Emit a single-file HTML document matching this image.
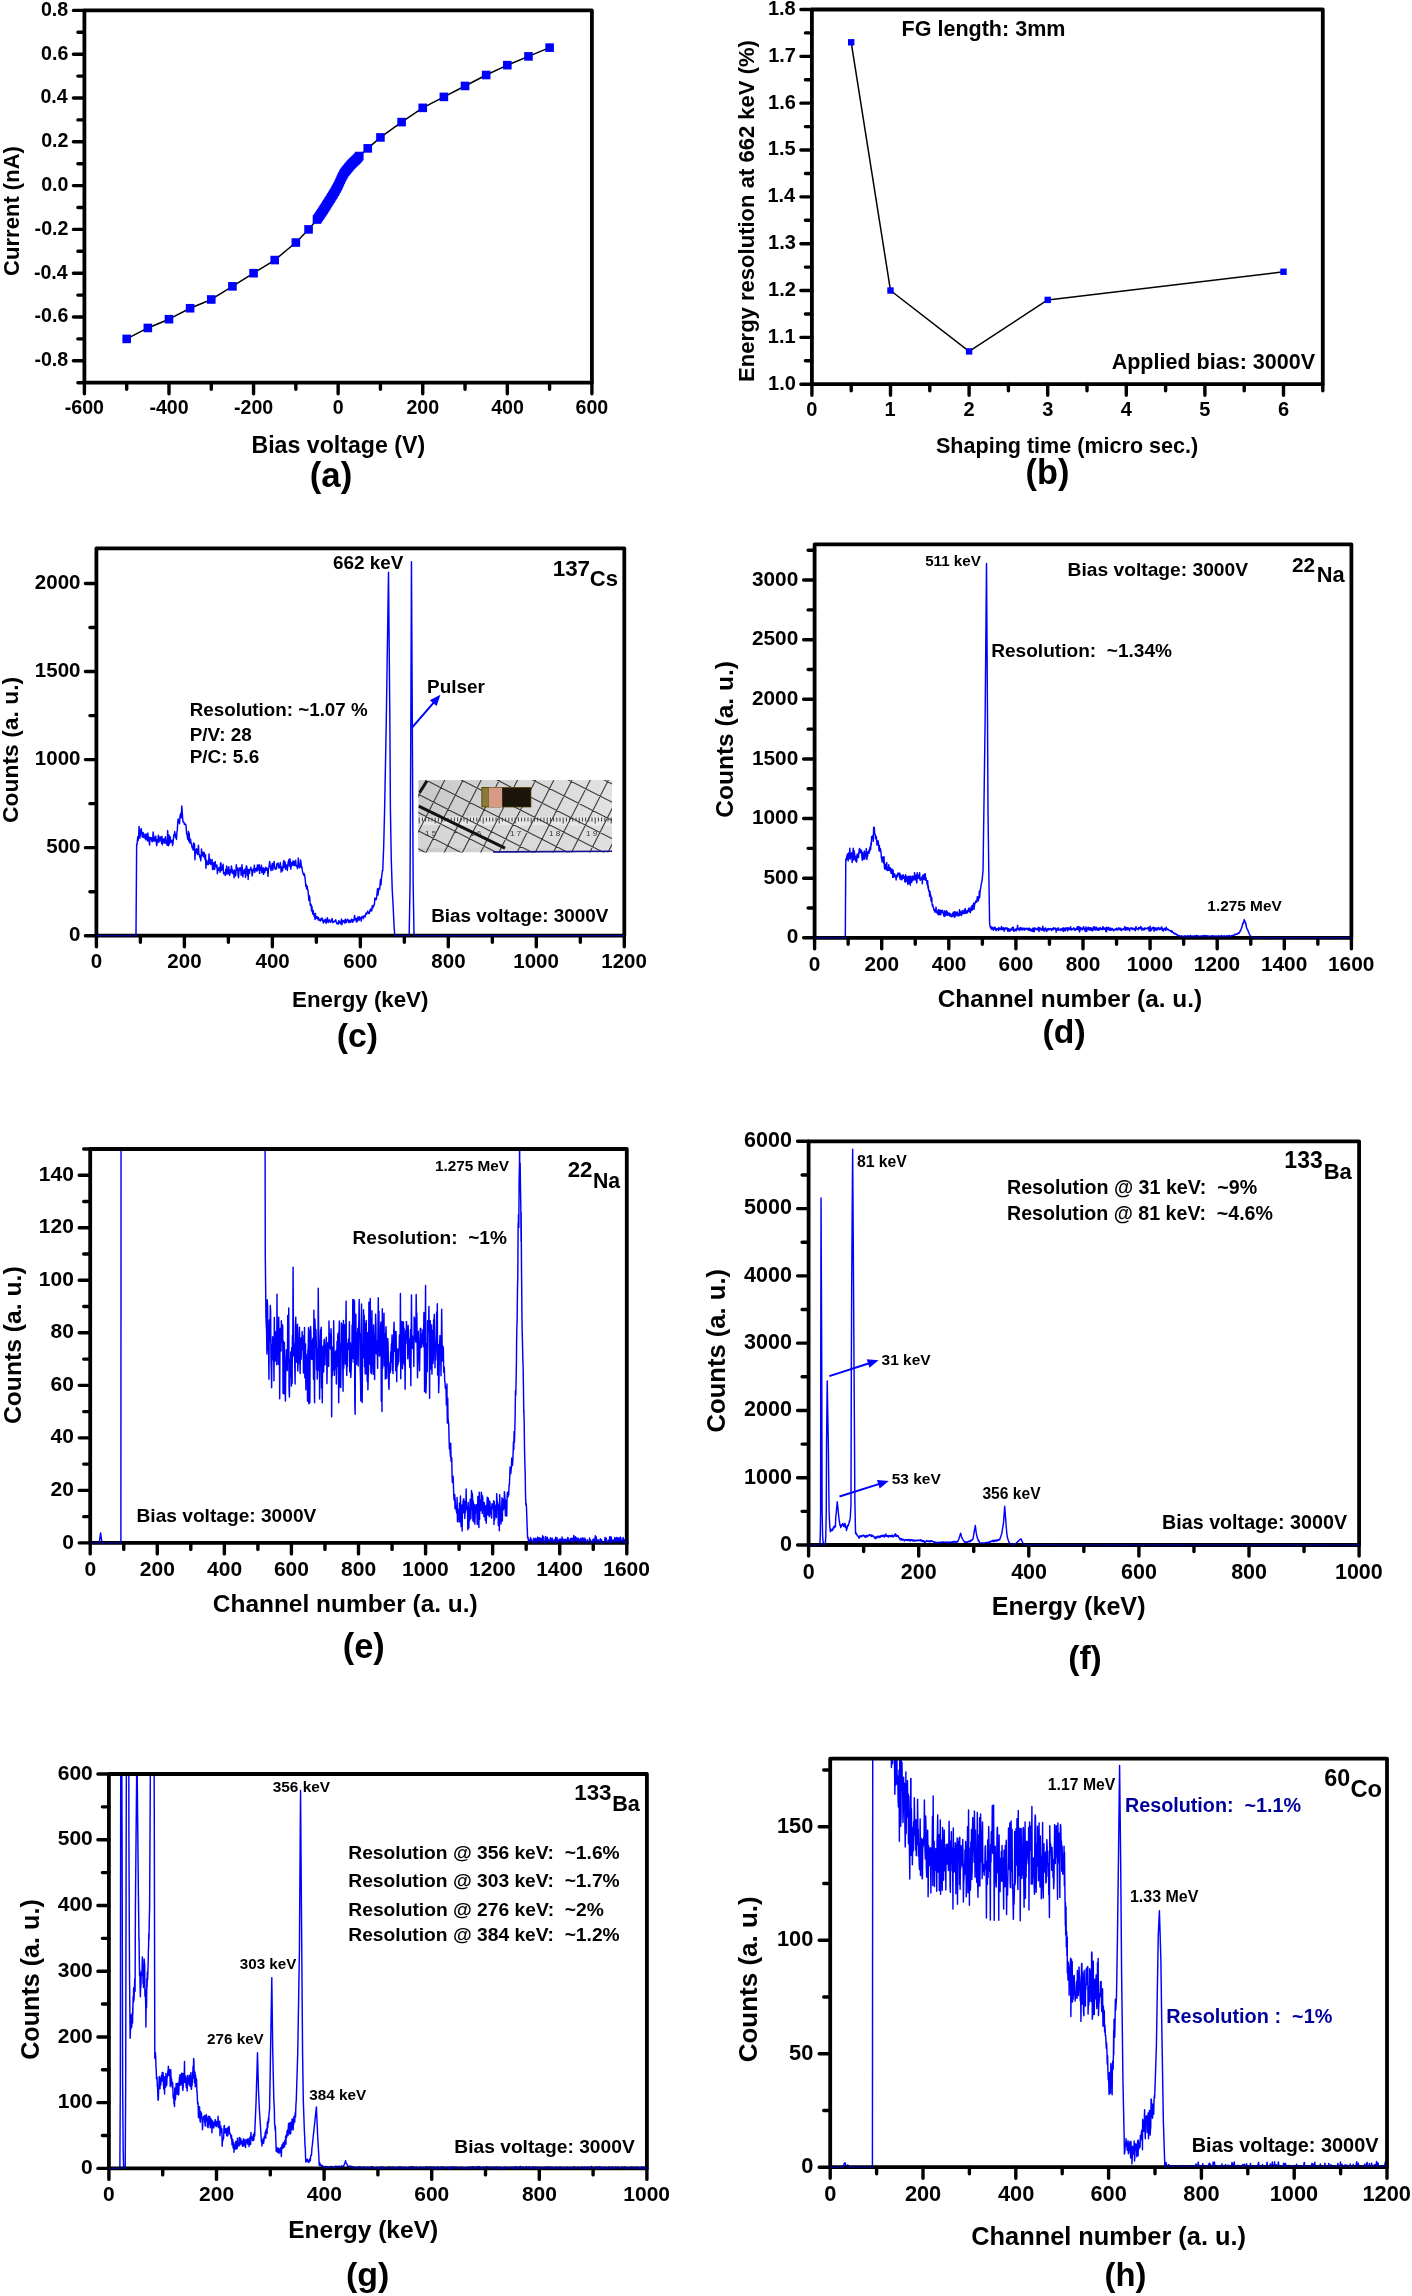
<!DOCTYPE html>
<html><head><meta charset="utf-8"><style>
html,body{margin:0;padding:0;background:#fff;}
body{width:1412px;height:2296px;overflow:hidden;}
svg{display:block;will-change:transform;}
</style></head><body>
<svg width="1412" height="2296" viewBox="0 0 1412 2296" font-family="'Liberation Sans', sans-serif" font-weight="bold">
<rect width="1412" height="2296" fill="#fff"/>
<path d="M84.40,382.70V393.70 M168.98,382.70V393.70 M253.57,382.70V393.70 M338.15,382.70V393.70 M422.73,382.70V393.70 M507.32,382.70V393.70 M591.90,382.70V393.70 M126.69,382.70V389.20 M211.28,382.70V389.20 M295.86,382.70V389.20 M380.44,382.70V389.20 M465.02,382.70V389.20 M549.61,382.70V389.20 M84.40,360.80H73.40 M84.40,317.00H73.40 M84.40,273.20H73.40 M84.40,229.40H73.40 M84.40,185.60H73.40 M84.40,141.80H73.40 M84.40,98.00H73.40 M84.40,54.20H73.40 M84.40,10.40H73.40 M84.40,382.70H77.90 M84.40,338.90H77.90 M84.40,295.10H77.90 M84.40,251.30H77.90 M84.40,207.50H77.90 M84.40,163.70H77.90 M84.40,119.90H77.90 M84.40,76.10H77.90 M84.40,32.30H77.90" stroke="#000" stroke-width="3.4" stroke-linecap="round" fill="none"/>
<rect x="84.40" y="10.40" width="507.50" height="372.30" stroke="#000" stroke-width="3.8" stroke-linejoin="round" fill="none"/>
<text x="64.80" y="414.40" font-size="19.60" fill="#000" xml:space="preserve">-600</text>
<text x="149.39" y="414.40" font-size="19.60" fill="#000" xml:space="preserve">-400</text>
<text x="233.97" y="414.40" font-size="19.60" fill="#000" xml:space="preserve">-200</text>
<text x="332.71" y="414.40" font-size="19.60" fill="#000" xml:space="preserve">0</text>
<text x="406.44" y="414.40" font-size="19.60" fill="#000" xml:space="preserve">200</text>
<text x="491.22" y="414.40" font-size="19.60" fill="#000" xml:space="preserve">400</text>
<text x="575.59" y="414.40" font-size="19.60" fill="#000" xml:space="preserve">600</text>
<text x="34.43" y="366.20" font-size="19.60" fill="#000" xml:space="preserve">-0.8</text>
<text x="34.53" y="322.40" font-size="19.60" fill="#000" xml:space="preserve">-0.6</text>
<text x="33.93" y="278.60" font-size="19.60" fill="#000" xml:space="preserve">-0.4</text>
<text x="34.61" y="234.80" font-size="19.60" fill="#000" xml:space="preserve">-0.2</text>
<text x="41.16" y="191.00" font-size="19.60" fill="#000" xml:space="preserve">0.0</text>
<text x="41.14" y="147.20" font-size="19.60" fill="#000" xml:space="preserve">0.2</text>
<text x="40.46" y="103.40" font-size="19.60" fill="#000" xml:space="preserve">0.4</text>
<text x="41.06" y="59.60" font-size="19.60" fill="#000" xml:space="preserve">0.6</text>
<text x="40.96" y="15.80" font-size="19.60" fill="#000" xml:space="preserve">0.8</text>
<text x="251.45" y="453.30" font-size="23.17" fill="#000" xml:space="preserve">Bias voltage (V)</text>
<text transform="translate(19.20,275.90) rotate(-90)" x="0" y="0" font-size="22.06" fill="#000" xml:space="preserve">Current (nA)</text>
<text x="309.77" y="487.00" font-size="34.74" fill="#000" xml:space="preserve">(a)</text>
<path d="M126.69,338.90 L147.84,327.95 L168.98,319.19 L190.13,308.24 L211.28,299.48 L232.42,286.34 L253.57,273.20 L274.71,260.06 L295.86,242.54 L308.55,229.40 L317.00,219.55 L317.85,218.29 L318.70,217.03 L319.54,215.78 L320.39,214.52 L321.23,213.27 L322.08,212.01 L322.93,210.76 L323.77,209.46 L324.62,208.11 L325.46,206.76 L326.31,205.42 L327.15,204.07 L328.00,202.73 L328.85,201.38 L329.69,200.03 L330.54,198.68 L331.38,197.33 L332.23,195.97 L333.08,194.62 L333.92,193.26 L334.77,191.73 L335.61,190.20 L336.46,188.67 L337.30,187.13 L338.15,185.60 L339.00,183.68 L339.84,181.77 L340.69,179.85 L341.53,177.94 L342.38,176.37 L343.23,174.81 L344.07,173.24 L344.92,171.95 L345.76,170.93 L346.61,169.91 L347.45,168.88 L348.30,167.86 L349.15,166.84 L349.99,165.82 L350.84,164.79 L351.68,163.97 L352.53,163.15 L353.38,162.33 L354.22,161.51 L355.07,160.69 L355.91,159.87 L356.76,159.05 L357.60,158.23 L358.45,157.13 L359.30,156.03 L367.75,148.37 L380.44,137.42 L401.59,122.09 L422.73,107.86 L443.88,96.90 L465.02,85.96 L486.17,75.00 L507.32,65.15 L528.46,56.39 L549.61,47.63" stroke="#000" stroke-width="1.5" fill="none" stroke-linejoin="round" />
<g fill="#0000ff"><rect x="122.39" y="334.60" width="8.6" height="8.6"/><rect x="143.54" y="323.65" width="8.6" height="8.6"/><rect x="164.68" y="314.89" width="8.6" height="8.6"/><rect x="185.83" y="303.94" width="8.6" height="8.6"/><rect x="206.97" y="295.18" width="8.6" height="8.6"/><rect x="228.12" y="282.04" width="8.6" height="8.6"/><rect x="249.27" y="268.90" width="8.6" height="8.6"/><rect x="270.41" y="255.76" width="8.6" height="8.6"/><rect x="291.56" y="238.24" width="8.6" height="8.6"/><rect x="304.25" y="225.10" width="8.6" height="8.6"/><rect x="312.70" y="215.25" width="8.6" height="8.6"/><rect x="313.55" y="213.99" width="8.6" height="8.6"/><rect x="314.40" y="212.73" width="8.6" height="8.6"/><rect x="315.24" y="211.48" width="8.6" height="8.6"/><rect x="316.09" y="210.22" width="8.6" height="8.6"/><rect x="316.93" y="208.97" width="8.6" height="8.6"/><rect x="317.78" y="207.71" width="8.6" height="8.6"/><rect x="318.62" y="206.46" width="8.6" height="8.6"/><rect x="319.47" y="205.16" width="8.6" height="8.6"/><rect x="320.32" y="203.81" width="8.6" height="8.6"/><rect x="321.16" y="202.46" width="8.6" height="8.6"/><rect x="322.01" y="201.12" width="8.6" height="8.6"/><rect x="322.85" y="199.77" width="8.6" height="8.6"/><rect x="323.70" y="198.43" width="8.6" height="8.6"/><rect x="324.55" y="197.08" width="8.6" height="8.6"/><rect x="325.39" y="195.73" width="8.6" height="8.6"/><rect x="326.24" y="194.38" width="8.6" height="8.6"/><rect x="327.08" y="193.03" width="8.6" height="8.6"/><rect x="327.93" y="191.67" width="8.6" height="8.6"/><rect x="328.78" y="190.32" width="8.6" height="8.6"/><rect x="329.62" y="188.96" width="8.6" height="8.6"/><rect x="330.47" y="187.43" width="8.6" height="8.6"/><rect x="331.31" y="185.90" width="8.6" height="8.6"/><rect x="332.16" y="184.37" width="8.6" height="8.6"/><rect x="333.00" y="182.83" width="8.6" height="8.6"/><rect x="333.85" y="181.30" width="8.6" height="8.6"/><rect x="334.70" y="179.38" width="8.6" height="8.6"/><rect x="335.54" y="177.47" width="8.6" height="8.6"/><rect x="336.39" y="175.55" width="8.6" height="8.6"/><rect x="337.23" y="173.63" width="8.6" height="8.6"/><rect x="338.08" y="172.07" width="8.6" height="8.6"/><rect x="338.93" y="170.51" width="8.6" height="8.6"/><rect x="339.77" y="168.94" width="8.6" height="8.6"/><rect x="340.62" y="167.65" width="8.6" height="8.6"/><rect x="341.46" y="166.63" width="8.6" height="8.6"/><rect x="342.31" y="165.60" width="8.6" height="8.6"/><rect x="343.15" y="164.58" width="8.6" height="8.6"/><rect x="344.00" y="163.56" width="8.6" height="8.6"/><rect x="344.85" y="162.54" width="8.6" height="8.6"/><rect x="345.69" y="161.52" width="8.6" height="8.6"/><rect x="346.54" y="160.49" width="8.6" height="8.6"/><rect x="347.38" y="159.67" width="8.6" height="8.6"/><rect x="348.23" y="158.85" width="8.6" height="8.6"/><rect x="349.07" y="158.03" width="8.6" height="8.6"/><rect x="349.92" y="157.21" width="8.6" height="8.6"/><rect x="350.77" y="156.39" width="8.6" height="8.6"/><rect x="351.61" y="155.57" width="8.6" height="8.6"/><rect x="352.46" y="154.75" width="8.6" height="8.6"/><rect x="353.30" y="153.93" width="8.6" height="8.6"/><rect x="354.15" y="152.83" width="8.6" height="8.6"/><rect x="355.00" y="151.73" width="8.6" height="8.6"/><rect x="363.45" y="144.07" width="8.6" height="8.6"/><rect x="376.14" y="133.12" width="8.6" height="8.6"/><rect x="397.29" y="117.79" width="8.6" height="8.6"/><rect x="418.43" y="103.56" width="8.6" height="8.6"/><rect x="439.58" y="92.60" width="8.6" height="8.6"/><rect x="460.72" y="81.66" width="8.6" height="8.6"/><rect x="481.87" y="70.70" width="8.6" height="8.6"/><rect x="503.02" y="60.85" width="8.6" height="8.6"/><rect x="524.16" y="52.09" width="8.6" height="8.6"/><rect x="545.31" y="43.33" width="8.6" height="8.6"/></g>
<path d="M811.90,384.20V395.20 M890.50,384.20V395.20 M969.10,384.20V395.20 M1047.70,384.20V395.20 M1126.30,384.20V395.20 M1204.90,384.20V395.20 M1283.50,384.20V395.20 M851.20,384.20V390.70 M929.80,384.20V390.70 M1008.40,384.20V390.70 M1087.00,384.20V390.70 M1165.60,384.20V390.70 M1244.20,384.20V390.70 M1322.80,384.20V390.70 M811.90,384.20H800.90 M811.90,337.36H800.90 M811.90,290.53H800.90 M811.90,243.69H800.90 M811.90,196.85H800.90 M811.90,150.01H800.90 M811.90,103.17H800.90 M811.90,56.34H800.90 M811.90,9.50H800.90 M811.90,360.78H805.40 M811.90,313.94H805.40 M811.90,267.11H805.40 M811.90,220.27H805.40 M811.90,173.43H805.40 M811.90,126.59H805.40 M811.90,79.76H805.40 M811.90,32.92H805.40" stroke="#000" stroke-width="3.4" stroke-linecap="round" fill="none"/>
<rect x="811.90" y="9.50" width="510.90" height="374.70" stroke="#000" stroke-width="3.8" stroke-linejoin="round" fill="none"/>
<text x="806.35" y="415.80" font-size="20.00" fill="#000" xml:space="preserve">0</text>
<text x="884.59" y="415.80" font-size="20.00" fill="#000" xml:space="preserve">1</text>
<text x="963.59" y="415.80" font-size="20.00" fill="#000" xml:space="preserve">2</text>
<text x="1042.27" y="415.80" font-size="20.00" fill="#000" xml:space="preserve">3</text>
<text x="1120.64" y="415.80" font-size="20.00" fill="#000" xml:space="preserve">4</text>
<text x="1199.31" y="415.80" font-size="20.00" fill="#000" xml:space="preserve">5</text>
<text x="1277.93" y="415.80" font-size="20.00" fill="#000" xml:space="preserve">6</text>
<text x="768.12" y="389.60" font-size="20.00" fill="#000" xml:space="preserve">1.0</text>
<text x="767.85" y="342.76" font-size="20.00" fill="#000" xml:space="preserve">1.1</text>
<text x="768.10" y="295.93" font-size="20.00" fill="#000" xml:space="preserve">1.2</text>
<text x="768.02" y="249.09" font-size="20.00" fill="#000" xml:space="preserve">1.3</text>
<text x="767.40" y="202.25" font-size="20.00" fill="#000" xml:space="preserve">1.4</text>
<text x="767.85" y="155.41" font-size="20.00" fill="#000" xml:space="preserve">1.5</text>
<text x="768.02" y="108.57" font-size="20.00" fill="#000" xml:space="preserve">1.6</text>
<text x="768.18" y="61.74" font-size="20.00" fill="#000" xml:space="preserve">1.7</text>
<text x="767.91" y="14.90" font-size="20.00" fill="#000" xml:space="preserve">1.8</text>
<text x="935.98" y="452.90" font-size="21.55" fill="#000" xml:space="preserve">Shaping time (micro sec.)</text>
<text transform="translate(753.50,381.88) rotate(-90)" x="0" y="0" font-size="22.06" fill="#000" xml:space="preserve">Energy resolution at 662 keV (%)</text>
<text x="1025.59" y="484.10" font-size="34.32" fill="#000" xml:space="preserve">(b)</text>
<text x="901.56" y="35.90" font-size="21.54" fill="#000" xml:space="preserve">FG length: 3mm</text>
<text x="1111.66" y="368.80" font-size="21.54" fill="#000" xml:space="preserve">Applied bias: 3000V</text>
<path d="M851.20,42.29 L890.50,290.53 L969.10,351.41 L1047.70,299.89 L1283.50,271.79" stroke="#000" stroke-width="1.5" fill="none" stroke-linejoin="round" />
<g fill="#0000ff"><rect x="848.00" y="39.09" width="6.4" height="6.4"/><rect x="887.30" y="287.33" width="6.4" height="6.4"/><rect x="965.90" y="348.21" width="6.4" height="6.4"/><rect x="1044.50" y="296.69" width="6.4" height="6.4"/><rect x="1280.30" y="268.59" width="6.4" height="6.4"/></g>
<path d="M96.40,935.70 L96.84,935.70 L97.28,935.70 L97.72,935.70 L98.16,935.70 L98.60,935.70 L99.04,935.70 L99.48,935.70 L99.92,935.70 L100.36,935.70 L100.80,935.70 L101.24,935.70 L101.68,935.70 L102.12,935.70 L102.56,935.70 L103.00,935.70 L103.44,935.70 L103.88,935.70 L104.32,935.70 L104.76,935.70 L105.20,935.70 L105.64,935.70 L106.08,935.70 L106.52,935.70 L106.96,935.70 L107.40,935.70 L107.84,935.70 L108.28,935.70 L108.72,935.70 L109.16,935.70 L109.60,935.70 L110.04,935.70 L110.48,935.70 L110.92,935.70 L111.36,935.70 L111.80,935.70 L112.24,935.70 L112.68,935.70 L113.12,935.70 L113.56,935.70 L114.00,935.70 L114.44,935.70 L114.88,935.70 L115.32,935.70 L115.76,935.70 L116.20,935.70 L116.64,935.70 L117.08,935.70 L117.52,935.70 L117.96,935.70 L118.40,935.70 L118.84,935.70 L119.28,935.70 L119.72,935.70 L120.16,935.70 L120.60,935.70 L121.04,935.70 L121.48,935.70 L121.92,935.70 L122.36,935.70 L122.80,935.70 L123.23,935.70 L123.67,935.70 L124.11,935.70 L124.55,935.70 L124.99,935.70 L125.43,935.70 L125.87,935.70 L126.31,935.70 L126.75,935.70 L127.19,935.70 L127.63,935.70 L128.07,935.70 L128.51,935.70 L128.95,935.70 L129.39,935.70 L129.83,935.70 L130.27,935.70 L130.71,935.70 L131.15,935.70 L131.59,935.70 L132.03,935.70 L132.47,935.70 L132.91,935.70 L133.35,935.70 L133.79,935.70 L134.23,935.70 L134.67,935.70 L135.11,935.70 L135.33,935.70 L135.55,935.70 L135.99,935.70 L136.43,874.66 L136.65,844.13 L136.87,845.24 L137.31,841.60 L137.75,836.72 L138.19,840.49 L138.63,836.46 L139.07,826.48 L139.51,830.68 L139.95,838.29 L140.39,832.99 L140.83,830.88 L141.27,828.68 L141.71,833.18 L142.15,836.12 L142.59,837.22 L143.03,832.38 L143.47,834.02 L143.91,837.53 L144.35,836.67 L144.79,837.90 L145.23,833.99 L145.67,839.68 L146.11,835.44 L146.55,834.25 L146.99,835.80 L147.43,840.91 L147.87,832.95 L148.31,840.68 L148.75,836.73 L149.19,841.30 L149.63,845.05 L150.07,837.78 L150.51,837.61 L150.95,839.03 L151.39,837.78 L151.83,841.28 L152.27,841.67 L152.71,839.62 L153.15,831.96 L153.59,836.09 L154.03,841.11 L154.47,837.16 L154.91,841.07 L155.35,841.06 L155.79,836.24 L156.23,841.43 L156.67,845.75 L157.11,842.96 L157.55,839.34 L157.99,839.26 L158.43,835.18 L158.87,842.47 L159.31,837.16 L159.75,838.33 L160.19,840.50 L160.63,836.91 L161.07,838.22 L161.51,843.27 L161.95,836.17 L162.39,844.68 L162.83,839.99 L163.27,840.25 L163.71,838.74 L164.15,843.02 L164.59,840.52 L165.03,840.95 L165.47,836.80 L165.91,843.46 L166.35,840.30 L166.79,841.57 L167.23,845.32 L167.67,830.60 L168.11,840.65 L168.55,845.80 L168.99,835.05 L169.43,844.12 L169.87,838.73 L170.31,836.84 L170.75,842.35 L171.19,841.47 L171.63,841.80 L172.07,840.21 L172.51,845.45 L172.95,843.73 L173.39,839.37 L173.83,834.69 L174.27,835.91 L174.71,831.51 L175.15,834.19 L175.59,837.55 L176.02,834.91 L176.46,839.41 L176.90,832.48 L177.34,829.90 L177.78,821.92 L178.22,818.98 L178.66,822.46 L179.10,821.18 L179.54,823.72 L179.98,816.49 L180.42,814.49 L180.86,813.23 L181.30,817.89 L181.74,805.92 L182.18,811.02 L182.62,818.11 L183.06,821.63 L183.50,822.54 L183.94,822.18 L184.38,824.40 L184.82,823.95 L185.26,824.38 L185.70,824.06 L186.14,826.94 L186.58,833.77 L187.02,833.86 L187.46,837.81 L187.90,839.58 L188.34,831.29 L188.78,841.14 L189.22,833.13 L189.66,842.77 L190.10,841.36 L190.54,839.12 L190.98,843.78 L191.42,843.24 L191.86,846.32 L192.30,847.94 L192.74,847.63 L193.18,850.13 L193.62,842.87 L194.06,850.00 L194.50,843.92 L194.94,859.83 L195.38,850.94 L195.82,849.58 L196.26,853.07 L196.70,848.82 L197.14,850.92 L197.58,854.58 L198.02,852.69 L198.46,845.14 L198.90,854.20 L199.34,854.39 L199.78,857.24 L200.22,855.66 L200.66,860.79 L201.10,857.48 L201.54,848.94 L201.98,853.95 L202.42,855.73 L202.86,854.55 L203.30,852.33 L203.74,856.96 L204.18,852.44 L204.62,856.10 L205.06,859.43 L205.50,854.63 L205.94,868.29 L206.38,862.73 L206.82,860.29 L207.26,864.42 L207.70,862.25 L208.14,864.11 L208.58,864.45 L209.02,853.87 L209.46,860.89 L209.90,863.38 L210.34,859.28 L210.78,864.56 L211.22,861.26 L211.66,863.26 L212.10,859.50 L212.54,869.48 L212.98,862.84 L213.42,865.15 L213.86,869.47 L214.30,862.73 L214.74,869.11 L215.18,861.56 L215.62,865.31 L216.06,865.02 L216.50,867.21 L216.94,864.92 L217.38,873.81 L217.82,868.06 L218.26,870.51 L218.70,867.97 L219.14,869.26 L219.58,867.49 L220.02,872.24 L220.46,864.09 L220.90,862.70 L221.34,870.50 L221.78,869.97 L222.22,869.11 L222.66,866.19 L223.10,864.32 L223.54,873.87 L223.98,872.13 L224.42,873.56 L224.86,873.78 L225.30,875.45 L225.74,869.40 L226.18,874.11 L226.62,866.06 L227.06,867.94 L227.50,873.90 L227.94,873.97 L228.38,872.76 L228.81,866.63 L229.25,873.47 L229.69,875.42 L230.13,871.02 L230.57,869.72 L231.01,872.85 L231.45,865.92 L231.89,870.10 L232.33,869.45 L232.77,873.42 L233.21,870.93 L233.65,871.28 L234.09,877.71 L234.53,869.91 L234.97,876.24 L235.41,870.86 L235.85,875.25 L236.29,864.61 L236.73,869.75 L237.17,868.12 L237.61,867.93 L238.05,874.75 L238.49,877.66 L238.93,871.71 L239.37,867.97 L239.81,870.41 L240.25,868.29 L240.69,867.82 L241.13,875.21 L241.57,869.78 L242.01,864.66 L242.45,872.38 L242.89,876.82 L243.33,871.33 L243.77,872.03 L244.21,869.34 L244.65,873.32 L245.09,870.32 L245.53,877.34 L245.97,867.98 L246.41,865.73 L246.85,866.61 L247.29,875.17 L247.73,869.57 L248.17,879.59 L248.61,869.57 L249.05,870.58 L249.49,873.37 L249.93,869.22 L250.37,869.79 L250.81,867.29 L251.25,869.72 L251.69,869.33 L252.13,875.95 L252.57,873.49 L253.01,871.34 L253.45,868.92 L253.89,869.80 L254.33,865.12 L254.77,872.34 L255.21,870.35 L255.65,868.77 L256.09,870.21 L256.53,867.92 L256.97,871.15 L257.41,864.97 L257.85,870.26 L258.29,865.79 L258.73,869.26 L259.17,864.52 L259.61,873.37 L260.05,867.41 L260.49,870.29 L260.93,868.18 L261.37,865.16 L261.81,872.30 L262.25,872.82 L262.69,871.76 L263.13,867.83 L263.57,874.40 L264.01,868.21 L264.45,872.44 L264.89,871.94 L265.33,869.49 L265.77,867.11 L266.21,870.18 L266.65,869.71 L267.09,868.26 L267.53,868.92 L267.97,876.33 L268.41,869.30 L268.85,867.64 L269.29,864.43 L269.73,861.42 L270.17,865.65 L270.61,867.42 L271.05,870.61 L271.49,867.27 L271.93,865.05 L272.37,863.48 L272.81,870.11 L273.25,866.56 L273.69,864.69 L274.13,861.36 L274.57,866.32 L275.01,868.76 L275.45,869.16 L275.89,868.06 L276.33,868.92 L276.77,864.23 L277.21,863.41 L277.65,864.43 L278.09,862.90 L278.53,868.00 L278.97,865.32 L279.41,867.67 L279.85,866.26 L280.29,862.49 L280.73,866.37 L281.16,872.09 L281.60,866.95 L282.04,868.34 L282.48,870.79 L282.92,868.47 L283.36,862.89 L283.80,860.55 L284.24,867.34 L284.68,862.57 L285.12,861.95 L285.56,869.28 L286.00,865.68 L286.44,865.64 L286.88,864.89 L287.32,870.43 L287.76,866.43 L288.20,861.91 L288.64,861.20 L289.08,859.34 L289.52,866.16 L289.96,859.09 L290.40,862.86 L290.84,869.23 L291.28,862.43 L291.72,865.91 L292.16,863.08 L292.60,865.00 L293.04,860.77 L293.48,863.74 L293.92,865.40 L294.36,861.37 L294.80,863.57 L295.24,865.64 L295.68,860.19 L296.12,865.51 L296.56,866.18 L297.00,865.81 L297.44,868.72 L297.88,865.74 L298.32,857.96 L298.76,866.76 L299.20,864.06 L299.64,867.86 L300.08,866.51 L300.52,859.96 L300.96,862.18 L301.40,867.20 L301.84,866.65 L302.28,870.65 L302.72,871.90 L303.16,873.68 L303.60,875.00 L304.04,873.40 L304.48,874.68 L304.92,877.08 L305.36,881.00 L305.80,886.32 L306.24,884.81 L306.68,888.99 L307.12,886.17 L307.56,888.95 L308.00,890.42 L308.44,895.04 L308.88,900.41 L309.32,895.80 L309.76,897.40 L310.20,905.55 L310.64,904.17 L311.08,904.18 L311.52,910.87 L311.96,906.48 L312.40,911.64 L312.84,914.08 L313.28,910.76 L313.72,913.82 L314.16,916.56 L314.60,914.32 L315.04,919.42 L315.48,913.50 L315.92,918.20 L316.36,916.75 L316.80,918.20 L317.24,917.22 L317.68,916.87 L318.12,919.91 L318.56,917.76 L319.00,919.53 L319.44,920.24 L319.88,919.63 L320.32,920.93 L320.76,920.71 L321.20,918.17 L321.64,919.94 L322.08,918.10 L322.52,919.27 L322.96,921.56 L323.40,922.96 L323.84,921.26 L324.28,919.95 L324.72,920.44 L325.16,921.78 L325.60,919.13 L326.04,923.24 L326.48,922.58 L326.92,920.62 L327.36,917.68 L327.80,920.33 L328.24,922.45 L328.68,920.20 L329.12,920.13 L329.56,919.83 L330.00,921.83 L330.44,922.45 L330.88,921.20 L331.32,920.83 L331.76,919.21 L332.20,918.58 L332.64,922.65 L333.08,922.35 L333.52,921.70 L333.96,921.97 L334.39,920.92 L334.83,920.92 L335.27,921.25 L335.71,919.71 L336.15,921.84 L336.59,923.10 L337.03,923.82 L337.47,923.07 L337.91,923.09 L338.35,924.28 L338.79,920.67 L339.23,921.35 L339.67,922.21 L340.11,922.87 L340.55,923.85 L340.99,922.92 L341.43,918.99 L341.87,924.75 L342.31,921.41 L342.75,920.56 L343.19,921.37 L343.63,921.97 L344.07,920.38 L344.51,923.00 L344.95,920.58 L345.39,919.28 L345.83,922.77 L346.27,922.41 L346.71,920.99 L347.15,919.71 L347.59,919.16 L348.03,920.06 L348.47,921.97 L348.91,922.57 L349.35,920.55 L349.79,920.27 L350.23,922.41 L350.67,920.67 L351.11,920.23 L351.55,919.13 L351.99,922.07 L352.43,919.75 L352.87,922.24 L353.31,921.10 L353.75,920.54 L354.19,918.14 L354.63,915.36 L355.07,919.80 L355.51,919.34 L355.95,918.47 L356.39,921.92 L356.83,918.62 L357.27,921.55 L357.71,917.10 L358.15,917.28 L358.59,918.61 L359.03,920.51 L359.47,916.61 L359.91,918.67 L360.35,918.80 L360.79,917.80 L361.23,921.13 L361.67,917.50 L362.11,916.33 L362.55,917.11 L362.99,917.15 L363.43,918.67 L363.87,915.80 L364.31,916.26 L364.75,916.31 L365.19,916.92 L365.63,914.18 L366.07,913.14 L366.51,914.25 L366.95,913.01 L367.39,911.90 L367.83,911.06 L368.27,913.11 L368.71,913.54 L369.15,913.56 L369.59,912.12 L370.03,910.46 L370.47,909.06 L370.91,910.98 L371.35,909.22 L371.79,910.80 L372.23,905.68 L372.67,908.31 L373.11,905.62 L373.55,906.68 L373.99,904.64 L374.43,904.32 L374.87,897.90 L375.31,899.68 L375.75,899.35 L376.19,899.68 L376.63,897.41 L377.07,893.06 L377.51,888.82 L377.95,895.02 L378.39,892.26 L378.83,888.61 L379.27,888.06 L379.71,889.11 L380.15,882.82 L380.59,879.46 L381.03,884.67 L381.47,878.31 L381.91,874.81 L382.35,870.56 L382.79,870.66 L383.23,857.96 L383.67,847.43 L384.11,829.61 L384.55,811.78 L384.63,808.21 L384.99,789.82 L385.43,766.83 L385.87,743.84 L386.22,725.45 L386.31,719.56 L386.75,690.09 L387.18,660.63 L387.62,631.17 L388.06,601.71 L388.50,572.25 L388.94,620.12 L389.38,668.00 L389.82,715.87 L389.91,725.45 L390.26,785.64 L390.40,808.21 L390.70,826.57 L391.14,852.80 L391.23,858.04 L391.58,869.13 L392.02,882.99 L392.24,889.92 L392.46,893.96 L392.90,902.04 L393.21,907.70 L393.34,910.61 L393.78,920.29 L394.00,925.13 L394.22,928.07 L394.66,933.94 L394.80,935.70 L395.10,935.70 L395.54,935.70 L395.98,935.70 L396.42,935.70 L396.86,935.70 L397.30,935.70 L397.74,935.70 L398.18,935.70 L398.62,935.70 L399.06,935.70 L399.50,935.70 L399.94,935.70 L400.38,935.70 L400.82,935.70 L401.26,935.70 L401.70,935.70 L402.14,935.70 L402.58,935.70 L403.02,935.70 L403.46,935.70 L403.90,935.70 L404.34,935.70 L404.78,935.70 L405.22,935.70 L405.66,935.70 L406.10,935.70 L406.54,935.70 L406.98,935.70 L407.42,935.70 L407.86,935.70 L408.30,935.70 L408.74,935.70 L409.18,935.70 L409.62,909.29 L410.06,882.87 L410.50,793.65 L410.72,749.04 L410.94,693.94 L411.38,583.73 L411.47,561.68 L411.82,629.81 L412.26,714.98 L412.44,749.04 L412.70,799.23 L413.14,882.87 L413.58,909.29 L414.02,935.70 L414.46,935.70 L414.90,935.70 L415.34,935.70 L415.78,935.70 L416.22,935.70 L416.66,935.70 L417.10,935.70 L417.54,935.70 L417.98,935.70 L418.42,935.70 L418.86,935.70 L419.30,935.70 L419.74,935.70 L420.18,935.70 L420.62,935.70 L421.06,935.70 L421.50,935.70 L421.94,935.70 L422.38,935.70 L422.82,935.70 L423.26,935.70 L423.70,935.70 L424.14,935.70 L424.58,935.70 L425.02,935.70 L425.46,935.70 L425.90,935.70 L426.34,935.70 L426.78,935.70 L427.22,935.70 L427.66,935.70 L428.10,935.70 L428.54,935.70 L428.98,935.70 L429.42,935.70 L429.86,935.70 L430.30,935.70 L430.74,935.70 L431.18,935.70 L431.62,935.70 L432.06,935.70 L432.50,935.70 L432.94,935.70 L433.38,935.70 L433.82,935.70 L434.26,935.70 L434.70,935.70 L435.14,935.70 L435.58,935.70 L436.02,935.70 L436.46,935.70 L436.90,935.70 L437.34,935.70 L437.78,935.70 L438.22,935.70 L438.66,935.70 L439.10,935.70 L439.53,935.70 L439.97,935.70 L440.41,935.70 L440.85,935.70 L441.29,935.70 L441.73,935.70 L442.17,935.70 L442.61,935.70 L443.05,935.70 L443.49,935.70 L443.93,935.70 L444.37,935.70 L444.81,935.70 L445.25,935.70 L445.69,935.70 L446.13,935.70 L446.57,935.70 L447.01,935.70 L447.45,935.70 L447.89,935.70 L448.33,935.70 L448.77,935.70 L449.21,935.70 L449.65,935.70 L450.09,935.70 L450.53,935.70 L450.97,935.70 L451.41,935.70 L451.85,935.70 L452.29,935.70 L452.73,935.70 L453.17,935.70 L453.61,935.70 L454.05,935.70 L454.49,935.70 L454.93,935.70 L455.37,935.70 L455.81,935.70 L456.25,935.70 L456.69,935.70 L457.13,935.70 L457.57,935.70 L458.01,935.70 L458.45,935.70 L458.89,935.70 L459.33,935.70 L459.77,935.70 L460.21,935.70 L460.65,935.70 L461.09,935.70 L461.53,935.70 L461.97,935.70 L462.41,935.70 L462.85,935.70 L463.29,935.70 L463.73,935.70 L464.17,935.70 L464.61,935.70 L465.05,935.70 L465.49,935.70 L465.93,935.70 L466.37,935.70 L466.81,935.70 L467.25,935.70 L467.69,935.70 L468.13,935.70 L468.57,935.70 L469.01,935.70 L469.45,935.70 L469.89,935.70 L470.33,935.70 L470.77,935.70 L471.21,935.70 L471.65,935.70 L472.09,935.70 L472.53,935.70 L472.97,935.70 L473.41,935.70 L473.85,935.70 L474.29,935.70 L474.73,935.70 L475.17,935.70 L475.61,935.70 L476.05,935.70 L476.49,935.70 L476.93,935.70 L477.37,935.70 L477.81,935.70 L478.25,935.70 L478.69,935.70 L479.13,935.70 L479.57,935.70 L480.01,935.70 L480.45,935.70 L480.89,935.70 L481.33,935.70 L481.77,935.70 L482.21,935.70 L482.65,935.70 L483.09,935.70 L483.53,935.70 L483.97,935.70 L484.41,935.70 L484.85,935.70 L485.29,935.70 L485.73,935.70 L486.17,935.70 L486.61,935.70 L487.05,935.70 L487.49,935.70 L487.93,935.70 L488.37,935.70 L488.81,935.70 L489.25,935.70 L489.69,935.70 L490.13,935.70 L490.57,935.70 L491.01,935.70 L491.45,935.70 L491.89,935.70 L492.33,935.70 L492.76,935.70 L493.20,935.70 L493.64,935.70 L494.08,935.70 L494.52,935.70 L494.96,935.70 L495.40,935.70 L495.84,935.70 L496.28,935.70 L496.72,935.70 L497.16,935.70 L497.60,935.70 L498.04,935.70 L498.48,935.70 L498.92,935.70 L499.36,935.70 L499.80,935.70 L500.24,935.70 L500.68,935.70 L501.12,935.70 L501.56,935.70 L502.00,935.70 L502.44,935.70 L502.88,935.70 L503.32,935.70 L503.76,935.70 L504.20,935.70 L504.64,935.70 L505.08,935.70 L505.52,935.70 L505.96,935.70 L506.40,935.70 L506.84,935.70 L507.28,935.70 L507.72,935.70 L508.16,935.70 L508.60,935.70 L509.04,935.70 L509.48,935.70 L509.92,935.70 L510.36,935.70 L510.80,935.70 L511.24,935.70 L511.68,935.70 L512.12,935.70 L512.56,935.70 L513.00,935.70 L513.44,935.70 L513.88,935.70 L514.32,935.70 L514.76,935.70 L515.20,935.70 L515.64,935.70 L516.08,935.70 L516.52,935.70 L516.96,935.70 L517.40,935.70 L517.84,935.70 L518.28,935.70 L518.72,935.70 L519.16,935.70 L519.60,935.70 L520.04,935.70 L520.48,935.70 L520.92,935.70 L521.36,935.70 L521.80,935.70 L522.24,935.70 L522.68,935.70 L523.12,935.70 L523.56,935.70 L524.00,935.70 L524.44,935.70 L524.88,935.70 L525.32,935.70 L525.76,935.70 L526.20,935.70 L526.64,935.70 L527.08,935.70 L527.52,935.70 L527.96,935.70 L528.40,935.70 L528.84,935.70 L529.28,935.70 L529.72,935.70 L530.16,935.70 L530.60,935.70 L531.04,935.70 L531.48,935.70 L531.92,935.70 L532.36,935.70 L532.80,935.70 L533.24,935.70 L533.68,935.70 L534.12,935.70 L534.56,935.70 L535.00,935.70 L535.44,935.70 L535.88,935.70 L536.32,935.70 L536.76,935.70 L537.20,935.70 L537.64,935.70 L538.08,935.70 L538.52,935.70 L538.96,935.70 L539.40,935.70 L539.84,935.70 L540.28,935.70 L540.72,935.70 L541.16,935.70 L541.60,935.70 L542.04,935.70 L542.48,935.70 L542.92,935.70 L543.36,935.70 L543.80,935.70 L544.24,935.70 L544.68,935.70 L545.12,935.70 L545.55,935.70 L545.99,935.70 L546.43,935.70 L546.87,935.70 L547.31,935.70 L547.75,935.70 L548.19,935.70 L548.63,935.70 L549.07,935.70 L549.51,935.70 L549.95,935.70 L550.39,935.70 L550.83,935.70 L551.27,935.70 L551.71,935.70 L552.15,935.70 L552.59,935.70 L553.03,935.70 L553.47,935.70 L553.91,935.70 L554.35,935.70 L554.79,935.70 L555.23,935.70 L555.67,935.70 L556.11,935.70 L556.55,935.70 L556.99,935.70 L557.43,935.70 L557.87,935.70 L558.31,935.70 L558.75,935.70 L559.19,935.70 L559.63,935.70 L560.07,935.70 L560.51,935.70 L560.95,935.70 L561.39,935.70 L561.83,935.70 L562.27,935.70 L562.71,935.70 L563.15,935.70 L563.59,935.70 L564.03,935.70 L564.47,935.70 L564.91,935.70 L565.35,935.70 L565.79,935.70 L566.23,935.70 L566.67,935.70 L567.11,935.70 L567.55,935.70 L567.99,935.70 L568.43,935.70 L568.87,935.70 L569.31,935.70 L569.75,935.70 L570.19,935.70 L570.63,935.70 L571.07,935.70 L571.51,935.70 L571.95,935.70 L572.39,935.70 L572.83,935.70 L573.27,935.70 L573.71,935.70 L574.15,935.70 L574.59,935.70 L575.03,935.70 L575.47,935.70 L575.91,935.70 L576.35,935.70 L576.79,935.70 L577.23,935.70 L577.67,935.70 L578.11,935.70 L578.55,935.70 L578.99,935.70 L579.43,935.70 L579.87,935.70 L580.31,935.70 L580.75,935.70 L581.19,935.70 L581.63,935.70 L582.07,935.70 L582.51,935.70 L582.95,935.70 L583.39,935.70 L583.83,935.70 L584.27,935.70 L584.71,935.70 L585.15,935.70 L585.59,935.70 L586.03,935.70 L586.47,935.70 L586.91,935.70 L587.35,935.70 L587.79,935.70 L588.23,935.70 L588.67,935.70 L589.11,935.70 L589.55,935.70 L589.99,935.70 L590.43,935.70 L590.87,935.70 L591.31,935.70 L591.75,935.70 L592.19,935.70 L592.63,935.70 L593.07,935.70 L593.51,935.70 L593.95,935.70 L594.39,935.70 L594.83,935.70 L595.27,935.70 L595.71,935.70 L596.15,935.70 L596.59,935.70 L597.03,935.70 L597.47,935.70 L597.90,935.70 L598.34,935.70 L598.78,935.70 L599.22,935.70 L599.66,935.70 L600.10,935.70 L600.54,935.70 L600.98,935.70 L601.42,935.70 L601.86,935.70 L602.30,935.70 L602.74,935.70 L603.18,935.70 L603.62,935.70 L604.06,935.70 L604.50,935.70 L604.94,935.70 L605.38,935.70 L605.82,935.70 L606.26,935.70 L606.70,935.70 L607.14,935.70 L607.58,935.70 L608.02,935.70 L608.46,935.70 L608.90,935.70 L609.34,935.70 L609.78,935.70 L610.22,935.70 L610.66,935.70 L611.10,935.70 L611.54,935.70 L611.98,935.70 L612.42,935.70 L612.86,935.70 L613.30,935.70 L613.74,935.70 L614.18,935.70 L614.62,935.70 L615.06,935.70 L615.50,935.70 L615.94,935.70 L616.38,935.70 L616.82,935.70 L617.26,935.70 L617.70,935.70 L618.14,935.70 L618.58,935.70 L619.02,935.70 L619.46,935.70 L619.90,935.70 L620.34,935.70 L620.78,935.70 L621.22,935.70 L621.66,935.70 L622.10,935.70 L622.54,935.70 L622.98,935.70 L623.42,935.70 L623.86,935.70 L624.30,935.70" stroke="#0000ff" stroke-width="1.45" fill="none" stroke-linejoin="round" />
<text x="333.11" y="568.70" font-size="18.87" fill="#000" xml:space="preserve">662 keV</text>
<text x="552.69" y="575.50" font-size="22.41" fill="#000" xml:space="preserve">137</text>
<text x="589.79" y="586.00" font-size="22.07" fill="#000" xml:space="preserve">Cs</text>
<text x="427.03" y="692.50" font-size="18.92" fill="#000" xml:space="preserve">Pulser</text>
<path d="M412.00,727.70L434.52,701.61" stroke="#0000ff" stroke-width="2.0" fill="none"/>
<path d="M440.40,694.80L436.62,706.07L429.81,700.19Z" fill="#0000ff"/>
<text x="189.74" y="715.50" font-size="18.79" fill="#000" xml:space="preserve">Resolution: ~1.07 %</text>
<text x="189.74" y="740.70" font-size="18.90" fill="#000" xml:space="preserve">P/V: 28</text>
<text x="189.73" y="763.20" font-size="18.96" fill="#000" xml:space="preserve">P/C: 5.6</text>
<text x="431.24" y="921.60" font-size="18.87" fill="#000" xml:space="preserve">Bias voltage: 3000V</text>
<defs><clipPath id="clipIn"><rect x="418.2" y="780.1" width="193.8" height="72.4"/></clipPath><linearGradient id="gIn" x1="0" y1="0" x2="1" y2="0"><stop offset="0" stop-color="#c9c9c9"/><stop offset="0.5" stop-color="#d6d6d6"/><stop offset="1" stop-color="#e2e2e2"/></linearGradient></defs>
<g clip-path="url(#clipIn)">
<rect x="418.2" y="780.1" width="193.8" height="72.4" fill="url(#gIn)"/>
<rect x="418.2" y="816.5" width="193.8" height="9" fill="#e9e9e9" opacity="0.9"/>
<rect x="418.2" y="826" width="193.8" height="22" fill="#dcdcdc" opacity="0.6"/>
<path d="M286.0,490.6L820.6,763.0M161.6,979.0L434.0,444.4M278.6,505.0L813.2,777.4M176.0,986.4L448.4,451.8M271.2,519.5L805.8,791.9M190.5,993.8L462.9,459.2M263.9,533.9L798.5,806.3M204.9,1001.1L477.3,466.5M256.5,548.3L791.1,820.7M219.3,1008.5L491.7,473.9M249.2,562.8L783.8,835.2M233.8,1015.8L506.2,481.2M241.8,577.2L776.4,849.6M248.2,1023.2L520.6,488.6M234.5,591.6L769.1,864.0M262.6,1030.5L535.0,495.9M227.1,606.1L761.7,878.5M277.1,1037.9L549.5,503.3M219.8,620.5L754.4,892.9M291.5,1045.2L563.9,510.6M212.4,634.9L747.0,907.3M305.9,1052.6L578.3,518.0M205.1,649.4L739.7,921.8M320.4,1059.9L592.8,525.3M197.7,663.8L732.3,936.2M334.8,1067.3L607.2,532.7M190.3,678.2L724.9,950.6M349.2,1074.7L621.6,540.1M183.0,692.7L717.6,965.1M363.7,1082.0L636.1,547.4M175.6,707.1L710.2,979.5M378.1,1089.4L650.5,554.8M168.3,721.5L702.9,993.9M392.5,1096.7L664.9,562.1M160.9,736.0L695.5,1008.4M407.0,1104.1L679.4,569.5M153.6,750.4L688.2,1022.8M421.4,1111.4L693.8,576.8M146.2,764.8L680.8,1037.2M435.8,1118.8L708.2,584.2M138.9,779.3L673.5,1051.7M450.3,1126.1L722.7,591.5M131.5,793.7L666.1,1066.1M464.7,1133.5L737.1,598.9M124.2,808.1L658.8,1080.5M479.1,1140.8L751.5,606.2M116.8,822.6L651.4,1095.0M493.6,1148.2L766.0,613.6M109.4,837.0L644.0,1109.4M508.0,1155.6L780.4,621.0M102.1,851.4L636.7,1123.8M522.4,1162.9L794.8,628.3" stroke="#1e1e1e" stroke-width="1.1" fill="none" opacity="0.85"/>
<path d="M419.2,817.5V823.5M422.4,817.5V821.5M425.6,817.5V821.5M428.8,817.5V821.5M432.0,817.5V821.5M435.2,817.5V823.5M438.4,817.5V821.5M441.6,817.5V821.5M444.8,817.5V821.5M448.0,817.5V821.5M451.2,817.5V823.5M454.4,817.5V821.5M457.6,817.5V821.5M460.8,817.5V821.5M464.0,817.5V821.5M467.2,817.5V823.5M470.4,817.5V821.5M473.6,817.5V821.5M476.8,817.5V821.5M480.0,817.5V821.5M483.2,817.5V823.5M486.4,817.5V821.5M489.6,817.5V821.5M492.8,817.5V821.5M496.0,817.5V821.5M499.2,817.5V823.5M502.4,817.5V821.5M505.6,817.5V821.5M508.8,817.5V821.5M512.0,817.5V821.5M515.2,817.5V823.5M518.4,817.5V821.5M521.6,817.5V821.5M524.8,817.5V821.5M528.0,817.5V821.5M531.2,817.5V823.5M534.4,817.5V821.5M537.6,817.5V821.5M540.8,817.5V821.5M544.0,817.5V821.5M547.2,817.5V823.5M550.4,817.5V821.5M553.6,817.5V821.5M556.8,817.5V821.5M560.0,817.5V821.5M563.2,817.5V823.5M566.4,817.5V821.5M569.6,817.5V821.5M572.8,817.5V821.5M576.0,817.5V821.5M579.2,817.5V823.5M582.4,817.5V821.5M585.6,817.5V821.5M588.8,817.5V821.5M592.0,817.5V821.5M595.2,817.5V823.5M598.4,817.5V821.5M601.6,817.5V821.5M604.8,817.5V821.5M608.0,817.5V821.5M611.2,817.5V823.5" stroke="#3a3a3a" stroke-width="1.0" fill="none"/>
<text x="425" y="836" font-size="8" font-weight="normal" fill="#333">1 5</text>
<text x="470" y="836" font-size="8" font-weight="normal" fill="#333">1 6</text>
<text x="510" y="836" font-size="8" font-weight="normal" fill="#333">1 7</text>
<text x="549" y="836" font-size="8" font-weight="normal" fill="#333">1 8</text>
<text x="586" y="836" font-size="8" font-weight="normal" fill="#333">1 9</text>
<path d="M418.7,806.2L505,848.2" stroke="#111" stroke-width="3.0" fill="none"/>
<path d="M419.5,792.8L426.9,781" stroke="#111" stroke-width="3.0" fill="none"/>
<rect x="481.3" y="787.0" width="50" height="20.4" fill="#5a4a10"/>
<rect x="482.3" y="788.0" width="6.5" height="18.4" fill="#8a7a3a"/>
<rect x="489" y="787.6" width="13.2" height="19.6" fill="#d79a86"/>
<rect x="502.4" y="788.0" width="28.2" height="18.8" fill="#1a140a"/>
</g>
<path d="M493,852.0L612,851.3" stroke="#101090" stroke-width="1.6" fill="none"/>
<path d="M96.40,935.70V946.70 M184.38,935.70V946.70 M272.37,935.70V946.70 M360.35,935.70V946.70 M448.33,935.70V946.70 M536.32,935.70V946.70 M624.30,935.70V946.70 M140.39,935.70V942.20 M228.38,935.70V942.20 M316.36,935.70V942.20 M404.34,935.70V942.20 M492.33,935.70V942.20 M580.31,935.70V942.20 M96.40,935.70H85.40 M96.40,847.65H85.40 M96.40,759.61H85.40 M96.40,671.56H85.40 M96.40,583.52H85.40 M96.40,891.68H89.90 M96.40,803.63H89.90 M96.40,715.59H89.90 M96.40,627.54H89.90" stroke="#000" stroke-width="3.4" stroke-linecap="round" fill="none"/>
<rect x="96.40" y="548.30" width="527.90" height="387.40" stroke="#000" stroke-width="3.8" stroke-linejoin="round" fill="none"/>
<text x="90.71" y="968.00" font-size="20.50" fill="#000" xml:space="preserve">0</text>
<text x="167.35" y="968.00" font-size="20.50" fill="#000" xml:space="preserve">200</text>
<text x="255.53" y="968.00" font-size="20.50" fill="#000" xml:space="preserve">400</text>
<text x="343.29" y="968.00" font-size="20.50" fill="#000" xml:space="preserve">600</text>
<text x="431.33" y="968.00" font-size="20.50" fill="#000" xml:space="preserve">800</text>
<text x="513.29" y="968.00" font-size="20.50" fill="#000" xml:space="preserve">1000</text>
<text x="601.27" y="968.00" font-size="20.50" fill="#000" xml:space="preserve">1200</text>
<text x="69.04" y="941.10" font-size="20.50" fill="#000" xml:space="preserve">0</text>
<text x="46.24" y="853.05" font-size="20.50" fill="#000" xml:space="preserve">500</text>
<text x="34.84" y="765.01" font-size="20.50" fill="#000" xml:space="preserve">1000</text>
<text x="34.84" y="676.96" font-size="20.50" fill="#000" xml:space="preserve">1500</text>
<text x="34.84" y="588.92" font-size="20.50" fill="#000" xml:space="preserve">2000</text>
<defs><clipPath id="ov1"><rect x="96.40" y="933.80" width="527.90" height="3.8"/></clipPath></defs>
<path clip-path="url(#ov1)" d="M96.4,935.7 L96.8,935.7 L97.3,935.7 L97.7,935.7 L98.2,935.7 L98.6,935.7 L99.0,935.7 L99.5,935.7 L99.9,935.7 L100.4,935.7 L100.8,935.7 L101.2,935.7 L101.7,935.7 L102.1,935.7 L102.6,935.7 L103.0,935.7 L103.4,935.7 L103.9,935.7 L104.3,935.7 L104.8,935.7 L105.2,935.7 L105.6,935.7 L106.1,935.7 L106.5,935.7 L107.0,935.7 L107.4,935.7 L107.8,935.7 L108.3,935.7 L108.7,935.7 L109.2,935.7 L109.6,935.7 L110.0,935.7 L110.5,935.7 L110.9,935.7 L111.4,935.7 L111.8,935.7 L112.2,935.7 L112.7,935.7 L113.1,935.7 L113.6,935.7 L114.0,935.7 L114.4,935.7 L114.9,935.7 L115.3,935.7 L115.8,935.7 L116.2,935.7 L116.6,935.7 L117.1,935.7 L117.5,935.7 L118.0,935.7 L118.4,935.7 L118.8,935.7 L119.3,935.7 L119.7,935.7 L120.2,935.7 L120.6,935.7 L121.0,935.7 L121.5,935.7 L121.9,935.7 L122.4,935.7 L122.8,935.7 L123.2,935.7 L123.7,935.7 L124.1,935.7 L124.6,935.7 L125.0,935.7 L125.4,935.7 L125.9,935.7 L126.3,935.7 L126.8,935.7 L127.2,935.7 L127.6,935.7 L128.1,935.7 L128.5,935.7 L129.0,935.7 L129.4,935.7 L129.8,935.7 L130.3,935.7 L130.7,935.7 L131.2,935.7 L131.6,935.7 L132.0,935.7 L132.5,935.7 L132.9,935.7 L133.4,935.7 L133.8,935.7 L134.2,935.7 L134.7,935.7 L135.1,935.7 L135.3,935.7 L135.6,935.7 L136.0,935.7 L136.4,874.7M394.2,928.1 L394.7,933.9 L394.8,935.7 L395.1,935.7 L395.5,935.7 L396.0,935.7 L396.4,935.7 L396.9,935.7 L397.3,935.7 L397.7,935.7 L398.2,935.7 L398.6,935.7 L399.1,935.7 L399.5,935.7 L399.9,935.7 L400.4,935.7 L400.8,935.7 L401.3,935.7 L401.7,935.7 L402.1,935.7 L402.6,935.7 L403.0,935.7 L403.5,935.7 L403.9,935.7 L404.3,935.7 L404.8,935.7 L405.2,935.7 L405.7,935.7 L406.1,935.7 L406.5,935.7 L407.0,935.7 L407.4,935.7 L407.9,935.7 L408.3,935.7 L408.7,935.7 L409.2,935.7 L409.6,909.3M413.6,909.3 L414.0,935.7 L414.5,935.7 L414.9,935.7 L415.3,935.7 L415.8,935.7 L416.2,935.7 L416.7,935.7 L417.1,935.7 L417.5,935.7 L418.0,935.7 L418.4,935.7 L418.9,935.7 L419.3,935.7 L419.7,935.7 L420.2,935.7 L420.6,935.7 L421.1,935.7 L421.5,935.7 L421.9,935.7 L422.4,935.7 L422.8,935.7 L423.3,935.7 L423.7,935.7 L424.1,935.7 L424.6,935.7 L425.0,935.7 L425.5,935.7 L425.9,935.7 L426.3,935.7 L426.8,935.7 L427.2,935.7 L427.7,935.7 L428.1,935.7 L428.5,935.7 L429.0,935.7 L429.4,935.7 L429.9,935.7 L430.3,935.7 L430.7,935.7 L431.2,935.7 L431.6,935.7 L432.1,935.7 L432.5,935.7 L432.9,935.7 L433.4,935.7 L433.8,935.7 L434.3,935.7 L434.7,935.7 L435.1,935.7 L435.6,935.7 L436.0,935.7 L436.5,935.7 L436.9,935.7 L437.3,935.7 L437.8,935.7 L438.2,935.7 L438.7,935.7 L439.1,935.7 L439.5,935.7 L440.0,935.7 L440.4,935.7 L440.9,935.7 L441.3,935.7 L441.7,935.7 L442.2,935.7 L442.6,935.7 L443.1,935.7 L443.5,935.7 L443.9,935.7 L444.4,935.7 L444.8,935.7 L445.3,935.7 L445.7,935.7 L446.1,935.7 L446.6,935.7 L447.0,935.7 L447.5,935.7 L447.9,935.7 L448.3,935.7 L448.8,935.7 L449.2,935.7 L449.7,935.7 L450.1,935.7 L450.5,935.7 L451.0,935.7 L451.4,935.7 L451.9,935.7 L452.3,935.7 L452.7,935.7 L453.2,935.7 L453.6,935.7 L454.1,935.7 L454.5,935.7 L454.9,935.7 L455.4,935.7 L455.8,935.7 L456.3,935.7 L456.7,935.7 L457.1,935.7 L457.6,935.7 L458.0,935.7 L458.5,935.7 L458.9,935.7 L459.3,935.7 L459.8,935.7 L460.2,935.7 L460.7,935.7 L461.1,935.7 L461.5,935.7 L462.0,935.7 L462.4,935.7 L462.9,935.7 L463.3,935.7 L463.7,935.7 L464.2,935.7 L464.6,935.7 L465.1,935.7 L465.5,935.7 L465.9,935.7 L466.4,935.7 L466.8,935.7 L467.2,935.7 L467.7,935.7 L468.1,935.7 L468.6,935.7 L469.0,935.7 L469.4,935.7 L469.9,935.7 L470.3,935.7 L470.8,935.7 L471.2,935.7 L471.6,935.7 L472.1,935.7 L472.5,935.7 L473.0,935.7 L473.4,935.7 L473.8,935.7 L474.3,935.7 L474.7,935.7 L475.2,935.7 L475.6,935.7 L476.0,935.7 L476.5,935.7 L476.9,935.7 L477.4,935.7 L477.8,935.7 L478.2,935.7 L478.7,935.7 L479.1,935.7 L479.6,935.7 L480.0,935.7 L480.4,935.7 L480.9,935.7 L481.3,935.7 L481.8,935.7 L482.2,935.7 L482.6,935.7 L483.1,935.7 L483.5,935.7 L484.0,935.7 L484.4,935.7 L484.8,935.7 L485.3,935.7 L485.7,935.7 L486.2,935.7 L486.6,935.7 L487.0,935.7 L487.5,935.7 L487.9,935.7 L488.4,935.7 L488.8,935.7 L489.2,935.7 L489.7,935.7 L490.1,935.7 L490.6,935.7 L491.0,935.7 L491.4,935.7 L491.9,935.7 L492.3,935.7 L492.8,935.7 L493.2,935.7 L493.6,935.7 L494.1,935.7 L494.5,935.7 L495.0,935.7 L495.4,935.7 L495.8,935.7 L496.3,935.7 L496.7,935.7 L497.2,935.7 L497.6,935.7 L498.0,935.7 L498.5,935.7 L498.9,935.7 L499.4,935.7 L499.8,935.7 L500.2,935.7 L500.7,935.7 L501.1,935.7 L501.6,935.7 L502.0,935.7 L502.4,935.7 L502.9,935.7 L503.3,935.7 L503.8,935.7 L504.2,935.7 L504.6,935.7 L505.1,935.7 L505.5,935.7 L506.0,935.7 L506.4,935.7 L506.8,935.7 L507.3,935.7 L507.7,935.7 L508.2,935.7 L508.6,935.7 L509.0,935.7 L509.5,935.7 L509.9,935.7 L510.4,935.7 L510.8,935.7 L511.2,935.7 L511.7,935.7 L512.1,935.7 L512.6,935.7 L513.0,935.7 L513.4,935.7 L513.9,935.7 L514.3,935.7 L514.8,935.7 L515.2,935.7 L515.6,935.7 L516.1,935.7 L516.5,935.7 L517.0,935.7 L517.4,935.7 L517.8,935.7 L518.3,935.7 L518.7,935.7 L519.2,935.7 L519.6,935.7 L520.0,935.7 L520.5,935.7 L520.9,935.7 L521.4,935.7 L521.8,935.7 L522.2,935.7 L522.7,935.7 L523.1,935.7 L523.6,935.7 L524.0,935.7 L524.4,935.7 L524.9,935.7 L525.3,935.7 L525.8,935.7 L526.2,935.7 L526.6,935.7 L527.1,935.7 L527.5,935.7 L528.0,935.7 L528.4,935.7 L528.8,935.7 L529.3,935.7 L529.7,935.7 L530.2,935.7 L530.6,935.7 L531.0,935.7 L531.5,935.7 L531.9,935.7 L532.4,935.7 L532.8,935.7 L533.2,935.7 L533.7,935.7 L534.1,935.7 L534.6,935.7 L535.0,935.7 L535.4,935.7 L535.9,935.7 L536.3,935.7 L536.8,935.7 L537.2,935.7 L537.6,935.7 L538.1,935.7 L538.5,935.7 L539.0,935.7 L539.4,935.7 L539.8,935.7 L540.3,935.7 L540.7,935.7 L541.2,935.7 L541.6,935.7 L542.0,935.7 L542.5,935.7 L542.9,935.7 L543.4,935.7 L543.8,935.7 L544.2,935.7 L544.7,935.7 L545.1,935.7 L545.6,935.7 L546.0,935.7 L546.4,935.7 L546.9,935.7 L547.3,935.7 L547.8,935.7 L548.2,935.7 L548.6,935.7 L549.1,935.7 L549.5,935.7 L550.0,935.7 L550.4,935.7 L550.8,935.7 L551.3,935.7 L551.7,935.7 L552.2,935.7 L552.6,935.7 L553.0,935.7 L553.5,935.7 L553.9,935.7 L554.4,935.7 L554.8,935.7 L555.2,935.7 L555.7,935.7 L556.1,935.7 L556.6,935.7 L557.0,935.7 L557.4,935.7 L557.9,935.7 L558.3,935.7 L558.8,935.7 L559.2,935.7 L559.6,935.7 L560.1,935.7 L560.5,935.7 L561.0,935.7 L561.4,935.7 L561.8,935.7 L562.3,935.7 L562.7,935.7 L563.2,935.7 L563.6,935.7 L564.0,935.7 L564.5,935.7 L564.9,935.7 L565.4,935.7 L565.8,935.7 L566.2,935.7 L566.7,935.7 L567.1,935.7 L567.6,935.7 L568.0,935.7 L568.4,935.7 L568.9,935.7 L569.3,935.7 L569.8,935.7 L570.2,935.7 L570.6,935.7 L571.1,935.7 L571.5,935.7 L571.9,935.7 L572.4,935.7 L572.8,935.7 L573.3,935.7 L573.7,935.7 L574.1,935.7 L574.6,935.7 L575.0,935.7 L575.5,935.7 L575.9,935.7 L576.3,935.7 L576.8,935.7 L577.2,935.7 L577.7,935.7 L578.1,935.7 L578.5,935.7 L579.0,935.7 L579.4,935.7 L579.9,935.7 L580.3,935.7 L580.7,935.7 L581.2,935.7 L581.6,935.7 L582.1,935.7 L582.5,935.7 L582.9,935.7 L583.4,935.7 L583.8,935.7 L584.3,935.7 L584.7,935.7 L585.1,935.7 L585.6,935.7 L586.0,935.7 L586.5,935.7 L586.9,935.7 L587.3,935.7 L587.8,935.7 L588.2,935.7 L588.7,935.7 L589.1,935.7 L589.5,935.7 L590.0,935.7 L590.4,935.7 L590.9,935.7 L591.3,935.7 L591.7,935.7 L592.2,935.7 L592.6,935.7 L593.1,935.7 L593.5,935.7 L593.9,935.7 L594.4,935.7 L594.8,935.7 L595.3,935.7 L595.7,935.7 L596.1,935.7 L596.6,935.7 L597.0,935.7 L597.5,935.7 L597.9,935.7 L598.3,935.7 L598.8,935.7 L599.2,935.7 L599.7,935.7 L600.1,935.7 L600.5,935.7 L601.0,935.7 L601.4,935.7 L601.9,935.7 L602.3,935.7 L602.7,935.7 L603.2,935.7 L603.6,935.7 L604.1,935.7 L604.5,935.7 L604.9,935.7 L605.4,935.7 L605.8,935.7 L606.3,935.7 L606.7,935.7 L607.1,935.7 L607.6,935.7 L608.0,935.7 L608.5,935.7 L608.9,935.7 L609.3,935.7 L609.8,935.7 L610.2,935.7 L610.7,935.7 L611.1,935.7 L611.5,935.7 L612.0,935.7 L612.4,935.7 L612.9,935.7 L613.3,935.7 L613.7,935.7 L614.2,935.7 L614.6,935.7 L615.1,935.7 L615.5,935.7 L615.9,935.7 L616.4,935.7 L616.8,935.7 L617.3,935.7 L617.7,935.7 L618.1,935.7 L618.6,935.7 L619.0,935.7 L619.5,935.7 L619.9,935.7 L620.3,935.7 L620.8,935.7 L621.2,935.7 L621.7,935.7 L622.1,935.7 L622.5,935.7 L623.0,935.7 L623.4,935.7 L623.9,935.7 L624.3,935.7" stroke="#000096" stroke-width="1.2" fill="none"/>
<text x="292.11" y="1007.20" font-size="22.30" fill="#000" xml:space="preserve">Energy (keV)</text>
<text transform="translate(18.40,822.94) rotate(-90)" x="0" y="0" font-size="22.87" fill="#000" xml:space="preserve">Counts (a. u.)</text>
<text x="336.72" y="1047.00" font-size="33.76" fill="#000" xml:space="preserve">(c)</text>
<path d="M814.60,937.80 L814.94,937.80 L815.27,937.80 L815.61,937.80 L815.94,937.80 L816.28,937.80 L816.61,937.80 L816.95,937.80 L817.28,937.80 L817.62,937.80 L817.96,937.80 L818.29,937.80 L818.63,937.80 L818.96,937.80 L819.30,937.80 L819.63,937.80 L819.97,937.80 L820.30,937.80 L820.64,937.80 L820.97,937.80 L821.31,937.80 L821.65,937.80 L821.98,937.80 L822.32,937.80 L822.65,937.80 L822.99,937.80 L823.32,937.80 L823.66,937.80 L823.99,937.68 L824.33,937.56 L824.67,937.45 L825.00,937.35 L825.34,937.45 L825.67,937.56 L826.01,937.68 L826.34,937.80 L826.68,937.80 L827.01,937.80 L827.35,937.80 L827.68,937.80 L828.02,937.80 L828.36,937.80 L828.69,937.80 L829.03,937.80 L829.36,937.80 L829.70,937.80 L830.03,937.80 L830.37,937.80 L830.70,937.80 L831.04,937.80 L831.38,937.80 L831.71,937.80 L832.05,937.80 L832.38,937.80 L832.72,937.80 L833.05,937.80 L833.39,937.80 L833.72,937.80 L834.06,937.80 L834.39,937.80 L834.73,937.80 L835.07,937.80 L835.40,937.80 L835.74,937.80 L836.07,937.80 L836.41,937.80 L836.74,937.80 L837.08,937.80 L837.41,937.80 L837.75,937.80 L838.09,937.80 L838.42,937.80 L838.76,937.80 L839.09,937.80 L839.43,937.80 L839.76,937.80 L840.10,937.80 L840.43,937.80 L840.77,937.80 L841.10,937.80 L841.44,937.80 L841.78,937.80 L842.11,937.80 L842.45,937.80 L842.78,937.80 L843.12,937.80 L843.45,937.80 L843.79,937.80 L844.12,937.80 L844.46,937.80 L844.80,937.80 L844.96,937.80 L845.13,937.80 L845.30,937.80 L845.47,911.57 L845.80,859.10 L846.14,859.96 L846.47,859.56 L846.81,856.04 L847.14,855.50 L847.48,854.08 L847.81,855.50 L848.15,861.02 L848.49,853.53 L848.82,853.92 L849.16,852.27 L849.49,858.10 L849.83,848.21 L850.16,859.27 L850.50,853.10 L850.83,855.22 L851.17,856.87 L851.50,852.76 L851.84,856.19 L852.18,862.50 L852.51,858.93 L852.85,853.81 L853.18,848.20 L853.52,859.85 L853.85,855.24 L854.19,850.61 L854.52,853.24 L854.86,856.30 L855.20,859.57 L855.53,860.68 L855.87,857.41 L856.20,856.20 L856.54,862.09 L856.87,860.33 L857.21,854.03 L857.54,856.25 L857.88,857.32 L858.22,856.21 L858.55,857.50 L858.89,852.06 L859.22,849.84 L859.56,848.50 L859.89,852.81 L860.23,852.72 L860.56,850.49 L860.90,849.65 L861.23,850.53 L861.57,851.35 L861.91,857.17 L862.24,860.22 L862.58,852.47 L862.91,855.54 L863.25,855.45 L863.58,858.08 L863.92,859.40 L864.25,850.94 L864.59,853.90 L864.93,858.72 L865.26,854.18 L865.60,854.47 L865.93,853.82 L866.27,848.48 L866.60,855.61 L866.94,859.53 L867.27,854.74 L867.61,856.22 L867.94,851.77 L868.28,852.17 L868.62,851.06 L868.95,853.32 L869.29,849.50 L869.62,851.81 L869.96,847.02 L870.29,848.25 L870.63,849.52 L870.96,842.70 L871.30,845.29 L871.63,836.58 L871.97,838.51 L872.31,836.72 L872.64,836.29 L872.98,835.16 L873.31,841.38 L873.65,827.23 L873.98,832.81 L874.32,827.55 L874.65,834.30 L874.99,833.61 L875.33,834.97 L875.66,838.88 L876.00,837.28 L876.33,836.47 L876.67,840.96 L877.00,845.27 L877.34,844.34 L877.67,842.59 L878.01,840.62 L878.35,842.69 L878.68,845.53 L879.02,850.77 L879.35,845.56 L879.69,849.46 L880.02,851.33 L880.36,848.66 L880.69,850.63 L881.03,852.03 L881.36,858.28 L881.70,857.61 L882.04,862.03 L882.37,857.18 L882.71,858.73 L883.04,857.02 L883.38,860.26 L883.71,863.05 L884.05,856.67 L884.38,867.08 L884.72,869.00 L885.06,867.15 L885.39,864.11 L885.73,866.96 L886.06,867.52 L886.40,869.79 L886.73,862.53 L887.07,868.92 L887.40,870.53 L887.74,868.05 L888.07,870.32 L888.41,868.95 L888.75,864.73 L889.08,870.14 L889.42,869.30 L889.75,870.50 L889.92,870.14 L890.09,867.42 L890.42,868.57 L890.76,871.37 L891.09,873.36 L891.43,871.43 L891.76,869.03 L892.10,871.74 L892.44,872.37 L892.77,877.39 L893.11,869.89 L893.44,877.13 L893.78,876.86 L894.11,874.67 L894.45,873.86 L894.78,874.15 L895.12,876.70 L895.46,875.62 L895.79,876.58 L896.13,880.02 L896.46,875.93 L896.80,877.28 L897.13,874.40 L897.47,876.09 L897.80,873.24 L898.14,874.12 L898.48,873.73 L898.81,873.06 L899.15,874.61 L899.48,877.09 L899.82,873.15 L900.15,879.46 L900.49,877.21 L900.82,874.96 L901.16,878.20 L901.49,875.67 L901.83,879.82 L902.17,879.19 L902.50,876.37 L902.84,876.01 L903.17,874.79 L903.51,878.26 L903.84,877.36 L904.18,876.56 L904.51,877.07 L904.85,881.86 L905.19,879.99 L905.52,874.72 L905.86,881.94 L906.19,877.05 L906.53,879.93 L906.86,876.22 L907.20,881.03 L907.53,878.92 L907.87,884.49 L908.20,879.32 L908.54,876.45 L908.88,883.33 L909.21,876.20 L909.55,881.18 L909.88,879.39 L910.22,885.30 L910.55,876.33 L910.89,881.46 L911.22,880.53 L911.56,882.45 L911.89,881.65 L912.23,875.96 L912.57,880.30 L912.90,876.54 L913.24,879.34 L913.57,877.91 L913.91,880.14 L914.24,877.62 L914.58,872.61 L914.91,876.95 L915.25,877.30 L915.59,879.87 L915.92,875.88 L916.26,874.91 L916.59,883.01 L916.93,882.12 L917.26,872.82 L917.60,877.24 L917.93,877.99 L918.27,876.79 L918.61,875.33 L918.94,876.08 L919.28,878.77 L919.61,872.61 L919.95,878.02 L920.28,880.32 L920.62,879.41 L920.95,878.21 L921.29,878.81 L921.62,878.24 L921.96,876.83 L922.30,883.77 L922.63,879.63 L922.97,874.93 L923.30,875.90 L923.64,879.18 L923.97,878.97 L924.31,874.16 L924.64,878.38 L924.98,879.62 L925.32,873.77 L925.65,880.17 L925.99,877.88 L926.32,880.30 L926.66,880.54 L926.99,883.62 L927.33,884.68 L927.66,880.77 L928.00,888.20 L928.33,886.06 L928.67,891.05 L929.01,890.12 L929.34,891.03 L929.68,896.33 L930.01,891.57 L930.35,896.18 L930.68,894.71 L931.02,901.00 L931.35,898.68 L931.69,897.47 L932.03,903.38 L932.36,906.02 L932.70,904.72 L933.03,906.30 L933.37,907.89 L933.70,908.64 L934.04,910.40 L934.37,909.49 L934.71,911.14 L935.04,912.17 L935.38,909.36 L935.72,911.31 L936.05,907.10 L936.39,911.83 L936.72,912.85 L937.06,912.73 L937.39,911.30 L937.73,913.36 L938.06,914.53 L938.40,909.67 L938.74,914.73 L939.07,910.01 L939.41,912.45 L939.74,914.58 L940.08,909.93 L940.41,913.21 L940.75,914.65 L941.08,912.86 L941.42,910.82 L941.75,911.91 L942.09,911.73 L942.43,910.19 L942.76,912.89 L943.10,912.67 L943.43,913.75 L943.77,915.90 L944.10,913.73 L944.44,910.79 L944.77,916.53 L945.11,911.36 L945.45,913.24 L945.78,915.27 L946.12,913.66 L946.45,910.81 L946.79,914.82 L947.12,912.57 L947.46,912.04 L947.79,915.50 L948.13,912.97 L948.46,913.17 L948.80,914.92 L949.14,913.01 L949.47,914.81 L949.81,915.22 L950.14,916.36 L950.48,913.69 L950.81,915.10 L951.15,915.36 L951.48,916.38 L951.82,916.79 L952.15,915.87 L952.49,913.39 L952.83,916.00 L953.16,912.29 L953.50,914.05 L953.83,914.51 L954.17,916.81 L954.50,911.63 L954.84,917.29 L955.17,913.92 L955.51,911.89 L955.85,914.93 L956.18,915.64 L956.52,914.43 L956.85,912.76 L957.19,911.91 L957.52,913.08 L957.86,915.79 L958.19,915.03 L958.53,913.44 L958.87,915.85 L959.20,913.99 L959.54,909.67 L959.87,915.19 L960.21,911.30 L960.54,914.78 L960.88,913.66 L961.21,913.10 L961.55,915.47 L961.88,912.95 L962.22,910.43 L962.56,911.33 L962.89,911.25 L963.23,913.77 L963.56,912.52 L963.90,911.81 L964.23,910.82 L964.57,909.49 L964.90,913.46 L965.24,908.53 L965.58,911.89 L965.91,911.67 L966.25,913.22 L966.58,911.03 L966.92,911.16 L967.25,912.82 L967.59,910.96 L967.92,910.06 L968.26,910.87 L968.59,908.55 L968.93,911.68 L969.27,908.02 L969.60,909.84 L969.94,908.65 L970.27,912.59 L970.61,908.75 L970.94,908.91 L971.28,906.85 L971.61,910.61 L971.95,905.64 L972.29,910.05 L972.62,905.33 L972.96,906.52 L973.29,908.86 L973.63,903.09 L973.96,909.33 L974.30,906.52 L974.63,904.93 L974.97,903.45 L975.30,903.18 L975.64,901.15 L975.98,900.99 L976.31,901.02 L976.65,902.21 L976.98,900.21 L977.32,896.76 L977.65,900.48 L977.99,896.93 L978.32,900.96 L978.66,897.20 L979.00,898.55 L979.33,891.13 L979.67,897.29 L980.00,892.75 L980.34,889.58 L980.67,888.05 L981.01,885.83 L981.34,883.29 L981.68,882.94 L982.01,880.86 L982.35,877.58 L982.69,874.30 L983.02,871.02 L983.36,847.50 L983.69,823.97 L983.89,809.85 L984.03,800.15 L984.36,775.89 L984.70,751.64 L985.03,727.38 L985.07,724.95 L985.37,691.13 L985.71,653.56 L986.04,615.98 L986.38,578.41 L986.51,563.38 L986.71,594.65 L987.05,646.77 L987.38,698.89 L987.55,724.95 L987.72,757.61 L987.99,809.85 L988.05,814.98 L988.39,840.62 L988.72,866.25 L989.06,888.22 L989.36,907.99 L989.40,909.98 L989.56,919.91 L989.73,924.68 L990.07,926.00 L990.40,927.55 L990.74,927.90 L991.07,928.21 L991.41,929.23 L991.74,926.76 L992.08,927.16 L992.42,929.05 L992.75,928.01 L993.09,929.14 L993.42,930.37 L993.76,927.68 L994.09,928.40 L994.43,928.64 L994.76,927.02 L995.10,927.29 L995.43,929.45 L995.77,929.94 L996.11,930.76 L996.44,928.79 L996.78,929.20 L997.11,928.43 L997.45,928.80 L997.78,929.50 L998.12,929.24 L998.45,930.44 L998.79,927.56 L999.12,929.39 L999.46,928.21 L999.80,929.53 L1000.13,928.78 L1000.47,928.21 L1000.80,929.15 L1001.14,929.71 L1001.47,926.50 L1001.81,929.09 L1002.14,928.30 L1002.48,928.97 L1002.82,929.69 L1003.15,927.55 L1003.49,928.50 L1003.82,928.56 L1004.16,931.26 L1004.49,928.63 L1004.83,928.06 L1005.16,928.64 L1005.50,929.09 L1005.84,927.72 L1006.17,928.69 L1006.51,928.36 L1006.84,927.89 L1007.18,927.93 L1007.51,931.00 L1007.85,928.63 L1008.18,929.76 L1008.52,931.04 L1008.85,928.70 L1009.19,930.77 L1009.53,929.48 L1009.86,931.36 L1010.20,930.05 L1010.53,929.49 L1010.87,929.03 L1011.20,929.58 L1011.54,929.97 L1011.87,929.96 L1012.21,927.47 L1012.55,929.53 L1012.88,929.15 L1013.22,927.13 L1013.55,930.84 L1013.89,931.18 L1014.22,930.11 L1014.56,929.48 L1014.89,930.25 L1015.23,929.13 L1015.56,929.18 L1015.90,930.68 L1016.24,928.93 L1016.57,930.56 L1016.91,928.38 L1017.24,928.87 L1017.58,925.28 L1017.91,928.26 L1018.25,929.31 L1018.58,928.75 L1018.92,928.95 L1019.26,929.86 L1019.59,930.58 L1019.93,927.98 L1020.26,927.55 L1020.60,929.57 L1020.93,929.37 L1021.27,929.60 L1021.60,928.07 L1021.94,927.87 L1022.27,929.99 L1022.61,929.45 L1022.95,929.65 L1023.28,928.88 L1023.62,928.32 L1023.95,928.01 L1024.29,929.38 L1024.62,930.10 L1024.96,928.55 L1025.29,928.49 L1025.63,929.46 L1025.97,928.93 L1026.30,928.73 L1026.64,928.20 L1026.97,929.03 L1027.31,928.60 L1027.64,928.92 L1027.98,930.08 L1028.31,928.38 L1028.65,929.00 L1028.98,928.02 L1029.32,930.30 L1029.66,929.81 L1029.99,928.76 L1030.33,930.84 L1030.66,929.23 L1031.00,929.55 L1031.33,929.52 L1031.67,929.35 L1032.00,931.37 L1032.34,929.05 L1032.68,929.02 L1033.01,928.03 L1033.35,931.48 L1033.68,928.73 L1034.02,928.15 L1034.35,931.44 L1034.69,928.54 L1035.02,927.97 L1035.36,928.21 L1035.69,928.85 L1036.03,929.46 L1036.37,929.47 L1036.70,929.07 L1037.04,928.66 L1037.37,928.51 L1037.71,929.19 L1038.04,930.38 L1038.38,927.24 L1038.71,929.98 L1039.05,931.44 L1039.38,927.64 L1039.72,928.06 L1040.06,928.90 L1040.39,928.10 L1040.73,928.64 L1041.06,929.94 L1041.40,928.98 L1041.73,930.35 L1042.07,929.76 L1042.40,929.98 L1042.74,926.23 L1043.08,928.01 L1043.41,929.75 L1043.75,928.63 L1044.08,931.27 L1044.42,930.19 L1044.75,928.55 L1045.09,928.12 L1045.42,928.13 L1045.76,928.01 L1046.10,930.76 L1046.43,929.63 L1046.77,931.44 L1047.10,929.25 L1047.44,928.86 L1047.77,929.44 L1048.11,930.04 L1048.44,928.66 L1048.78,928.55 L1049.11,928.96 L1049.45,929.71 L1049.79,929.05 L1050.12,929.01 L1050.46,928.82 L1050.79,928.46 L1051.13,929.12 L1051.46,930.57 L1051.80,929.37 L1052.13,928.72 L1052.47,929.54 L1052.81,928.87 L1053.14,929.79 L1053.48,927.73 L1053.81,928.68 L1054.15,928.95 L1054.48,928.32 L1054.82,928.32 L1055.15,929.00 L1055.49,928.08 L1055.82,928.43 L1056.16,932.08 L1056.50,929.09 L1056.83,930.22 L1057.17,928.90 L1057.50,928.91 L1057.84,929.94 L1058.17,927.71 L1058.51,929.10 L1058.84,930.19 L1059.18,929.52 L1059.52,929.14 L1059.85,929.13 L1060.19,929.89 L1060.52,929.06 L1060.86,930.58 L1061.19,929.53 L1061.53,928.65 L1061.86,929.78 L1062.20,928.44 L1062.53,928.28 L1062.87,929.70 L1063.21,931.44 L1063.54,928.20 L1063.88,927.72 L1064.21,930.72 L1064.55,928.88 L1064.88,928.76 L1065.22,930.74 L1065.55,929.64 L1065.89,927.81 L1066.23,928.86 L1066.56,929.07 L1066.90,927.90 L1067.23,929.68 L1067.57,930.91 L1067.90,927.70 L1068.24,929.87 L1068.57,929.08 L1068.91,927.89 L1069.24,928.78 L1069.58,928.90 L1069.92,929.68 L1070.25,928.47 L1070.59,926.82 L1070.92,929.65 L1071.26,930.19 L1071.59,928.75 L1071.93,929.80 L1072.26,928.93 L1072.60,929.03 L1072.93,928.55 L1073.27,928.85 L1073.61,928.73 L1073.94,927.75 L1074.28,930.04 L1074.61,929.00 L1074.95,928.72 L1075.28,930.29 L1075.62,930.01 L1075.95,929.38 L1076.29,929.59 L1076.63,927.91 L1076.96,928.91 L1077.30,926.75 L1077.63,929.43 L1077.97,929.36 L1078.30,926.75 L1078.64,929.61 L1078.97,926.81 L1079.31,931.44 L1079.64,931.96 L1079.98,927.61 L1080.32,927.42 L1080.65,928.57 L1080.99,929.70 L1081.32,929.18 L1081.66,928.24 L1081.99,928.71 L1082.33,928.06 L1082.66,929.77 L1083.00,928.18 L1083.34,927.72 L1083.67,926.75 L1084.01,928.29 L1084.34,928.30 L1084.68,929.88 L1085.01,930.39 L1085.35,931.35 L1085.68,928.54 L1086.02,926.95 L1086.36,929.11 L1086.69,931.43 L1087.03,928.81 L1087.36,929.22 L1087.70,929.39 L1088.03,927.21 L1088.37,927.74 L1088.70,927.47 L1089.04,929.81 L1089.37,928.63 L1089.71,930.12 L1090.05,927.82 L1090.38,930.13 L1090.72,927.70 L1091.05,928.73 L1091.39,928.75 L1091.72,930.45 L1092.06,928.26 L1092.39,930.85 L1092.73,930.26 L1093.07,929.94 L1093.40,926.87 L1093.74,928.87 L1094.07,929.68 L1094.41,928.44 L1094.74,926.70 L1095.08,929.14 L1095.41,930.06 L1095.75,930.12 L1096.08,929.03 L1096.42,927.26 L1096.76,929.12 L1097.09,929.22 L1097.43,929.99 L1097.76,930.14 L1098.10,927.91 L1098.43,928.62 L1098.77,928.55 L1099.10,930.38 L1099.44,928.40 L1099.78,928.64 L1100.11,927.42 L1100.45,927.88 L1100.78,929.21 L1101.12,928.63 L1101.45,928.64 L1101.79,929.07 L1102.12,929.87 L1102.46,928.05 L1102.79,926.67 L1103.13,929.07 L1103.47,927.28 L1103.80,929.30 L1104.14,929.32 L1104.47,928.99 L1104.81,929.27 L1105.14,927.97 L1105.48,927.77 L1105.81,931.37 L1106.15,928.12 L1106.49,931.84 L1106.82,927.16 L1107.16,929.87 L1107.49,928.82 L1107.83,927.70 L1108.16,928.03 L1108.50,927.38 L1108.83,929.75 L1109.17,929.64 L1109.50,928.34 L1109.84,930.35 L1110.18,928.49 L1110.51,927.98 L1110.85,928.59 L1111.18,930.33 L1111.52,929.53 L1111.85,929.27 L1112.19,928.51 L1112.52,928.69 L1112.86,929.39 L1113.20,930.68 L1113.53,930.83 L1113.87,929.99 L1114.20,930.02 L1114.54,929.61 L1114.87,930.07 L1115.21,929.12 L1115.54,929.59 L1115.88,928.77 L1116.21,928.97 L1116.55,928.36 L1116.89,929.96 L1117.22,929.88 L1117.56,930.11 L1117.89,928.87 L1118.23,928.22 L1118.56,927.78 L1118.90,928.79 L1119.23,929.11 L1119.57,928.20 L1119.91,929.01 L1120.24,929.99 L1120.58,928.19 L1120.91,929.39 L1121.25,930.48 L1121.58,929.15 L1121.92,929.81 L1122.25,929.00 L1122.59,929.69 L1122.92,929.29 L1123.26,929.58 L1123.60,929.08 L1123.93,928.36 L1124.27,928.70 L1124.60,928.95 L1124.94,926.47 L1125.27,930.34 L1125.61,928.77 L1125.94,927.74 L1126.28,928.37 L1126.62,927.78 L1126.95,929.89 L1127.29,927.76 L1127.62,929.66 L1127.96,927.77 L1128.29,928.67 L1128.63,928.05 L1128.96,929.73 L1129.30,929.15 L1129.63,930.82 L1129.97,928.55 L1130.31,928.16 L1130.64,928.53 L1130.98,927.74 L1131.31,928.27 L1131.65,928.75 L1131.98,928.31 L1132.32,929.44 L1132.65,927.92 L1132.99,928.59 L1133.33,928.52 L1133.66,929.00 L1134.00,929.46 L1134.33,929.83 L1134.67,929.14 L1135.00,928.12 L1135.34,930.67 L1135.67,928.72 L1136.01,926.54 L1136.34,928.60 L1136.68,928.97 L1137.02,928.41 L1137.35,928.94 L1137.69,928.68 L1138.02,928.62 L1138.36,929.79 L1138.69,927.54 L1139.03,928.55 L1139.36,927.62 L1139.70,928.59 L1140.04,927.66 L1140.37,928.69 L1140.71,926.52 L1141.04,927.56 L1141.38,927.37 L1141.71,928.79 L1142.05,930.30 L1142.38,929.05 L1142.72,928.19 L1143.05,928.58 L1143.39,929.30 L1143.73,929.48 L1144.06,929.98 L1144.40,929.19 L1144.73,928.08 L1145.07,928.05 L1145.40,928.08 L1145.74,928.93 L1146.07,928.54 L1146.41,928.75 L1146.75,928.31 L1147.08,928.45 L1147.42,928.12 L1147.75,928.89 L1148.09,928.84 L1148.42,927.34 L1148.76,927.45 L1149.09,930.93 L1149.43,928.43 L1149.76,928.43 L1150.10,926.11 L1150.44,930.99 L1150.77,930.55 L1151.11,929.28 L1151.44,928.74 L1151.78,930.02 L1152.11,927.72 L1152.45,927.82 L1152.78,928.21 L1153.12,928.02 L1153.46,927.07 L1153.79,929.03 L1154.13,931.23 L1154.46,927.89 L1154.80,927.71 L1155.13,928.48 L1155.47,929.90 L1155.80,928.85 L1156.14,927.90 L1156.47,930.14 L1156.81,928.65 L1157.15,928.15 L1157.48,929.66 L1157.82,929.45 L1158.15,927.66 L1158.49,928.10 L1158.82,927.42 L1159.16,928.59 L1159.49,929.85 L1159.83,928.91 L1160.16,929.49 L1160.50,929.12 L1160.84,928.36 L1161.17,927.32 L1161.51,928.68 L1161.84,926.94 L1162.18,930.17 L1162.51,929.03 L1162.85,928.80 L1163.18,930.98 L1163.52,930.48 L1163.86,929.17 L1164.19,928.71 L1164.53,928.39 L1164.86,928.74 L1165.20,929.13 L1165.53,930.21 L1165.87,928.78 L1166.20,927.19 L1166.54,928.37 L1166.88,929.53 L1167.21,928.92 L1167.55,928.87 L1167.88,928.94 L1168.22,930.06 L1168.55,929.79 L1168.89,929.91 L1169.22,930.45 L1169.56,930.49 L1169.89,930.78 L1170.23,930.69 L1170.57,930.74 L1170.90,931.54 L1171.24,931.20 L1171.50,930.59 L1171.57,931.30 L1171.91,932.35 L1172.24,931.22 L1172.58,932.18 L1172.91,932.29 L1173.25,932.41 L1173.59,933.03 L1173.92,933.52 L1174.09,933.54 L1174.26,933.28 L1174.59,933.58 L1174.93,933.87 L1175.26,933.27 L1175.60,934.10 L1175.93,934.08 L1176.27,933.93 L1176.60,934.74 L1176.81,935.01 L1176.94,935.03 L1177.28,935.07 L1177.61,934.77 L1177.95,935.13 L1178.28,935.61 L1178.62,935.85 L1178.95,935.68 L1179.29,935.60 L1179.52,936.24 L1179.62,935.77 L1179.96,936.08 L1180.30,936.18 L1180.63,936.26 L1180.97,936.38 L1181.30,936.45 L1181.64,935.73 L1181.97,936.84 L1182.31,936.43 L1182.64,936.27 L1182.98,936.73 L1183.31,936.46 L1183.65,936.85 L1183.99,935.99 L1184.32,935.99 L1184.66,936.84 L1184.99,935.67 L1185.33,936.68 L1185.66,937.06 L1186.00,937.01 L1186.33,936.08 L1186.67,937.26 L1187.01,936.31 L1187.34,936.17 L1187.68,935.86 L1188.01,936.42 L1188.35,935.79 L1188.68,936.45 L1189.02,935.89 L1189.35,936.69 L1189.69,936.15 L1190.02,936.41 L1190.36,936.20 L1190.70,935.35 L1191.03,936.28 L1191.37,936.26 L1191.70,936.22 L1192.04,936.14 L1192.37,937.20 L1192.71,935.97 L1193.04,936.85 L1193.38,937.12 L1193.72,936.23 L1194.05,936.80 L1194.39,936.18 L1194.72,935.81 L1195.06,936.27 L1195.39,936.70 L1195.73,936.24 L1196.06,935.42 L1196.40,936.25 L1196.73,935.53 L1197.07,935.66 L1197.41,936.78 L1197.74,935.90 L1198.08,936.84 L1198.41,936.04 L1198.75,936.04 L1199.08,936.36 L1199.42,936.95 L1199.75,936.44 L1200.09,936.42 L1200.43,936.08 L1200.76,936.31 L1201.10,936.07 L1201.43,936.42 L1201.77,936.97 L1202.10,936.30 L1202.44,935.69 L1202.77,936.65 L1203.11,936.72 L1203.44,937.10 L1203.78,935.50 L1204.12,936.73 L1204.45,935.84 L1204.79,936.22 L1205.12,936.34 L1205.46,936.25 L1205.79,935.50 L1206.13,935.56 L1206.46,936.07 L1206.80,936.47 L1207.14,935.66 L1207.47,935.99 L1207.81,936.23 L1208.14,936.06 L1208.48,936.60 L1208.81,935.97 L1209.15,936.40 L1209.48,936.38 L1209.82,936.77 L1210.15,936.24 L1210.49,936.10 L1210.83,936.91 L1211.16,936.15 L1211.50,936.09 L1211.83,935.73 L1212.17,935.80 L1212.50,936.53 L1212.84,935.76 L1213.17,936.06 L1213.51,936.37 L1213.85,936.61 L1214.18,935.90 L1214.52,935.93 L1214.85,936.48 L1215.19,936.14 L1215.52,936.45 L1215.86,936.61 L1216.19,936.67 L1216.53,936.02 L1216.86,936.15 L1217.20,936.12 L1217.54,936.18 L1217.87,936.25 L1218.21,935.89 L1218.54,936.97 L1218.88,935.93 L1219.21,936.76 L1219.55,936.36 L1219.88,936.23 L1220.22,936.27 L1220.56,936.08 L1220.89,936.65 L1221.23,935.56 L1221.56,935.81 L1221.90,936.05 L1222.23,935.97 L1222.57,936.44 L1222.90,937.01 L1223.24,936.92 L1223.57,936.07 L1223.91,937.25 L1224.25,935.61 L1224.58,936.08 L1224.92,936.66 L1225.25,936.50 L1225.59,936.94 L1225.92,936.31 L1226.26,936.10 L1226.59,935.75 L1226.93,936.80 L1227.27,935.81 L1227.60,936.17 L1227.94,936.30 L1228.27,936.24 L1228.61,936.10 L1228.94,935.47 L1229.28,935.62 L1229.61,935.90 L1229.95,936.57 L1230.28,936.35 L1230.62,935.87 L1230.96,936.09 L1231.29,936.59 L1231.63,935.77 L1231.96,935.51 L1232.30,935.68 L1232.63,935.70 L1232.97,935.47 L1233.10,935.63 L1233.30,935.60 L1233.64,935.16 L1233.98,935.17 L1234.31,934.79 L1234.65,934.35 L1234.98,934.66 L1235.32,934.66 L1235.65,934.50 L1235.99,934.32 L1236.32,933.94 L1236.63,934.16 L1236.66,933.97 L1236.99,934.29 L1237.33,934.09 L1237.67,933.71 L1238.00,933.22 L1238.34,933.57 L1238.67,932.75 L1239.01,933.23 L1239.34,932.71 L1239.68,932.11 L1240.01,930.88 L1240.35,931.10 L1240.69,930.41 L1241.02,929.52 L1241.12,928.91 L1241.36,928.08 L1241.69,927.71 L1242.03,926.33 L1242.36,925.67 L1242.70,923.28 L1242.93,923.29 L1243.03,922.90 L1243.37,923.47 L1243.70,921.27 L1244.04,920.61 L1244.17,919.55 L1244.38,921.49 L1244.71,920.55 L1245.05,921.74 L1245.38,922.55 L1245.65,924.11 L1245.72,922.79 L1246.05,925.25 L1246.39,926.82 L1246.52,927.58 L1246.72,928.17 L1247.06,928.73 L1247.39,929.48 L1247.73,929.89 L1248.07,930.86 L1248.33,931.90 L1248.40,931.75 L1248.74,932.28 L1249.07,933.54 L1249.41,934.16 L1249.74,934.64 L1250.08,935.59 L1250.41,936.08 L1250.75,936.01 L1251.09,936.22 L1251.42,936.67 L1251.76,937.16 L1251.86,937.13 L1252.09,937.57 L1252.43,937.52 L1252.76,937.62 L1253.10,937.78 L1253.43,937.77 L1253.77,937.76 L1254.11,937.67 L1254.44,937.70 L1254.78,937.63 L1255.11,937.56 L1255.45,937.76 L1255.78,937.68 L1256.12,937.65 L1256.45,937.80 L1256.79,937.72 L1257.12,937.80 L1257.46,937.78 L1257.80,937.80 L1258.13,937.59 L1258.47,937.77 L1258.80,937.77 L1259.14,937.62 L1259.47,937.72 L1259.81,937.80 L1260.14,937.59 L1260.48,937.60 L1260.82,937.74 L1261.15,937.80 L1261.49,937.78 L1261.82,937.80 L1262.16,937.54 L1262.49,937.78 L1262.83,937.62 L1263.16,937.57 L1263.50,937.67 L1263.83,937.67 L1264.17,937.57 L1264.51,937.62 L1264.84,937.80 L1265.18,937.60 L1265.51,937.80 L1265.85,937.78 L1266.18,937.62 L1266.52,937.80 L1266.85,937.60 L1267.19,937.48 L1267.53,937.73 L1267.86,937.80 L1268.20,937.53 L1268.53,937.80 L1268.87,937.80 L1269.20,937.80 L1269.54,937.77 L1269.87,937.79 L1270.21,937.51 L1270.54,937.80 L1270.88,937.80 L1271.22,937.80 L1271.55,937.77 L1271.89,937.54 L1272.22,937.80 L1272.56,937.74 L1272.89,937.64 L1273.23,937.75 L1273.56,937.75 L1273.90,937.76 L1274.24,937.68 L1274.57,937.80 L1274.91,937.56 L1275.24,937.80 L1275.58,937.62 L1275.91,937.60 L1276.25,937.71 L1276.58,937.75 L1276.92,937.58 L1277.25,937.80 L1277.59,937.74 L1277.93,937.80 L1278.26,937.69 L1278.60,937.80 L1278.93,937.78 L1279.27,937.64 L1279.60,937.72 L1279.94,937.69 L1280.27,937.54 L1280.61,937.80 L1280.95,937.77 L1281.28,937.71 L1281.62,937.56 L1281.95,937.80 L1282.29,937.73 L1282.62,937.65 L1282.96,937.80 L1283.29,937.76 L1283.63,937.71 L1283.96,937.77 L1284.30,937.65 L1284.64,937.62 L1284.97,937.75 L1285.31,937.64 L1285.64,937.66 L1285.98,937.71 L1286.31,937.79 L1286.65,937.54 L1286.98,937.80 L1287.32,937.68 L1287.66,937.62 L1287.99,937.80 L1288.33,937.78 L1288.66,937.80 L1289.00,937.73 L1289.33,937.64 L1289.67,937.78 L1290.00,937.70 L1290.34,937.63 L1290.67,937.79 L1291.01,937.74 L1291.35,937.80 L1291.68,937.65 L1292.02,937.74 L1292.35,937.55 L1292.69,937.58 L1293.02,937.80 L1293.36,937.69 L1293.69,937.68 L1294.03,937.69 L1294.37,937.67 L1294.70,937.73 L1295.04,937.60 L1295.37,937.64 L1295.71,937.66 L1296.04,937.77 L1296.38,937.58 L1296.71,937.80 L1297.05,937.60 L1297.38,937.64 L1297.72,937.80 L1298.06,937.66 L1298.39,937.46 L1298.73,937.70 L1299.06,937.77 L1299.40,937.68 L1299.73,937.64 L1300.07,937.52 L1300.40,937.72 L1300.74,937.60 L1301.08,937.68 L1301.41,937.57 L1301.75,937.66 L1302.08,937.80 L1302.42,937.63 L1302.75,937.58 L1303.09,937.72 L1303.42,937.80 L1303.76,937.80 L1304.09,937.70 L1304.43,937.63 L1304.77,937.76 L1305.10,937.60 L1305.44,937.76 L1305.77,937.80 L1306.11,937.66 L1306.44,937.78 L1306.78,937.56 L1307.11,937.59 L1307.45,937.75 L1307.79,937.77 L1308.12,937.68 L1308.46,937.58 L1308.79,937.69 L1309.13,937.72 L1309.46,937.59 L1309.80,937.63 L1310.13,937.78 L1310.47,937.77 L1310.80,937.80 L1311.14,937.73 L1311.48,937.75 L1311.81,937.65 L1312.15,937.78 L1312.48,937.75 L1312.82,937.75 L1313.15,937.76 L1313.49,937.74 L1313.82,937.77 L1314.16,937.58 L1314.50,937.72 L1314.83,937.67 L1315.17,937.67 L1315.50,937.80 L1315.84,937.80 L1316.17,937.80 L1316.51,937.75 L1316.84,937.71 L1317.18,937.80 L1317.51,937.64 L1317.85,937.75 L1318.19,937.62 L1318.52,937.80 L1318.86,937.80 L1319.19,937.65 L1319.53,937.66 L1319.86,937.47 L1320.20,937.70 L1320.53,937.68 L1320.87,937.53 L1321.21,937.80 L1321.54,937.80 L1321.88,937.80 L1322.21,937.68 L1322.55,937.74 L1322.88,937.66 L1323.22,937.80 L1323.55,937.79 L1323.89,937.72 L1324.22,937.74 L1324.56,937.75 L1324.90,937.61 L1325.23,937.80 L1325.57,937.77 L1325.90,937.77 L1326.24,937.65 L1326.57,937.80 L1326.91,937.80 L1327.24,937.80 L1327.58,937.80 L1327.91,937.75 L1328.25,937.79 L1328.59,937.80 L1328.92,937.79 L1329.26,937.72 L1329.59,937.56 L1329.93,937.74 L1330.26,937.58 L1330.60,937.71 L1330.93,937.58 L1331.27,937.80 L1331.61,937.80 L1331.94,937.75 L1332.28,937.76 L1332.61,937.72 L1332.95,937.68 L1333.28,937.80 L1333.62,937.70 L1333.95,937.79 L1334.29,937.51 L1334.62,937.74 L1334.96,937.77 L1335.30,937.53 L1335.63,937.80 L1335.97,937.54 L1336.30,937.68 L1336.64,937.77 L1336.97,937.76 L1337.31,937.72 L1337.64,937.69 L1337.98,937.80 L1338.32,937.68 L1338.65,937.64 L1338.99,937.72 L1339.32,937.55 L1339.66,937.80 L1339.99,937.71 L1340.33,937.61 L1340.66,937.67 L1341.00,937.56 L1341.34,937.61 L1341.67,937.80 L1342.01,937.56 L1342.34,937.78 L1342.68,937.59 L1343.01,937.71 L1343.35,937.59 L1343.68,937.80 L1344.02,937.63 L1344.35,937.73 L1344.69,937.55 L1345.03,937.54 L1345.36,937.56 L1345.70,937.72 L1346.03,937.70 L1346.37,937.80 L1346.70,937.71 L1347.04,937.69 L1347.37,937.65 L1347.71,937.56 L1348.05,937.80 L1348.38,937.69 L1348.72,937.64 L1349.05,937.72 L1349.39,937.80 L1349.72,937.76 L1350.06,937.77 L1350.39,937.80 L1350.73,937.69 L1351.06,937.75 L1351.40,937.74" stroke="#0000ff" stroke-width="1.45" fill="none" stroke-linejoin="round" />
<text x="925.13" y="566.00" font-size="15.16" fill="#000" xml:space="preserve">511 keV</text>
<text x="1067.61" y="575.50" font-size="19.22" fill="#000" xml:space="preserve">Bias voltage: 3000V</text>
<text x="1291.88" y="571.90" font-size="20.80" fill="#000" xml:space="preserve">22</text>
<text x="1316.64" y="582.30" font-size="21.84" fill="#000" xml:space="preserve">Na</text>
<text x="991.22" y="656.60" font-size="19.08" fill="#000" xml:space="preserve">Resolution:  ~1.34%</text>
<text x="1207.33" y="910.80" font-size="15.38" fill="#000" xml:space="preserve">1.275 MeV</text>
<path d="M814.60,937.80V948.80 M881.70,937.80V948.80 M948.80,937.80V948.80 M1015.90,937.80V948.80 M1083.00,937.80V948.80 M1150.10,937.80V948.80 M1217.20,937.80V948.80 M1284.30,937.80V948.80 M1351.40,937.80V948.80 M848.15,937.80V944.30 M915.25,937.80V944.30 M982.35,937.80V944.30 M1049.45,937.80V944.30 M1116.55,937.80V944.30 M1183.65,937.80V944.30 M1250.75,937.80V944.30 M1317.85,937.80V944.30 M814.60,937.80H803.60 M814.60,878.18H803.60 M814.60,818.56H803.60 M814.60,758.94H803.60 M814.60,699.32H803.60 M814.60,639.69H803.60 M814.60,580.07H803.60 M814.60,907.99H808.10 M814.60,848.37H808.10 M814.60,788.75H808.10 M814.60,729.13H808.10 M814.60,669.50H808.10 M814.60,609.88H808.10 M814.60,550.26H808.10" stroke="#000" stroke-width="3.4" stroke-linecap="round" fill="none"/>
<rect x="814.60" y="544.30" width="536.80" height="393.50" stroke="#000" stroke-width="3.8" stroke-linejoin="round" fill="none"/>
<text x="808.83" y="971.00" font-size="20.80" fill="#000" xml:space="preserve">0</text>
<text x="864.41" y="971.00" font-size="20.80" fill="#000" xml:space="preserve">200</text>
<text x="931.72" y="971.00" font-size="20.80" fill="#000" xml:space="preserve">400</text>
<text x="998.59" y="971.00" font-size="20.80" fill="#000" xml:space="preserve">600</text>
<text x="1065.74" y="971.00" font-size="20.80" fill="#000" xml:space="preserve">800</text>
<text x="1126.74" y="971.00" font-size="20.80" fill="#000" xml:space="preserve">1000</text>
<text x="1193.84" y="971.00" font-size="20.80" fill="#000" xml:space="preserve">1200</text>
<text x="1260.94" y="971.00" font-size="20.80" fill="#000" xml:space="preserve">1400</text>
<text x="1328.04" y="971.00" font-size="20.80" fill="#000" xml:space="preserve">1600</text>
<text x="786.69" y="943.40" font-size="20.80" fill="#000" xml:space="preserve">0</text>
<text x="763.55" y="883.78" font-size="20.80" fill="#000" xml:space="preserve">500</text>
<text x="751.98" y="824.16" font-size="20.80" fill="#000" xml:space="preserve">1000</text>
<text x="751.98" y="764.54" font-size="20.80" fill="#000" xml:space="preserve">1500</text>
<text x="751.98" y="704.92" font-size="20.80" fill="#000" xml:space="preserve">2000</text>
<text x="751.98" y="645.29" font-size="20.80" fill="#000" xml:space="preserve">2500</text>
<text x="751.98" y="585.67" font-size="20.80" fill="#000" xml:space="preserve">3000</text>
<defs><clipPath id="ov2"><rect x="814.60" y="935.90" width="536.80" height="3.8"/></clipPath></defs>
<path clip-path="url(#ov2)" d="M814.6,937.8 L814.9,937.8 L815.3,937.8 L815.6,937.8 L815.9,937.8 L816.3,937.8 L816.6,937.8 L816.9,937.8 L817.3,937.8 L817.6,937.8 L818.0,937.8 L818.3,937.8 L818.6,937.8 L819.0,937.8 L819.3,937.8 L819.6,937.8 L820.0,937.8 L820.3,937.8 L820.6,937.8 L821.0,937.8 L821.3,937.8 L821.6,937.8 L822.0,937.8 L822.3,937.8 L822.7,937.8 L823.0,937.8 L823.3,937.8 L823.7,937.8 L824.0,937.7 L824.3,937.6 L824.7,937.5 L825.0,937.3 L825.3,937.5 L825.7,937.6 L826.0,937.7 L826.3,937.8 L826.7,937.8 L827.0,937.8 L827.3,937.8 L827.7,937.8 L828.0,937.8 L828.4,937.8 L828.7,937.8 L829.0,937.8 L829.4,937.8 L829.7,937.8 L830.0,937.8 L830.4,937.8 L830.7,937.8 L831.0,937.8 L831.4,937.8 L831.7,937.8 L832.0,937.8 L832.4,937.8 L832.7,937.8 L833.1,937.8 L833.4,937.8 L833.7,937.8 L834.1,937.8 L834.4,937.8 L834.7,937.8 L835.1,937.8 L835.4,937.8 L835.7,937.8 L836.1,937.8 L836.4,937.8 L836.7,937.8 L837.1,937.8 L837.4,937.8 L837.7,937.8 L838.1,937.8 L838.4,937.8 L838.8,937.8 L839.1,937.8 L839.4,937.8 L839.8,937.8 L840.1,937.8 L840.4,937.8 L840.8,937.8 L841.1,937.8 L841.4,937.8 L841.8,937.8 L842.1,937.8 L842.4,937.8 L842.8,937.8 L843.1,937.8 L843.5,937.8 L843.8,937.8 L844.1,937.8 L844.5,937.8 L844.8,937.8 L845.0,937.8 L845.1,937.8 L845.3,937.8 L845.5,911.6M1177.9,935.1 L1178.3,935.6 L1178.6,935.8 L1179.0,935.7 L1179.3,935.6 L1179.5,936.2 L1179.6,935.8 L1180.0,936.1 L1180.3,936.2 L1180.6,936.3 L1181.0,936.4 L1181.3,936.4 L1181.6,935.7 L1182.0,936.8 L1182.3,936.4 L1182.6,936.3 L1183.0,936.7 L1183.3,936.5 L1183.7,936.8 L1184.0,936.0 L1184.3,936.0 L1184.7,936.8 L1185.0,935.7 L1185.3,936.7 L1185.7,937.1 L1186.0,937.0 L1186.3,936.1 L1186.7,937.3 L1187.0,936.3 L1187.3,936.2 L1187.7,935.9 L1188.0,936.4 L1188.3,935.8 L1188.7,936.4 L1189.0,935.9 L1189.4,936.7 L1189.7,936.2 L1190.0,936.4 L1190.4,936.2 L1190.7,935.4 L1191.0,936.3 L1191.4,936.3 L1191.7,936.2 L1192.0,936.1 L1192.4,937.2 L1192.7,936.0 L1193.0,936.8 L1193.4,937.1 L1193.7,936.2 L1194.1,936.8 L1194.4,936.2 L1194.7,935.8 L1195.1,936.3 L1195.4,936.7 L1195.7,936.2 L1196.1,935.4 L1196.4,936.3 L1196.7,935.5 L1197.1,935.7 L1197.4,936.8 L1197.7,935.9 L1198.1,936.8 L1198.4,936.0 L1198.7,936.0 L1199.1,936.4 L1199.4,936.9 L1199.8,936.4 L1200.1,936.4 L1200.4,936.1 L1200.8,936.3 L1201.1,936.1 L1201.4,936.4 L1201.8,937.0 L1202.1,936.3 L1202.4,935.7 L1202.8,936.6 L1203.1,936.7 L1203.4,937.1 L1203.8,935.5 L1204.1,936.7 L1204.5,935.8 L1204.8,936.2 L1205.1,936.3 L1205.5,936.3 L1205.8,935.5 L1206.1,935.6 L1206.5,936.1 L1206.8,936.5 L1207.1,935.7 L1207.5,936.0 L1207.8,936.2 L1208.1,936.1 L1208.5,936.6 L1208.8,936.0 L1209.1,936.4 L1209.5,936.4 L1209.8,936.8 L1210.2,936.2 L1210.5,936.1 L1210.8,936.9 L1211.2,936.1 L1211.5,936.1 L1211.8,935.7 L1212.2,935.8 L1212.5,936.5 L1212.8,935.8 L1213.2,936.1 L1213.5,936.4 L1213.8,936.6 L1214.2,935.9 L1214.5,935.9 L1214.9,936.5 L1215.2,936.1 L1215.5,936.5 L1215.9,936.6 L1216.2,936.7 L1216.5,936.0 L1216.9,936.1 L1217.2,936.1 L1217.5,936.2 L1217.9,936.3 L1218.2,935.9 L1218.5,937.0 L1218.9,935.9 L1219.2,936.8 L1219.5,936.4 L1219.9,936.2 L1220.2,936.3 L1220.6,936.1 L1220.9,936.6 L1221.2,935.6 L1221.6,935.8 L1221.9,936.1 L1222.2,936.0 L1222.6,936.4 L1222.9,937.0 L1223.2,936.9 L1223.6,936.1 L1223.9,937.3 L1224.2,935.6 L1224.6,936.1 L1224.9,936.7 L1225.3,936.5 L1225.6,936.9 L1225.9,936.3 L1226.3,936.1 L1226.6,935.8 L1226.9,936.8 L1227.3,935.8 L1227.6,936.2 L1227.9,936.3 L1228.3,936.2 L1228.6,936.1 L1228.9,935.5 L1229.3,935.6 L1229.6,935.9 L1229.9,936.6 L1230.3,936.3 L1230.6,935.9 L1231.0,936.1 L1231.3,936.6 L1231.6,935.8 L1232.0,935.5 L1232.3,935.7 L1232.6,935.7 L1233.0,935.5 L1233.1,935.6 L1233.3,935.6 L1233.6,935.2M1249.7,934.6 L1250.1,935.6 L1250.4,936.1 L1250.8,936.0 L1251.1,936.2 L1251.4,936.7 L1251.8,937.2 L1251.9,937.1 L1252.1,937.6 L1252.4,937.5 L1252.8,937.6 L1253.1,937.8 L1253.4,937.8 L1253.8,937.8 L1254.1,937.7 L1254.4,937.7 L1254.8,937.6 L1255.1,937.6 L1255.4,937.8 L1255.8,937.7 L1256.1,937.6 L1256.5,937.8 L1256.8,937.7 L1257.1,937.8 L1257.5,937.8 L1257.8,937.8 L1258.1,937.6 L1258.5,937.8 L1258.8,937.8 L1259.1,937.6 L1259.5,937.7 L1259.8,937.8 L1260.1,937.6 L1260.5,937.6 L1260.8,937.7 L1261.2,937.8 L1261.5,937.8 L1261.8,937.8 L1262.2,937.5 L1262.5,937.8 L1262.8,937.6 L1263.2,937.6 L1263.5,937.7 L1263.8,937.7 L1264.2,937.6 L1264.5,937.6 L1264.8,937.8 L1265.2,937.6 L1265.5,937.8 L1265.8,937.8 L1266.2,937.6 L1266.5,937.8 L1266.9,937.6 L1267.2,937.5 L1267.5,937.7 L1267.9,937.8 L1268.2,937.5 L1268.5,937.8 L1268.9,937.8 L1269.2,937.8 L1269.5,937.8 L1269.9,937.8 L1270.2,937.5 L1270.5,937.8 L1270.9,937.8 L1271.2,937.8 L1271.6,937.8 L1271.9,937.5 L1272.2,937.8 L1272.6,937.7 L1272.9,937.6 L1273.2,937.8 L1273.6,937.7 L1273.9,937.8 L1274.2,937.7 L1274.6,937.8 L1274.9,937.6 L1275.2,937.8 L1275.6,937.6 L1275.9,937.6 L1276.2,937.7 L1276.6,937.7 L1276.9,937.6 L1277.3,937.8 L1277.6,937.7 L1277.9,937.8 L1278.3,937.7 L1278.6,937.8 L1278.9,937.8 L1279.3,937.6 L1279.6,937.7 L1279.9,937.7 L1280.3,937.5 L1280.6,937.8 L1280.9,937.8 L1281.3,937.7 L1281.6,937.6 L1282.0,937.8 L1282.3,937.7 L1282.6,937.7 L1283.0,937.8 L1283.3,937.8 L1283.6,937.7 L1284.0,937.8 L1284.3,937.6 L1284.6,937.6 L1285.0,937.8 L1285.3,937.6 L1285.6,937.7 L1286.0,937.7 L1286.3,937.8 L1286.6,937.5 L1287.0,937.8 L1287.3,937.7 L1287.7,937.6 L1288.0,937.8 L1288.3,937.8 L1288.7,937.8 L1289.0,937.7 L1289.3,937.6 L1289.7,937.8 L1290.0,937.7 L1290.3,937.6 L1290.7,937.8 L1291.0,937.7 L1291.3,937.8 L1291.7,937.7 L1292.0,937.7 L1292.4,937.6 L1292.7,937.6 L1293.0,937.8 L1293.4,937.7 L1293.7,937.7 L1294.0,937.7 L1294.4,937.7 L1294.7,937.7 L1295.0,937.6 L1295.4,937.6 L1295.7,937.7 L1296.0,937.8 L1296.4,937.6 L1296.7,937.8 L1297.0,937.6 L1297.4,937.6 L1297.7,937.8 L1298.1,937.7 L1298.4,937.5 L1298.7,937.7 L1299.1,937.8 L1299.4,937.7 L1299.7,937.6 L1300.1,937.5 L1300.4,937.7 L1300.7,937.6 L1301.1,937.7 L1301.4,937.6 L1301.7,937.7 L1302.1,937.8 L1302.4,937.6 L1302.8,937.6 L1303.1,937.7 L1303.4,937.8 L1303.8,937.8 L1304.1,937.7 L1304.4,937.6 L1304.8,937.8 L1305.1,937.6 L1305.4,937.8 L1305.8,937.8 L1306.1,937.7 L1306.4,937.8 L1306.8,937.6 L1307.1,937.6 L1307.4,937.7 L1307.8,937.8 L1308.1,937.7 L1308.5,937.6 L1308.8,937.7 L1309.1,937.7 L1309.5,937.6 L1309.8,937.6 L1310.1,937.8 L1310.5,937.8 L1310.8,937.8 L1311.1,937.7 L1311.5,937.7 L1311.8,937.7 L1312.1,937.8 L1312.5,937.8 L1312.8,937.7 L1313.2,937.8 L1313.5,937.7 L1313.8,937.8 L1314.2,937.6 L1314.5,937.7 L1314.8,937.7 L1315.2,937.7 L1315.5,937.8 L1315.8,937.8 L1316.2,937.8 L1316.5,937.7 L1316.8,937.7 L1317.2,937.8 L1317.5,937.6 L1317.9,937.7 L1318.2,937.6 L1318.5,937.8 L1318.9,937.8 L1319.2,937.7 L1319.5,937.7 L1319.9,937.5 L1320.2,937.7 L1320.5,937.7 L1320.9,937.5 L1321.2,937.8 L1321.5,937.8 L1321.9,937.8 L1322.2,937.7 L1322.5,937.7 L1322.9,937.7 L1323.2,937.8 L1323.6,937.8 L1323.9,937.7 L1324.2,937.7 L1324.6,937.8 L1324.9,937.6 L1325.2,937.8 L1325.6,937.8 L1325.9,937.8 L1326.2,937.7 L1326.6,937.8 L1326.9,937.8 L1327.2,937.8 L1327.6,937.8 L1327.9,937.7 L1328.3,937.8 L1328.6,937.8 L1328.9,937.8 L1329.3,937.7 L1329.6,937.6 L1329.9,937.7 L1330.3,937.6 L1330.6,937.7 L1330.9,937.6 L1331.3,937.8 L1331.6,937.8 L1331.9,937.8 L1332.3,937.8 L1332.6,937.7 L1332.9,937.7 L1333.3,937.8 L1333.6,937.7 L1334.0,937.8 L1334.3,937.5 L1334.6,937.7 L1335.0,937.8 L1335.3,937.5 L1335.6,937.8 L1336.0,937.5 L1336.3,937.7 L1336.6,937.8 L1337.0,937.8 L1337.3,937.7 L1337.6,937.7 L1338.0,937.8 L1338.3,937.7 L1338.7,937.6 L1339.0,937.7 L1339.3,937.6 L1339.7,937.8 L1340.0,937.7 L1340.3,937.6 L1340.7,937.7 L1341.0,937.6 L1341.3,937.6 L1341.7,937.8 L1342.0,937.6 L1342.3,937.8 L1342.7,937.6 L1343.0,937.7 L1343.3,937.6 L1343.7,937.8 L1344.0,937.6 L1344.4,937.7 L1344.7,937.5 L1345.0,937.5 L1345.4,937.6 L1345.7,937.7 L1346.0,937.7 L1346.4,937.8 L1346.7,937.7 L1347.0,937.7 L1347.4,937.6 L1347.7,937.6 L1348.0,937.8 L1348.4,937.7 L1348.7,937.6 L1349.1,937.7 L1349.4,937.8 L1349.7,937.8 L1350.1,937.8 L1350.4,937.8 L1350.7,937.7 L1351.1,937.8 L1351.4,937.7" stroke="#000096" stroke-width="1.2" fill="none"/>
<text x="937.70" y="1006.60" font-size="24.41" fill="#000" xml:space="preserve">Channel number (a. u.)</text>
<text transform="translate(733.10,817.71) rotate(-90)" x="0" y="0" font-size="24.53" fill="#000" xml:space="preserve">Counts (a. u.)</text>
<text x="1042.62" y="1043.10" font-size="33.72" fill="#000" xml:space="preserve">(d)</text>
<defs><clipPath id="clipE"><rect x="90.2" y="1149" width="536.6" height="393.9"/></clipPath></defs>
<g clip-path="url(#clipE)">
<path d="M90.20,1542.90 L90.54,1542.90 L90.87,1542.90 L91.21,1542.90 L91.54,1542.90 L91.88,1542.90 L92.21,1542.90 L92.55,1542.90 L92.88,1542.90 L93.22,1542.90 L93.55,1542.90 L93.89,1542.90 L94.22,1542.90 L94.56,1542.90 L94.90,1542.90 L95.23,1542.90 L95.57,1542.90 L95.90,1542.90 L96.24,1542.90 L96.57,1542.90 L96.91,1542.90 L97.24,1542.90 L97.58,1542.90 L97.91,1542.90 L98.25,1542.90 L98.58,1542.90 L98.92,1542.90 L99.26,1542.90 L99.59,1540.27 L99.93,1537.65 L100.26,1535.28 L100.60,1532.92 L100.93,1535.28 L101.27,1537.65 L101.60,1540.27 L101.94,1542.90 L102.27,1542.90 L102.61,1542.90 L102.94,1542.90 L103.28,1542.90 L103.61,1542.90 L103.95,1542.90 L104.29,1542.90 L104.62,1542.90 L104.96,1542.90 L105.29,1542.90 L105.63,1542.90 L105.96,1542.90 L106.30,1542.90 L106.63,1542.90 L106.97,1542.90 L107.30,1542.90 L107.64,1542.90 L107.97,1542.90 L108.31,1542.90 L108.65,1542.90 L108.98,1542.90 L109.32,1542.90 L109.65,1542.90 L109.99,1542.90 L110.32,1542.90 L110.66,1542.90 L110.99,1542.90 L111.33,1542.90 L111.66,1542.90 L112.00,1542.90 L112.33,1542.90 L112.67,1542.90 L113.01,1542.90 L113.34,1542.90 L113.68,1542.90 L114.01,1542.90 L114.35,1542.90 L114.68,1542.90 L115.02,1542.90 L115.35,1542.90 L115.69,1542.90 L116.02,1542.90 L116.36,1542.90 L116.69,1542.90 L117.03,1542.90 L117.37,1542.90 L117.70,1542.90 L118.04,1542.90 L118.37,1542.90 L118.71,1542.90 L119.04,1542.90 L119.38,1542.90 L119.71,1542.90 L120.05,1542.90 L120.38,1542.90 L120.55,1542.90 L120.72,1542.90 L120.89,1542.90 L121.05,1140.00 L121.39,1140.00 L121.73,1140.00 L122.06,1140.00 L122.40,1140.00 L122.73,1140.00 L123.07,1140.00 L123.40,1140.00 L123.74,1140.00 L124.07,1140.00 L124.41,1140.00 L124.74,1140.00 L125.08,1140.00 L125.41,1140.00 L125.75,1140.00 L126.09,1140.00 L126.42,1140.00 L126.76,1140.00 L127.09,1140.00 L127.43,1140.00 L127.76,1140.00 L128.10,1140.00 L128.43,1140.00 L128.77,1140.00 L129.10,1140.00 L129.44,1140.00 L129.77,1140.00 L130.11,1140.00 L130.44,1140.00 L130.78,1140.00 L131.12,1140.00 L131.45,1140.00 L131.79,1140.00 L132.12,1140.00 L132.46,1140.00 L132.79,1140.00 L133.13,1140.00 L133.46,1140.00 L133.80,1140.00 L134.13,1140.00 L134.47,1140.00 L134.80,1140.00 L135.14,1140.00 L135.48,1140.00 L135.81,1140.00 L136.15,1140.00 L136.48,1140.00 L136.82,1140.00 L137.15,1140.00 L137.49,1140.00 L137.82,1140.00 L138.16,1140.00 L138.49,1140.00 L138.83,1140.00 L139.16,1140.00 L139.50,1140.00 L139.84,1140.00 L140.17,1140.00 L140.51,1140.00 L140.84,1140.00 L141.18,1140.00 L141.51,1140.00 L141.85,1140.00 L142.18,1140.00 L142.52,1140.00 L142.85,1140.00 L143.19,1140.00 L143.52,1140.00 L143.86,1140.00 L144.20,1140.00 L144.53,1140.00 L144.87,1140.00 L145.20,1140.00 L145.54,1140.00 L145.87,1140.00 L146.21,1140.00 L146.54,1140.00 L146.88,1140.00 L147.21,1140.00 L147.55,1140.00 L147.88,1140.00 L148.22,1140.00 L148.56,1140.00 L148.89,1140.00 L149.23,1140.00 L149.56,1140.00 L149.90,1140.00 L150.23,1140.00 L150.57,1140.00 L150.90,1140.00 L151.24,1140.00 L151.57,1140.00 L151.91,1140.00 L152.24,1140.00 L152.58,1140.00 L152.92,1140.00 L153.25,1140.00 L153.59,1140.00 L153.92,1140.00 L154.26,1140.00 L154.59,1140.00 L154.93,1140.00 L155.26,1140.00 L155.60,1140.00 L155.93,1140.00 L156.27,1140.00 L156.60,1140.00 L156.94,1140.00 L157.27,1140.00 L157.61,1140.00 L157.95,1140.00 L158.28,1140.00 L158.62,1140.00 L158.95,1140.00 L159.29,1140.00 L159.62,1140.00 L159.96,1140.00 L160.29,1140.00 L160.63,1140.00 L160.96,1140.00 L161.30,1140.00 L161.63,1140.00 L161.97,1140.00 L162.31,1140.00 L162.64,1140.00 L162.98,1140.00 L163.31,1140.00 L163.65,1140.00 L163.98,1140.00 L164.32,1140.00 L164.65,1140.00 L164.99,1140.00 L165.32,1140.00 L165.49,1140.00 L165.66,1140.00 L165.99,1140.00 L166.33,1140.00 L166.67,1140.00 L167.00,1140.00 L167.34,1140.00 L167.67,1140.00 L168.01,1140.00 L168.34,1140.00 L168.68,1140.00 L169.01,1140.00 L169.35,1140.00 L169.68,1140.00 L170.02,1140.00 L170.35,1140.00 L170.69,1140.00 L171.03,1140.00 L171.36,1140.00 L171.70,1140.00 L172.03,1140.00 L172.37,1140.00 L172.70,1140.00 L173.04,1140.00 L173.37,1140.00 L173.71,1140.00 L174.04,1140.00 L174.38,1140.00 L174.71,1140.00 L175.05,1140.00 L175.39,1140.00 L175.72,1140.00 L176.06,1140.00 L176.39,1140.00 L176.73,1140.00 L177.06,1140.00 L177.40,1140.00 L177.73,1140.00 L178.07,1140.00 L178.40,1140.00 L178.74,1140.00 L179.07,1140.00 L179.41,1140.00 L179.75,1140.00 L180.08,1140.00 L180.42,1140.00 L180.75,1140.00 L181.09,1140.00 L181.42,1140.00 L181.76,1140.00 L182.09,1140.00 L182.43,1140.00 L182.76,1140.00 L183.10,1140.00 L183.43,1140.00 L183.77,1140.00 L184.10,1140.00 L184.44,1140.00 L184.78,1140.00 L185.11,1140.00 L185.45,1140.00 L185.78,1140.00 L186.12,1140.00 L186.45,1140.00 L186.79,1140.00 L187.12,1140.00 L187.46,1140.00 L187.79,1140.00 L188.13,1140.00 L188.46,1140.00 L188.80,1140.00 L189.14,1140.00 L189.47,1140.00 L189.81,1140.00 L190.14,1140.00 L190.48,1140.00 L190.81,1140.00 L191.15,1140.00 L191.48,1140.00 L191.82,1140.00 L192.15,1140.00 L192.49,1140.00 L192.82,1140.00 L193.16,1140.00 L193.50,1140.00 L193.83,1140.00 L194.17,1140.00 L194.50,1140.00 L194.84,1140.00 L195.17,1140.00 L195.51,1140.00 L195.84,1140.00 L196.18,1140.00 L196.51,1140.00 L196.85,1140.00 L197.18,1140.00 L197.52,1140.00 L197.86,1140.00 L198.19,1140.00 L198.53,1140.00 L198.86,1140.00 L199.20,1140.00 L199.53,1140.00 L199.87,1140.00 L200.20,1140.00 L200.54,1140.00 L200.87,1140.00 L201.21,1140.00 L201.54,1140.00 L201.88,1140.00 L202.22,1140.00 L202.55,1140.00 L202.89,1140.00 L203.22,1140.00 L203.56,1140.00 L203.89,1140.00 L204.23,1140.00 L204.56,1140.00 L204.90,1140.00 L205.23,1140.00 L205.57,1140.00 L205.90,1140.00 L206.24,1140.00 L206.58,1140.00 L206.91,1140.00 L207.25,1140.00 L207.58,1140.00 L207.92,1140.00 L208.25,1140.00 L208.59,1140.00 L208.92,1140.00 L209.26,1140.00 L209.59,1140.00 L209.93,1140.00 L210.26,1140.00 L210.60,1140.00 L210.94,1140.00 L211.27,1140.00 L211.61,1140.00 L211.94,1140.00 L212.28,1140.00 L212.61,1140.00 L212.95,1140.00 L213.28,1140.00 L213.62,1140.00 L213.95,1140.00 L214.29,1140.00 L214.62,1140.00 L214.96,1140.00 L215.29,1140.00 L215.63,1140.00 L215.97,1140.00 L216.30,1140.00 L216.64,1140.00 L216.97,1140.00 L217.31,1140.00 L217.64,1140.00 L217.98,1140.00 L218.31,1140.00 L218.65,1140.00 L218.98,1140.00 L219.32,1140.00 L219.65,1140.00 L219.99,1140.00 L220.33,1140.00 L220.66,1140.00 L221.00,1140.00 L221.33,1140.00 L221.67,1140.00 L222.00,1140.00 L222.34,1140.00 L222.67,1140.00 L223.01,1140.00 L223.34,1140.00 L223.68,1140.00 L224.01,1140.00 L224.35,1140.00 L224.69,1140.00 L225.02,1140.00 L225.36,1140.00 L225.69,1140.00 L226.03,1140.00 L226.36,1140.00 L226.70,1140.00 L227.03,1140.00 L227.37,1140.00 L227.70,1140.00 L228.04,1140.00 L228.37,1140.00 L228.71,1140.00 L229.05,1140.00 L229.38,1140.00 L229.72,1140.00 L230.05,1140.00 L230.39,1140.00 L230.72,1140.00 L231.06,1140.00 L231.39,1140.00 L231.73,1140.00 L232.06,1140.00 L232.40,1140.00 L232.73,1140.00 L233.07,1140.00 L233.41,1140.00 L233.74,1140.00 L234.08,1140.00 L234.41,1140.00 L234.75,1140.00 L235.08,1140.00 L235.42,1140.00 L235.75,1140.00 L236.09,1140.00 L236.42,1140.00 L236.76,1140.00 L237.09,1140.00 L237.43,1140.00 L237.76,1140.00 L238.10,1140.00 L238.44,1140.00 L238.77,1140.00 L239.11,1140.00 L239.44,1140.00 L239.78,1140.00 L240.11,1140.00 L240.45,1140.00 L240.78,1140.00 L241.12,1140.00 L241.45,1140.00 L241.79,1140.00 L242.12,1140.00 L242.46,1140.00 L242.80,1140.00 L243.13,1140.00 L243.47,1140.00 L243.80,1140.00 L244.14,1140.00 L244.47,1140.00 L244.81,1140.00 L245.14,1140.00 L245.48,1140.00 L245.81,1140.00 L246.15,1140.00 L246.48,1140.00 L246.82,1140.00 L247.16,1140.00 L247.49,1140.00 L247.83,1140.00 L248.16,1140.00 L248.50,1140.00 L248.83,1140.00 L249.17,1140.00 L249.50,1140.00 L249.84,1140.00 L250.17,1140.00 L250.51,1140.00 L250.84,1140.00 L251.18,1140.00 L251.52,1140.00 L251.85,1140.00 L252.19,1140.00 L252.52,1140.00 L252.86,1140.00 L253.19,1140.00 L253.53,1140.00 L253.86,1140.00 L254.20,1140.00 L254.53,1140.00 L254.87,1140.00 L255.20,1140.00 L255.54,1140.00 L255.88,1140.00 L256.21,1140.00 L256.55,1140.00 L256.88,1140.00 L257.22,1140.00 L257.55,1140.00 L257.89,1140.00 L258.22,1140.00 L258.56,1140.00 L258.89,1140.00 L259.23,1140.00 L259.43,1140.00 L259.56,1140.00 L259.90,1140.00 L260.24,1140.00 L260.57,1140.00 L260.60,1140.00 L260.91,1140.00 L261.24,1140.00 L261.58,1140.00 L261.91,1140.00 L262.05,1140.00 L262.25,1140.00 L262.58,1140.00 L262.92,1140.00 L263.09,1140.00 L263.25,1140.00 L263.52,1140.00 L263.59,1140.00 L263.92,1140.00 L264.26,1140.00 L264.59,1140.00 L264.90,1140.00 L264.93,1140.00 L265.10,1149.00 L265.27,1254.04 L265.60,1282.93 L265.94,1317.06 L266.27,1324.94 L266.61,1331.76 L266.94,1354.08 L267.28,1299.85 L267.61,1308.63 L267.95,1350.18 L268.28,1327.39 L268.62,1352.19 L268.95,1379.28 L269.29,1320.03 L269.63,1335.98 L269.96,1341.20 L270.30,1305.50 L270.63,1311.50 L270.97,1358.99 L271.30,1369.76 L271.64,1387.80 L271.97,1344.53 L272.31,1353.59 L272.64,1336.62 L272.98,1344.72 L273.31,1360.08 L273.65,1354.45 L273.99,1380.84 L274.32,1317.49 L274.66,1357.70 L274.99,1331.75 L275.33,1360.76 L275.66,1344.30 L276.00,1331.70 L276.33,1352.36 L276.67,1364.78 L277.00,1294.11 L277.34,1350.98 L277.67,1333.69 L278.01,1348.54 L278.35,1364.36 L278.68,1317.11 L279.02,1338.17 L279.35,1339.42 L279.69,1398.84 L280.02,1340.87 L280.36,1328.47 L280.69,1341.19 L281.03,1351.07 L281.36,1320.83 L281.70,1342.37 L282.03,1334.92 L282.37,1324.72 L282.71,1325.65 L283.04,1393.22 L283.38,1340.90 L283.71,1365.82 L284.05,1394.06 L284.38,1342.40 L284.72,1388.17 L285.05,1359.59 L285.39,1401.05 L285.72,1372.31 L286.06,1359.99 L286.39,1349.69 L286.73,1361.79 L287.07,1370.56 L287.40,1370.14 L287.74,1315.48 L288.07,1360.67 L288.41,1352.39 L288.74,1307.93 L289.08,1389.59 L289.41,1397.03 L289.75,1373.61 L290.08,1359.64 L290.42,1376.63 L290.75,1351.94 L291.09,1353.09 L291.42,1386.01 L291.76,1347.59 L292.10,1383.44 L292.43,1335.54 L292.77,1346.28 L293.10,1267.17 L293.44,1332.78 L293.77,1355.93 L294.11,1343.63 L294.44,1348.07 L294.78,1367.97 L295.11,1383.97 L295.45,1326.71 L295.78,1317.28 L296.12,1361.76 L296.46,1357.15 L296.79,1362.23 L297.13,1328.67 L297.46,1324.19 L297.80,1370.91 L298.13,1358.98 L298.47,1363.37 L298.80,1346.54 L299.14,1334.09 L299.47,1327.32 L299.81,1357.53 L300.14,1373.41 L300.48,1339.22 L300.82,1337.98 L301.15,1359.17 L301.49,1347.51 L301.82,1343.24 L302.16,1331.52 L302.49,1349.67 L302.83,1340.34 L303.16,1347.24 L303.50,1372.93 L303.83,1335.44 L304.17,1349.00 L304.50,1327.57 L304.84,1377.84 L305.18,1366.97 L305.51,1343.89 L305.85,1389.72 L306.18,1354.21 L306.52,1361.26 L306.85,1360.52 L307.19,1356.87 L307.52,1401.22 L307.86,1350.27 L308.19,1349.54 L308.53,1327.65 L308.86,1403.72 L309.20,1343.24 L309.54,1330.44 L309.87,1402.81 L310.21,1338.93 L310.54,1326.41 L310.88,1331.68 L311.21,1345.88 L311.55,1359.19 L311.88,1359.38 L312.22,1350.68 L312.55,1341.58 L312.89,1338.38 L313.22,1353.32 L313.56,1379.39 L313.90,1310.30 L314.23,1370.62 L314.57,1402.81 L314.90,1319.21 L315.24,1328.47 L315.57,1346.97 L315.91,1329.37 L316.24,1341.22 L316.58,1369.88 L316.91,1348.59 L317.25,1378.93 L317.58,1365.78 L317.92,1370.65 L318.25,1288.18 L318.59,1327.34 L318.93,1365.68 L319.26,1340.87 L319.60,1399.04 L319.93,1375.26 L320.27,1339.19 L320.60,1329.71 L320.94,1330.04 L321.27,1327.21 L321.61,1387.97 L321.94,1362.88 L322.28,1402.81 L322.61,1354.70 L322.95,1345.93 L323.29,1358.82 L323.62,1372.00 L323.96,1341.57 L324.29,1339.27 L324.63,1348.20 L324.96,1364.74 L325.30,1350.24 L325.63,1349.29 L325.97,1345.20 L326.30,1337.24 L326.64,1351.81 L326.97,1383.63 L327.31,1357.35 L327.65,1342.87 L327.98,1361.07 L328.32,1346.31 L328.65,1366.57 L328.99,1321.07 L329.32,1342.14 L329.66,1348.06 L329.99,1334.22 L330.33,1334.07 L330.66,1349.18 L331.00,1328.74 L331.33,1336.50 L331.67,1416.85 L332.01,1351.14 L332.34,1376.07 L332.68,1346.87 L333.01,1347.22 L333.35,1369.90 L333.68,1320.66 L334.02,1351.30 L334.35,1375.26 L334.69,1360.58 L335.02,1352.15 L335.36,1352.00 L335.69,1368.71 L336.03,1350.41 L336.37,1383.90 L336.70,1360.84 L337.04,1341.45 L337.37,1366.31 L337.71,1336.70 L338.04,1333.23 L338.38,1364.55 L338.71,1402.81 L339.05,1331.45 L339.38,1320.97 L339.72,1386.90 L340.05,1346.49 L340.39,1343.88 L340.73,1387.44 L341.06,1363.21 L341.40,1323.00 L341.73,1346.02 L342.07,1350.54 L342.40,1324.92 L342.74,1364.08 L343.07,1391.24 L343.41,1320.48 L343.74,1368.29 L344.08,1350.80 L344.41,1324.58 L344.75,1344.32 L345.08,1346.80 L345.42,1364.13 L345.76,1337.45 L346.09,1301.12 L346.43,1363.34 L346.76,1375.40 L347.10,1343.53 L347.43,1366.71 L347.77,1347.47 L348.10,1349.75 L348.44,1339.13 L348.77,1345.76 L349.11,1343.16 L349.44,1321.64 L349.78,1371.90 L350.12,1349.06 L350.45,1342.91 L350.79,1377.42 L351.12,1371.33 L351.46,1357.57 L351.79,1362.12 L352.13,1324.99 L352.46,1347.12 L352.80,1299.60 L353.13,1358.49 L353.47,1357.06 L353.80,1299.60 L354.14,1362.61 L354.48,1300.77 L354.81,1402.81 L355.15,1414.23 L355.48,1318.56 L355.82,1314.22 L356.15,1339.68 L356.49,1364.51 L356.82,1353.04 L357.16,1332.41 L357.49,1342.78 L357.83,1328.49 L358.16,1366.02 L358.50,1331.09 L358.84,1320.93 L359.17,1299.54 L359.51,1333.37 L359.84,1333.75 L360.18,1368.48 L360.51,1379.61 L360.85,1400.89 L361.18,1339.05 L361.52,1303.92 L361.85,1351.60 L362.19,1402.56 L362.52,1345.00 L362.86,1353.95 L363.20,1357.67 L363.53,1309.68 L363.87,1321.32 L364.20,1315.50 L364.54,1366.85 L364.87,1340.85 L365.21,1373.67 L365.54,1323.18 L365.88,1374.05 L366.21,1320.49 L366.55,1343.16 L366.88,1343.59 L367.22,1381.15 L367.56,1332.79 L367.89,1389.75 L368.23,1376.76 L368.56,1369.79 L368.90,1302.11 L369.23,1346.25 L369.57,1364.03 L369.90,1336.84 L370.24,1298.56 L370.57,1352.16 L370.91,1372.43 L371.24,1373.69 L371.58,1349.84 L371.91,1310.77 L372.25,1351.75 L372.59,1353.96 L372.92,1370.91 L373.26,1374.28 L373.59,1325.00 L373.93,1340.71 L374.26,1339.16 L374.60,1379.54 L374.93,1335.85 L375.27,1341.18 L375.60,1314.22 L375.94,1324.50 L376.27,1353.81 L376.61,1340.97 L376.95,1341.23 L377.28,1350.66 L377.62,1368.17 L377.95,1328.12 L378.29,1297.84 L378.62,1350.55 L378.96,1311.27 L379.29,1355.69 L379.63,1356.09 L379.96,1348.95 L380.30,1355.05 L380.63,1326.31 L380.97,1322.01 L381.31,1401.26 L381.64,1329.78 L381.98,1411.60 L382.31,1308.65 L382.65,1368.36 L382.98,1345.14 L383.32,1320.51 L383.65,1327.77 L383.99,1313.32 L384.32,1365.65 L384.66,1363.17 L384.99,1334.55 L385.33,1378.94 L385.67,1337.76 L386.00,1326.68 L386.34,1340.03 L386.67,1378.36 L387.01,1360.87 L387.34,1355.00 L387.68,1338.36 L388.01,1342.26 L388.35,1357.68 L388.68,1386.00 L389.02,1389.31 L389.35,1370.90 L389.69,1371.58 L390.03,1362.53 L390.36,1372.64 L390.70,1351.76 L391.03,1362.15 L391.37,1343.96 L391.70,1348.53 L392.04,1335.02 L392.37,1370.25 L392.71,1368.55 L393.04,1373.61 L393.38,1346.35 L393.71,1331.86 L394.05,1322.22 L394.39,1344.53 L394.72,1351.43 L395.06,1331.51 L395.39,1349.36 L395.73,1370.86 L396.06,1331.37 L396.40,1357.69 L396.73,1381.64 L397.07,1352.35 L397.40,1366.86 L397.74,1349.00 L398.07,1364.38 L398.41,1355.42 L398.74,1361.80 L399.08,1350.79 L399.42,1334.99 L399.75,1342.46 L400.09,1347.97 L400.42,1293.43 L400.76,1378.71 L401.09,1344.10 L401.43,1321.37 L401.76,1335.15 L402.10,1322.33 L402.43,1368.73 L402.77,1321.79 L403.10,1363.58 L403.44,1322.09 L403.78,1341.90 L404.11,1328.16 L404.45,1365.29 L404.78,1352.45 L405.12,1389.20 L405.45,1339.26 L405.79,1330.52 L406.12,1338.75 L406.46,1321.39 L406.79,1333.01 L407.13,1343.65 L407.46,1333.93 L407.80,1358.74 L408.14,1325.36 L408.47,1340.00 L408.81,1338.59 L409.14,1349.20 L409.48,1359.15 L409.81,1367.49 L410.15,1352.20 L410.48,1329.66 L410.82,1385.82 L411.15,1343.00 L411.49,1294.89 L411.82,1340.33 L412.16,1348.48 L412.50,1336.00 L412.83,1347.73 L413.17,1342.08 L413.50,1340.71 L413.84,1366.52 L414.17,1316.90 L414.51,1339.09 L414.84,1318.64 L415.18,1339.99 L415.51,1319.62 L415.85,1342.36 L416.18,1294.48 L416.52,1317.39 L416.86,1313.29 L417.19,1344.51 L417.53,1377.83 L417.86,1350.13 L418.20,1331.30 L418.53,1339.78 L418.87,1355.69 L419.20,1359.76 L419.54,1370.69 L419.87,1353.28 L420.21,1328.92 L420.54,1328.18 L420.88,1328.75 L421.22,1347.54 L421.55,1339.06 L421.89,1343.70 L422.22,1333.88 L422.56,1337.07 L422.89,1329.80 L423.23,1346.62 L423.56,1345.56 L423.90,1312.54 L424.23,1315.06 L424.57,1391.64 L424.90,1336.48 L425.24,1336.62 L425.57,1285.55 L425.91,1392.96 L426.25,1383.18 L426.58,1355.20 L426.92,1343.46 L427.25,1371.58 L427.59,1320.84 L427.92,1323.21 L428.26,1331.65 L428.59,1327.57 L428.93,1306.56 L429.26,1349.74 L429.60,1398.26 L429.93,1324.59 L430.27,1320.80 L430.61,1337.61 L430.94,1369.02 L431.28,1345.75 L431.61,1324.98 L431.95,1374.13 L432.28,1341.44 L432.62,1330.41 L432.95,1363.57 L433.29,1358.96 L433.62,1319.68 L433.96,1329.24 L434.29,1314.35 L434.63,1340.11 L434.97,1367.76 L435.30,1347.14 L435.64,1359.94 L435.97,1351.66 L436.31,1335.04 L436.64,1312.04 L436.98,1342.14 L437.31,1303.74 L437.65,1374.92 L437.98,1349.70 L438.32,1344.73 L438.65,1392.80 L438.99,1381.65 L439.33,1352.80 L439.66,1342.78 L440.00,1335.58 L440.33,1343.47 L440.67,1352.02 L441.00,1375.85 L441.34,1344.21 L441.67,1309.25 L442.01,1335.24 L442.34,1360.68 L442.68,1347.39 L443.01,1346.35 L443.35,1347.83 L443.69,1372.34 L444.02,1366.58 L444.36,1369.06 L444.69,1380.98 L445.03,1381.92 L445.36,1388.19 L445.70,1386.38 L446.03,1387.46 L446.37,1404.94 L446.70,1397.55 L446.97,1384.01 L447.04,1399.84 L447.37,1422.98 L447.71,1398.08 L448.05,1419.22 L448.38,1421.48 L448.72,1424.24 L449.05,1437.87 L449.39,1448.59 L449.55,1449.08 L449.72,1443.38 L450.06,1449.99 L450.39,1456.46 L450.73,1443.11 L451.06,1461.36 L451.40,1460.89 L451.73,1457.74 L452.07,1475.47 L452.27,1481.55 L452.40,1481.93 L452.74,1482.87 L453.08,1476.24 L453.41,1484.08 L453.75,1494.70 L454.08,1499.93 L454.42,1496.26 L454.75,1494.43 L454.99,1508.64 L455.09,1498.27 L455.42,1505.08 L455.76,1507.18 L456.09,1509.06 L456.43,1511.67 L456.76,1513.09 L457.10,1497.36 L457.44,1521.76 L457.77,1512.81 L458.11,1509.22 L458.44,1519.38 L458.78,1513.32 L459.11,1521.92 L459.45,1503.13 L459.78,1502.98 L460.12,1521.65 L460.45,1495.98 L460.79,1518.30 L461.12,1526.64 L461.46,1525.46 L461.80,1504.95 L462.13,1530.91 L462.47,1510.19 L462.80,1507.11 L463.14,1500.23 L463.47,1512.43 L463.81,1498.61 L464.14,1513.14 L464.48,1500.91 L464.81,1518.41 L465.15,1506.60 L465.48,1512.30 L465.82,1507.73 L466.16,1488.95 L466.49,1509.38 L466.83,1508.92 L467.16,1508.14 L467.50,1506.28 L467.83,1529.74 L468.17,1502.50 L468.50,1521.91 L468.84,1528.01 L469.17,1508.41 L469.51,1520.85 L469.84,1507.24 L470.18,1499.18 L470.52,1509.23 L470.85,1518.75 L471.19,1508.48 L471.52,1490.49 L471.86,1508.82 L472.19,1493.00 L472.53,1495.83 L472.86,1520.47 L473.20,1501.08 L473.53,1521.72 L473.87,1504.20 L474.20,1504.19 L474.54,1511.13 L474.88,1524.11 L475.21,1512.84 L475.55,1512.53 L475.88,1505.04 L476.22,1510.10 L476.55,1504.71 L476.89,1512.43 L477.22,1524.51 L477.56,1509.84 L477.89,1496.48 L478.23,1517.53 L478.56,1519.11 L478.90,1527.54 L479.23,1492.24 L479.57,1519.44 L479.91,1499.64 L480.24,1508.05 L480.58,1510.74 L480.91,1508.84 L481.25,1492.16 L481.58,1493.61 L481.92,1504.73 L482.25,1513.50 L482.59,1495.86 L482.92,1503.03 L483.26,1508.42 L483.59,1504.67 L483.93,1516.55 L484.27,1502.58 L484.60,1511.98 L484.94,1511.62 L485.27,1520.25 L485.61,1508.51 L485.94,1505.51 L486.28,1523.20 L486.61,1506.51 L486.95,1505.33 L487.28,1497.29 L487.62,1498.86 L487.95,1514.94 L488.29,1498.02 L488.63,1504.66 L488.96,1511.42 L489.30,1516.61 L489.63,1501.07 L489.97,1501.73 L490.30,1513.73 L490.64,1506.42 L490.97,1513.24 L491.31,1516.63 L491.64,1517.98 L491.98,1503.62 L492.31,1506.53 L492.65,1505.95 L492.99,1507.25 L493.32,1508.83 L493.66,1500.78 L493.99,1524.58 L494.33,1501.83 L494.66,1519.95 L495.00,1511.21 L495.33,1508.24 L495.67,1509.10 L496.00,1505.10 L496.34,1517.52 L496.67,1493.67 L497.01,1499.12 L497.35,1504.37 L497.68,1502.53 L498.02,1512.86 L498.35,1525.47 L498.69,1523.50 L499.02,1504.73 L499.36,1530.82 L499.69,1494.64 L500.03,1505.12 L500.36,1517.90 L500.70,1514.20 L501.03,1523.99 L501.37,1510.17 L501.71,1505.50 L502.04,1497.77 L502.38,1520.98 L502.71,1499.02 L503.05,1506.90 L503.38,1509.77 L503.72,1508.65 L504.05,1505.49 L504.39,1491.69 L504.72,1494.97 L505.06,1501.14 L505.39,1515.78 L505.73,1510.94 L506.06,1500.40 L506.40,1505.28 L506.74,1516.14 L507.07,1498.13 L507.41,1492.41 L507.74,1496.25 L508.08,1496.69 L508.41,1491.68 L508.55,1495.07 L508.75,1494.42 L509.08,1484.71 L509.42,1484.99 L509.75,1476.67 L510.09,1466.95 L510.42,1473.80 L510.76,1473.74 L511.10,1470.32 L511.43,1466.26 L511.77,1457.92 L512.07,1462.84 L512.10,1458.57 L512.44,1465.61 L512.77,1461.29 L513.11,1452.90 L513.44,1442.04 L513.78,1449.75 L514.11,1431.58 L514.45,1442.19 L514.78,1430.91 L515.12,1417.62 L515.46,1390.52 L515.79,1395.31 L516.13,1380.17 L516.46,1360.51 L516.56,1347.22 L516.80,1328.74 L517.13,1320.67 L517.47,1290.36 L517.80,1275.85 L518.14,1223.13 L518.37,1223.36 L518.47,1214.71 L518.81,1227.40 L519.14,1178.86 L519.48,1164.34 L519.61,1141.00 L519.82,1183.66 L520.15,1163.10 L520.49,1189.13 L520.82,1206.99 L521.09,1241.42 L521.16,1212.38 L521.49,1266.55 L521.83,1301.10 L521.96,1317.84 L522.16,1330.79 L522.50,1343.15 L522.83,1359.76 L523.17,1368.79 L523.50,1390.14 L523.77,1413.05 L523.84,1409.65 L524.18,1421.41 L524.51,1449.15 L524.85,1462.63 L525.18,1473.40 L525.52,1494.27 L525.85,1505.08 L526.19,1503.49 L526.52,1508.09 L526.86,1518.04 L527.19,1528.90 L527.29,1528.10 L527.53,1537.81 L527.86,1536.70 L528.20,1538.91 L528.54,1542.56 L528.87,1542.23 L529.21,1542.12 L529.54,1540.14 L529.88,1540.72 L530.21,1539.24 L530.55,1537.58 L530.88,1541.93 L531.22,1540.27 L531.55,1539.56 L531.89,1542.90 L532.22,1541.10 L532.56,1542.90 L532.89,1542.54 L533.23,1542.90 L533.57,1538.17 L533.90,1542.18 L534.24,1542.29 L534.57,1539.03 L534.91,1541.12 L535.24,1542.90 L535.58,1538.21 L535.91,1538.49 L536.25,1541.57 L536.58,1542.90 L536.92,1542.46 L537.25,1542.90 L537.59,1537.10 L537.93,1542.54 L538.26,1539.05 L538.60,1537.93 L538.93,1540.13 L539.27,1540.09 L539.60,1537.84 L539.94,1538.97 L540.27,1542.90 L540.61,1538.42 L540.94,1542.90 L541.28,1542.46 L541.61,1538.99 L541.95,1542.90 L542.29,1538.44 L542.62,1535.74 L542.96,1541.40 L543.29,1542.90 L543.63,1537.05 L543.96,1542.90 L544.30,1542.90 L544.63,1542.90 L544.97,1542.28 L545.30,1542.61 L545.64,1536.51 L545.97,1542.90 L546.31,1542.90 L546.65,1542.90 L546.98,1542.14 L547.32,1537.14 L547.65,1542.90 L547.99,1541.57 L548.32,1539.37 L548.66,1541.81 L548.99,1541.71 L549.33,1542.01 L549.66,1540.26 L550.00,1542.84 L550.33,1537.67 L550.67,1542.90 L551.01,1538.84 L551.34,1538.54 L551.68,1540.96 L552.01,1541.78 L552.35,1538.13 L552.68,1542.90 L553.02,1541.58 L553.35,1542.90 L553.69,1540.39 L554.02,1542.90 L554.36,1542.55 L554.69,1539.43 L555.03,1541.07 L555.37,1540.43 L555.70,1537.21 L556.04,1542.90 L556.37,1542.34 L556.71,1540.93 L557.04,1537.65 L557.38,1542.90 L557.71,1541.26 L558.05,1539.70 L558.38,1542.90 L558.72,1542.02 L559.05,1540.96 L559.39,1542.21 L559.72,1539.59 L560.06,1538.85 L560.40,1541.90 L560.73,1539.36 L561.07,1539.85 L561.40,1540.92 L561.74,1542.65 L562.07,1537.08 L562.41,1542.90 L562.74,1540.31 L563.08,1538.91 L563.41,1542.90 L563.75,1542.47 L564.08,1542.90 L564.42,1541.38 L564.76,1539.42 L565.09,1542.55 L565.43,1540.75 L565.76,1539.21 L566.10,1542.62 L566.43,1541.57 L566.77,1542.90 L567.10,1539.69 L567.44,1541.53 L567.77,1537.44 L568.11,1537.97 L568.44,1542.90 L568.78,1540.42 L569.12,1540.35 L569.45,1540.48 L569.79,1539.98 L570.12,1541.37 L570.46,1538.58 L570.79,1539.29 L571.13,1539.87 L571.46,1542.15 L571.80,1538.13 L572.13,1542.90 L572.47,1538.44 L572.80,1539.39 L573.14,1542.81 L573.48,1539.77 L573.81,1535.36 L574.15,1540.72 L574.48,1542.23 L574.82,1540.36 L575.15,1539.41 L575.49,1536.64 L575.82,1541.24 L576.16,1538.50 L576.49,1540.31 L576.83,1537.89 L577.16,1539.80 L577.50,1542.90 L577.84,1539.05 L578.17,1538.13 L578.51,1541.25 L578.84,1542.90 L579.18,1542.90 L579.51,1540.71 L579.85,1539.15 L580.18,1542.00 L580.52,1538.42 L580.85,1542.01 L581.19,1542.90 L581.52,1539.76 L581.86,1542.40 L582.20,1537.70 L582.53,1538.22 L582.87,1541.75 L583.20,1542.27 L583.54,1540.28 L583.87,1538.12 L584.21,1540.49 L584.54,1541.10 L584.88,1538.26 L585.21,1539.23 L585.55,1542.37 L585.88,1542.34 L586.22,1542.90 L586.55,1541.38 L586.89,1541.71 L587.23,1539.70 L587.56,1542.43 L587.90,1541.83 L588.23,1541.75 L588.57,1542.07 L588.90,1541.55 L589.24,1542.23 L589.57,1538.08 L589.91,1541.22 L590.24,1539.94 L590.58,1540.02 L590.91,1542.90 L591.25,1542.90 L591.59,1542.90 L591.92,1541.74 L592.26,1540.91 L592.59,1542.90 L592.93,1539.43 L593.26,1541.73 L593.60,1539.03 L593.93,1542.90 L594.27,1542.90 L594.60,1539.68 L594.94,1539.88 L595.27,1535.65 L595.61,1540.75 L595.95,1540.23 L596.28,1536.87 L596.62,1542.90 L596.95,1542.90 L597.29,1542.90 L597.62,1540.19 L597.96,1541.60 L598.29,1539.77 L598.63,1542.90 L598.96,1542.78 L599.30,1541.17 L599.63,1541.54 L599.97,1541.82 L600.31,1538.65 L600.64,1542.85 L600.98,1542.28 L601.31,1542.34 L601.65,1539.68 L601.98,1542.90 L602.32,1542.90 L602.65,1542.90 L602.99,1542.90 L603.32,1541.73 L603.66,1542.78 L603.99,1542.90 L604.33,1542.58 L604.67,1541.18 L605.00,1537.57 L605.34,1541.53 L605.67,1538.09 L606.01,1540.82 L606.34,1538.15 L606.68,1542.90 L607.01,1542.90 L607.35,1541.81 L607.68,1542.02 L608.02,1541.20 L608.35,1540.21 L608.69,1542.90 L609.03,1540.76 L609.36,1542.57 L609.70,1536.61 L610.03,1541.68 L610.37,1542.30 L610.70,1537.05 L611.04,1542.90 L611.37,1537.27 L611.71,1540.30 L612.04,1542.15 L612.38,1542.11 L612.71,1541.06 L613.05,1540.38 L613.38,1542.85 L613.72,1540.24 L614.06,1539.41 L614.39,1541.07 L614.73,1537.49 L615.06,1542.90 L615.40,1540.81 L615.73,1538.78 L616.07,1539.99 L616.40,1537.55 L616.74,1538.79 L617.07,1542.90 L617.41,1537.67 L617.74,1542.36 L618.08,1538.34 L618.42,1540.86 L618.75,1538.31 L619.09,1542.90 L619.42,1539.23 L619.76,1541.30 L620.09,1537.31 L620.43,1537.20 L620.76,1537.65 L621.10,1541.22 L621.43,1540.74 L621.77,1542.85 L622.10,1541.01 L622.44,1540.59 L622.78,1539.58 L623.11,1537.58 L623.45,1542.88 L623.78,1540.38 L624.12,1539.33 L624.45,1541.18 L624.79,1542.90 L625.12,1541.91 L625.46,1542.27 L625.79,1542.90 L626.13,1540.40 L626.46,1541.81 L626.80,1541.50" stroke="#0000ff" stroke-width="1.45" fill="none" stroke-linejoin="round" />
</g>
<text x="434.93" y="1171.30" font-size="15.34" fill="#000" xml:space="preserve">1.275 MeV</text>
<text x="567.73" y="1176.70" font-size="22.20" fill="#000" xml:space="preserve">22</text>
<text x="592.88" y="1187.70" font-size="21.27" fill="#000" xml:space="preserve">Na</text>
<text x="352.52" y="1244.20" font-size="19.10" fill="#000" xml:space="preserve">Resolution:  ~1%</text>
<text x="136.52" y="1522.00" font-size="19.15" fill="#000" xml:space="preserve">Bias voltage: 3000V</text>
<path d="M90.20,1542.90V1553.90 M157.27,1542.90V1553.90 M224.35,1542.90V1553.90 M291.42,1542.90V1553.90 M358.50,1542.90V1553.90 M425.57,1542.90V1553.90 M492.65,1542.90V1553.90 M559.72,1542.90V1553.90 M626.80,1542.90V1553.90 M123.74,1542.90V1549.40 M190.81,1542.90V1549.40 M257.89,1542.90V1549.40 M324.96,1542.90V1549.40 M392.04,1542.90V1549.40 M459.11,1542.90V1549.40 M526.19,1542.90V1549.40 M593.26,1542.90V1549.40 M90.20,1542.90H79.20 M90.20,1490.38H79.20 M90.20,1437.86H79.20 M90.20,1385.34H79.20 M90.20,1332.82H79.20 M90.20,1280.30H79.20 M90.20,1227.78H79.20 M90.20,1175.26H79.20 M90.20,1516.64H83.70 M90.20,1464.12H83.70 M90.20,1411.60H83.70 M90.20,1359.08H83.70 M90.20,1306.56H83.70 M90.20,1254.04H83.70 M90.20,1201.52H83.70 M90.20,1149.00H83.70" stroke="#000" stroke-width="3.4" stroke-linecap="round" fill="none"/>
<rect x="90.20" y="1149.00" width="536.60" height="393.90" stroke="#000" stroke-width="3.8" stroke-linejoin="round" fill="none"/>
<text x="84.38" y="1575.90" font-size="21.00" fill="#000" xml:space="preserve">0</text>
<text x="139.82" y="1575.90" font-size="21.00" fill="#000" xml:space="preserve">200</text>
<text x="207.10" y="1575.90" font-size="21.00" fill="#000" xml:space="preserve">400</text>
<text x="273.95" y="1575.90" font-size="21.00" fill="#000" xml:space="preserve">600</text>
<text x="341.08" y="1575.90" font-size="21.00" fill="#000" xml:space="preserve">800</text>
<text x="401.99" y="1575.90" font-size="21.00" fill="#000" xml:space="preserve">1000</text>
<text x="469.06" y="1575.90" font-size="21.00" fill="#000" xml:space="preserve">1200</text>
<text x="536.14" y="1575.90" font-size="21.00" fill="#000" xml:space="preserve">1400</text>
<text x="603.21" y="1575.90" font-size="21.00" fill="#000" xml:space="preserve">1600</text>
<text x="62.18" y="1548.50" font-size="21.00" fill="#000" xml:space="preserve">0</text>
<text x="50.50" y="1495.98" font-size="21.00" fill="#000" xml:space="preserve">20</text>
<text x="50.50" y="1443.46" font-size="21.00" fill="#000" xml:space="preserve">40</text>
<text x="50.50" y="1390.94" font-size="21.00" fill="#000" xml:space="preserve">60</text>
<text x="50.50" y="1338.42" font-size="21.00" fill="#000" xml:space="preserve">80</text>
<text x="38.82" y="1285.90" font-size="21.00" fill="#000" xml:space="preserve">100</text>
<text x="38.82" y="1233.38" font-size="21.00" fill="#000" xml:space="preserve">120</text>
<text x="38.82" y="1180.86" font-size="21.00" fill="#000" xml:space="preserve">140</text>
<defs><clipPath id="ov3"><rect x="90.20" y="1541.00" width="536.60" height="3.8"/></clipPath></defs>
<path clip-path="url(#ov3)" d="M90.2,1542.9 L90.5,1542.9 L90.9,1542.9 L91.2,1542.9 L91.5,1542.9 L91.9,1542.9 L92.2,1542.9 L92.5,1542.9 L92.9,1542.9 L93.2,1542.9 L93.6,1542.9 L93.9,1542.9 L94.2,1542.9 L94.6,1542.9 L94.9,1542.9 L95.2,1542.9 L95.6,1542.9 L95.9,1542.9 L96.2,1542.9 L96.6,1542.9 L96.9,1542.9 L97.2,1542.9 L97.6,1542.9 L97.9,1542.9 L98.2,1542.9 L98.6,1542.9 L98.9,1542.9 L99.3,1542.9 L99.6,1540.3M101.6,1540.3 L101.9,1542.9 L102.3,1542.9 L102.6,1542.9 L102.9,1542.9 L103.3,1542.9 L103.6,1542.9 L104.0,1542.9 L104.3,1542.9 L104.6,1542.9 L105.0,1542.9 L105.3,1542.9 L105.6,1542.9 L106.0,1542.9 L106.3,1542.9 L106.6,1542.9 L107.0,1542.9 L107.3,1542.9 L107.6,1542.9 L108.0,1542.9 L108.3,1542.9 L108.6,1542.9 L109.0,1542.9 L109.3,1542.9 L109.7,1542.9 L110.0,1542.9 L110.3,1542.9 L110.7,1542.9 L111.0,1542.9 L111.3,1542.9 L111.7,1542.9 L112.0,1542.9 L112.3,1542.9 L112.7,1542.9 L113.0,1542.9 L113.3,1542.9 L113.7,1542.9 L114.0,1542.9 L114.3,1542.9 L114.7,1542.9 L115.0,1542.9 L115.4,1542.9 L115.7,1542.9 L116.0,1542.9 L116.4,1542.9 L116.7,1542.9 L117.0,1542.9 L117.4,1542.9 L117.7,1542.9 L118.0,1542.9 L118.4,1542.9 L118.7,1542.9 L119.0,1542.9 L119.4,1542.9 L119.7,1542.9 L120.0,1542.9 L120.4,1542.9 L120.6,1542.9 L120.7,1542.9 L120.9,1542.9 L121.1,1140.0M528.2,1538.9 L528.5,1542.6 L528.9,1542.2 L529.2,1542.1 L529.5,1540.1 L529.9,1540.7 L530.2,1539.2M530.5,1537.6 L530.9,1541.9 L531.2,1540.3M531.6,1539.6 L531.9,1542.9 L532.2,1541.1 L532.6,1542.9 L532.9,1542.5 L533.2,1542.9 L533.6,1538.2 L533.9,1542.2 L534.2,1542.3 L534.6,1539.0 L534.9,1541.1 L535.2,1542.9 L535.6,1538.2M535.9,1538.5 L536.2,1541.6 L536.6,1542.9 L536.9,1542.5 L537.3,1542.9 L537.6,1537.1 L537.9,1542.5 L538.3,1539.0M539.9,1539.0 L540.3,1542.9 L540.6,1538.4 L540.9,1542.9 L541.3,1542.5 L541.6,1539.0 L542.0,1542.9 L542.3,1538.4M542.6,1535.7 L543.0,1541.4 L543.3,1542.9 L543.6,1537.1 L544.0,1542.9 L544.3,1542.9 L544.6,1542.9 L545.0,1542.3 L545.3,1542.6 L545.6,1536.5 L546.0,1542.9 L546.3,1542.9 L546.6,1542.9 L547.0,1542.1 L547.3,1537.1 L547.7,1542.9 L548.0,1541.6 L548.3,1539.4 L548.7,1541.8 L549.0,1541.7 L549.3,1542.0 L549.7,1540.3 L550.0,1542.8 L550.3,1537.7 L550.7,1542.9 L551.0,1538.8M551.3,1538.5 L551.7,1541.0 L552.0,1541.8 L552.3,1538.1 L552.7,1542.9 L553.0,1541.6 L553.4,1542.9 L553.7,1540.4 L554.0,1542.9 L554.4,1542.5 L554.7,1539.4 L555.0,1541.1 L555.4,1540.4 L555.7,1537.2 L556.0,1542.9 L556.4,1542.3 L556.7,1540.9 L557.0,1537.7 L557.4,1542.9 L557.7,1541.3 L558.0,1539.7 L558.4,1542.9 L558.7,1542.0 L559.1,1541.0 L559.4,1542.2 L559.7,1539.6M560.1,1538.8 L560.4,1541.9 L560.7,1539.4M561.1,1539.9 L561.4,1540.9 L561.7,1542.6 L562.1,1537.1 L562.4,1542.9 L562.7,1540.3M563.1,1538.9 L563.4,1542.9 L563.7,1542.5 L564.1,1542.9 L564.4,1541.4 L564.8,1539.4 L565.1,1542.5 L565.4,1540.8 L565.8,1539.2 L566.1,1542.6 L566.4,1541.6 L566.8,1542.9 L567.1,1539.7 L567.4,1541.5 L567.8,1537.4M568.1,1538.0 L568.4,1542.9 L568.8,1540.4 L569.1,1540.4 L569.5,1540.5 L569.8,1540.0 L570.1,1541.4 L570.5,1538.6M571.1,1539.9 L571.5,1542.2 L571.8,1538.1 L572.1,1542.9 L572.5,1538.4M572.8,1539.4 L573.1,1542.8 L573.5,1539.8M573.8,1535.4 L574.1,1540.7 L574.5,1542.2 L574.8,1540.4M575.5,1536.6 L575.8,1541.2 L576.2,1538.5M577.2,1539.8 L577.5,1542.9 L577.8,1539.0M578.2,1538.1 L578.5,1541.2 L578.8,1542.9 L579.2,1542.9 L579.5,1540.7 L579.8,1539.2 L580.2,1542.0 L580.5,1538.4 L580.9,1542.0 L581.2,1542.9 L581.5,1539.8 L581.9,1542.4 L582.2,1537.7M582.5,1538.2 L582.9,1541.7 L583.2,1542.3 L583.5,1540.3M583.9,1538.1 L584.2,1540.5 L584.5,1541.1 L584.9,1538.3M585.2,1539.2 L585.5,1542.4 L585.9,1542.3 L586.2,1542.9 L586.6,1541.4 L586.9,1541.7 L587.2,1539.7 L587.6,1542.4 L587.9,1541.8 L588.2,1541.8 L588.6,1542.1 L588.9,1541.5 L589.2,1542.2 L589.6,1538.1 L589.9,1541.2 L590.2,1539.9M590.6,1540.0 L590.9,1542.9 L591.3,1542.9 L591.6,1542.9 L591.9,1541.7 L592.3,1540.9 L592.6,1542.9 L592.9,1539.4 L593.3,1541.7 L593.6,1539.0 L593.9,1542.9 L594.3,1542.9 L594.6,1539.7M595.3,1535.7 L595.6,1540.8 L595.9,1540.2M596.3,1536.9 L596.6,1542.9 L597.0,1542.9 L597.3,1542.9 L597.6,1540.2 L598.0,1541.6 L598.3,1539.8 L598.6,1542.9 L599.0,1542.8 L599.3,1541.2 L599.6,1541.5 L600.0,1541.8 L600.3,1538.7 L600.6,1542.8 L601.0,1542.3 L601.3,1542.3 L601.6,1539.7 L602.0,1542.9 L602.3,1542.9 L602.7,1542.9 L603.0,1542.9 L603.3,1541.7 L603.7,1542.8 L604.0,1542.9 L604.3,1542.6 L604.7,1541.2 L605.0,1537.6 L605.3,1541.5 L605.7,1538.1 L606.0,1540.8 L606.3,1538.1 L606.7,1542.9 L607.0,1542.9 L607.3,1541.8 L607.7,1542.0 L608.0,1541.2 L608.4,1540.2 L608.7,1542.9 L609.0,1540.8 L609.4,1542.6 L609.7,1536.6 L610.0,1541.7 L610.4,1542.3 L610.7,1537.1 L611.0,1542.9 L611.4,1537.3M611.7,1540.3 L612.0,1542.2 L612.4,1542.1 L612.7,1541.1 L613.0,1540.4 L613.4,1542.8 L613.7,1540.2M614.1,1539.4 L614.4,1541.1 L614.7,1537.5 L615.1,1542.9 L615.4,1540.8 L615.7,1538.8M616.7,1538.8 L617.1,1542.9 L617.4,1537.7 L617.7,1542.4 L618.1,1538.3 L618.4,1540.9 L618.8,1538.3 L619.1,1542.9 L619.4,1539.2 L619.8,1541.3 L620.1,1537.3M620.8,1537.7 L621.1,1541.2 L621.4,1540.7 L621.8,1542.9 L622.1,1541.0 L622.4,1540.6 L622.8,1539.6M623.1,1537.6 L623.4,1542.9 L623.8,1540.4M624.1,1539.3 L624.5,1541.2 L624.8,1542.9 L625.1,1541.9 L625.5,1542.3 L625.8,1542.9 L626.1,1540.4 L626.5,1541.8 L626.8,1541.5" stroke="#000096" stroke-width="1.2" fill="none"/>
<text x="212.80" y="1611.90" font-size="24.46" fill="#000" xml:space="preserve">Channel number (a. u.)</text>
<text transform="translate(20.50,1424.11) rotate(-90)" x="0" y="0" font-size="24.71" fill="#000" xml:space="preserve">Counts (a. u.)</text>
<text x="342.79" y="1658.30" font-size="34.39" fill="#000" xml:space="preserve">(e)</text>
<path d="M808.60,1545.00 L808.88,1545.00 L809.15,1545.00 L809.43,1545.00 L809.70,1545.00 L809.98,1545.00 L810.25,1545.00 L810.53,1545.00 L810.80,1545.00 L811.08,1545.00 L811.35,1545.00 L811.63,1545.00 L811.90,1545.00 L812.18,1545.00 L812.45,1545.00 L812.73,1545.00 L813.00,1545.00 L813.28,1545.00 L813.55,1545.00 L813.83,1545.00 L814.11,1545.00 L814.38,1545.00 L814.66,1545.00 L814.93,1545.00 L815.21,1545.00 L815.48,1545.00 L815.76,1545.00 L816.03,1545.00 L816.31,1545.00 L816.58,1545.00 L816.86,1545.00 L817.13,1545.00 L817.41,1545.00 L817.68,1545.00 L817.96,1545.00 L818.23,1545.00 L818.51,1545.00 L818.78,1545.00 L819.06,1545.00 L819.33,1545.00 L819.61,1545.00 L819.83,1545.00 L819.89,1543.91 L820.16,1538.44 L820.27,1536.25 L820.44,1523.81 L820.60,1511.36 L820.71,1372.01 L820.99,1227.02 L821.04,1198.02 L821.26,1251.56 L821.54,1318.48 L821.76,1372.01 L821.81,1395.24 L822.09,1511.36 L822.36,1523.81 L822.64,1536.25 L822.91,1539.62 L823.19,1542.98 L823.46,1544.24 L823.63,1545.00 L823.74,1545.00 L824.01,1545.00 L824.29,1545.00 L824.56,1545.00 L824.84,1545.00 L825.12,1545.00 L825.28,1545.00 L825.39,1543.06 L825.67,1538.20 L825.78,1536.25 L825.94,1527.95 L826.22,1514.12 L826.27,1511.36 L826.49,1457.15 L826.55,1443.60 L826.77,1422.72 L827.04,1396.62 L827.21,1380.96 L827.32,1387.23 L827.59,1402.89 L827.87,1418.55 L828.14,1434.21 L828.31,1443.60 L828.42,1453.28 L828.69,1477.48 L828.97,1501.68 L829.08,1511.36 L829.24,1515.03 L829.52,1521.14 L829.68,1524.82 L829.79,1525.99 L830.07,1528.93 L830.29,1531.33 L830.34,1531.69 L830.62,1531.06 L830.90,1529.27 L831.17,1530.01 L831.45,1530.64 L831.72,1530.53 L832.00,1530.53 L832.27,1529.38 L832.55,1529.08 L832.82,1530.13 L832.99,1528.57 L833.10,1529.21 L833.37,1527.42 L833.65,1528.03 L833.92,1526.53 L834.20,1527.85 L834.47,1527.36 L834.75,1526.54 L835.02,1525.58 L835.30,1525.59 L835.41,1526.87 L835.57,1521.83 L835.74,1518.09 L835.85,1516.92 L836.12,1514.00 L836.40,1511.08 L836.68,1508.16 L836.95,1505.24 L837.23,1502.32 L837.28,1501.74 L837.50,1503.96 L837.78,1506.74 L838.05,1509.52 L838.33,1512.30 L838.60,1515.07 L838.77,1516.74 L838.88,1517.63 L839.15,1519.85 L839.32,1521.64 L839.43,1521.42 L839.70,1523.60 L839.98,1525.28 L840.25,1524.74 L840.53,1526.43 L840.80,1527.44 L841.08,1526.14 L841.35,1526.46 L841.63,1524.95 L841.91,1525.25 L842.18,1525.25 L842.46,1524.86 L842.73,1523.77 L842.84,1523.37 L843.01,1524.22 L843.28,1524.41 L843.56,1526.09 L843.83,1525.48 L844.11,1526.49 L844.38,1524.75 L844.66,1523.56 L844.93,1523.92 L845.21,1524.11 L845.48,1527.39 L845.76,1526.61 L846.03,1527.32 L846.31,1528.54 L846.47,1530.52 L846.58,1529.15 L846.86,1527.04 L847.13,1528.53 L847.36,1526.19 L847.41,1525.59 L847.69,1526.46 L847.96,1524.89 L848.24,1525.69 L848.51,1524.78 L848.79,1524.08 L849.06,1522.52 L849.23,1522.34 L849.34,1521.00 L849.61,1521.61 L849.89,1519.83 L850.16,1518.65 L850.27,1518.22 L850.44,1515.08 L850.71,1509.86 L850.99,1504.63 L851.26,1394.12 L851.32,1372.01 L851.54,1321.07 L851.70,1282.86 L851.81,1267.15 L852.09,1227.87 L852.36,1188.59 L852.64,1149.31 L852.92,1191.04 L853.19,1232.78 L853.47,1274.52 L853.52,1282.86 L853.74,1318.52 L854.02,1363.10 L854.07,1372.01 L854.29,1407.73 L854.57,1452.38 L854.84,1497.03 L855.01,1507.99 L855.12,1512.95 L855.39,1525.33 L855.56,1533.67 L855.67,1533.75 L855.94,1533.48 L856.22,1533.13 L856.38,1533.65 L856.49,1533.50 L856.77,1534.65 L857.04,1534.89 L857.32,1535.83 L857.59,1535.76 L857.87,1535.69 L858.14,1536.60 L858.42,1536.63 L858.70,1537.60 L858.97,1538.03 L859.14,1537.98 L859.25,1537.86 L859.52,1536.88 L859.80,1536.50 L860.07,1535.59 L860.35,1536.55 L860.62,1536.48 L860.90,1536.83 L861.17,1536.18 L861.45,1535.75 L861.72,1536.45 L862.00,1536.01 L862.27,1535.52 L862.55,1535.92 L862.82,1536.07 L863.10,1535.18 L863.37,1535.59 L863.65,1535.36 L863.93,1535.19 L864.20,1535.46 L864.48,1536.52 L864.75,1536.87 L865.03,1536.36 L865.30,1536.51 L865.58,1537.38 L865.85,1535.61 L866.13,1536.21 L866.40,1535.74 L866.68,1536.70 L866.95,1535.29 L867.23,1536.24 L867.50,1535.88 L867.78,1536.49 L868.05,1535.71 L868.33,1535.64 L868.60,1535.52 L868.88,1535.06 L869.15,1535.18 L869.43,1534.55 L869.71,1535.28 L869.98,1535.48 L870.26,1535.14 L870.53,1535.00 L870.81,1534.89 L871.08,1535.16 L871.36,1536.63 L871.63,1535.47 L871.91,1534.91 L872.18,1535.71 L872.46,1536.07 L872.73,1535.85 L873.01,1536.52 L873.28,1536.15 L873.56,1536.73 L873.83,1536.24 L874.11,1536.94 L874.38,1537.79 L874.66,1537.37 L874.94,1537.45 L875.21,1538.41 L875.49,1538.04 L875.76,1538.68 L876.04,1536.77 L876.31,1537.23 L876.59,1537.97 L876.86,1537.73 L877.14,1536.87 L877.41,1536.30 L877.69,1536.69 L877.96,1536.34 L878.24,1537.23 L878.51,1537.41 L878.79,1536.30 L879.06,1536.57 L879.34,1536.90 L879.61,1536.28 L879.89,1537.49 L880.16,1537.28 L880.44,1536.34 L880.72,1535.73 L880.99,1536.50 L881.27,1535.42 L881.54,1536.46 L881.82,1535.77 L882.09,1535.86 L882.37,1536.47 L882.64,1535.53 L882.92,1535.25 L883.19,1535.93 L883.47,1535.98 L883.74,1535.28 L884.02,1536.80 L884.29,1537.02 L884.40,1536.60 L884.57,1536.81 L884.84,1535.29 L885.12,1535.70 L885.39,1536.20 L885.67,1535.92 L885.95,1534.06 L886.22,1536.05 L886.50,1536.20 L886.77,1535.68 L887.05,1535.57 L887.32,1535.86 L887.60,1536.54 L887.87,1536.75 L888.15,1535.86 L888.42,1536.28 L888.70,1537.07 L888.97,1535.48 L889.25,1535.63 L889.52,1536.12 L889.80,1536.06 L890.07,1535.72 L890.35,1536.16 L890.62,1536.46 L890.90,1535.47 L891.17,1536.38 L891.45,1535.48 L891.73,1536.60 L892.00,1535.97 L892.28,1536.10 L892.55,1535.18 L892.83,1536.82 L893.10,1536.91 L893.38,1536.38 L893.65,1536.53 L893.93,1536.13 L894.20,1535.46 L894.48,1535.15 L894.75,1534.54 L895.03,1535.77 L895.30,1533.75 L895.58,1534.00 L895.85,1535.14 L896.13,1536.23 L896.40,1535.10 L896.68,1535.16 L896.96,1536.64 L897.23,1535.45 L897.51,1535.75 L897.78,1536.22 L898.06,1535.82 L898.33,1536.00 L898.61,1537.15 L898.88,1537.16 L899.16,1537.97 L899.43,1538.40 L899.71,1538.36 L899.76,1538.23 L899.98,1538.87 L900.26,1539.78 L900.53,1538.68 L900.81,1539.82 L901.08,1539.23 L901.36,1538.69 L901.63,1539.62 L901.91,1540.13 L902.18,1540.26 L902.46,1539.17 L902.74,1539.69 L903.01,1539.47 L903.29,1539.32 L903.56,1539.75 L903.84,1539.87 L904.11,1540.15 L904.39,1541.05 L904.66,1540.42 L904.94,1539.83 L905.21,1539.89 L905.49,1539.68 L905.76,1539.92 L906.04,1539.83 L906.31,1539.60 L906.59,1540.31 L906.86,1540.09 L907.14,1540.65 L907.41,1539.63 L907.69,1540.04 L907.97,1539.88 L908.24,1539.48 L908.52,1539.70 L908.79,1540.18 L909.07,1539.85 L909.34,1540.74 L909.62,1540.00 L909.89,1540.12 L910.17,1540.83 L910.44,1539.65 L910.72,1540.47 L910.99,1539.93 L911.27,1540.37 L911.54,1539.81 L911.82,1539.69 L912.09,1540.55 L912.37,1540.83 L912.64,1540.28 L912.92,1539.90 L913.20,1540.39 L913.47,1540.49 L913.75,1540.06 L914.02,1541.35 L914.30,1540.52 L914.57,1540.81 L914.85,1540.15 L915.12,1540.57 L915.40,1540.72 L915.67,1540.42 L915.95,1540.87 L916.22,1540.31 L916.50,1540.58 L916.77,1540.48 L917.05,1540.62 L917.32,1540.00 L917.60,1540.41 L917.87,1540.18 L918.15,1540.21 L918.42,1540.72 L918.70,1540.20 L918.98,1540.30 L919.25,1540.32 L919.53,1540.61 L919.80,1540.64 L920.08,1540.18 L920.35,1539.66 L920.63,1540.83 L920.90,1540.32 L921.18,1540.68 L921.45,1540.25 L921.73,1540.39 L922.00,1540.17 L922.28,1541.65 L922.55,1540.83 L922.83,1540.99 L923.10,1540.67 L923.38,1541.13 L923.65,1541.34 L923.93,1541.11 L924.21,1540.95 L924.48,1542.74 L924.76,1542.16 L925.03,1542.22 L925.31,1542.04 L925.58,1541.88 L925.86,1541.96 L926.13,1541.56 L926.41,1540.70 L926.68,1540.60 L926.96,1540.98 L927.23,1541.35 L927.51,1541.04 L927.78,1541.19 L928.06,1540.94 L928.33,1541.12 L928.61,1541.41 L928.88,1541.15 L929.16,1541.66 L929.43,1540.98 L929.71,1540.89 L929.99,1541.68 L930.26,1541.08 L930.54,1541.55 L930.81,1540.78 L931.09,1540.81 L931.36,1541.18 L931.64,1540.71 L931.91,1541.19 L932.19,1541.38 L932.46,1541.47 L932.74,1541.43 L933.01,1541.61 L933.29,1541.57 L933.56,1541.94 L933.84,1541.61 L934.11,1541.65 L934.39,1542.22 L934.66,1542.60 L934.94,1542.05 L935.22,1542.03 L935.49,1542.51 L935.77,1542.92 L936.04,1542.58 L936.32,1542.33 L936.59,1543.35 L936.87,1542.68 L937.14,1542.86 L937.42,1542.97 L937.69,1542.57 L937.97,1543.03 L938.24,1542.55 L938.52,1542.23 L938.79,1542.51 L939.07,1542.77 L939.34,1543.00 L939.62,1542.82 L939.89,1542.95 L940.17,1541.91 L940.44,1542.42 L940.72,1542.62 L941.00,1542.70 L941.27,1542.63 L941.55,1542.42 L941.82,1542.70 L942.10,1541.83 L942.37,1542.55 L942.65,1542.56 L942.92,1542.24 L943.20,1541.91 L943.47,1541.95 L943.75,1542.49 L944.02,1542.27 L944.30,1542.31 L944.57,1542.20 L944.85,1542.28 L945.12,1542.64 L945.40,1542.74 L945.67,1542.32 L945.95,1542.72 L946.23,1541.97 L946.50,1542.35 L946.78,1542.66 L947.05,1542.44 L947.33,1542.49 L947.60,1542.36 L947.88,1542.03 L948.15,1542.74 L948.43,1542.85 L948.70,1542.18 L948.98,1542.33 L949.25,1542.22 L949.53,1542.12 L949.80,1542.30 L950.08,1541.99 L950.35,1542.49 L950.63,1542.19 L950.90,1542.46 L951.18,1542.54 L951.45,1542.00 L951.73,1542.00 L952.01,1542.76 L952.28,1542.50 L952.56,1542.06 L952.83,1541.81 L953.11,1542.33 L953.38,1542.18 L953.66,1542.55 L953.93,1541.33 L954.21,1541.95 L954.48,1541.81 L954.76,1541.87 L955.03,1541.78 L955.31,1541.87 L955.58,1542.15 L955.86,1541.81 L956.13,1541.96 L956.41,1541.53 L956.68,1542.12 L956.96,1542.01 L957.24,1541.57 L957.51,1541.31 L957.68,1541.66 L957.79,1541.69 L958.06,1540.81 L958.34,1540.18 L958.61,1539.54 L958.89,1538.91 L959.16,1538.27 L959.44,1537.32 L959.71,1536.38 L959.99,1535.43 L960.26,1534.48 L960.54,1533.54 L960.65,1533.16 L960.81,1533.79 L961.09,1534.83 L961.36,1535.88 L961.64,1536.93 L961.91,1537.54 L962.19,1538.15 L962.46,1538.76 L962.52,1538.88 L962.74,1539.23 L963.02,1539.66 L963.29,1540.10 L963.57,1540.53 L963.84,1540.97 L964.12,1541.40 L964.39,1541.84 L964.67,1542.28 L964.94,1542.32 L965.22,1542.71 L965.49,1542.09 L965.77,1542.41 L966.04,1542.07 L966.32,1542.39 L966.59,1541.95 L966.87,1542.45 L967.14,1541.89 L967.31,1542.18 L967.42,1542.04 L967.69,1541.71 L967.97,1541.76 L968.25,1541.74 L968.52,1541.38 L968.80,1541.26 L969.07,1541.91 L969.35,1541.14 L969.62,1541.01 L969.90,1541.42 L970.17,1540.91 L970.45,1541.44 L970.72,1540.33 L971.00,1540.86 L971.22,1540.72 L971.27,1540.18 L971.55,1540.42 L971.82,1539.85 L972.10,1540.25 L972.37,1539.54 L972.65,1539.26 L972.92,1538.99 L973.03,1538.88 L973.20,1537.88 L973.47,1536.22 L973.75,1534.55 L974.03,1532.89 L974.30,1531.28 L974.58,1529.67 L974.85,1528.06 L975.13,1526.45 L975.29,1525.49 L975.40,1526.36 L975.68,1528.54 L975.95,1530.71 L976.23,1532.89 L976.50,1534.13 L976.78,1535.38 L977.05,1536.62 L977.33,1537.87 L977.60,1538.43 L977.88,1538.99 L978.15,1540.50 L978.43,1540.57 L978.70,1541.07 L978.98,1540.66 L979.25,1541.68 L979.53,1542.43 L979.81,1543.25 L980.08,1542.83 L980.36,1542.91 L980.63,1543.13 L980.91,1543.35 L981.18,1543.26 L981.46,1542.93 L981.73,1542.92 L982.01,1542.99 L982.28,1543.06 L982.56,1543.48 L982.83,1543.03 L983.11,1543.31 L983.38,1543.05 L983.66,1542.96 L983.93,1543.26 L984.21,1543.36 L984.48,1542.86 L984.59,1543.03 L984.76,1543.24 L985.04,1543.79 L985.31,1542.98 L985.59,1542.74 L985.86,1542.55 L986.14,1542.97 L986.41,1542.90 L986.69,1542.79 L986.96,1542.38 L987.24,1542.89 L987.51,1542.53 L987.79,1542.70 L988.06,1542.30 L988.34,1542.78 L988.61,1542.15 L988.89,1542.35 L989.16,1542.21 L989.33,1541.94 L989.44,1541.72 L989.71,1542.53 L989.99,1541.59 L990.26,1541.65 L990.54,1541.84 L990.82,1541.20 L991.09,1541.52 L991.37,1541.06 L991.64,1541.62 L991.92,1541.64 L992.19,1540.83 L992.47,1540.41 L992.74,1540.87 L993.02,1540.69 L993.18,1541.14 L993.29,1541.43 L993.57,1540.98 L993.84,1540.29 L994.12,1541.49 L994.39,1540.93 L994.67,1541.42 L994.94,1540.61 L995.22,1540.27 L995.49,1541.03 L995.77,1540.66 L996.05,1539.95 L996.32,1540.44 L996.60,1540.85 L996.87,1540.83 L997.15,1541.06 L997.42,1539.91 L997.70,1540.47 L997.97,1539.70 L998.25,1539.72 L998.52,1540.29 L998.80,1540.19 L998.91,1539.64 L999.07,1539.67 L999.35,1539.24 L999.62,1539.71 L999.90,1538.60 L1000.17,1538.23 L1000.34,1538.00 L1000.45,1537.65 L1000.72,1536.76 L1001.00,1535.88 L1001.27,1534.99 L1001.55,1534.11 L1001.83,1533.23 L1002.10,1531.54 L1002.38,1529.86 L1002.65,1528.18 L1002.93,1526.50 L1003.20,1524.82 L1003.48,1523.13 L1003.53,1522.80 L1003.75,1519.66 L1004.03,1515.73 L1004.30,1511.81 L1004.58,1507.88 L1004.69,1506.31 L1004.85,1508.46 L1005.13,1512.05 L1005.40,1515.63 L1005.68,1519.21 L1005.95,1522.80 L1006.23,1526.27 L1006.50,1529.75 L1006.78,1533.23 L1007.06,1535.06 L1007.33,1536.90 L1007.50,1538.00 L1007.61,1538.31 L1007.88,1539.09 L1008.16,1539.87 L1008.43,1540.65 L1008.54,1540.96 L1008.71,1541.32 L1008.98,1541.90 L1009.26,1542.75 L1009.53,1542.81 L1009.81,1543.79 L1009.97,1544.19 L1010.08,1544.34 L1010.36,1544.09 L1010.63,1544.30 L1010.91,1544.23 L1011.18,1544.09 L1011.46,1544.18 L1011.73,1544.05 L1012.01,1544.19 L1012.28,1544.33 L1012.56,1544.34 L1012.84,1544.39 L1013.11,1544.24 L1013.39,1544.36 L1013.66,1544.33 L1013.94,1544.04 L1014.21,1544.07 L1014.49,1544.08 L1014.76,1544.19 L1015.04,1543.72 L1015.31,1543.67 L1015.59,1543.61 L1015.70,1543.68 L1015.86,1543.62 L1016.14,1543.23 L1016.41,1542.86 L1016.69,1542.70 L1016.96,1542.41 L1017.24,1542.15 L1017.51,1541.89 L1017.79,1541.64 L1018.07,1541.38 L1018.34,1541.12 L1018.62,1540.86 L1018.89,1540.61 L1019.17,1540.35 L1019.44,1540.09 L1019.72,1539.83 L1019.99,1539.58 L1020.27,1539.32 L1020.54,1539.06 L1020.82,1538.81 L1020.93,1538.70 L1021.09,1539.08 L1021.37,1539.72 L1021.64,1540.36 L1021.92,1541.00 L1022.19,1541.64 L1022.47,1542.12 L1022.74,1542.61 L1023.02,1543.09 L1023.29,1543.58 L1023.57,1544.06 L1023.85,1544.68 L1024.12,1544.57 L1024.40,1544.41 L1024.67,1544.59 L1024.95,1544.66 L1025.22,1544.64 L1025.50,1544.72 L1025.77,1544.71 L1026.05,1544.67 L1026.32,1544.68 L1026.60,1544.84 L1026.87,1544.77 L1027.15,1544.74 L1027.42,1544.86 L1027.70,1544.85 L1027.97,1544.80 L1028.25,1544.89 L1028.52,1544.85 L1028.80,1544.87 L1029.08,1544.94 L1029.35,1544.85 L1029.63,1544.87 L1029.90,1544.83 L1030.18,1544.78 L1030.45,1544.84 L1030.73,1544.88 L1031.00,1544.85 L1031.28,1544.86 L1031.55,1544.82 L1031.83,1544.92 L1032.10,1544.91 L1032.38,1544.95 L1032.65,1544.84 L1032.93,1544.87 L1033.20,1544.89 L1033.48,1544.89 L1033.75,1544.89 L1034.03,1544.90 L1034.31,1544.88 L1034.58,1544.89 L1034.86,1544.81 L1035.13,1544.85 L1035.41,1544.90 L1035.68,1544.89 L1035.96,1544.82 L1036.23,1544.85 L1036.51,1544.85 L1036.78,1544.84 L1037.06,1544.80 L1037.33,1544.91 L1037.61,1544.90 L1037.88,1544.94 L1038.16,1544.85 L1038.43,1544.88 L1038.71,1544.89 L1038.98,1544.90 L1039.26,1544.84 L1039.53,1544.87 L1039.81,1544.89 L1040.09,1544.81 L1040.36,1544.90 L1040.64,1544.91 L1040.91,1544.75 L1041.19,1544.87 L1041.46,1544.87 L1041.74,1544.88 L1042.01,1544.85 L1042.29,1544.81 L1042.56,1544.81 L1042.84,1544.82 L1043.11,1544.85 L1043.39,1544.90 L1043.66,1544.82 L1043.94,1544.77 L1044.21,1544.79 L1044.49,1544.84 L1044.76,1544.80 L1045.04,1544.84 L1045.32,1544.83 L1045.59,1544.87 L1045.87,1544.83 L1046.14,1544.81 L1046.42,1544.82 L1046.69,1544.78 L1046.97,1544.73 L1047.24,1544.76 L1047.52,1544.82 L1047.79,1544.83 L1048.07,1544.83 L1048.34,1544.84 L1048.62,1544.80 L1048.89,1544.71 L1049.17,1544.66 L1049.44,1544.59 L1049.72,1544.52 L1049.99,1544.47 L1050.27,1544.42 L1050.54,1544.26 L1050.82,1544.22 L1051.10,1544.36 L1051.37,1544.43 L1051.65,1544.49 L1051.92,1544.53 L1052.20,1544.55 L1052.47,1544.62 L1052.75,1544.69 L1053.02,1544.75 L1053.30,1544.76 L1053.57,1544.78 L1053.85,1544.79 L1054.12,1544.82 L1054.40,1544.89 L1054.67,1544.83 L1054.95,1544.75 L1055.22,1544.85 L1055.50,1544.86 L1055.77,1544.80 L1056.05,1544.84 L1056.33,1544.87 L1056.60,1544.79 L1056.88,1544.83 L1057.15,1544.83 L1057.43,1544.89 L1057.70,1544.85 L1057.98,1544.86 L1058.25,1544.85 L1058.53,1544.84 L1058.80,1544.84 L1059.08,1544.88 L1059.35,1544.87 L1059.63,1544.95 L1059.90,1544.88 L1060.18,1544.88 L1060.45,1544.93 L1060.73,1544.95 L1061.00,1544.92 L1061.28,1544.97 L1061.55,1544.91 L1061.83,1544.92 L1062.11,1544.97 L1062.38,1544.93 L1062.66,1544.89 L1062.93,1544.89 L1063.21,1544.89 L1063.48,1544.94 L1063.76,1544.95 L1064.03,1544.95 L1064.31,1544.91 L1064.58,1544.84 L1064.86,1544.88 L1065.13,1544.87 L1065.41,1544.88 L1065.68,1545.00 L1065.96,1544.94 L1066.23,1544.95 L1066.51,1544.88 L1066.78,1544.86 L1067.06,1544.96 L1067.34,1544.93 L1067.61,1544.91 L1067.89,1544.95 L1068.16,1544.96 L1068.44,1544.96 L1068.71,1544.90 L1068.99,1544.97 L1069.26,1544.89 L1069.54,1544.93 L1069.81,1544.90 L1070.09,1544.87 L1070.36,1544.96 L1070.64,1544.97 L1070.91,1544.92 L1071.19,1544.97 L1071.46,1544.96 L1071.74,1544.94 L1072.01,1544.93 L1072.29,1544.98 L1072.56,1544.95 L1072.84,1544.91 L1073.12,1544.88 L1073.39,1545.00 L1073.67,1544.88 L1073.94,1544.90 L1074.22,1544.98 L1074.49,1544.99 L1074.77,1544.92 L1075.04,1544.95 L1075.32,1544.93 L1075.59,1544.90 L1075.87,1544.95 L1076.14,1544.93 L1076.42,1544.91 L1076.69,1544.90 L1076.97,1544.86 L1077.24,1544.86 L1077.52,1544.92 L1077.79,1544.94 L1078.07,1544.84 L1078.35,1544.91 L1078.62,1544.92 L1078.90,1544.98 L1079.17,1544.90 L1079.45,1544.96 L1079.72,1544.95 L1080.00,1544.99 L1080.27,1544.95 L1080.55,1544.93 L1080.82,1544.99 L1081.10,1544.97 L1081.37,1544.94 L1081.65,1544.98 L1081.92,1544.98 L1082.20,1544.97 L1082.47,1544.99 L1082.75,1544.91 L1083.02,1544.97 L1083.30,1544.90 L1083.57,1544.90 L1083.85,1544.98 L1084.13,1544.93 L1084.40,1544.95 L1084.68,1544.98 L1084.95,1544.95 L1085.23,1544.94 L1085.50,1544.90 L1085.78,1544.89 L1086.05,1544.98 L1086.33,1544.95 L1086.60,1544.91 L1086.88,1544.89 L1087.15,1545.00 L1087.43,1544.88 L1087.70,1544.94 L1087.98,1544.87 L1088.25,1544.95 L1088.53,1544.97 L1088.80,1544.93 L1089.08,1544.89 L1089.36,1544.93 L1089.63,1545.00 L1089.91,1544.91 L1090.18,1545.00 L1090.46,1544.97 L1090.73,1544.98 L1091.01,1545.00 L1091.28,1544.98 L1091.56,1544.97 L1091.83,1544.96 L1092.11,1544.93 L1092.38,1544.95 L1092.66,1544.99 L1092.93,1544.94 L1093.21,1544.89 L1093.48,1544.89 L1093.76,1544.93 L1094.03,1544.91 L1094.31,1544.90 L1094.58,1544.88 L1094.86,1544.86 L1095.14,1544.95 L1095.41,1544.94 L1095.69,1544.87 L1095.96,1544.87 L1096.24,1544.87 L1096.51,1545.00 L1096.79,1544.94 L1097.06,1545.00 L1097.34,1544.90 L1097.61,1544.93 L1097.89,1544.93 L1098.16,1544.94 L1098.44,1544.88 L1098.71,1544.94 L1098.99,1544.89 L1099.26,1544.91 L1099.54,1544.92 L1099.81,1544.91 L1100.09,1544.93 L1100.37,1544.98 L1100.64,1544.90 L1100.92,1544.90 L1101.19,1544.94 L1101.47,1544.90 L1101.74,1544.90 L1102.02,1544.98 L1102.29,1544.94 L1102.57,1544.95 L1102.84,1544.97 L1103.12,1544.92 L1103.39,1544.97 L1103.67,1544.95 L1103.94,1544.92 L1104.22,1544.92 L1104.49,1544.92 L1104.77,1544.84 L1105.04,1544.95 L1105.32,1544.92 L1105.59,1544.98 L1105.87,1544.91 L1106.15,1544.89 L1106.42,1544.88 L1106.70,1544.96 L1106.97,1544.94 L1107.25,1544.88 L1107.52,1544.94 L1107.80,1544.89 L1108.07,1544.97 L1108.35,1544.88 L1108.62,1544.89 L1108.90,1544.91 L1109.17,1544.96 L1109.45,1544.94 L1109.72,1544.93 L1110.00,1544.92 L1110.27,1544.94 L1110.55,1544.94 L1110.82,1544.92 L1111.10,1544.88 L1111.38,1545.00 L1111.65,1544.99 L1111.93,1545.00 L1112.20,1544.96 L1112.48,1545.00 L1112.75,1544.91 L1113.03,1544.93 L1113.30,1544.94 L1113.58,1544.96 L1113.85,1544.93 L1114.13,1544.93 L1114.40,1544.92 L1114.68,1544.96 L1114.95,1544.91 L1115.23,1544.99 L1115.50,1544.88 L1115.78,1545.00 L1116.05,1544.96 L1116.33,1544.98 L1116.60,1544.90 L1116.88,1544.99 L1117.16,1544.86 L1117.43,1545.00 L1117.71,1544.85 L1117.98,1544.91 L1118.26,1544.93 L1118.53,1544.92 L1118.81,1544.84 L1119.08,1544.90 L1119.36,1545.00 L1119.63,1544.88 L1119.91,1544.92 L1120.18,1545.00 L1120.46,1544.90 L1120.73,1544.98 L1121.01,1544.93 L1121.28,1544.92 L1121.56,1544.96 L1121.83,1544.91 L1122.11,1544.97 L1122.38,1544.92 L1122.66,1544.95 L1122.94,1544.94 L1123.21,1544.86 L1123.49,1544.93 L1123.76,1544.98 L1124.04,1544.94 L1124.31,1544.96 L1124.59,1544.93 L1124.86,1544.93 L1125.14,1544.93 L1125.41,1544.93 L1125.69,1544.95 L1125.96,1544.91 L1126.24,1544.89 L1126.51,1544.96 L1126.79,1544.94 L1127.06,1544.93 L1127.34,1544.88 L1127.61,1544.89 L1127.89,1544.96 L1128.17,1544.93 L1128.44,1544.99 L1128.72,1544.97 L1128.99,1544.93 L1129.27,1544.91 L1129.54,1544.89 L1129.82,1544.95 L1130.09,1544.99 L1130.37,1544.92 L1130.64,1544.94 L1130.92,1544.92 L1131.19,1544.93 L1131.47,1544.90 L1131.74,1544.91 L1132.02,1544.90 L1132.29,1544.95 L1132.57,1544.89 L1132.84,1544.95 L1133.12,1544.93 L1133.39,1544.86 L1133.67,1544.92 L1133.95,1544.98 L1134.22,1544.87 L1134.50,1544.89 L1134.77,1544.89 L1135.05,1544.92 L1135.32,1544.92 L1135.60,1544.94 L1135.87,1544.96 L1136.15,1544.87 L1136.42,1544.95 L1136.70,1544.95 L1136.97,1544.95 L1137.25,1544.86 L1137.52,1544.90 L1137.80,1544.95 L1138.07,1544.93 L1138.35,1544.91 L1138.62,1544.90 L1138.90,1545.00 L1139.18,1544.90 L1139.45,1544.94 L1139.73,1544.96 L1140.00,1544.95 L1140.28,1544.90 L1140.55,1544.86 L1140.83,1544.93 L1141.10,1544.91 L1141.38,1544.97 L1141.65,1544.91 L1141.93,1544.90 L1142.20,1544.99 L1142.48,1544.95 L1142.75,1544.90 L1143.03,1545.00 L1143.30,1544.95 L1143.58,1544.91 L1143.85,1545.00 L1144.13,1544.95 L1144.40,1544.93 L1144.68,1544.90 L1144.96,1544.98 L1145.23,1544.89 L1145.51,1544.92 L1145.78,1544.88 L1146.06,1544.89 L1146.33,1544.92 L1146.61,1544.91 L1146.88,1545.00 L1147.16,1544.99 L1147.43,1544.97 L1147.71,1544.95 L1147.98,1544.90 L1148.26,1545.00 L1148.53,1544.95 L1148.81,1544.99 L1149.08,1545.00 L1149.36,1544.87 L1149.63,1544.93 L1149.91,1544.87 L1150.19,1544.88 L1150.46,1544.97 L1150.74,1545.00 L1151.01,1544.85 L1151.29,1544.95 L1151.56,1544.98 L1151.84,1544.90 L1152.11,1544.93 L1152.39,1544.96 L1152.66,1544.95 L1152.94,1544.93 L1153.21,1544.93 L1153.49,1544.90 L1153.76,1544.95 L1154.04,1544.95 L1154.31,1544.91 L1154.59,1544.92 L1154.86,1544.89 L1155.14,1544.94 L1155.41,1544.94 L1155.69,1544.98 L1155.97,1544.87 L1156.24,1544.99 L1156.52,1544.92 L1156.79,1544.97 L1157.07,1544.92 L1157.34,1544.90 L1157.62,1545.00 L1157.89,1544.94 L1158.17,1545.00 L1158.44,1544.88 L1158.72,1544.95 L1158.99,1545.00 L1159.27,1544.96 L1159.54,1544.88 L1159.82,1544.87 L1160.09,1544.88 L1160.37,1544.96 L1160.64,1544.94 L1160.92,1544.87 L1161.20,1544.96 L1161.47,1544.95 L1161.75,1544.97 L1162.02,1544.98 L1162.30,1544.88 L1162.57,1544.91 L1162.85,1544.91 L1163.12,1544.91 L1163.40,1544.89 L1163.67,1544.87 L1163.95,1544.93 L1164.22,1544.95 L1164.50,1544.97 L1164.77,1544.89 L1165.05,1544.95 L1165.32,1544.99 L1165.60,1544.94 L1165.87,1544.93 L1166.15,1544.90 L1166.42,1544.89 L1166.70,1544.96 L1166.98,1544.97 L1167.25,1544.95 L1167.53,1544.98 L1167.80,1544.94 L1168.08,1544.91 L1168.35,1544.93 L1168.63,1545.00 L1168.90,1544.98 L1169.18,1544.88 L1169.45,1544.97 L1169.73,1544.90 L1170.00,1544.91 L1170.28,1544.95 L1170.55,1544.97 L1170.83,1544.92 L1171.10,1544.97 L1171.38,1544.94 L1171.65,1544.93 L1171.93,1544.96 L1172.21,1544.94 L1172.48,1544.95 L1172.76,1544.98 L1173.03,1544.94 L1173.31,1544.96 L1173.58,1545.00 L1173.86,1544.95 L1174.13,1544.94 L1174.41,1544.96 L1174.68,1545.00 L1174.96,1544.90 L1175.23,1544.91 L1175.51,1544.91 L1175.78,1544.92 L1176.06,1544.98 L1176.33,1544.93 L1176.61,1544.97 L1176.88,1544.84 L1177.16,1544.95 L1177.43,1544.91 L1177.71,1545.00 L1177.99,1544.98 L1178.26,1544.95 L1178.54,1544.90 L1178.81,1544.91 L1179.09,1544.92 L1179.36,1545.00 L1179.64,1544.89 L1179.91,1544.97 L1180.19,1544.87 L1180.46,1544.86 L1180.74,1544.90 L1181.01,1544.89 L1181.29,1544.98 L1181.56,1544.83 L1181.84,1544.92 L1182.11,1544.89 L1182.39,1544.97 L1182.66,1544.94 L1182.94,1544.98 L1183.22,1544.94 L1183.49,1544.93 L1183.77,1544.92 L1184.04,1544.88 L1184.32,1544.91 L1184.59,1544.92 L1184.87,1544.93 L1185.14,1544.85 L1185.42,1544.96 L1185.69,1544.88 L1185.97,1545.00 L1186.24,1544.97 L1186.52,1544.92 L1186.79,1544.94 L1187.07,1544.81 L1187.34,1544.83 L1187.62,1544.99 L1187.89,1544.98 L1188.17,1544.94 L1188.44,1544.86 L1188.72,1544.89 L1189.00,1544.92 L1189.27,1544.99 L1189.55,1544.97 L1189.82,1545.00 L1190.10,1544.99 L1190.37,1544.92 L1190.65,1544.90 L1190.92,1544.99 L1191.20,1544.93 L1191.47,1544.87 L1191.75,1544.93 L1192.02,1544.94 L1192.30,1544.91 L1192.57,1544.91 L1192.85,1544.93 L1193.12,1544.95 L1193.40,1544.95 L1193.67,1544.93 L1193.95,1544.95 L1194.23,1544.88 L1194.50,1544.90 L1194.78,1544.89 L1195.05,1544.85 L1195.33,1544.87 L1195.60,1544.88 L1195.88,1544.92 L1196.15,1544.94 L1196.43,1544.84 L1196.70,1544.96 L1196.98,1544.96 L1197.25,1544.97 L1197.53,1544.92 L1197.80,1544.92 L1198.08,1544.89 L1198.35,1544.94 L1198.63,1545.00 L1198.90,1544.92 L1199.18,1544.89 L1199.45,1544.93 L1199.73,1544.94 L1200.01,1544.91 L1200.28,1544.87 L1200.56,1544.94 L1200.83,1544.99 L1201.11,1544.96 L1201.38,1544.94 L1201.66,1545.00 L1201.93,1544.90 L1202.21,1544.96 L1202.48,1544.91 L1202.76,1544.92 L1203.03,1544.95 L1203.31,1544.87 L1203.58,1544.96 L1203.86,1544.96 L1204.13,1544.92 L1204.41,1544.90 L1204.68,1544.93 L1204.96,1544.97 L1205.24,1544.90 L1205.51,1544.91 L1205.79,1544.85 L1206.06,1544.94 L1206.34,1544.92 L1206.61,1544.96 L1206.89,1544.99 L1207.16,1544.93 L1207.44,1544.90 L1207.71,1544.97 L1207.99,1544.96 L1208.26,1544.98 L1208.54,1544.88 L1208.81,1544.96 L1209.09,1544.91 L1209.36,1544.97 L1209.64,1544.93 L1209.91,1544.96 L1210.19,1545.00 L1210.46,1544.93 L1210.74,1544.91 L1211.02,1545.00 L1211.29,1544.94 L1211.57,1544.95 L1211.84,1544.98 L1212.12,1544.94 L1212.39,1545.00 L1212.67,1544.92 L1212.94,1544.88 L1213.22,1544.98 L1213.49,1544.94 L1213.77,1544.88 L1214.04,1544.93 L1214.32,1544.95 L1214.59,1544.97 L1214.87,1544.93 L1215.14,1544.94 L1215.42,1544.91 L1215.69,1544.99 L1215.97,1544.89 L1216.25,1544.95 L1216.52,1544.91 L1216.80,1544.96 L1217.07,1544.99 L1217.35,1544.96 L1217.62,1544.97 L1217.90,1544.95 L1218.17,1544.91 L1218.45,1544.89 L1218.72,1544.92 L1219.00,1544.95 L1219.27,1544.95 L1219.55,1544.91 L1219.82,1544.89 L1220.10,1544.95 L1220.37,1544.94 L1220.65,1544.96 L1220.92,1544.92 L1221.20,1544.89 L1221.47,1545.00 L1221.75,1544.92 L1222.03,1544.95 L1222.30,1545.00 L1222.58,1544.92 L1222.85,1544.94 L1223.13,1544.92 L1223.40,1544.99 L1223.68,1544.85 L1223.95,1544.93 L1224.23,1544.95 L1224.50,1544.87 L1224.78,1544.91 L1225.05,1544.90 L1225.33,1544.89 L1225.60,1545.00 L1225.88,1544.87 L1226.15,1544.95 L1226.43,1544.92 L1226.70,1544.90 L1226.98,1544.96 L1227.26,1544.92 L1227.53,1544.90 L1227.81,1544.93 L1228.08,1544.91 L1228.36,1545.00 L1228.63,1544.98 L1228.91,1544.98 L1229.18,1544.92 L1229.46,1544.79 L1229.73,1544.92 L1230.01,1544.94 L1230.28,1544.94 L1230.56,1544.89 L1230.83,1544.90 L1231.11,1544.98 L1231.38,1544.89 L1231.66,1544.93 L1231.93,1544.90 L1232.21,1545.00 L1232.48,1545.00 L1232.76,1544.91 L1233.04,1545.00 L1233.31,1544.92 L1233.59,1544.92 L1233.86,1544.93 L1234.14,1544.92 L1234.41,1544.92 L1234.69,1544.91 L1234.96,1544.95 L1235.24,1544.93 L1235.51,1544.81 L1235.79,1544.89 L1236.06,1544.91 L1236.34,1544.92 L1236.61,1544.96 L1236.89,1544.92 L1237.16,1544.94 L1237.44,1544.89 L1237.71,1544.97 L1237.99,1545.00 L1238.27,1544.96 L1238.54,1544.90 L1238.82,1544.83 L1239.09,1544.89 L1239.37,1544.97 L1239.64,1544.94 L1239.92,1544.97 L1240.19,1544.94 L1240.47,1544.97 L1240.74,1545.00 L1241.02,1544.91 L1241.29,1544.92 L1241.57,1544.94 L1241.84,1544.92 L1242.12,1544.85 L1242.39,1544.93 L1242.67,1544.95 L1242.94,1544.90 L1243.22,1545.00 L1243.49,1544.90 L1243.77,1544.96 L1244.05,1544.97 L1244.32,1544.93 L1244.60,1544.87 L1244.87,1544.96 L1245.15,1544.89 L1245.42,1544.92 L1245.70,1544.99 L1245.97,1544.90 L1246.25,1544.97 L1246.52,1544.99 L1246.80,1544.96 L1247.07,1544.96 L1247.35,1544.91 L1247.62,1544.96 L1247.90,1544.87 L1248.17,1544.92 L1248.45,1544.96 L1248.72,1544.97 L1249.00,1544.92 L1249.28,1545.00 L1249.55,1545.00 L1249.83,1544.97 L1250.10,1544.91 L1250.38,1544.93 L1250.65,1544.93 L1250.93,1544.94 L1251.20,1545.00 L1251.48,1544.95 L1251.75,1545.00 L1252.03,1544.90 L1252.30,1544.93 L1252.58,1544.94 L1252.85,1544.92 L1253.13,1544.92 L1253.40,1544.92 L1253.68,1544.92 L1253.95,1544.96 L1254.23,1544.99 L1254.50,1544.92 L1254.78,1544.87 L1255.06,1544.89 L1255.33,1544.94 L1255.61,1544.91 L1255.88,1544.95 L1256.16,1544.92 L1256.43,1544.96 L1256.71,1544.93 L1256.98,1544.85 L1257.26,1544.90 L1257.53,1544.87 L1257.81,1544.96 L1258.08,1544.96 L1258.36,1544.93 L1258.63,1544.91 L1258.91,1544.94 L1259.18,1544.89 L1259.46,1544.95 L1259.73,1544.88 L1260.01,1544.89 L1260.29,1544.98 L1260.56,1544.91 L1260.84,1544.94 L1261.11,1544.89 L1261.39,1544.95 L1261.66,1544.92 L1261.94,1544.91 L1262.21,1545.00 L1262.49,1545.00 L1262.76,1544.93 L1263.04,1544.94 L1263.31,1544.89 L1263.59,1544.92 L1263.86,1544.98 L1264.14,1544.92 L1264.41,1544.96 L1264.69,1544.94 L1264.96,1544.95 L1265.24,1544.92 L1265.51,1544.99 L1265.79,1544.98 L1266.07,1545.00 L1266.34,1544.85 L1266.62,1544.97 L1266.89,1544.97 L1267.17,1544.98 L1267.44,1544.96 L1267.72,1544.95 L1267.99,1544.91 L1268.27,1544.93 L1268.54,1544.92 L1268.82,1544.96 L1269.09,1544.94 L1269.37,1544.88 L1269.64,1544.93 L1269.92,1544.92 L1270.19,1545.00 L1270.47,1544.91 L1270.74,1544.92 L1271.02,1544.88 L1271.30,1545.00 L1271.57,1544.93 L1271.85,1544.94 L1272.12,1544.93 L1272.40,1544.96 L1272.67,1544.92 L1272.95,1544.90 L1273.22,1544.93 L1273.50,1544.95 L1273.77,1544.94 L1274.05,1544.95 L1274.32,1544.93 L1274.60,1544.96 L1274.87,1545.00 L1275.15,1544.88 L1275.42,1545.00 L1275.70,1544.94 L1275.97,1544.99 L1276.25,1544.95 L1276.52,1544.97 L1276.80,1544.94 L1277.08,1544.97 L1277.35,1544.99 L1277.63,1544.92 L1277.90,1544.88 L1278.18,1544.92 L1278.45,1544.93 L1278.73,1544.98 L1279.00,1544.94 L1279.28,1544.92 L1279.55,1544.96 L1279.83,1544.90 L1280.10,1544.94 L1280.38,1544.92 L1280.65,1544.95 L1280.93,1544.95 L1281.20,1544.93 L1281.48,1544.92 L1281.75,1544.92 L1282.03,1544.98 L1282.31,1544.96 L1282.58,1544.94 L1282.86,1545.00 L1283.13,1544.89 L1283.41,1544.92 L1283.68,1544.93 L1283.96,1544.96 L1284.23,1544.90 L1284.51,1544.95 L1284.78,1544.86 L1285.06,1544.92 L1285.33,1544.99 L1285.61,1544.91 L1285.88,1544.96 L1286.16,1544.96 L1286.43,1544.94 L1286.71,1544.94 L1286.98,1544.92 L1287.26,1544.90 L1287.53,1544.92 L1287.81,1544.96 L1288.09,1544.99 L1288.36,1544.97 L1288.64,1544.92 L1288.91,1544.90 L1289.19,1544.86 L1289.46,1544.99 L1289.74,1544.93 L1290.01,1544.94 L1290.29,1544.95 L1290.56,1544.93 L1290.84,1544.95 L1291.11,1544.95 L1291.39,1544.96 L1291.66,1544.92 L1291.94,1544.89 L1292.21,1544.87 L1292.49,1544.96 L1292.76,1544.98 L1293.04,1544.95 L1293.32,1544.97 L1293.59,1544.89 L1293.87,1544.97 L1294.14,1544.93 L1294.42,1544.99 L1294.69,1544.95 L1294.97,1544.93 L1295.24,1544.87 L1295.52,1544.96 L1295.79,1544.92 L1296.07,1545.00 L1296.34,1544.98 L1296.62,1544.97 L1296.89,1544.96 L1297.17,1544.92 L1297.44,1544.91 L1297.72,1545.00 L1297.99,1544.91 L1298.27,1544.98 L1298.54,1544.86 L1298.82,1544.92 L1299.10,1544.93 L1299.37,1544.94 L1299.65,1544.94 L1299.92,1544.94 L1300.20,1544.96 L1300.47,1544.91 L1300.75,1544.92 L1301.02,1544.91 L1301.30,1544.94 L1301.57,1544.91 L1301.85,1544.97 L1302.12,1544.79 L1302.40,1544.96 L1302.67,1544.95 L1302.95,1544.90 L1303.22,1544.89 L1303.50,1544.97 L1303.77,1545.00 L1304.05,1544.99 L1304.33,1544.98 L1304.60,1544.97 L1304.88,1544.94 L1305.15,1544.89 L1305.43,1544.89 L1305.70,1544.96 L1305.98,1544.91 L1306.25,1544.90 L1306.53,1544.88 L1306.80,1544.94 L1307.08,1544.97 L1307.35,1544.91 L1307.63,1544.87 L1307.90,1544.96 L1308.18,1544.86 L1308.45,1544.87 L1308.73,1544.95 L1309.00,1545.00 L1309.28,1544.96 L1309.55,1544.95 L1309.83,1544.91 L1310.11,1545.00 L1310.38,1544.84 L1310.66,1544.84 L1310.93,1544.96 L1311.21,1545.00 L1311.48,1544.94 L1311.76,1544.92 L1312.03,1544.88 L1312.31,1544.91 L1312.58,1544.94 L1312.86,1545.00 L1313.13,1544.91 L1313.41,1544.90 L1313.68,1544.95 L1313.96,1544.92 L1314.23,1544.93 L1314.51,1544.95 L1314.78,1544.98 L1315.06,1544.92 L1315.34,1544.99 L1315.61,1544.88 L1315.89,1544.97 L1316.16,1544.92 L1316.44,1544.97 L1316.71,1544.92 L1316.99,1544.94 L1317.26,1544.91 L1317.54,1544.97 L1317.81,1545.00 L1318.09,1544.95 L1318.36,1544.95 L1318.64,1545.00 L1318.91,1544.96 L1319.19,1545.00 L1319.46,1544.93 L1319.74,1544.95 L1320.01,1544.94 L1320.29,1544.83 L1320.56,1544.93 L1320.84,1544.92 L1321.12,1544.91 L1321.39,1544.94 L1321.67,1544.96 L1321.94,1544.90 L1322.22,1544.89 L1322.49,1545.00 L1322.77,1544.94 L1323.04,1544.95 L1323.32,1544.96 L1323.59,1544.89 L1323.87,1544.96 L1324.14,1544.90 L1324.42,1544.96 L1324.69,1544.95 L1324.97,1544.91 L1325.24,1544.97 L1325.52,1544.94 L1325.79,1544.98 L1326.07,1544.97 L1326.35,1544.91 L1326.62,1544.91 L1326.90,1544.98 L1327.17,1544.98 L1327.45,1544.83 L1327.72,1544.96 L1328.00,1544.97 L1328.27,1544.92 L1328.55,1544.97 L1328.82,1544.95 L1329.10,1544.90 L1329.37,1544.90 L1329.65,1544.94 L1329.92,1544.88 L1330.20,1544.94 L1330.47,1544.95 L1330.75,1544.94 L1331.02,1544.95 L1331.30,1544.91 L1331.57,1544.92 L1331.85,1544.97 L1332.13,1544.93 L1332.40,1544.96 L1332.68,1544.96 L1332.95,1544.94 L1333.23,1544.89 L1333.50,1544.92 L1333.78,1544.88 L1334.05,1544.87 L1334.33,1544.94 L1334.60,1544.96 L1334.88,1544.97 L1335.15,1544.92 L1335.43,1544.90 L1335.70,1544.87 L1335.98,1544.99 L1336.25,1544.90 L1336.53,1544.89 L1336.80,1544.84 L1337.08,1544.93 L1337.36,1544.94 L1337.63,1545.00 L1337.91,1544.97 L1338.18,1544.98 L1338.46,1544.98 L1338.73,1544.97 L1339.01,1545.00 L1339.28,1544.94 L1339.56,1544.92 L1339.83,1544.90 L1340.11,1544.94 L1340.38,1544.89 L1340.66,1544.89 L1340.93,1545.00 L1341.21,1544.95 L1341.48,1544.99 L1341.76,1544.97 L1342.03,1544.93 L1342.31,1544.94 L1342.59,1544.88 L1342.86,1544.85 L1343.14,1544.92 L1343.41,1544.94 L1343.69,1544.94 L1343.96,1544.94 L1344.24,1544.91 L1344.51,1544.96 L1344.79,1544.91 L1345.06,1544.95 L1345.34,1544.89 L1345.61,1544.88 L1345.89,1544.87 L1346.16,1544.94 L1346.44,1544.99 L1346.71,1545.00 L1346.99,1544.95 L1347.26,1544.99 L1347.54,1545.00 L1347.81,1544.95 L1348.09,1544.97 L1348.37,1544.91 L1348.64,1544.86 L1348.92,1544.94 L1349.19,1544.92 L1349.47,1545.00 L1349.74,1544.93 L1350.02,1544.96 L1350.29,1544.98 L1350.57,1545.00 L1350.84,1544.87 L1351.12,1545.00 L1351.39,1544.98 L1351.67,1544.93 L1351.94,1544.92 L1352.22,1544.92 L1352.49,1544.93 L1352.77,1544.97 L1353.04,1544.90 L1353.32,1544.93 L1353.59,1544.99 L1353.87,1544.87 L1354.15,1544.95 L1354.42,1544.90 L1354.70,1544.99 L1354.97,1544.98 L1355.25,1544.96 L1355.52,1544.96 L1355.80,1544.89 L1356.07,1545.00 L1356.35,1544.93 L1356.62,1544.98 L1356.90,1544.91 L1357.17,1544.93 L1357.45,1544.96 L1357.72,1544.84 L1358.00,1544.94 L1358.27,1544.89 L1358.55,1544.99 L1358.82,1544.94 L1359.10,1544.93" stroke="#0000ff" stroke-width="1.45" fill="none" stroke-linejoin="round" />
<text x="856.90" y="1167.40" font-size="15.75" fill="#000" xml:space="preserve">81 keV</text>
<text x="1284.36" y="1167.90" font-size="23.00" fill="#000" xml:space="preserve">133</text>
<text x="1323.63" y="1178.80" font-size="22.01" fill="#000" xml:space="preserve">Ba</text>
<text x="1006.98" y="1193.80" font-size="19.66" fill="#000" xml:space="preserve">Resolution @ 31 keV:  ~9%</text>
<text x="1006.99" y="1219.60" font-size="19.61" fill="#000" xml:space="preserve">Resolution @ 81 keV:  ~4.6%</text>
<text x="881.54" y="1364.60" font-size="15.48" fill="#000" xml:space="preserve">31 keV</text>
<path d="M829.30,1376.10L870.03,1362.96" stroke="#0000ff" stroke-width="2.0" fill="none"/>
<path d="M878.60,1360.20L869.51,1367.86L866.75,1359.29Z" fill="#0000ff"/>
<text x="891.72" y="1483.50" font-size="15.49" fill="#000" xml:space="preserve">53 keV</text>
<path d="M839.50,1496.50L880.22,1483.62" stroke="#0000ff" stroke-width="2.0" fill="none"/>
<path d="M888.80,1480.90L879.67,1488.51L876.95,1479.93Z" fill="#0000ff"/>
<text x="982.44" y="1499.40" font-size="15.61" fill="#000" xml:space="preserve">356 keV</text>
<text x="1162.08" y="1528.80" font-size="19.71" fill="#000" xml:space="preserve">Bias voltage: 3000V</text>
<path d="M808.60,1545.00V1556.00 M918.70,1545.00V1556.00 M1028.80,1545.00V1556.00 M1138.90,1545.00V1556.00 M1249.00,1545.00V1556.00 M1359.10,1545.00V1556.00 M863.65,1545.00V1551.50 M973.75,1545.00V1551.50 M1083.85,1545.00V1551.50 M1193.95,1545.00V1551.50 M1304.05,1545.00V1551.50 M808.60,1545.00H797.60 M808.60,1477.72H797.60 M808.60,1410.43H797.60 M808.60,1343.15H797.60 M808.60,1275.87H797.60 M808.60,1208.58H797.60 M808.60,1141.30H797.60 M808.60,1511.36H802.10 M808.60,1444.08H802.10 M808.60,1376.79H802.10 M808.60,1309.51H802.10 M808.60,1242.22H802.10 M808.60,1174.94H802.10" stroke="#000" stroke-width="3.4" stroke-linecap="round" fill="none"/>
<rect x="808.60" y="1141.30" width="550.50" height="403.70" stroke="#000" stroke-width="3.8" stroke-linejoin="round" fill="none"/>
<text x="802.64" y="1578.50" font-size="21.50" fill="#000" xml:space="preserve">0</text>
<text x="900.83" y="1578.50" font-size="21.50" fill="#000" xml:space="preserve">200</text>
<text x="1011.14" y="1578.50" font-size="21.50" fill="#000" xml:space="preserve">400</text>
<text x="1121.01" y="1578.50" font-size="21.50" fill="#000" xml:space="preserve">600</text>
<text x="1231.16" y="1578.50" font-size="21.50" fill="#000" xml:space="preserve">800</text>
<text x="1334.95" y="1578.50" font-size="21.50" fill="#000" xml:space="preserve">1000</text>
<text x="779.92" y="1550.80" font-size="21.50" fill="#000" xml:space="preserve">0</text>
<text x="744.05" y="1483.52" font-size="21.50" fill="#000" xml:space="preserve">1000</text>
<text x="744.05" y="1416.23" font-size="21.50" fill="#000" xml:space="preserve">2000</text>
<text x="744.05" y="1348.95" font-size="21.50" fill="#000" xml:space="preserve">3000</text>
<text x="744.05" y="1281.67" font-size="21.50" fill="#000" xml:space="preserve">4000</text>
<text x="744.05" y="1214.38" font-size="21.50" fill="#000" xml:space="preserve">5000</text>
<text x="744.05" y="1147.10" font-size="21.50" fill="#000" xml:space="preserve">6000</text>
<defs><clipPath id="ov4"><rect x="808.60" y="1543.10" width="550.50" height="3.8"/></clipPath></defs>
<path clip-path="url(#ov4)" d="M808.6,1545.0 L808.9,1545.0 L809.2,1545.0 L809.4,1545.0 L809.7,1545.0 L810.0,1545.0 L810.3,1545.0 L810.5,1545.0 L810.8,1545.0 L811.1,1545.0 L811.4,1545.0 L811.6,1545.0 L811.9,1545.0 L812.2,1545.0 L812.5,1545.0 L812.7,1545.0 L813.0,1545.0 L813.3,1545.0 L813.6,1545.0 L813.8,1545.0 L814.1,1545.0 L814.4,1545.0 L814.7,1545.0 L814.9,1545.0 L815.2,1545.0 L815.5,1545.0 L815.8,1545.0 L816.0,1545.0 L816.3,1545.0 L816.6,1545.0 L816.9,1545.0 L817.1,1545.0 L817.4,1545.0 L817.7,1545.0 L818.0,1545.0 L818.2,1545.0 L818.5,1545.0 L818.8,1545.0 L819.1,1545.0 L819.3,1545.0 L819.6,1545.0 L819.8,1545.0 L819.9,1543.9 L820.2,1538.4M822.9,1539.6 L823.2,1543.0 L823.5,1544.2 L823.6,1545.0 L823.7,1545.0 L824.0,1545.0 L824.3,1545.0 L824.6,1545.0 L824.8,1545.0 L825.1,1545.0 L825.3,1545.0 L825.4,1543.1 L825.7,1538.2M924.2,1540.9 L924.5,1542.7 L924.8,1542.2M934.4,1542.2 L934.7,1542.6 L934.9,1542.0M935.2,1542.0 L935.5,1542.5 L935.8,1542.9 L936.0,1542.6 L936.3,1542.3 L936.6,1543.3 L936.9,1542.7 L937.1,1542.9 L937.4,1543.0 L937.7,1542.6 L938.0,1543.0 L938.2,1542.5 L938.5,1542.2 L938.8,1542.5 L939.1,1542.8 L939.3,1543.0 L939.6,1542.8 L939.9,1543.0 L940.2,1541.9M940.4,1542.4 L940.7,1542.6 L941.0,1542.7 L941.3,1542.6 L941.5,1542.4 L941.8,1542.7 L942.1,1541.8 L942.4,1542.6 L942.6,1542.6 L942.9,1542.2M944.8,1542.3 L945.1,1542.6 L945.4,1542.7 L945.7,1542.3 L945.9,1542.7 L946.2,1542.0M946.5,1542.4 L946.8,1542.7 L947.1,1542.4M947.9,1542.0 L948.2,1542.7 L948.4,1542.9 L948.7,1542.2M950.9,1542.5 L951.2,1542.5 L951.5,1542.0M951.7,1542.0 L952.0,1542.8 L952.3,1542.5M953.4,1542.2 L953.7,1542.5 L953.9,1541.3M964.9,1542.3 L965.2,1542.7 L965.5,1542.1M979.5,1542.4 L979.8,1543.3 L980.1,1542.8 L980.4,1542.9 L980.6,1543.1 L980.9,1543.3 L981.2,1543.3 L981.5,1542.9 L981.7,1542.9 L982.0,1543.0 L982.3,1543.1 L982.6,1543.5 L982.8,1543.0 L983.1,1543.3 L983.4,1543.1 L983.7,1543.0 L983.9,1543.3 L984.2,1543.4 L984.5,1542.9 L984.6,1543.0 L984.8,1543.2 L985.0,1543.8 L985.3,1543.0 L985.6,1542.7 L985.9,1542.5 L986.1,1543.0 L986.4,1542.9 L986.7,1542.8 L987.0,1542.4 L987.2,1542.9 L987.5,1542.5 L987.8,1542.7 L988.1,1542.3 L988.3,1542.8 L988.6,1542.1M989.4,1541.7 L989.7,1542.5 L990.0,1541.6M1009.0,1541.9 L1009.3,1542.8 L1009.5,1542.8 L1009.8,1543.8 L1010.0,1544.2 L1010.1,1544.3 L1010.4,1544.1 L1010.6,1544.3 L1010.9,1544.2 L1011.2,1544.1 L1011.5,1544.2 L1011.7,1544.1 L1012.0,1544.2 L1012.3,1544.3 L1012.6,1544.3 L1012.8,1544.4 L1013.1,1544.2 L1013.4,1544.4 L1013.7,1544.3 L1013.9,1544.0 L1014.2,1544.1 L1014.5,1544.1 L1014.8,1544.2 L1015.0,1543.7 L1015.3,1543.7 L1015.6,1543.6 L1015.7,1543.7 L1015.9,1543.6 L1016.1,1543.2 L1016.4,1542.9 L1016.7,1542.7 L1017.0,1542.4M1022.5,1542.1 L1022.7,1542.6 L1023.0,1543.1 L1023.3,1543.6 L1023.6,1544.1 L1023.8,1544.7 L1024.1,1544.6 L1024.4,1544.4 L1024.7,1544.6 L1024.9,1544.7 L1025.2,1544.6 L1025.5,1544.7 L1025.8,1544.7 L1026.0,1544.7 L1026.3,1544.7 L1026.6,1544.8 L1026.9,1544.8 L1027.1,1544.7 L1027.4,1544.9 L1027.7,1544.9 L1028.0,1544.8 L1028.2,1544.9 L1028.5,1544.8 L1028.8,1544.9 L1029.1,1544.9 L1029.4,1544.9 L1029.6,1544.9 L1029.9,1544.8 L1030.2,1544.8 L1030.5,1544.8 L1030.7,1544.9 L1031.0,1544.8 L1031.3,1544.9 L1031.6,1544.8 L1031.8,1544.9 L1032.1,1544.9 L1032.4,1544.9 L1032.7,1544.8 L1032.9,1544.9 L1033.2,1544.9 L1033.5,1544.9 L1033.8,1544.9 L1034.0,1544.9 L1034.3,1544.9 L1034.6,1544.9 L1034.9,1544.8 L1035.1,1544.9 L1035.4,1544.9 L1035.7,1544.9 L1036.0,1544.8 L1036.2,1544.8 L1036.5,1544.9 L1036.8,1544.8 L1037.1,1544.8 L1037.3,1544.9 L1037.6,1544.9 L1037.9,1544.9 L1038.2,1544.8 L1038.4,1544.9 L1038.7,1544.9 L1039.0,1544.9 L1039.3,1544.8 L1039.5,1544.9 L1039.8,1544.9 L1040.1,1544.8 L1040.4,1544.9 L1040.6,1544.9 L1040.9,1544.8 L1041.2,1544.9 L1041.5,1544.9 L1041.7,1544.9 L1042.0,1544.9 L1042.3,1544.8 L1042.6,1544.8 L1042.8,1544.8 L1043.1,1544.9 L1043.4,1544.9 L1043.7,1544.8 L1043.9,1544.8 L1044.2,1544.8 L1044.5,1544.8 L1044.8,1544.8 L1045.0,1544.8 L1045.3,1544.8 L1045.6,1544.9 L1045.9,1544.8 L1046.1,1544.8 L1046.4,1544.8 L1046.7,1544.8 L1047.0,1544.7 L1047.2,1544.8 L1047.5,1544.8 L1047.8,1544.8 L1048.1,1544.8 L1048.3,1544.8 L1048.6,1544.8 L1048.9,1544.7 L1049.2,1544.7 L1049.4,1544.6 L1049.7,1544.5 L1050.0,1544.5 L1050.3,1544.4 L1050.5,1544.3 L1050.8,1544.2 L1051.1,1544.4 L1051.4,1544.4 L1051.6,1544.5 L1051.9,1544.5 L1052.2,1544.5 L1052.5,1544.6 L1052.7,1544.7 L1053.0,1544.8 L1053.3,1544.8 L1053.6,1544.8 L1053.8,1544.8 L1054.1,1544.8 L1054.4,1544.9 L1054.7,1544.8 L1054.9,1544.8 L1055.2,1544.9 L1055.5,1544.9 L1055.8,1544.8 L1056.0,1544.8 L1056.3,1544.9 L1056.6,1544.8 L1056.9,1544.8 L1057.2,1544.8 L1057.4,1544.9 L1057.7,1544.8 L1058.0,1544.9 L1058.3,1544.8 L1058.5,1544.8 L1058.8,1544.8 L1059.1,1544.9 L1059.4,1544.9 L1059.6,1544.9 L1059.9,1544.9 L1060.2,1544.9 L1060.5,1544.9 L1060.7,1544.9 L1061.0,1544.9 L1061.3,1545.0 L1061.6,1544.9 L1061.8,1544.9 L1062.1,1545.0 L1062.4,1544.9 L1062.7,1544.9 L1062.9,1544.9 L1063.2,1544.9 L1063.5,1544.9 L1063.8,1544.9 L1064.0,1544.9 L1064.3,1544.9 L1064.6,1544.8 L1064.9,1544.9 L1065.1,1544.9 L1065.4,1544.9 L1065.7,1545.0 L1066.0,1544.9 L1066.2,1545.0 L1066.5,1544.9 L1066.8,1544.9 L1067.1,1545.0 L1067.3,1544.9 L1067.6,1544.9 L1067.9,1545.0 L1068.2,1545.0 L1068.4,1545.0 L1068.7,1544.9 L1069.0,1545.0 L1069.3,1544.9 L1069.5,1544.9 L1069.8,1544.9 L1070.1,1544.9 L1070.4,1545.0 L1070.6,1545.0 L1070.9,1544.9 L1071.2,1545.0 L1071.5,1545.0 L1071.7,1544.9 L1072.0,1544.9 L1072.3,1545.0 L1072.6,1544.9 L1072.8,1544.9 L1073.1,1544.9 L1073.4,1545.0 L1073.7,1544.9 L1073.9,1544.9 L1074.2,1545.0 L1074.5,1545.0 L1074.8,1544.9 L1075.0,1544.9 L1075.3,1544.9 L1075.6,1544.9 L1075.9,1544.9 L1076.1,1544.9 L1076.4,1544.9 L1076.7,1544.9 L1077.0,1544.9 L1077.2,1544.9 L1077.5,1544.9 L1077.8,1544.9 L1078.1,1544.8 L1078.3,1544.9 L1078.6,1544.9 L1078.9,1545.0 L1079.2,1544.9 L1079.4,1545.0 L1079.7,1545.0 L1080.0,1545.0 L1080.3,1545.0 L1080.5,1544.9 L1080.8,1545.0 L1081.1,1545.0 L1081.4,1544.9 L1081.6,1545.0 L1081.9,1545.0 L1082.2,1545.0 L1082.5,1545.0 L1082.7,1544.9 L1083.0,1545.0 L1083.3,1544.9 L1083.6,1544.9 L1083.8,1545.0 L1084.1,1544.9 L1084.4,1545.0 L1084.7,1545.0 L1085.0,1544.9 L1085.2,1544.9 L1085.5,1544.9 L1085.8,1544.9 L1086.1,1545.0 L1086.3,1544.9 L1086.6,1544.9 L1086.9,1544.9 L1087.2,1545.0 L1087.4,1544.9 L1087.7,1544.9 L1088.0,1544.9 L1088.3,1544.9 L1088.5,1545.0 L1088.8,1544.9 L1089.1,1544.9 L1089.4,1544.9 L1089.6,1545.0 L1089.9,1544.9 L1090.2,1545.0 L1090.5,1545.0 L1090.7,1545.0 L1091.0,1545.0 L1091.3,1545.0 L1091.6,1545.0 L1091.8,1545.0 L1092.1,1544.9 L1092.4,1544.9 L1092.7,1545.0 L1092.9,1544.9 L1093.2,1544.9 L1093.5,1544.9 L1093.8,1544.9 L1094.0,1544.9 L1094.3,1544.9 L1094.6,1544.9 L1094.9,1544.9 L1095.1,1544.9 L1095.4,1544.9 L1095.7,1544.9 L1096.0,1544.9 L1096.2,1544.9 L1096.5,1545.0 L1096.8,1544.9 L1097.1,1545.0 L1097.3,1544.9 L1097.6,1544.9 L1097.9,1544.9 L1098.2,1544.9 L1098.4,1544.9 L1098.7,1544.9 L1099.0,1544.9 L1099.3,1544.9 L1099.5,1544.9 L1099.8,1544.9 L1100.1,1544.9 L1100.4,1545.0 L1100.6,1544.9 L1100.9,1544.9 L1101.2,1544.9 L1101.5,1544.9 L1101.7,1544.9 L1102.0,1545.0 L1102.3,1544.9 L1102.6,1545.0 L1102.8,1545.0 L1103.1,1544.9 L1103.4,1545.0 L1103.7,1545.0 L1103.9,1544.9 L1104.2,1544.9 L1104.5,1544.9 L1104.8,1544.8 L1105.0,1545.0 L1105.3,1544.9 L1105.6,1545.0 L1105.9,1544.9 L1106.1,1544.9 L1106.4,1544.9 L1106.7,1545.0 L1107.0,1544.9 L1107.2,1544.9 L1107.5,1544.9 L1107.8,1544.9 L1108.1,1545.0 L1108.3,1544.9 L1108.6,1544.9 L1108.9,1544.9 L1109.2,1545.0 L1109.4,1544.9 L1109.7,1544.9 L1110.0,1544.9 L1110.3,1544.9 L1110.5,1544.9 L1110.8,1544.9 L1111.1,1544.9 L1111.4,1545.0 L1111.7,1545.0 L1111.9,1545.0 L1112.2,1545.0 L1112.5,1545.0 L1112.8,1544.9 L1113.0,1544.9 L1113.3,1544.9 L1113.6,1545.0 L1113.9,1544.9 L1114.1,1544.9 L1114.4,1544.9 L1114.7,1545.0 L1115.0,1544.9 L1115.2,1545.0 L1115.5,1544.9 L1115.8,1545.0 L1116.1,1545.0 L1116.3,1545.0 L1116.6,1544.9 L1116.9,1545.0 L1117.2,1544.9 L1117.4,1545.0 L1117.7,1544.9 L1118.0,1544.9 L1118.3,1544.9 L1118.5,1544.9 L1118.8,1544.8 L1119.1,1544.9 L1119.4,1545.0 L1119.6,1544.9 L1119.9,1544.9 L1120.2,1545.0 L1120.5,1544.9 L1120.7,1545.0 L1121.0,1544.9 L1121.3,1544.9 L1121.6,1545.0 L1121.8,1544.9 L1122.1,1545.0 L1122.4,1544.9 L1122.7,1545.0 L1122.9,1544.9 L1123.2,1544.9 L1123.5,1544.9 L1123.8,1545.0 L1124.0,1544.9 L1124.3,1545.0 L1124.6,1544.9 L1124.9,1544.9 L1125.1,1544.9 L1125.4,1544.9 L1125.7,1545.0 L1126.0,1544.9 L1126.2,1544.9 L1126.5,1545.0 L1126.8,1544.9 L1127.1,1544.9 L1127.3,1544.9 L1127.6,1544.9 L1127.9,1545.0 L1128.2,1544.9 L1128.4,1545.0 L1128.7,1545.0 L1129.0,1544.9 L1129.3,1544.9 L1129.5,1544.9 L1129.8,1544.9 L1130.1,1545.0 L1130.4,1544.9 L1130.6,1544.9 L1130.9,1544.9 L1131.2,1544.9 L1131.5,1544.9 L1131.7,1544.9 L1132.0,1544.9 L1132.3,1545.0 L1132.6,1544.9 L1132.8,1545.0 L1133.1,1544.9 L1133.4,1544.9 L1133.7,1544.9 L1133.9,1545.0 L1134.2,1544.9 L1134.5,1544.9 L1134.8,1544.9 L1135.0,1544.9 L1135.3,1544.9 L1135.6,1544.9 L1135.9,1545.0 L1136.1,1544.9 L1136.4,1544.9 L1136.7,1545.0 L1137.0,1545.0 L1137.2,1544.9 L1137.5,1544.9 L1137.8,1544.9 L1138.1,1544.9 L1138.3,1544.9 L1138.6,1544.9 L1138.9,1545.0 L1139.2,1544.9 L1139.5,1544.9 L1139.7,1545.0 L1140.0,1544.9 L1140.3,1544.9 L1140.6,1544.9 L1140.8,1544.9 L1141.1,1544.9 L1141.4,1545.0 L1141.7,1544.9 L1141.9,1544.9 L1142.2,1545.0 L1142.5,1545.0 L1142.8,1544.9 L1143.0,1545.0 L1143.3,1544.9 L1143.6,1544.9 L1143.9,1545.0 L1144.1,1544.9 L1144.4,1544.9 L1144.7,1544.9 L1145.0,1545.0 L1145.2,1544.9 L1145.5,1544.9 L1145.8,1544.9 L1146.1,1544.9 L1146.3,1544.9 L1146.6,1544.9 L1146.9,1545.0 L1147.2,1545.0 L1147.4,1545.0 L1147.7,1544.9 L1148.0,1544.9 L1148.3,1545.0 L1148.5,1544.9 L1148.8,1545.0 L1149.1,1545.0 L1149.4,1544.9 L1149.6,1544.9 L1149.9,1544.9 L1150.2,1544.9 L1150.5,1545.0 L1150.7,1545.0 L1151.0,1544.8 L1151.3,1544.9 L1151.6,1545.0 L1151.8,1544.9 L1152.1,1544.9 L1152.4,1545.0 L1152.7,1544.9 L1152.9,1544.9 L1153.2,1544.9 L1153.5,1544.9 L1153.8,1544.9 L1154.0,1544.9 L1154.3,1544.9 L1154.6,1544.9 L1154.9,1544.9 L1155.1,1544.9 L1155.4,1544.9 L1155.7,1545.0 L1156.0,1544.9 L1156.2,1545.0 L1156.5,1544.9 L1156.8,1545.0 L1157.1,1544.9 L1157.3,1544.9 L1157.6,1545.0 L1157.9,1544.9 L1158.2,1545.0 L1158.4,1544.9 L1158.7,1545.0 L1159.0,1545.0 L1159.3,1545.0 L1159.5,1544.9 L1159.8,1544.9 L1160.1,1544.9 L1160.4,1545.0 L1160.6,1544.9 L1160.9,1544.9 L1161.2,1545.0 L1161.5,1544.9 L1161.7,1545.0 L1162.0,1545.0 L1162.3,1544.9 L1162.6,1544.9 L1162.8,1544.9 L1163.1,1544.9 L1163.4,1544.9 L1163.7,1544.9 L1163.9,1544.9 L1164.2,1544.9 L1164.5,1545.0 L1164.8,1544.9 L1165.0,1545.0 L1165.3,1545.0 L1165.6,1544.9 L1165.9,1544.9 L1166.1,1544.9 L1166.4,1544.9 L1166.7,1545.0 L1167.0,1545.0 L1167.3,1544.9 L1167.5,1545.0 L1167.8,1544.9 L1168.1,1544.9 L1168.4,1544.9 L1168.6,1545.0 L1168.9,1545.0 L1169.2,1544.9 L1169.5,1545.0 L1169.7,1544.9 L1170.0,1544.9 L1170.3,1544.9 L1170.6,1545.0 L1170.8,1544.9 L1171.1,1545.0 L1171.4,1544.9 L1171.7,1544.9 L1171.9,1545.0 L1172.2,1544.9 L1172.5,1544.9 L1172.8,1545.0 L1173.0,1544.9 L1173.3,1545.0 L1173.6,1545.0 L1173.9,1544.9 L1174.1,1544.9 L1174.4,1545.0 L1174.7,1545.0 L1175.0,1544.9 L1175.2,1544.9 L1175.5,1544.9 L1175.8,1544.9 L1176.1,1545.0 L1176.3,1544.9 L1176.6,1545.0 L1176.9,1544.8 L1177.2,1545.0 L1177.4,1544.9 L1177.7,1545.0 L1178.0,1545.0 L1178.3,1545.0 L1178.5,1544.9 L1178.8,1544.9 L1179.1,1544.9 L1179.4,1545.0 L1179.6,1544.9 L1179.9,1545.0 L1180.2,1544.9 L1180.5,1544.9 L1180.7,1544.9 L1181.0,1544.9 L1181.3,1545.0 L1181.6,1544.8 L1181.8,1544.9 L1182.1,1544.9 L1182.4,1545.0 L1182.7,1544.9 L1182.9,1545.0 L1183.2,1544.9 L1183.5,1544.9 L1183.8,1544.9 L1184.0,1544.9 L1184.3,1544.9 L1184.6,1544.9 L1184.9,1544.9 L1185.1,1544.9 L1185.4,1545.0 L1185.7,1544.9 L1186.0,1545.0 L1186.2,1545.0 L1186.5,1544.9 L1186.8,1544.9 L1187.1,1544.8 L1187.3,1544.8 L1187.6,1545.0 L1187.9,1545.0 L1188.2,1544.9 L1188.4,1544.9 L1188.7,1544.9 L1189.0,1544.9 L1189.3,1545.0 L1189.5,1545.0 L1189.8,1545.0 L1190.1,1545.0 L1190.4,1544.9 L1190.6,1544.9 L1190.9,1545.0 L1191.2,1544.9 L1191.5,1544.9 L1191.7,1544.9 L1192.0,1544.9 L1192.3,1544.9 L1192.6,1544.9 L1192.8,1544.9 L1193.1,1545.0 L1193.4,1544.9 L1193.7,1544.9 L1194.0,1545.0 L1194.2,1544.9 L1194.5,1544.9 L1194.8,1544.9 L1195.1,1544.9 L1195.3,1544.9 L1195.6,1544.9 L1195.9,1544.9 L1196.2,1544.9 L1196.4,1544.8 L1196.7,1545.0 L1197.0,1545.0 L1197.3,1545.0 L1197.5,1544.9 L1197.8,1544.9 L1198.1,1544.9 L1198.4,1544.9 L1198.6,1545.0 L1198.9,1544.9 L1199.2,1544.9 L1199.5,1544.9 L1199.7,1544.9 L1200.0,1544.9 L1200.3,1544.9 L1200.6,1544.9 L1200.8,1545.0 L1201.1,1545.0 L1201.4,1544.9 L1201.7,1545.0 L1201.9,1544.9 L1202.2,1545.0 L1202.5,1544.9 L1202.8,1544.9 L1203.0,1544.9 L1203.3,1544.9 L1203.6,1545.0 L1203.9,1545.0 L1204.1,1544.9 L1204.4,1544.9 L1204.7,1544.9 L1205.0,1545.0 L1205.2,1544.9 L1205.5,1544.9 L1205.8,1544.8 L1206.1,1544.9 L1206.3,1544.9 L1206.6,1545.0 L1206.9,1545.0 L1207.2,1544.9 L1207.4,1544.9 L1207.7,1545.0 L1208.0,1545.0 L1208.3,1545.0 L1208.5,1544.9 L1208.8,1545.0 L1209.1,1544.9 L1209.4,1545.0 L1209.6,1544.9 L1209.9,1545.0 L1210.2,1545.0 L1210.5,1544.9 L1210.7,1544.9 L1211.0,1545.0 L1211.3,1544.9 L1211.6,1545.0 L1211.8,1545.0 L1212.1,1544.9 L1212.4,1545.0 L1212.7,1544.9 L1212.9,1544.9 L1213.2,1545.0 L1213.5,1544.9 L1213.8,1544.9 L1214.0,1544.9 L1214.3,1545.0 L1214.6,1545.0 L1214.9,1544.9 L1215.1,1544.9 L1215.4,1544.9 L1215.7,1545.0 L1216.0,1544.9 L1216.2,1544.9 L1216.5,1544.9 L1216.8,1545.0 L1217.1,1545.0 L1217.3,1545.0 L1217.6,1545.0 L1217.9,1544.9 L1218.2,1544.9 L1218.4,1544.9 L1218.7,1544.9 L1219.0,1545.0 L1219.3,1545.0 L1219.5,1544.9 L1219.8,1544.9 L1220.1,1544.9 L1220.4,1544.9 L1220.6,1545.0 L1220.9,1544.9 L1221.2,1544.9 L1221.5,1545.0 L1221.8,1544.9 L1222.0,1545.0 L1222.3,1545.0 L1222.6,1544.9 L1222.9,1544.9 L1223.1,1544.9 L1223.4,1545.0 L1223.7,1544.8 L1224.0,1544.9 L1224.2,1544.9 L1224.5,1544.9 L1224.8,1544.9 L1225.1,1544.9 L1225.3,1544.9 L1225.6,1545.0 L1225.9,1544.9 L1226.2,1544.9 L1226.4,1544.9 L1226.7,1544.9 L1227.0,1545.0 L1227.3,1544.9 L1227.5,1544.9 L1227.8,1544.9 L1228.1,1544.9 L1228.4,1545.0 L1228.6,1545.0 L1228.9,1545.0 L1229.2,1544.9 L1229.5,1544.8 L1229.7,1544.9 L1230.0,1544.9 L1230.3,1544.9 L1230.6,1544.9 L1230.8,1544.9 L1231.1,1545.0 L1231.4,1544.9 L1231.7,1544.9 L1231.9,1544.9 L1232.2,1545.0 L1232.5,1545.0 L1232.8,1544.9 L1233.0,1545.0 L1233.3,1544.9 L1233.6,1544.9 L1233.9,1544.9 L1234.1,1544.9 L1234.4,1544.9 L1234.7,1544.9 L1235.0,1544.9 L1235.2,1544.9 L1235.5,1544.8 L1235.8,1544.9 L1236.1,1544.9 L1236.3,1544.9 L1236.6,1545.0 L1236.9,1544.9 L1237.2,1544.9 L1237.4,1544.9 L1237.7,1545.0 L1238.0,1545.0 L1238.3,1545.0 L1238.5,1544.9 L1238.8,1544.8 L1239.1,1544.9 L1239.4,1545.0 L1239.6,1544.9 L1239.9,1545.0 L1240.2,1544.9 L1240.5,1545.0 L1240.7,1545.0 L1241.0,1544.9 L1241.3,1544.9 L1241.6,1544.9 L1241.8,1544.9 L1242.1,1544.9 L1242.4,1544.9 L1242.7,1544.9 L1242.9,1544.9 L1243.2,1545.0 L1243.5,1544.9 L1243.8,1545.0 L1244.0,1545.0 L1244.3,1544.9 L1244.6,1544.9 L1244.9,1545.0 L1245.1,1544.9 L1245.4,1544.9 L1245.7,1545.0 L1246.0,1544.9 L1246.2,1545.0 L1246.5,1545.0 L1246.8,1545.0 L1247.1,1545.0 L1247.3,1544.9 L1247.6,1545.0 L1247.9,1544.9 L1248.2,1544.9 L1248.4,1545.0 L1248.7,1545.0 L1249.0,1544.9 L1249.3,1545.0 L1249.6,1545.0 L1249.8,1545.0 L1250.1,1544.9 L1250.4,1544.9 L1250.7,1544.9 L1250.9,1544.9 L1251.2,1545.0 L1251.5,1544.9 L1251.8,1545.0 L1252.0,1544.9 L1252.3,1544.9 L1252.6,1544.9 L1252.9,1544.9 L1253.1,1544.9 L1253.4,1544.9 L1253.7,1544.9 L1254.0,1545.0 L1254.2,1545.0 L1254.5,1544.9 L1254.8,1544.9 L1255.1,1544.9 L1255.3,1544.9 L1255.6,1544.9 L1255.9,1545.0 L1256.2,1544.9 L1256.4,1545.0 L1256.7,1544.9 L1257.0,1544.9 L1257.3,1544.9 L1257.5,1544.9 L1257.8,1545.0 L1258.1,1545.0 L1258.4,1544.9 L1258.6,1544.9 L1258.9,1544.9 L1259.2,1544.9 L1259.5,1545.0 L1259.7,1544.9 L1260.0,1544.9 L1260.3,1545.0 L1260.6,1544.9 L1260.8,1544.9 L1261.1,1544.9 L1261.4,1545.0 L1261.7,1544.9 L1261.9,1544.9 L1262.2,1545.0 L1262.5,1545.0 L1262.8,1544.9 L1263.0,1544.9 L1263.3,1544.9 L1263.6,1544.9 L1263.9,1545.0 L1264.1,1544.9 L1264.4,1545.0 L1264.7,1544.9 L1265.0,1545.0 L1265.2,1544.9 L1265.5,1545.0 L1265.8,1545.0 L1266.1,1545.0 L1266.3,1544.8 L1266.6,1545.0 L1266.9,1545.0 L1267.2,1545.0 L1267.4,1545.0 L1267.7,1545.0 L1268.0,1544.9 L1268.3,1544.9 L1268.5,1544.9 L1268.8,1545.0 L1269.1,1544.9 L1269.4,1544.9 L1269.6,1544.9 L1269.9,1544.9 L1270.2,1545.0 L1270.5,1544.9 L1270.7,1544.9 L1271.0,1544.9 L1271.3,1545.0 L1271.6,1544.9 L1271.8,1544.9 L1272.1,1544.9 L1272.4,1545.0 L1272.7,1544.9 L1272.9,1544.9 L1273.2,1544.9 L1273.5,1544.9 L1273.8,1544.9 L1274.0,1544.9 L1274.3,1544.9 L1274.6,1545.0 L1274.9,1545.0 L1275.1,1544.9 L1275.4,1545.0 L1275.7,1544.9 L1276.0,1545.0 L1276.2,1544.9 L1276.5,1545.0 L1276.8,1544.9 L1277.1,1545.0 L1277.4,1545.0 L1277.6,1544.9 L1277.9,1544.9 L1278.2,1544.9 L1278.5,1544.9 L1278.7,1545.0 L1279.0,1544.9 L1279.3,1544.9 L1279.6,1545.0 L1279.8,1544.9 L1280.1,1544.9 L1280.4,1544.9 L1280.7,1545.0 L1280.9,1545.0 L1281.2,1544.9 L1281.5,1544.9 L1281.8,1544.9 L1282.0,1545.0 L1282.3,1545.0 L1282.6,1544.9 L1282.9,1545.0 L1283.1,1544.9 L1283.4,1544.9 L1283.7,1544.9 L1284.0,1545.0 L1284.2,1544.9 L1284.5,1544.9 L1284.8,1544.9 L1285.1,1544.9 L1285.3,1545.0 L1285.6,1544.9 L1285.9,1545.0 L1286.2,1545.0 L1286.4,1544.9 L1286.7,1544.9 L1287.0,1544.9 L1287.3,1544.9 L1287.5,1544.9 L1287.8,1545.0 L1288.1,1545.0 L1288.4,1545.0 L1288.6,1544.9 L1288.9,1544.9 L1289.2,1544.9 L1289.5,1545.0 L1289.7,1544.9 L1290.0,1544.9 L1290.3,1545.0 L1290.6,1544.9 L1290.8,1544.9 L1291.1,1544.9 L1291.4,1545.0 L1291.7,1544.9 L1291.9,1544.9 L1292.2,1544.9 L1292.5,1545.0 L1292.8,1545.0 L1293.0,1544.9 L1293.3,1545.0 L1293.6,1544.9 L1293.9,1545.0 L1294.1,1544.9 L1294.4,1545.0 L1294.7,1544.9 L1295.0,1544.9 L1295.2,1544.9 L1295.5,1545.0 L1295.8,1544.9 L1296.1,1545.0 L1296.3,1545.0 L1296.6,1545.0 L1296.9,1545.0 L1297.2,1544.9 L1297.4,1544.9 L1297.7,1545.0 L1298.0,1544.9 L1298.3,1545.0 L1298.5,1544.9 L1298.8,1544.9 L1299.1,1544.9 L1299.4,1544.9 L1299.6,1544.9 L1299.9,1544.9 L1300.2,1545.0 L1300.5,1544.9 L1300.7,1544.9 L1301.0,1544.9 L1301.3,1544.9 L1301.6,1544.9 L1301.8,1545.0 L1302.1,1544.8 L1302.4,1545.0 L1302.7,1545.0 L1302.9,1544.9 L1303.2,1544.9 L1303.5,1545.0 L1303.8,1545.0 L1304.0,1545.0 L1304.3,1545.0 L1304.6,1545.0 L1304.9,1544.9 L1305.2,1544.9 L1305.4,1544.9 L1305.7,1545.0 L1306.0,1544.9 L1306.3,1544.9 L1306.5,1544.9 L1306.8,1544.9 L1307.1,1545.0 L1307.4,1544.9 L1307.6,1544.9 L1307.9,1545.0 L1308.2,1544.9 L1308.5,1544.9 L1308.7,1544.9 L1309.0,1545.0 L1309.3,1545.0 L1309.6,1544.9 L1309.8,1544.9 L1310.1,1545.0 L1310.4,1544.8 L1310.7,1544.8 L1310.9,1545.0 L1311.2,1545.0 L1311.5,1544.9 L1311.8,1544.9 L1312.0,1544.9 L1312.3,1544.9 L1312.6,1544.9 L1312.9,1545.0 L1313.1,1544.9 L1313.4,1544.9 L1313.7,1544.9 L1314.0,1544.9 L1314.2,1544.9 L1314.5,1544.9 L1314.8,1545.0 L1315.1,1544.9 L1315.3,1545.0 L1315.6,1544.9 L1315.9,1545.0 L1316.2,1544.9 L1316.4,1545.0 L1316.7,1544.9 L1317.0,1544.9 L1317.3,1544.9 L1317.5,1545.0 L1317.8,1545.0 L1318.1,1544.9 L1318.4,1544.9 L1318.6,1545.0 L1318.9,1545.0 L1319.2,1545.0 L1319.5,1544.9 L1319.7,1545.0 L1320.0,1544.9 L1320.3,1544.8 L1320.6,1544.9 L1320.8,1544.9 L1321.1,1544.9 L1321.4,1544.9 L1321.7,1545.0 L1321.9,1544.9 L1322.2,1544.9 L1322.5,1545.0 L1322.8,1544.9 L1323.0,1544.9 L1323.3,1545.0 L1323.6,1544.9 L1323.9,1545.0 L1324.1,1544.9 L1324.4,1545.0 L1324.7,1545.0 L1325.0,1544.9 L1325.2,1545.0 L1325.5,1544.9 L1325.8,1545.0 L1326.1,1545.0 L1326.3,1544.9 L1326.6,1544.9 L1326.9,1545.0 L1327.2,1545.0 L1327.4,1544.8 L1327.7,1545.0 L1328.0,1545.0 L1328.3,1544.9 L1328.5,1545.0 L1328.8,1545.0 L1329.1,1544.9 L1329.4,1544.9 L1329.6,1544.9 L1329.9,1544.9 L1330.2,1544.9 L1330.5,1544.9 L1330.7,1544.9 L1331.0,1544.9 L1331.3,1544.9 L1331.6,1544.9 L1331.9,1545.0 L1332.1,1544.9 L1332.4,1545.0 L1332.7,1545.0 L1333.0,1544.9 L1333.2,1544.9 L1333.5,1544.9 L1333.8,1544.9 L1334.1,1544.9 L1334.3,1544.9 L1334.6,1545.0 L1334.9,1545.0 L1335.2,1544.9 L1335.4,1544.9 L1335.7,1544.9 L1336.0,1545.0 L1336.3,1544.9 L1336.5,1544.9 L1336.8,1544.8 L1337.1,1544.9 L1337.4,1544.9 L1337.6,1545.0 L1337.9,1545.0 L1338.2,1545.0 L1338.5,1545.0 L1338.7,1545.0 L1339.0,1545.0 L1339.3,1544.9 L1339.6,1544.9 L1339.8,1544.9 L1340.1,1544.9 L1340.4,1544.9 L1340.7,1544.9 L1340.9,1545.0 L1341.2,1544.9 L1341.5,1545.0 L1341.8,1545.0 L1342.0,1544.9 L1342.3,1544.9 L1342.6,1544.9 L1342.9,1544.9 L1343.1,1544.9 L1343.4,1544.9 L1343.7,1544.9 L1344.0,1544.9 L1344.2,1544.9 L1344.5,1545.0 L1344.8,1544.9 L1345.1,1544.9 L1345.3,1544.9 L1345.6,1544.9 L1345.9,1544.9 L1346.2,1544.9 L1346.4,1545.0 L1346.7,1545.0 L1347.0,1544.9 L1347.3,1545.0 L1347.5,1545.0 L1347.8,1544.9 L1348.1,1545.0 L1348.4,1544.9 L1348.6,1544.9 L1348.9,1544.9 L1349.2,1544.9 L1349.5,1545.0 L1349.7,1544.9 L1350.0,1545.0 L1350.3,1545.0 L1350.6,1545.0 L1350.8,1544.9 L1351.1,1545.0 L1351.4,1545.0 L1351.7,1544.9 L1351.9,1544.9 L1352.2,1544.9 L1352.5,1544.9 L1352.8,1545.0 L1353.0,1544.9 L1353.3,1544.9 L1353.6,1545.0 L1353.9,1544.9 L1354.1,1544.9 L1354.4,1544.9 L1354.7,1545.0 L1355.0,1545.0 L1355.2,1545.0 L1355.5,1545.0 L1355.8,1544.9 L1356.1,1545.0 L1356.3,1544.9 L1356.6,1545.0 L1356.9,1544.9 L1357.2,1544.9 L1357.4,1545.0 L1357.7,1544.8 L1358.0,1544.9 L1358.3,1544.9 L1358.5,1545.0 L1358.8,1544.9 L1359.1,1544.9" stroke="#000096" stroke-width="1.2" fill="none"/>
<text x="991.82" y="1615.40" font-size="25.15" fill="#000" xml:space="preserve">Energy (keV)</text>
<text transform="translate(725.10,1432.45) rotate(-90)" x="0" y="0" font-size="25.60" fill="#000" xml:space="preserve">Counts (a. u.)</text>
<text x="1068.23" y="1668.50" font-size="33.58" fill="#000" xml:space="preserve">(f)</text>
<defs><clipPath id="clipG"><rect x="108.9" y="1774" width="538" height="394.4"/></clipPath></defs>
<g clip-path="url(#clipG)">
<path d="M108.90,2168.40 L109.17,2168.40 L109.44,2168.40 L109.71,2168.40 L109.98,2168.40 L110.25,2168.40 L110.51,2168.40 L110.78,2168.40 L111.05,2168.40 L111.32,2168.40 L111.59,2168.40 L111.86,2168.40 L112.13,2168.40 L112.40,2168.40 L112.67,2168.40 L112.94,2168.40 L113.20,2168.40 L113.47,2168.40 L113.74,2168.40 L114.01,2168.40 L114.28,2168.40 L114.55,2168.40 L114.82,2168.40 L115.09,2168.40 L115.36,2168.40 L115.62,2168.40 L115.89,2168.40 L116.16,2168.40 L116.43,2168.40 L116.70,2168.40 L116.97,2168.40 L117.24,2168.40 L117.51,2168.40 L117.78,2168.40 L118.05,2168.40 L118.31,2168.40 L118.58,2168.40 L118.85,2168.40 L119.12,2168.40 L119.39,2168.40 L119.66,2168.40 L119.88,2168.40 L119.93,2157.72 L120.20,2104.31 L120.31,2082.95 L120.47,1961.34 L120.63,1839.73 L120.74,1760.00 L121.01,1760.00 L121.06,1760.00 L121.27,1760.00 L121.54,1760.00 L121.76,1760.00 L121.81,1760.00 L122.08,1839.73 L122.35,1961.34 L122.62,2082.95 L122.89,2115.81 L123.16,2148.68 L123.43,2161.01 L123.59,2168.40 L123.70,2168.40 L123.96,2168.40 L124.23,2168.40 L124.50,2168.40 L124.77,2168.40 L125.04,2168.40 L125.20,2168.40 L125.31,2149.41 L125.58,2101.94 L125.69,2082.95 L125.85,2001.88 L126.12,1866.76 L126.17,1839.73 L126.39,1760.00 L126.44,1760.00 L126.65,1760.00 L126.92,1760.00 L127.08,1760.00 L127.19,1760.00 L127.46,1760.00 L127.73,1760.00 L128.00,1760.00 L128.16,1760.00 L128.27,1760.00 L128.54,1760.00 L128.81,1760.00 L128.91,1839.73 L129.08,1875.59 L129.34,1935.35 L129.51,1971.20 L129.61,1982.67 L129.88,2011.36 L130.10,2034.80 L130.15,2038.33 L130.42,2032.25 L130.69,2014.76 L130.96,2021.98 L131.23,2028.13 L131.50,2027.01 L131.77,2027.03 L132.03,2015.75 L132.30,2012.89 L132.57,2023.14 L132.73,2007.84 L132.84,2014.11 L133.11,1996.62 L133.38,2002.63 L133.65,1988.00 L133.92,2000.89 L134.19,1996.07 L134.46,1988.05 L134.72,1978.66 L134.99,1978.78 L135.10,1991.28 L135.26,1942.04 L135.42,1905.47 L135.53,1894.06 L135.80,1865.53 L136.07,1837.01 L136.34,1808.49 L136.61,1779.96 L136.88,1760.00 L136.93,1760.00 L137.15,1767.45 L137.41,1794.60 L137.68,1821.74 L137.95,1848.89 L138.22,1876.03 L138.38,1892.32 L138.49,1901.00 L138.76,1922.69 L138.92,1940.21 L139.03,1938.08 L139.30,1959.35 L139.57,1975.75 L139.84,1970.50 L140.10,1986.97 L140.37,1996.85 L140.64,1984.12 L140.91,1987.23 L141.18,1972.56 L141.45,1975.43 L141.72,1975.42 L141.99,1971.68 L142.26,1960.95 L142.36,1957.03 L142.53,1965.37 L142.79,1967.27 L143.06,1983.62 L143.33,1977.66 L143.60,1987.61 L143.87,1970.56 L144.14,1958.98 L144.41,1962.50 L144.68,1964.34 L144.95,1996.33 L145.22,1988.71 L145.48,1995.67 L145.75,2007.57 L145.91,2026.91 L146.02,2013.59 L146.29,1992.97 L146.56,2007.49 L146.78,1984.66 L146.83,1978.73 L147.10,1987.28 L147.37,1971.96 L147.64,1979.73 L147.91,1970.85 L148.17,1964.06 L148.44,1948.77 L148.60,1946.99 L148.71,1933.92 L148.98,1939.90 L149.25,1922.48 L149.52,1910.93 L149.63,1906.78 L149.79,1876.14 L150.06,1825.07 L150.33,1774.00 L150.59,1760.00 L150.65,1760.00 L150.86,1760.00 L151.03,1760.00 L151.13,1760.00 L151.40,1760.00 L151.67,1760.00 L151.94,1760.00 L152.21,1760.00 L152.48,1760.00 L152.75,1760.00 L152.80,1760.00 L153.02,1760.00 L153.28,1760.00 L153.34,1760.00 L153.55,1760.00 L153.82,1760.00 L154.09,1760.00 L154.25,1806.87 L154.36,1855.25 L154.63,1976.20 L154.79,2057.71 L154.90,2058.46 L155.17,2055.87 L155.44,2052.46 L155.60,2057.50 L155.71,2056.06 L155.98,2067.28 L156.24,2069.58 L156.51,2078.81 L156.78,2078.10 L157.05,2077.44 L157.32,2086.38 L157.59,2086.65 L157.86,2096.10 L158.13,2100.33 L158.29,2099.85 L158.40,2098.67 L158.67,2089.05 L158.93,2085.32 L159.20,2076.47 L159.47,2085.84 L159.74,2085.12 L160.01,2088.62 L160.28,2082.28 L160.55,2078.02 L160.82,2084.90 L161.09,2080.58 L161.36,2075.82 L161.62,2079.68 L161.89,2081.14 L162.16,2072.43 L162.43,2076.50 L162.70,2074.21 L162.97,2072.55 L163.24,2075.24 L163.51,2085.58 L163.78,2088.94 L164.05,2084.03 L164.31,2085.46 L164.58,2093.95 L164.85,2076.64 L165.12,2082.48 L165.39,2077.96 L165.66,2087.34 L165.93,2073.53 L166.20,2082.81 L166.47,2079.25 L166.74,2085.26 L167.00,2077.61 L167.27,2076.97 L167.54,2075.75 L167.81,2071.32 L168.08,2072.42 L168.35,2066.33 L168.62,2073.41 L168.89,2075.41 L169.16,2072.10 L169.43,2070.72 L169.69,2069.60 L169.96,2072.28 L170.23,2086.61 L170.50,2075.32 L170.77,2069.79 L171.04,2077.68 L171.31,2081.12 L171.58,2079.00 L171.85,2085.59 L172.12,2081.94 L172.38,2087.61 L172.65,2082.84 L172.92,2089.67 L173.19,2097.98 L173.46,2093.85 L173.73,2094.63 L174.00,2103.99 L174.27,2100.42 L174.54,2106.61 L174.81,2088.01 L175.07,2092.48 L175.34,2099.71 L175.61,2097.40 L175.88,2089.01 L176.15,2083.44 L176.42,2087.24 L176.69,2083.81 L176.96,2092.46 L177.23,2094.24 L177.50,2083.45 L177.76,2086.04 L178.03,2089.26 L178.30,2083.23 L178.57,2095.03 L178.84,2092.94 L179.11,2083.84 L179.38,2077.82 L179.65,2085.37 L179.92,2074.83 L180.19,2084.98 L180.45,2078.23 L180.72,2079.12 L180.99,2085.02 L181.26,2075.86 L181.53,2073.12 L181.80,2079.83 L182.07,2080.30 L182.34,2073.42 L182.61,2088.31 L182.88,2090.46 L182.98,2086.38 L183.14,2088.40 L183.41,2073.50 L183.68,2077.57 L183.95,2082.47 L184.22,2079.72 L184.49,2061.51 L184.76,2080.99 L185.03,2082.45 L185.30,2077.37 L185.56,2076.25 L185.83,2079.14 L186.10,2085.80 L186.37,2087.76 L186.64,2079.15 L186.91,2083.23 L187.18,2090.93 L187.45,2075.44 L187.72,2076.86 L187.99,2081.60 L188.25,2081.05 L188.52,2077.76 L188.79,2082.05 L189.06,2084.98 L189.33,2075.28 L189.60,2084.21 L189.87,2075.35 L190.14,2086.32 L190.41,2080.19 L190.68,2081.48 L190.94,2072.44 L191.21,2088.53 L191.48,2089.32 L191.75,2084.19 L192.02,2085.67 L192.29,2081.74 L192.56,2075.19 L192.83,2072.17 L193.10,2066.19 L193.37,2078.24 L193.63,2058.47 L193.90,2060.95 L194.17,2072.04 L194.44,2082.71 L194.71,2071.69 L194.98,2072.25 L195.25,2086.75 L195.52,2075.09 L195.79,2078.01 L196.06,2082.58 L196.32,2078.69 L196.59,2080.46 L196.86,2091.75 L197.13,2091.82 L197.40,2099.75 L197.67,2103.94 L197.94,2103.55 L197.99,2102.27 L198.21,2108.48 L198.48,2117.39 L198.75,2106.68 L199.01,2117.76 L199.28,2112.01 L199.55,2106.73 L199.82,2115.88 L200.09,2120.85 L200.36,2122.11 L200.63,2111.47 L200.90,2116.49 L201.17,2114.37 L201.44,2112.94 L201.71,2117.07 L201.97,2118.28 L202.24,2121.03 L202.51,2129.83 L202.78,2123.63 L203.05,2117.92 L203.32,2118.49 L203.59,2116.41 L203.86,2118.80 L204.13,2117.91 L204.40,2115.65 L204.66,2122.58 L204.93,2120.44 L205.20,2125.93 L205.47,2115.96 L205.74,2119.91 L206.01,2118.39 L206.28,2114.51 L206.55,2116.59 L206.82,2121.31 L207.09,2118.05 L207.35,2126.76 L207.62,2119.53 L207.89,2120.73 L208.16,2127.63 L208.43,2116.17 L208.70,2124.16 L208.97,2118.82 L209.24,2123.16 L209.51,2117.72 L209.78,2116.53 L210.04,2124.90 L210.31,2127.66 L210.58,2122.29 L210.85,2118.54 L211.12,2123.32 L211.39,2124.31 L211.66,2120.09 L211.93,2132.70 L212.20,2124.65 L212.47,2127.48 L212.73,2121.05 L213.00,2125.07 L213.27,2126.58 L213.54,2123.70 L213.81,2128.04 L214.08,2122.56 L214.35,2125.26 L214.62,2124.21 L214.89,2125.64 L215.16,2119.53 L215.42,2123.56 L215.69,2121.27 L215.96,2121.57 L216.23,2126.59 L216.50,2121.49 L216.77,2122.45 L217.04,2122.72 L217.31,2125.54 L217.58,2125.77 L217.84,2121.32 L218.11,2116.20 L218.38,2127.66 L218.65,2122.66 L218.92,2126.16 L219.19,2121.98 L219.46,2123.40 L219.73,2121.21 L220.00,2135.71 L220.27,2127.66 L220.54,2129.22 L220.80,2126.07 L221.07,2130.63 L221.34,2132.61 L221.61,2130.40 L221.88,2128.83 L222.15,2146.33 L222.42,2140.70 L222.69,2141.20 L222.96,2139.46 L223.23,2137.95 L223.49,2138.71 L223.76,2134.84 L224.03,2126.38 L224.30,2125.41 L224.57,2129.17 L224.84,2132.73 L225.11,2129.72 L225.38,2131.17 L225.65,2128.70 L225.92,2130.47 L226.18,2133.30 L226.45,2130.77 L226.72,2135.75 L226.99,2129.16 L227.26,2128.21 L227.53,2135.96 L227.80,2130.14 L228.07,2134.69 L228.34,2127.21 L228.61,2127.45 L228.87,2131.08 L229.14,2126.44 L229.41,2131.14 L229.68,2133.01 L229.95,2133.87 L230.22,2133.54 L230.49,2135.29 L230.76,2134.87 L231.03,2138.49 L231.30,2135.26 L231.56,2135.67 L231.83,2141.28 L232.10,2144.98 L232.37,2139.54 L232.64,2139.34 L232.91,2144.03 L233.18,2148.09 L233.45,2144.74 L233.72,2142.36 L233.99,2152.25 L234.25,2145.76 L234.52,2147.49 L234.79,2148.60 L235.06,2144.62 L235.33,2149.13 L235.60,2144.45 L235.87,2141.30 L236.14,2144.07 L236.41,2146.66 L236.68,2148.86 L236.94,2147.14 L237.21,2148.41 L237.48,2138.22 L237.75,2143.18 L238.02,2145.15 L238.29,2145.92 L238.56,2145.27 L238.83,2143.18 L239.10,2145.96 L239.37,2137.41 L239.63,2144.47 L239.90,2144.60 L240.17,2141.48 L240.44,2138.20 L240.71,2138.61 L240.98,2143.88 L241.25,2141.76 L241.52,2142.10 L241.79,2141.04 L242.06,2141.86 L242.32,2145.35 L242.59,2146.29 L242.86,2142.19 L243.13,2146.13 L243.40,2138.85 L243.67,2142.55 L243.94,2145.53 L244.21,2143.40 L244.48,2143.84 L244.75,2142.65 L245.01,2139.42 L245.28,2146.28 L245.55,2147.42 L245.82,2140.89 L246.09,2142.30 L246.36,2141.20 L246.63,2140.27 L246.90,2142.02 L247.17,2139.02 L247.44,2143.92 L247.70,2141.00 L247.97,2143.55 L248.24,2144.35 L248.51,2139.06 L248.78,2139.10 L249.05,2146.50 L249.32,2143.97 L249.59,2139.65 L249.86,2137.23 L250.12,2142.36 L250.39,2140.82 L250.66,2144.44 L250.93,2132.51 L251.20,2138.57 L251.47,2137.21 L251.74,2137.83 L252.01,2136.90 L252.28,2137.80 L252.55,2140.59 L252.81,2137.21 L253.08,2138.74 L253.35,2134.46 L253.62,2140.29 L253.89,2139.19 L254.16,2134.88 L254.43,2132.39 L254.59,2135.72 L254.70,2136.09 L254.97,2127.50 L255.24,2121.29 L255.50,2115.08 L255.77,2108.87 L256.04,2102.67 L256.31,2093.42 L256.58,2084.16 L256.85,2074.91 L257.12,2065.66 L257.39,2056.41 L257.50,2052.71 L257.66,2058.84 L257.93,2069.07 L258.19,2079.29 L258.46,2089.52 L258.73,2095.48 L259.00,2101.43 L259.27,2107.39 L259.32,2108.58 L259.54,2111.99 L259.81,2116.25 L260.08,2120.50 L260.35,2124.76 L260.62,2129.02 L260.88,2133.28 L261.15,2137.54 L261.42,2141.79 L261.69,2142.23 L261.96,2146.07 L262.23,2139.92 L262.50,2143.12 L262.77,2139.78 L263.04,2142.88 L263.31,2138.64 L263.58,2143.52 L263.84,2138.05 L264.01,2140.88 L264.11,2139.51 L264.38,2136.21 L264.65,2136.71 L264.92,2136.57 L265.19,2133.03 L265.46,2131.82 L265.73,2138.19 L266.00,2130.73 L266.26,2129.39 L266.53,2133.39 L266.80,2128.49 L267.07,2133.64 L267.34,2122.80 L267.61,2127.94 L267.83,2126.62 L267.88,2121.36 L268.15,2123.65 L268.42,2118.06 L268.69,2121.96 L268.96,2115.04 L269.22,2112.35 L269.49,2109.66 L269.60,2108.58 L269.76,2098.83 L270.03,2082.58 L270.30,2066.33 L270.57,2050.08 L270.84,2034.36 L271.11,2018.64 L271.38,2002.92 L271.64,1987.20 L271.81,1977.77 L271.91,1986.28 L272.18,2007.55 L272.45,2028.81 L272.72,2050.08 L272.99,2062.24 L273.26,2074.40 L273.53,2086.56 L273.80,2098.72 L274.07,2104.20 L274.34,2109.68 L274.60,2124.47 L274.87,2125.08 L275.14,2130.00 L275.41,2126.01 L275.68,2135.95 L275.95,2143.30 L276.22,2151.31 L276.49,2147.21 L276.76,2147.96 L277.02,2150.12 L277.29,2152.25 L277.56,2151.37 L277.83,2148.17 L278.10,2148.03 L278.37,2148.75 L278.64,2149.42 L278.91,2153.56 L279.18,2149.15 L279.45,2151.94 L279.72,2149.39 L279.98,2148.47 L280.25,2151.38 L280.52,2152.34 L280.79,2147.53 L280.90,2149.14 L281.06,2151.22 L281.33,2156.56 L281.60,2148.63 L281.87,2146.32 L282.14,2144.44 L282.40,2148.57 L282.67,2147.93 L282.94,2146.84 L283.21,2142.77 L283.48,2147.75 L283.75,2144.24 L284.02,2145.97 L284.29,2142.00 L284.56,2146.71 L284.83,2140.52 L285.10,2142.53 L285.36,2141.15 L285.53,2138.55 L285.63,2136.34 L285.90,2144.24 L286.17,2135.09 L286.44,2135.66 L286.71,2137.57 L286.98,2131.28 L287.25,2134.41 L287.52,2129.94 L287.78,2135.42 L288.05,2135.57 L288.32,2127.63 L288.59,2123.53 L288.86,2128.02 L289.13,2126.28 L289.29,2130.65 L289.40,2133.50 L289.67,2129.11 L289.94,2122.40 L290.21,2134.11 L290.48,2128.69 L290.74,2133.44 L291.01,2125.53 L291.28,2122.20 L291.55,2129.63 L291.82,2126.04 L292.09,2119.02 L292.36,2123.89 L292.63,2127.82 L292.90,2127.66 L293.16,2129.91 L293.43,2118.66 L293.70,2124.10 L293.97,2116.59 L294.24,2116.82 L294.51,2122.38 L294.78,2121.39 L294.89,2116.00 L295.05,2116.29 L295.32,2112.11 L295.59,2116.74 L295.86,2105.90 L296.12,2102.24 L296.29,2100.04 L296.39,2096.58 L296.66,2087.94 L296.93,2079.29 L297.20,2070.65 L297.47,2062.01 L297.74,2053.37 L298.01,2036.93 L298.28,2020.50 L298.55,2004.07 L298.81,1987.63 L299.08,1971.20 L299.35,1954.77 L299.41,1951.48 L299.62,1920.80 L299.89,1882.46 L300.16,1844.12 L300.43,1805.77 L300.54,1790.43 L300.70,1811.44 L300.97,1846.45 L301.24,1881.46 L301.50,1916.47 L301.77,1951.48 L302.04,1985.44 L302.31,2019.40 L302.58,2053.37 L302.85,2071.32 L303.12,2089.27 L303.28,2100.04 L303.39,2103.08 L303.66,2110.69 L303.93,2118.30 L304.19,2125.92 L304.30,2128.96 L304.46,2132.45 L304.73,2138.10 L305.00,2146.46 L305.27,2147.05 L305.54,2156.58 L305.70,2160.45 L305.81,2161.97 L306.08,2159.52 L306.35,2161.52 L306.62,2160.86 L306.88,2159.52 L307.15,2160.43 L307.42,2159.13 L307.69,2160.49 L307.96,2161.82 L308.23,2161.93 L308.50,2162.42 L308.77,2160.98 L309.04,2162.12 L309.31,2161.88 L309.57,2159.00 L309.84,2159.29 L310.11,2159.38 L310.38,2160.47 L310.65,2155.91 L310.92,2155.38 L311.19,2154.85 L311.30,2155.51 L311.46,2154.94 L311.73,2151.13 L312.00,2147.48 L312.26,2145.91 L312.53,2143.06 L312.80,2140.55 L313.07,2138.04 L313.34,2135.53 L313.61,2133.02 L313.88,2130.51 L314.15,2127.99 L314.42,2125.48 L314.69,2122.96 L314.95,2120.45 L315.22,2117.94 L315.49,2115.42 L315.76,2112.91 L316.03,2110.39 L316.30,2107.88 L316.41,2106.87 L316.57,2110.61 L316.84,2116.84 L317.11,2123.07 L317.38,2129.30 L317.64,2135.53 L317.91,2140.28 L318.18,2145.02 L318.45,2149.76 L318.72,2154.51 L318.99,2159.25 L319.26,2165.31 L319.53,2164.18 L319.80,2162.61 L320.06,2164.44 L320.33,2165.06 L320.60,2164.84 L320.87,2165.62 L321.14,2165.54 L321.41,2165.15 L321.68,2165.23 L321.95,2166.88 L322.22,2166.15 L322.49,2165.88 L322.75,2167.08 L323.02,2166.98 L323.29,2166.49 L323.56,2167.28 L323.83,2166.91 L324.10,2167.11 L324.37,2167.84 L324.64,2166.95 L324.91,2167.16 L325.18,2166.72 L325.44,2166.26 L325.71,2166.82 L325.98,2167.23 L326.25,2166.91 L326.52,2167.01 L326.79,2166.68 L327.06,2167.65 L327.33,2167.55 L327.60,2167.89 L327.87,2166.85 L328.13,2167.09 L328.40,2167.34 L328.67,2167.37 L328.94,2167.31 L329.21,2167.45 L329.48,2167.21 L329.75,2167.28 L330.02,2166.54 L330.29,2166.96 L330.56,2167.41 L330.83,2167.32 L331.09,2166.61 L331.36,2166.91 L331.63,2166.97 L331.90,2166.80 L332.17,2166.46 L332.44,2167.57 L332.71,2167.38 L332.98,2167.77 L333.25,2166.89 L333.51,2167.23 L333.78,2167.35 L334.05,2167.39 L334.32,2166.81 L334.59,2167.14 L334.86,2167.29 L335.13,2166.57 L335.40,2167.46 L335.67,2167.52 L335.94,2165.98 L336.21,2167.13 L336.47,2167.18 L336.74,2167.23 L337.01,2166.97 L337.28,2166.59 L337.55,2166.58 L337.82,2166.64 L338.09,2166.95 L338.36,2167.41 L338.63,2166.69 L338.89,2166.18 L339.16,2166.33 L339.43,2166.80 L339.70,2166.40 L339.97,2166.85 L340.24,2166.70 L340.51,2167.14 L340.78,2166.76 L341.05,2166.56 L341.32,2166.66 L341.59,2166.27 L341.85,2165.81 L342.12,2166.01 L342.39,2166.63 L342.66,2166.78 L342.93,2166.73 L343.20,2166.83 L343.47,2166.41 L343.74,2165.60 L344.01,2165.04 L344.27,2164.38 L344.54,2163.74 L344.81,2163.19 L345.08,2162.78 L345.35,2161.15 L345.62,2160.76 L345.89,2162.18 L346.16,2162.84 L346.43,2163.37 L346.70,2163.79 L346.97,2163.96 L347.23,2164.71 L347.50,2165.35 L347.77,2166.00 L348.04,2166.03 L348.31,2166.22 L348.58,2166.37 L348.85,2166.64 L349.12,2167.32 L349.39,2166.73 L349.65,2166.00 L349.92,2166.97 L350.19,2167.04 L350.46,2166.44 L350.73,2166.85 L351.00,2167.11 L351.27,2166.35 L351.54,2166.76 L351.81,2166.75 L352.08,2167.31 L352.35,2166.93 L352.61,2167.02 L352.88,2166.90 L353.15,2166.80 L353.42,2166.85 L353.69,2167.26 L353.96,2167.10 L354.23,2167.87 L354.50,2167.20 L354.77,2167.23 L355.03,2167.69 L355.30,2167.88 L355.57,2167.64 L355.84,2168.14 L356.11,2167.57 L356.38,2167.63 L356.65,2168.12 L356.92,2167.72 L357.19,2167.32 L357.46,2167.32 L357.73,2167.34 L357.99,2167.80 L358.26,2167.88 L358.53,2167.90 L358.80,2167.51 L359.07,2166.82 L359.34,2167.19 L359.61,2167.12 L359.88,2167.21 L360.15,2168.38 L360.41,2167.82 L360.68,2167.91 L360.95,2167.25 L361.22,2167.08 L361.49,2168.00 L361.76,2167.73 L362.03,2167.52 L362.30,2167.94 L362.57,2167.99 L362.84,2168.01 L363.11,2167.39 L363.37,2168.10 L363.64,2167.29 L363.91,2167.71 L364.18,2167.45 L364.45,2167.13 L364.72,2168.01 L364.99,2168.06 L365.26,2167.57 L365.53,2168.15 L365.79,2168.03 L366.06,2167.79 L366.33,2167.68 L366.60,2168.23 L366.87,2167.89 L367.14,2167.51 L367.41,2167.21 L367.68,2168.40 L367.95,2167.23 L368.22,2167.40 L368.49,2168.17 L368.75,2168.32 L369.02,2167.58 L369.29,2167.91 L369.56,2167.69 L369.83,2167.40 L370.10,2167.89 L370.37,2167.68 L370.64,2167.56 L370.91,2167.39 L371.17,2167.05 L371.44,2167.07 L371.71,2167.65 L371.98,2167.84 L372.25,2166.81 L372.52,2167.49 L372.79,2167.57 L373.06,2168.17 L373.33,2167.44 L373.60,2168.05 L373.87,2167.92 L374.13,2168.27 L374.40,2167.95 L374.67,2167.72 L374.94,2168.33 L375.21,2168.09 L375.48,2167.77 L375.75,2168.24 L376.02,2168.23 L376.29,2168.07 L376.55,2168.29 L376.82,2167.50 L377.09,2168.13 L377.36,2167.44 L377.63,2167.38 L377.90,2168.21 L378.17,2167.73 L378.44,2167.93 L378.71,2168.19 L378.98,2167.87 L379.25,2167.84 L379.51,2167.46 L379.78,2167.34 L380.05,2168.17 L380.32,2167.90 L380.59,2167.53 L380.86,2167.28 L381.13,2168.40 L381.40,2167.24 L381.67,2167.81 L381.94,2167.14 L382.20,2167.91 L382.47,2168.07 L382.74,2167.72 L383.01,2167.28 L383.28,2167.73 L383.55,2168.40 L383.82,2167.47 L384.09,2168.38 L384.36,2168.13 L384.62,2168.20 L384.89,2168.40 L385.16,2168.24 L385.43,2168.13 L385.70,2167.98 L385.97,2167.76 L386.24,2167.87 L386.51,2168.33 L386.78,2167.81 L387.05,2167.36 L387.32,2167.37 L387.58,2167.69 L387.85,2167.50 L388.12,2167.39 L388.39,2167.21 L388.66,2167.07 L388.93,2167.87 L389.20,2167.85 L389.47,2167.16 L389.74,2167.13 L390.00,2167.14 L390.27,2168.40 L390.54,2167.83 L390.81,2168.40 L391.08,2167.45 L391.35,2167.72 L391.62,2167.72 L391.89,2167.80 L392.16,2167.23 L392.43,2167.86 L392.70,2167.34 L392.96,2167.52 L393.23,2167.60 L393.50,2167.56 L393.77,2167.70 L394.04,2168.17 L394.31,2167.46 L394.58,2167.46 L394.85,2167.80 L395.12,2167.45 L395.38,2167.39 L395.65,2168.25 L395.92,2167.80 L396.19,2167.92 L396.46,2168.10 L396.73,2167.62 L397.00,2168.08 L397.27,2167.91 L397.54,2167.65 L397.81,2167.60 L398.08,2167.62 L398.34,2166.86 L398.61,2167.94 L398.88,2167.64 L399.15,2168.22 L399.42,2167.55 L399.69,2167.29 L399.96,2167.26 L400.23,2167.99 L400.50,2167.85 L400.76,2167.24 L401.03,2167.78 L401.30,2167.36 L401.57,2168.13 L401.84,2167.20 L402.11,2167.34 L402.38,2167.56 L402.65,2168.06 L402.92,2167.81 L403.19,2167.68 L403.46,2167.64 L403.72,2167.78 L403.99,2167.83 L404.26,2167.67 L404.53,2167.19 L404.80,2168.40 L405.07,2168.28 L405.34,2168.35 L405.61,2168.01 L405.88,2168.40 L406.14,2167.52 L406.41,2167.70 L406.68,2167.84 L406.95,2168.01 L407.22,2167.68 L407.49,2167.67 L407.76,2167.61 L408.03,2168.03 L408.30,2167.49 L408.57,2168.32 L408.84,2167.25 L409.10,2168.40 L409.37,2167.98 L409.64,2168.22 L409.91,2167.43 L410.18,2168.33 L410.45,2167.02 L410.72,2168.35 L410.99,2166.94 L411.26,2167.57 L411.52,2167.73 L411.79,2167.57 L412.06,2166.88 L412.33,2167.39 L412.60,2168.40 L412.87,2167.27 L413.14,2167.65 L413.41,2168.38 L413.68,2167.44 L413.95,2168.22 L414.22,2167.67 L414.48,2167.65 L414.75,2168.00 L415.02,2167.49 L415.29,2168.15 L415.56,2167.67 L415.83,2167.96 L416.10,2167.81 L416.37,2166.98 L416.64,2167.70 L416.90,2168.17 L417.17,2167.79 L417.44,2168.05 L417.71,2167.73 L417.98,2167.68 L418.25,2167.71 L418.52,2167.71 L418.79,2167.96 L419.06,2167.57 L419.33,2167.33 L419.60,2167.99 L419.86,2167.77 L420.13,2167.72 L420.40,2167.25 L420.67,2167.32 L420.94,2168.03 L421.21,2167.71 L421.48,2168.33 L421.75,2168.12 L422.02,2167.74 L422.28,2167.49 L422.55,2167.37 L422.82,2167.87 L423.09,2168.28 L423.36,2167.59 L423.63,2167.81 L423.90,2167.58 L424.17,2167.68 L424.44,2167.46 L424.71,2167.48 L424.98,2167.41 L425.24,2167.92 L425.51,2167.35 L425.78,2167.94 L426.05,2167.71 L426.32,2167.01 L426.59,2167.60 L426.86,2168.20 L427.13,2167.15 L427.40,2167.35 L427.66,2167.29 L427.93,2167.66 L428.20,2167.61 L428.47,2167.83 L428.74,2168.02 L429.01,2167.14 L429.28,2167.89 L429.55,2167.93 L429.82,2167.92 L430.09,2167.01 L430.36,2167.40 L430.62,2167.89 L430.89,2167.76 L431.16,2167.54 L431.43,2167.40 L431.70,2168.38 L431.97,2167.39 L432.24,2167.83 L432.51,2168.01 L432.78,2167.90 L433.04,2167.43 L433.31,2167.05 L433.58,2167.68 L433.85,2167.52 L434.12,2168.06 L434.39,2167.55 L434.66,2167.42 L434.93,2168.33 L435.20,2167.94 L435.47,2167.43 L435.74,2168.40 L436.00,2167.89 L436.27,2167.51 L436.54,2168.40 L436.81,2167.90 L437.08,2167.72 L437.35,2167.39 L437.62,2168.25 L437.89,2167.31 L438.16,2167.62 L438.42,2167.27 L438.69,2167.28 L438.96,2167.61 L439.23,2167.55 L439.50,2168.40 L439.77,2168.28 L440.04,2168.14 L440.31,2167.88 L440.58,2167.37 L440.85,2168.40 L441.12,2167.87 L441.38,2168.26 L441.65,2168.36 L441.92,2167.16 L442.19,2167.70 L442.46,2167.10 L442.73,2167.28 L443.00,2168.11 L443.27,2168.40 L443.54,2166.93 L443.80,2167.90 L444.07,2168.19 L444.34,2167.47 L444.61,2167.69 L444.88,2168.01 L445.15,2167.88 L445.42,2167.68 L445.69,2167.71 L445.96,2167.44 L446.23,2167.88 L446.50,2167.88 L446.76,2167.51 L447.03,2167.62 L447.30,2167.31 L447.57,2167.84 L447.84,2167.78 L448.11,2168.20 L448.38,2167.15 L448.65,2168.29 L448.92,2167.66 L449.19,2168.09 L449.45,2167.61 L449.72,2167.45 L449.99,2168.39 L450.26,2167.83 L450.53,2168.40 L450.80,2167.19 L451.07,2167.92 L451.34,2168.36 L451.61,2168.02 L451.88,2167.23 L452.14,2167.16 L452.41,2167.24 L452.68,2168.05 L452.95,2167.80 L453.22,2167.10 L453.49,2168.03 L453.76,2167.87 L454.03,2168.12 L454.30,2168.20 L454.57,2167.27 L454.83,2167.49 L455.10,2167.57 L455.37,2167.51 L455.64,2167.34 L455.91,2167.15 L456.18,2167.75 L456.45,2167.88 L456.72,2168.15 L456.99,2167.32 L457.25,2167.95 L457.52,2168.33 L457.79,2167.85 L458.06,2167.73 L458.33,2167.41 L458.60,2167.35 L458.87,2168.03 L459.14,2168.06 L459.41,2167.87 L459.68,2168.22 L459.95,2167.79 L460.21,2167.56 L460.48,2167.73 L460.75,2168.38 L461.02,2168.21 L461.29,2167.24 L461.56,2168.14 L461.83,2167.45 L462.10,2167.49 L462.37,2167.87 L462.63,2168.14 L462.90,2167.66 L463.17,2168.09 L463.44,2167.81 L463.71,2167.70 L463.98,2168.03 L464.25,2167.83 L464.52,2167.86 L464.79,2168.23 L465.06,2167.82 L465.33,2167.99 L465.59,2168.40 L465.86,2167.88 L466.13,2167.85 L466.40,2167.98 L466.67,2168.40 L466.94,2167.44 L467.21,2167.47 L467.48,2167.49 L467.75,2167.61 L468.01,2168.24 L468.28,2167.69 L468.55,2168.11 L468.82,2166.88 L469.09,2167.95 L469.36,2167.48 L469.63,2168.35 L469.90,2168.21 L470.17,2167.95 L470.44,2167.47 L470.71,2167.53 L470.97,2167.63 L471.24,2168.40 L471.51,2167.30 L471.78,2168.11 L472.05,2167.11 L472.32,2167.01 L472.59,2167.42 L472.86,2167.35 L473.13,2168.24 L473.39,2166.72 L473.66,2167.66 L473.93,2167.35 L474.20,2168.08 L474.47,2167.77 L474.74,2168.21 L475.01,2167.84 L475.28,2167.74 L475.55,2167.64 L475.82,2167.19 L476.09,2167.55 L476.35,2167.65 L476.62,2167.73 L476.89,2166.95 L477.16,2167.97 L477.43,2167.27 L477.70,2168.40 L477.97,2168.09 L478.24,2167.58 L478.51,2167.81 L478.77,2166.56 L479.04,2166.73 L479.31,2168.34 L479.58,2168.17 L479.85,2167.80 L480.12,2167.06 L480.39,2167.29 L480.66,2167.61 L480.93,2168.30 L481.20,2168.08 L481.47,2168.40 L481.73,2168.35 L482.00,2167.57 L482.27,2167.43 L482.54,2168.26 L482.81,2167.70 L483.08,2167.10 L483.35,2167.68 L483.62,2167.86 L483.89,2167.50 L484.15,2167.53 L484.42,2167.71 L484.69,2167.95 L484.96,2167.91 L485.23,2167.71 L485.50,2167.96 L485.77,2167.21 L486.04,2167.39 L486.31,2167.31 L486.58,2166.94 L486.85,2167.12 L487.11,2167.18 L487.38,2167.59 L487.65,2167.82 L487.92,2166.83 L488.19,2168.01 L488.46,2167.99 L488.73,2168.08 L489.00,2167.66 L489.27,2167.58 L489.53,2167.33 L489.80,2167.83 L490.07,2168.40 L490.34,2167.62 L490.61,2167.36 L490.88,2167.73 L491.15,2167.79 L491.42,2167.52 L491.69,2167.18 L491.96,2167.77 L492.23,2168.30 L492.49,2167.96 L492.76,2167.81 L493.03,2168.40 L493.30,2167.44 L493.57,2168.04 L493.84,2167.54 L494.11,2167.66 L494.38,2167.86 L494.65,2167.10 L494.91,2167.96 L495.18,2168.01 L495.45,2167.63 L495.72,2167.41 L495.99,2167.74 L496.26,2168.13 L496.53,2167.47 L496.80,2167.50 L497.07,2166.92 L497.34,2167.83 L497.61,2167.66 L497.87,2167.97 L498.14,2168.33 L498.41,2167.71 L498.68,2167.41 L498.95,2168.14 L499.22,2168.01 L499.49,2168.21 L499.76,2167.21 L500.03,2167.99 L500.29,2167.51 L500.56,2168.08 L500.83,2167.71 L501.10,2167.99 L501.37,2168.40 L501.64,2167.71 L501.91,2167.53 L502.18,2168.40 L502.45,2167.81 L502.72,2167.91 L502.99,2168.17 L503.25,2167.84 L503.52,2168.40 L503.79,2167.64 L504.06,2167.27 L504.33,2168.24 L504.60,2167.77 L504.87,2167.18 L505.14,2167.69 L505.41,2167.95 L505.67,2168.10 L505.94,2167.67 L506.21,2167.79 L506.48,2167.49 L506.75,2168.34 L507.02,2167.32 L507.29,2167.90 L507.56,2167.49 L507.83,2168.03 L508.10,2168.25 L508.37,2167.97 L508.63,2168.12 L508.90,2167.89 L509.17,2167.49 L509.44,2167.32 L509.71,2167.66 L509.98,2167.96 L510.25,2167.92 L510.52,2167.51 L510.79,2167.29 L511.05,2167.87 L511.32,2167.79 L511.59,2168.04 L511.86,2167.66 L512.13,2167.37 L512.40,2168.40 L512.67,2167.64 L512.94,2167.96 L513.21,2168.40 L513.48,2167.62 L513.75,2167.78 L514.01,2167.60 L514.28,2168.28 L514.55,2166.90 L514.82,2167.70 L515.09,2167.88 L515.36,2167.14 L515.63,2167.49 L515.90,2167.41 L516.17,2167.28 L516.44,2168.40 L516.70,2167.08 L516.97,2167.88 L517.24,2167.63 L517.51,2167.38 L517.78,2168.02 L518.05,2167.62 L518.32,2167.44 L518.59,2167.76 L518.86,2167.55 L519.12,2168.38 L519.39,2168.21 L519.66,2168.20 L519.93,2167.60 L520.20,2166.36 L520.47,2167.64 L520.74,2167.80 L521.01,2167.77 L521.28,2167.35 L521.55,2167.46 L521.82,2168.19 L522.08,2167.34 L522.35,2167.75 L522.62,2167.42 L522.89,2168.40 L523.16,2168.36 L523.43,2167.51 L523.70,2168.40 L523.97,2167.59 L524.24,2167.61 L524.50,2167.69 L524.77,2167.60 L525.04,2167.64 L525.31,2167.57 L525.58,2167.90 L525.85,2167.75 L526.12,2166.59 L526.39,2167.29 L526.66,2167.50 L526.93,2167.59 L527.20,2168.03 L527.46,2167.65 L527.73,2167.84 L528.00,2167.37 L528.27,2168.10 L528.54,2168.40 L528.81,2167.96 L529.08,2167.47 L529.35,2166.77 L529.62,2167.34 L529.88,2168.13 L530.15,2167.83 L530.42,2168.12 L530.69,2167.82 L530.96,2168.10 L531.23,2168.39 L531.50,2167.57 L531.77,2167.67 L532.04,2167.81 L532.31,2167.61 L532.58,2166.94 L532.84,2167.70 L533.11,2167.89 L533.38,2167.40 L533.65,2168.39 L533.92,2167.45 L534.19,2168.05 L534.46,2168.06 L534.73,2167.70 L535.00,2167.08 L535.26,2168.04 L535.53,2167.37 L535.80,2167.59 L536.07,2168.29 L536.34,2167.38 L536.61,2168.07 L536.88,2168.32 L537.15,2168.05 L537.42,2168.03 L537.69,2167.51 L537.96,2168.03 L538.22,2167.15 L538.49,2167.66 L538.76,2168.03 L539.03,2168.07 L539.30,2167.65 L539.57,2168.40 L539.84,2168.40 L540.11,2168.09 L540.38,2167.49 L540.64,2167.67 L540.91,2167.73 L541.18,2167.83 L541.45,2168.40 L541.72,2167.87 L541.99,2168.40 L542.26,2167.41 L542.53,2167.75 L542.80,2167.78 L543.07,2167.59 L543.34,2167.62 L543.60,2167.65 L543.87,2167.61 L544.14,2167.98 L544.41,2168.27 L544.68,2167.61 L544.95,2167.17 L545.22,2167.34 L545.49,2167.83 L545.76,2167.50 L546.02,2167.92 L546.29,2167.59 L546.56,2167.98 L546.83,2167.69 L547.10,2166.95 L547.37,2167.44 L547.64,2167.15 L547.91,2168.05 L548.18,2168.01 L548.45,2167.76 L548.72,2167.52 L548.98,2167.82 L549.25,2167.34 L549.52,2167.96 L549.79,2167.21 L550.06,2167.36 L550.33,2168.18 L550.60,2167.51 L550.87,2167.83 L551.14,2167.34 L551.40,2167.95 L551.67,2167.62 L551.94,2167.53 L552.21,2168.40 L552.48,2168.40 L552.75,2167.69 L553.02,2167.79 L553.29,2167.34 L553.56,2167.65 L553.83,2168.24 L554.10,2167.61 L554.36,2168.04 L554.63,2167.83 L554.90,2167.94 L555.17,2167.61 L555.44,2168.30 L555.71,2168.18 L555.98,2168.40 L556.25,2166.90 L556.52,2168.14 L556.78,2168.08 L557.05,2168.20 L557.32,2168.00 L557.59,2167.92 L557.86,2167.50 L558.13,2167.67 L558.40,2167.61 L558.67,2167.98 L558.94,2167.77 L559.21,2167.26 L559.48,2167.75 L559.74,2167.62 L560.01,2168.40 L560.28,2167.54 L560.55,2167.64 L560.82,2167.23 L561.09,2168.40 L561.36,2167.73 L561.63,2167.79 L561.90,2167.71 L562.16,2167.99 L562.43,2167.66 L562.70,2167.47 L562.97,2167.73 L563.24,2167.86 L563.51,2167.83 L563.78,2167.90 L564.05,2167.73 L564.32,2168.03 L564.59,2168.40 L564.86,2167.22 L565.12,2168.40 L565.39,2167.80 L565.66,2168.27 L565.93,2167.87 L566.20,2168.13 L566.47,2167.77 L566.74,2168.09 L567.01,2168.27 L567.28,2167.63 L567.54,2167.23 L567.81,2167.62 L568.08,2167.71 L568.35,2168.17 L568.62,2167.79 L568.89,2167.58 L569.16,2168.01 L569.43,2167.40 L569.70,2167.77 L569.97,2167.62 L570.24,2167.95 L570.50,2167.95 L570.77,2167.67 L571.04,2167.61 L571.31,2167.62 L571.58,2168.16 L571.85,2168.05 L572.12,2167.77 L572.39,2168.40 L572.66,2167.35 L572.92,2167.64 L573.19,2167.75 L573.46,2168.04 L573.73,2167.44 L574.00,2167.87 L574.27,2167.01 L574.54,2167.61 L574.81,2168.35 L575.08,2167.48 L575.35,2167.97 L575.62,2167.97 L575.88,2167.86 L576.15,2167.81 L576.42,2167.66 L576.69,2167.46 L576.96,2167.58 L577.23,2168.05 L577.50,2168.30 L577.77,2168.08 L578.04,2167.62 L578.30,2167.42 L578.57,2167.05 L578.84,2168.30 L579.11,2167.73 L579.38,2167.86 L579.65,2167.92 L579.92,2167.71 L580.19,2167.86 L580.46,2167.87 L580.73,2168.02 L581.00,2167.61 L581.26,2167.35 L581.53,2167.12 L581.80,2167.97 L582.07,2168.18 L582.34,2167.87 L582.61,2168.10 L582.88,2167.36 L583.15,2168.09 L583.42,2167.74 L583.69,2168.30 L583.95,2167.90 L584.22,2167.69 L584.49,2167.16 L584.76,2168.04 L585.03,2167.62 L585.30,2168.40 L585.57,2168.24 L585.84,2168.09 L586.11,2167.96 L586.38,2167.60 L586.64,2167.52 L586.91,2168.40 L587.18,2167.56 L587.45,2168.21 L587.72,2167.04 L587.99,2167.64 L588.26,2167.71 L588.53,2167.84 L588.80,2167.78 L589.07,2167.77 L589.33,2168.04 L589.60,2167.47 L589.87,2167.66 L590.14,2167.47 L590.41,2167.79 L590.68,2167.50 L590.95,2168.07 L591.22,2166.36 L591.49,2168.05 L591.75,2167.94 L592.02,2167.39 L592.29,2167.28 L592.56,2168.08 L592.83,2168.40 L593.10,2168.32 L593.37,2168.16 L593.64,2168.08 L593.91,2167.83 L594.18,2167.36 L594.45,2167.34 L594.71,2168.01 L594.98,2167.56 L595.25,2167.42 L595.52,2167.21 L595.79,2167.83 L596.06,2168.06 L596.33,2167.47 L596.60,2167.17 L596.87,2167.98 L597.13,2167.00 L597.40,2167.09 L597.67,2167.87 L597.94,2168.39 L598.21,2168.00 L598.48,2167.91 L598.75,2167.56 L599.02,2168.40 L599.29,2166.81 L599.56,2166.85 L599.83,2168.05 L600.09,2168.40 L600.36,2167.84 L600.63,2167.60 L600.90,2167.24 L601.17,2167.49 L601.44,2167.85 L601.71,2168.40 L601.98,2167.57 L602.25,2167.44 L602.51,2167.89 L602.78,2167.66 L603.05,2167.69 L603.32,2167.87 L603.59,2168.23 L603.86,2167.64 L604.13,2168.33 L604.40,2167.22 L604.67,2168.13 L604.94,2167.58 L605.21,2168.06 L605.47,2167.62 L605.74,2167.85 L606.01,2167.56 L606.28,2168.08 L606.55,2168.40 L606.82,2167.88 L607.09,2167.91 L607.36,2168.36 L607.63,2168.04 L607.89,2168.40 L608.16,2167.73 L608.43,2167.92 L608.70,2167.77 L608.97,2166.75 L609.24,2167.71 L609.51,2167.62 L609.78,2167.52 L610.05,2167.83 L610.32,2168.01 L610.59,2167.43 L610.85,2167.37 L611.12,2168.40 L611.39,2167.84 L611.66,2167.91 L611.93,2168.00 L612.20,2167.28 L612.47,2167.98 L612.74,2167.43 L613.01,2167.99 L613.27,2167.93 L613.54,2167.49 L613.81,2168.06 L614.08,2167.84 L614.35,2168.21 L614.62,2168.12 L614.89,2167.49 L615.16,2167.54 L615.43,2168.22 L615.70,2168.24 L615.97,2166.77 L616.23,2168.03 L616.50,2168.12 L616.77,2167.57 L617.04,2168.08 L617.31,2167.92 L617.58,2167.42 L617.85,2167.38 L618.12,2167.85 L618.39,2167.25 L618.65,2167.83 L618.92,2167.87 L619.19,2167.78 L619.46,2167.90 L619.73,2167.57 L620.00,2167.66 L620.27,2168.08 L620.54,2167.70 L620.81,2167.99 L621.08,2168.00 L621.35,2167.83 L621.61,2167.37 L621.88,2167.67 L622.15,2167.27 L622.42,2167.16 L622.69,2167.79 L622.96,2168.01 L623.23,2168.08 L623.50,2167.66 L623.77,2167.43 L624.03,2167.15 L624.30,2168.29 L624.57,2167.41 L624.84,2167.35 L625.11,2166.81 L625.38,2167.70 L625.65,2167.79 L625.92,2168.37 L626.19,2168.08 L626.46,2168.21 L626.73,2168.17 L626.99,2168.13 L627.26,2168.38 L627.53,2167.81 L627.80,2167.62 L628.07,2167.47 L628.34,2167.81 L628.61,2167.35 L628.88,2167.35 L629.15,2168.37 L629.41,2167.88 L629.68,2168.26 L629.95,2168.16 L630.22,2167.70 L630.49,2167.82 L630.76,2167.19 L631.03,2166.96 L631.30,2167.60 L631.57,2167.84 L631.84,2167.83 L632.11,2167.77 L632.37,2167.54 L632.64,2168.06 L632.91,2167.54 L633.18,2167.86 L633.45,2167.35 L633.72,2167.23 L633.99,2167.08 L634.26,2167.83 L634.53,2168.30 L634.79,2168.40 L635.06,2167.88 L635.33,2168.32 L635.60,2168.40 L635.87,2167.90 L636.14,2168.15 L636.41,2167.49 L636.68,2167.00 L636.95,2167.85 L637.22,2167.64 L637.49,2168.39 L637.75,2167.69 L638.02,2168.04 L638.29,2168.20 L638.56,2168.40 L638.83,2167.13 L639.10,2168.40 L639.37,2168.24 L639.64,2167.76 L639.91,2167.65 L640.17,2167.65 L640.44,2167.72 L640.71,2168.11 L640.98,2167.46 L641.25,2167.68 L641.52,2168.33 L641.79,2167.13 L642.06,2167.89 L642.33,2167.39 L642.60,2168.33 L642.87,2168.23 L643.13,2167.98 L643.40,2168.03 L643.67,2167.36 L643.94,2168.40 L644.21,2167.69 L644.48,2168.16 L644.75,2167.55 L645.02,2167.68 L645.29,2167.97 L645.55,2166.88 L645.82,2167.77 L646.09,2167.32 L646.36,2168.28 L646.63,2167.81 L646.90,2167.72" stroke="#0000ff" stroke-width="1.45" fill="none" stroke-linejoin="round" />
</g>
<text x="272.75" y="1791.90" font-size="15.40" fill="#000" xml:space="preserve">356 keV</text>
<text x="574.19" y="1800.10" font-size="22.40" fill="#000" xml:space="preserve">133</text>
<text x="612.16" y="1811.00" font-size="21.60" fill="#000" xml:space="preserve">Ba</text>
<text x="348.31" y="1859.40" font-size="19.23" fill="#000" xml:space="preserve">Resolution @ 356 keV:  ~1.6%</text>
<text x="348.31" y="1887.00" font-size="19.23" fill="#000" xml:space="preserve">Resolution @ 303 keV:  ~1.7%</text>
<text x="348.31" y="1915.70" font-size="19.24" fill="#000" xml:space="preserve">Resolution @ 276 keV:  ~2%</text>
<text x="348.31" y="1941.20" font-size="19.23" fill="#000" xml:space="preserve">Resolution @ 384 keV:  ~1.2%</text>
<text x="239.85" y="1968.50" font-size="15.18" fill="#000" xml:space="preserve">303 keV</text>
<text x="207.07" y="2043.70" font-size="15.23" fill="#000" xml:space="preserve">276 keV</text>
<text x="309.25" y="2099.90" font-size="15.29" fill="#000" xml:space="preserve">384 keV</text>
<text x="454.32" y="2152.50" font-size="19.20" fill="#000" xml:space="preserve">Bias voltage: 3000V</text>
<path d="M108.90,2168.40V2179.40 M216.50,2168.40V2179.40 M324.10,2168.40V2179.40 M431.70,2168.40V2179.40 M539.30,2168.40V2179.40 M646.90,2168.40V2179.40 M162.70,2168.40V2174.90 M270.30,2168.40V2174.90 M377.90,2168.40V2174.90 M485.50,2168.40V2174.90 M593.10,2168.40V2174.90 M108.90,2168.40H97.90 M108.90,2102.67H97.90 M108.90,2036.93H97.90 M108.90,1971.20H97.90 M108.90,1905.47H97.90 M108.90,1839.73H97.90 M108.90,1774.00H97.90 M108.90,2135.53H102.40 M108.90,2069.80H102.40 M108.90,2004.07H102.40 M108.90,1938.33H102.40 M108.90,1872.60H102.40 M108.90,1806.87H102.40" stroke="#000" stroke-width="3.4" stroke-linecap="round" fill="none"/>
<rect x="108.90" y="1774.00" width="538.00" height="394.40" stroke="#000" stroke-width="3.8" stroke-linejoin="round" fill="none"/>
<text x="103.08" y="2201.40" font-size="21.00" fill="#000" xml:space="preserve">0</text>
<text x="199.05" y="2201.40" font-size="21.00" fill="#000" xml:space="preserve">200</text>
<text x="306.85" y="2201.40" font-size="21.00" fill="#000" xml:space="preserve">400</text>
<text x="414.23" y="2201.40" font-size="21.00" fill="#000" xml:space="preserve">600</text>
<text x="521.88" y="2201.40" font-size="21.00" fill="#000" xml:space="preserve">800</text>
<text x="623.31" y="2201.40" font-size="21.00" fill="#000" xml:space="preserve">1000</text>
<text x="81.08" y="2174.00" font-size="21.00" fill="#000" xml:space="preserve">0</text>
<text x="57.72" y="2108.27" font-size="21.00" fill="#000" xml:space="preserve">100</text>
<text x="57.72" y="2042.53" font-size="21.00" fill="#000" xml:space="preserve">200</text>
<text x="57.72" y="1976.80" font-size="21.00" fill="#000" xml:space="preserve">300</text>
<text x="57.72" y="1911.07" font-size="21.00" fill="#000" xml:space="preserve">400</text>
<text x="57.72" y="1845.33" font-size="21.00" fill="#000" xml:space="preserve">500</text>
<text x="57.72" y="1779.60" font-size="21.00" fill="#000" xml:space="preserve">600</text>
<defs><clipPath id="ov5"><rect x="108.90" y="2166.50" width="538.00" height="3.8"/></clipPath></defs>
<path clip-path="url(#ov5)" d="M108.9,2168.4 L109.2,2168.4 L109.4,2168.4 L109.7,2168.4 L110.0,2168.4 L110.2,2168.4 L110.5,2168.4 L110.8,2168.4 L111.1,2168.4 L111.3,2168.4 L111.6,2168.4 L111.9,2168.4 L112.1,2168.4 L112.4,2168.4 L112.7,2168.4 L112.9,2168.4 L113.2,2168.4 L113.5,2168.4 L113.7,2168.4 L114.0,2168.4 L114.3,2168.4 L114.5,2168.4 L114.8,2168.4 L115.1,2168.4 L115.4,2168.4 L115.6,2168.4 L115.9,2168.4 L116.2,2168.4 L116.4,2168.4 L116.7,2168.4 L117.0,2168.4 L117.2,2168.4 L117.5,2168.4 L117.8,2168.4 L118.0,2168.4 L118.3,2168.4 L118.6,2168.4 L118.9,2168.4 L119.1,2168.4 L119.4,2168.4 L119.7,2168.4 L119.9,2168.4 L119.9,2157.7M123.4,2161.0 L123.6,2168.4 L123.7,2168.4 L124.0,2168.4 L124.2,2168.4 L124.5,2168.4 L124.8,2168.4 L125.0,2168.4 L125.2,2168.4 L125.3,2149.4M321.7,2165.2 L321.9,2166.9 L322.2,2166.1 L322.5,2165.9 L322.8,2167.1 L323.0,2167.0 L323.3,2166.5 L323.6,2167.3 L323.8,2166.9 L324.1,2167.1 L324.4,2167.8 L324.6,2166.9 L324.9,2167.2 L325.2,2166.7 L325.4,2166.3 L325.7,2166.8 L326.0,2167.2 L326.3,2166.9 L326.5,2167.0 L326.8,2166.7 L327.1,2167.7 L327.3,2167.5 L327.6,2167.9 L327.9,2166.8 L328.1,2167.1 L328.4,2167.3 L328.7,2167.4 L328.9,2167.3 L329.2,2167.5 L329.5,2167.2 L329.7,2167.3 L330.0,2166.5 L330.3,2167.0 L330.6,2167.4 L330.8,2167.3 L331.1,2166.6 L331.4,2166.9 L331.6,2167.0 L331.9,2166.8 L332.2,2166.5 L332.4,2167.6 L332.7,2167.4 L333.0,2167.8 L333.2,2166.9 L333.5,2167.2 L333.8,2167.4 L334.1,2167.4 L334.3,2166.8 L334.6,2167.1 L334.9,2167.3 L335.1,2166.6 L335.4,2167.5 L335.7,2167.5 L335.9,2166.0 L336.2,2167.1 L336.5,2167.2 L336.7,2167.2 L337.0,2167.0 L337.3,2166.6 L337.6,2166.6 L337.8,2166.6 L338.1,2166.9 L338.4,2167.4 L338.6,2166.7 L338.9,2166.2 L339.2,2166.3 L339.4,2166.8 L339.7,2166.4 L340.0,2166.8 L340.2,2166.7 L340.5,2167.1 L340.8,2166.8 L341.0,2166.6 L341.3,2166.7 L341.6,2166.3 L341.9,2165.8 L342.1,2166.0 L342.4,2166.6 L342.7,2166.8 L342.9,2166.7 L343.2,2166.8 L343.5,2166.4 L343.7,2165.6M347.5,2165.3 L347.8,2166.0 L348.0,2166.0 L348.3,2166.2 L348.6,2166.4 L348.8,2166.6 L349.1,2167.3 L349.4,2166.7 L349.7,2166.0 L349.9,2167.0 L350.2,2167.0 L350.5,2166.4 L350.7,2166.8 L351.0,2167.1 L351.3,2166.3 L351.5,2166.8 L351.8,2166.7 L352.1,2167.3 L352.3,2166.9 L352.6,2167.0 L352.9,2166.9 L353.2,2166.8 L353.4,2166.8 L353.7,2167.3 L354.0,2167.1 L354.2,2167.9 L354.5,2167.2 L354.8,2167.2 L355.0,2167.7 L355.3,2167.9 L355.6,2167.6 L355.8,2168.1 L356.1,2167.6 L356.4,2167.6 L356.6,2168.1 L356.9,2167.7 L357.2,2167.3 L357.5,2167.3 L357.7,2167.3 L358.0,2167.8 L358.3,2167.9 L358.5,2167.9 L358.8,2167.5 L359.1,2166.8 L359.3,2167.2 L359.6,2167.1 L359.9,2167.2 L360.1,2168.4 L360.4,2167.8 L360.7,2167.9 L361.0,2167.2 L361.2,2167.1 L361.5,2168.0 L361.8,2167.7 L362.0,2167.5 L362.3,2167.9 L362.6,2168.0 L362.8,2168.0 L363.1,2167.4 L363.4,2168.1 L363.6,2167.3 L363.9,2167.7 L364.2,2167.4 L364.5,2167.1 L364.7,2168.0 L365.0,2168.1 L365.3,2167.6 L365.5,2168.1 L365.8,2168.0 L366.1,2167.8 L366.3,2167.7 L366.6,2168.2 L366.9,2167.9 L367.1,2167.5 L367.4,2167.2 L367.7,2168.4 L367.9,2167.2 L368.2,2167.4 L368.5,2168.2 L368.8,2168.3 L369.0,2167.6 L369.3,2167.9 L369.6,2167.7 L369.8,2167.4 L370.1,2167.9 L370.4,2167.7 L370.6,2167.6 L370.9,2167.4 L371.2,2167.1 L371.4,2167.1 L371.7,2167.6 L372.0,2167.8 L372.3,2166.8 L372.5,2167.5 L372.8,2167.6 L373.1,2168.2 L373.3,2167.4 L373.6,2168.0 L373.9,2167.9 L374.1,2168.3 L374.4,2167.9 L374.7,2167.7 L374.9,2168.3 L375.2,2168.1 L375.5,2167.8 L375.7,2168.2 L376.0,2168.2 L376.3,2168.1 L376.6,2168.3 L376.8,2167.5 L377.1,2168.1 L377.4,2167.4 L377.6,2167.4 L377.9,2168.2 L378.2,2167.7 L378.4,2167.9 L378.7,2168.2 L379.0,2167.9 L379.2,2167.8 L379.5,2167.5 L379.8,2167.3 L380.1,2168.2 L380.3,2167.9 L380.6,2167.5 L380.9,2167.3 L381.1,2168.4 L381.4,2167.2 L381.7,2167.8 L381.9,2167.1 L382.2,2167.9 L382.5,2168.1 L382.7,2167.7 L383.0,2167.3 L383.3,2167.7 L383.5,2168.4 L383.8,2167.5 L384.1,2168.4 L384.4,2168.1 L384.6,2168.2 L384.9,2168.4 L385.2,2168.2 L385.4,2168.1 L385.7,2168.0 L386.0,2167.8 L386.2,2167.9 L386.5,2168.3 L386.8,2167.8 L387.0,2167.4 L387.3,2167.4 L387.6,2167.7 L387.9,2167.5 L388.1,2167.4 L388.4,2167.2 L388.7,2167.1 L388.9,2167.9 L389.2,2167.8 L389.5,2167.2 L389.7,2167.1 L390.0,2167.1 L390.3,2168.4 L390.5,2167.8 L390.8,2168.4 L391.1,2167.5 L391.4,2167.7 L391.6,2167.7 L391.9,2167.8 L392.2,2167.2 L392.4,2167.9 L392.7,2167.3 L393.0,2167.5 L393.2,2167.6 L393.5,2167.6 L393.8,2167.7 L394.0,2168.2 L394.3,2167.5 L394.6,2167.5 L394.8,2167.8 L395.1,2167.5 L395.4,2167.4 L395.7,2168.2 L395.9,2167.8 L396.2,2167.9 L396.5,2168.1 L396.7,2167.6 L397.0,2168.1 L397.3,2167.9 L397.5,2167.6 L397.8,2167.6 L398.1,2167.6 L398.3,2166.9 L398.6,2167.9 L398.9,2167.6 L399.2,2168.2 L399.4,2167.6 L399.7,2167.3 L400.0,2167.3 L400.2,2168.0 L400.5,2167.9 L400.8,2167.2 L401.0,2167.8 L401.3,2167.4 L401.6,2168.1 L401.8,2167.2 L402.1,2167.3 L402.4,2167.6 L402.6,2168.1 L402.9,2167.8 L403.2,2167.7 L403.5,2167.6 L403.7,2167.8 L404.0,2167.8 L404.3,2167.7 L404.5,2167.2 L404.8,2168.4 L405.1,2168.3 L405.3,2168.4 L405.6,2168.0 L405.9,2168.4 L406.1,2167.5 L406.4,2167.7 L406.7,2167.8 L407.0,2168.0 L407.2,2167.7 L407.5,2167.7 L407.8,2167.6 L408.0,2168.0 L408.3,2167.5 L408.6,2168.3 L408.8,2167.2 L409.1,2168.4 L409.4,2168.0 L409.6,2168.2 L409.9,2167.4 L410.2,2168.3 L410.4,2167.0 L410.7,2168.4 L411.0,2166.9 L411.3,2167.6 L411.5,2167.7 L411.8,2167.6 L412.1,2166.9 L412.3,2167.4 L412.6,2168.4 L412.9,2167.3 L413.1,2167.7 L413.4,2168.4 L413.7,2167.4 L413.9,2168.2 L414.2,2167.7 L414.5,2167.7 L414.8,2168.0 L415.0,2167.5 L415.3,2168.1 L415.6,2167.7 L415.8,2168.0 L416.1,2167.8 L416.4,2167.0 L416.6,2167.7 L416.9,2168.2 L417.2,2167.8 L417.4,2168.0 L417.7,2167.7 L418.0,2167.7 L418.2,2167.7 L418.5,2167.7 L418.8,2168.0 L419.1,2167.6 L419.3,2167.3 L419.6,2168.0 L419.9,2167.8 L420.1,2167.7 L420.4,2167.2 L420.7,2167.3 L420.9,2168.0 L421.2,2167.7 L421.5,2168.3 L421.7,2168.1 L422.0,2167.7 L422.3,2167.5 L422.6,2167.4 L422.8,2167.9 L423.1,2168.3 L423.4,2167.6 L423.6,2167.8 L423.9,2167.6 L424.2,2167.7 L424.4,2167.5 L424.7,2167.5 L425.0,2167.4 L425.2,2167.9 L425.5,2167.4 L425.8,2167.9 L426.1,2167.7 L426.3,2167.0 L426.6,2167.6 L426.9,2168.2 L427.1,2167.2 L427.4,2167.3 L427.7,2167.3 L427.9,2167.7 L428.2,2167.6 L428.5,2167.8 L428.7,2168.0 L429.0,2167.1 L429.3,2167.9 L429.5,2167.9 L429.8,2167.9 L430.1,2167.0 L430.4,2167.4 L430.6,2167.9 L430.9,2167.8 L431.2,2167.5 L431.4,2167.4 L431.7,2168.4 L432.0,2167.4 L432.2,2167.8 L432.5,2168.0 L432.8,2167.9 L433.0,2167.4 L433.3,2167.0 L433.6,2167.7 L433.9,2167.5 L434.1,2168.1 L434.4,2167.5 L434.7,2167.4 L434.9,2168.3 L435.2,2167.9 L435.5,2167.4 L435.7,2168.4 L436.0,2167.9 L436.3,2167.5 L436.5,2168.4 L436.8,2167.9 L437.1,2167.7 L437.3,2167.4 L437.6,2168.2 L437.9,2167.3 L438.2,2167.6 L438.4,2167.3 L438.7,2167.3 L439.0,2167.6 L439.2,2167.6 L439.5,2168.4 L439.8,2168.3 L440.0,2168.1 L440.3,2167.9 L440.6,2167.4 L440.8,2168.4 L441.1,2167.9 L441.4,2168.3 L441.7,2168.4 L441.9,2167.2 L442.2,2167.7 L442.5,2167.1 L442.7,2167.3 L443.0,2168.1 L443.3,2168.4 L443.5,2166.9 L443.8,2167.9 L444.1,2168.2 L444.3,2167.5 L444.6,2167.7 L444.9,2168.0 L445.1,2167.9 L445.4,2167.7 L445.7,2167.7 L446.0,2167.4 L446.2,2167.9 L446.5,2167.9 L446.8,2167.5 L447.0,2167.6 L447.3,2167.3 L447.6,2167.8 L447.8,2167.8 L448.1,2168.2 L448.4,2167.2 L448.6,2168.3 L448.9,2167.7 L449.2,2168.1 L449.5,2167.6 L449.7,2167.4 L450.0,2168.4 L450.3,2167.8 L450.5,2168.4 L450.8,2167.2 L451.1,2167.9 L451.3,2168.4 L451.6,2168.0 L451.9,2167.2 L452.1,2167.2 L452.4,2167.2 L452.7,2168.1 L453.0,2167.8 L453.2,2167.1 L453.5,2168.0 L453.8,2167.9 L454.0,2168.1 L454.3,2168.2 L454.6,2167.3 L454.8,2167.5 L455.1,2167.6 L455.4,2167.5 L455.6,2167.3 L455.9,2167.1 L456.2,2167.7 L456.4,2167.9 L456.7,2168.1 L457.0,2167.3 L457.3,2167.9 L457.5,2168.3 L457.8,2167.8 L458.1,2167.7 L458.3,2167.4 L458.6,2167.3 L458.9,2168.0 L459.1,2168.1 L459.4,2167.9 L459.7,2168.2 L459.9,2167.8 L460.2,2167.6 L460.5,2167.7 L460.8,2168.4 L461.0,2168.2 L461.3,2167.2 L461.6,2168.1 L461.8,2167.5 L462.1,2167.5 L462.4,2167.9 L462.6,2168.1 L462.9,2167.7 L463.2,2168.1 L463.4,2167.8 L463.7,2167.7 L464.0,2168.0 L464.2,2167.8 L464.5,2167.9 L464.8,2168.2 L465.1,2167.8 L465.3,2168.0 L465.6,2168.4 L465.9,2167.9 L466.1,2167.9 L466.4,2168.0 L466.7,2168.4 L466.9,2167.4 L467.2,2167.5 L467.5,2167.5 L467.7,2167.6 L468.0,2168.2 L468.3,2167.7 L468.6,2168.1 L468.8,2166.9 L469.1,2167.9 L469.4,2167.5 L469.6,2168.4 L469.9,2168.2 L470.2,2168.0 L470.4,2167.5 L470.7,2167.5 L471.0,2167.6 L471.2,2168.4 L471.5,2167.3 L471.8,2168.1 L472.0,2167.1 L472.3,2167.0 L472.6,2167.4 L472.9,2167.4 L473.1,2168.2 L473.4,2166.7 L473.7,2167.7 L473.9,2167.3 L474.2,2168.1 L474.5,2167.8 L474.7,2168.2 L475.0,2167.8 L475.3,2167.7 L475.5,2167.6 L475.8,2167.2 L476.1,2167.6 L476.4,2167.6 L476.6,2167.7 L476.9,2166.9 L477.2,2168.0 L477.4,2167.3 L477.7,2168.4 L478.0,2168.1 L478.2,2167.6 L478.5,2167.8 L478.8,2166.6 L479.0,2166.7 L479.3,2168.3 L479.6,2168.2 L479.9,2167.8 L480.1,2167.1 L480.4,2167.3 L480.7,2167.6 L480.9,2168.3 L481.2,2168.1 L481.5,2168.4 L481.7,2168.3 L482.0,2167.6 L482.3,2167.4 L482.5,2168.3 L482.8,2167.7 L483.1,2167.1 L483.3,2167.7 L483.6,2167.9 L483.9,2167.5 L484.2,2167.5 L484.4,2167.7 L484.7,2168.0 L485.0,2167.9 L485.2,2167.7 L485.5,2168.0 L485.8,2167.2 L486.0,2167.4 L486.3,2167.3 L486.6,2166.9 L486.8,2167.1 L487.1,2167.2 L487.4,2167.6 L487.7,2167.8 L487.9,2166.8 L488.2,2168.0 L488.5,2168.0 L488.7,2168.1 L489.0,2167.7 L489.3,2167.6 L489.5,2167.3 L489.8,2167.8 L490.1,2168.4 L490.3,2167.6 L490.6,2167.4 L490.9,2167.7 L491.1,2167.8 L491.4,2167.5 L491.7,2167.2 L492.0,2167.8 L492.2,2168.3 L492.5,2168.0 L492.8,2167.8 L493.0,2168.4 L493.3,2167.4 L493.6,2168.0 L493.8,2167.5 L494.1,2167.7 L494.4,2167.9 L494.6,2167.1 L494.9,2168.0 L495.2,2168.0 L495.5,2167.6 L495.7,2167.4 L496.0,2167.7 L496.3,2168.1 L496.5,2167.5 L496.8,2167.5 L497.1,2166.9 L497.3,2167.8 L497.6,2167.7 L497.9,2168.0 L498.1,2168.3 L498.4,2167.7 L498.7,2167.4 L499.0,2168.1 L499.2,2168.0 L499.5,2168.2 L499.8,2167.2 L500.0,2168.0 L500.3,2167.5 L500.6,2168.1 L500.8,2167.7 L501.1,2168.0 L501.4,2168.4 L501.6,2167.7 L501.9,2167.5 L502.2,2168.4 L502.4,2167.8 L502.7,2167.9 L503.0,2168.2 L503.3,2167.8 L503.5,2168.4 L503.8,2167.6 L504.1,2167.3 L504.3,2168.2 L504.6,2167.8 L504.9,2167.2 L505.1,2167.7 L505.4,2167.9 L505.7,2168.1 L505.9,2167.7 L506.2,2167.8 L506.5,2167.5 L506.8,2168.3 L507.0,2167.3 L507.3,2167.9 L507.6,2167.5 L507.8,2168.0 L508.1,2168.3 L508.4,2168.0 L508.6,2168.1 L508.9,2167.9 L509.2,2167.5 L509.4,2167.3 L509.7,2167.7 L510.0,2168.0 L510.2,2167.9 L510.5,2167.5 L510.8,2167.3 L511.1,2167.9 L511.3,2167.8 L511.6,2168.0 L511.9,2167.7 L512.1,2167.4 L512.4,2168.4 L512.7,2167.6 L512.9,2168.0 L513.2,2168.4 L513.5,2167.6 L513.7,2167.8 L514.0,2167.6 L514.3,2168.3 L514.6,2166.9 L514.8,2167.7 L515.1,2167.9 L515.4,2167.1 L515.6,2167.5 L515.9,2167.4 L516.2,2167.3 L516.4,2168.4 L516.7,2167.1 L517.0,2167.9 L517.2,2167.6 L517.5,2167.4 L517.8,2168.0 L518.0,2167.6 L518.3,2167.4 L518.6,2167.8 L518.9,2167.5 L519.1,2168.4 L519.4,2168.2 L519.7,2168.2 L519.9,2167.6 L520.2,2166.4 L520.5,2167.6 L520.7,2167.8 L521.0,2167.8 L521.3,2167.4 L521.5,2167.5 L521.8,2168.2 L522.1,2167.3 L522.4,2167.8 L522.6,2167.4 L522.9,2168.4 L523.2,2168.4 L523.4,2167.5 L523.7,2168.4 L524.0,2167.6 L524.2,2167.6 L524.5,2167.7 L524.8,2167.6 L525.0,2167.6 L525.3,2167.6 L525.6,2167.9 L525.9,2167.8 L526.1,2166.6 L526.4,2167.3 L526.7,2167.5 L526.9,2167.6 L527.2,2168.0 L527.5,2167.7 L527.7,2167.8 L528.0,2167.4 L528.3,2168.1 L528.5,2168.4 L528.8,2168.0 L529.1,2167.5 L529.3,2166.8 L529.6,2167.3 L529.9,2168.1 L530.2,2167.8 L530.4,2168.1 L530.7,2167.8 L531.0,2168.1 L531.2,2168.4 L531.5,2167.6 L531.8,2167.7 L532.0,2167.8 L532.3,2167.6 L532.6,2166.9 L532.8,2167.7 L533.1,2167.9 L533.4,2167.4 L533.7,2168.4 L533.9,2167.4 L534.2,2168.0 L534.5,2168.1 L534.7,2167.7 L535.0,2167.1 L535.3,2168.0 L535.5,2167.4 L535.8,2167.6 L536.1,2168.3 L536.3,2167.4 L536.6,2168.1 L536.9,2168.3 L537.1,2168.1 L537.4,2168.0 L537.7,2167.5 L538.0,2168.0 L538.2,2167.2 L538.5,2167.7 L538.8,2168.0 L539.0,2168.1 L539.3,2167.7 L539.6,2168.4 L539.8,2168.4 L540.1,2168.1 L540.4,2167.5 L540.6,2167.7 L540.9,2167.7 L541.2,2167.8 L541.5,2168.4 L541.7,2167.9 L542.0,2168.4 L542.3,2167.4 L542.5,2167.7 L542.8,2167.8 L543.1,2167.6 L543.3,2167.6 L543.6,2167.7 L543.9,2167.6 L544.1,2168.0 L544.4,2168.3 L544.7,2167.6 L544.9,2167.2 L545.2,2167.3 L545.5,2167.8 L545.8,2167.5 L546.0,2167.9 L546.3,2167.6 L546.6,2168.0 L546.8,2167.7 L547.1,2167.0 L547.4,2167.4 L547.6,2167.2 L547.9,2168.0 L548.2,2168.0 L548.4,2167.8 L548.7,2167.5 L549.0,2167.8 L549.3,2167.3 L549.5,2168.0 L549.8,2167.2 L550.1,2167.4 L550.3,2168.2 L550.6,2167.5 L550.9,2167.8 L551.1,2167.3 L551.4,2168.0 L551.7,2167.6 L551.9,2167.5 L552.2,2168.4 L552.5,2168.4 L552.8,2167.7 L553.0,2167.8 L553.3,2167.3 L553.6,2167.7 L553.8,2168.2 L554.1,2167.6 L554.4,2168.0 L554.6,2167.8 L554.9,2167.9 L555.2,2167.6 L555.4,2168.3 L555.7,2168.2 L556.0,2168.4 L556.2,2166.9 L556.5,2168.1 L556.8,2168.1 L557.1,2168.2 L557.3,2168.0 L557.6,2167.9 L557.9,2167.5 L558.1,2167.7 L558.4,2167.6 L558.7,2168.0 L558.9,2167.8 L559.2,2167.3 L559.5,2167.8 L559.7,2167.6 L560.0,2168.4 L560.3,2167.5 L560.6,2167.6 L560.8,2167.2 L561.1,2168.4 L561.4,2167.7 L561.6,2167.8 L561.9,2167.7 L562.2,2168.0 L562.4,2167.7 L562.7,2167.5 L563.0,2167.7 L563.2,2167.9 L563.5,2167.8 L563.8,2167.9 L564.0,2167.7 L564.3,2168.0 L564.6,2168.4 L564.9,2167.2 L565.1,2168.4 L565.4,2167.8 L565.7,2168.3 L565.9,2167.9 L566.2,2168.1 L566.5,2167.8 L566.7,2168.1 L567.0,2168.3 L567.3,2167.6 L567.5,2167.2 L567.8,2167.6 L568.1,2167.7 L568.4,2168.2 L568.6,2167.8 L568.9,2167.6 L569.2,2168.0 L569.4,2167.4 L569.7,2167.8 L570.0,2167.6 L570.2,2168.0 L570.5,2168.0 L570.8,2167.7 L571.0,2167.6 L571.3,2167.6 L571.6,2168.2 L571.8,2168.0 L572.1,2167.8 L572.4,2168.4 L572.7,2167.3 L572.9,2167.6 L573.2,2167.7 L573.5,2168.0 L573.7,2167.4 L574.0,2167.9 L574.3,2167.0 L574.5,2167.6 L574.8,2168.4 L575.1,2167.5 L575.3,2168.0 L575.6,2168.0 L575.9,2167.9 L576.2,2167.8 L576.4,2167.7 L576.7,2167.5 L577.0,2167.6 L577.2,2168.0 L577.5,2168.3 L577.8,2168.1 L578.0,2167.6 L578.3,2167.4 L578.6,2167.1 L578.8,2168.3 L579.1,2167.7 L579.4,2167.9 L579.6,2167.9 L579.9,2167.7 L580.2,2167.9 L580.5,2167.9 L580.7,2168.0 L581.0,2167.6 L581.3,2167.3 L581.5,2167.1 L581.8,2168.0 L582.1,2168.2 L582.3,2167.9 L582.6,2168.1 L582.9,2167.4 L583.1,2168.1 L583.4,2167.7 L583.7,2168.3 L584.0,2167.9 L584.2,2167.7 L584.5,2167.2 L584.8,2168.0 L585.0,2167.6 L585.3,2168.4 L585.6,2168.2 L585.8,2168.1 L586.1,2168.0 L586.4,2167.6 L586.6,2167.5 L586.9,2168.4 L587.2,2167.6 L587.5,2168.2 L587.7,2167.0 L588.0,2167.6 L588.3,2167.7 L588.5,2167.8 L588.8,2167.8 L589.1,2167.8 L589.3,2168.0 L589.6,2167.5 L589.9,2167.7 L590.1,2167.5 L590.4,2167.8 L590.7,2167.5 L590.9,2168.1 L591.2,2166.4 L591.5,2168.0 L591.8,2167.9 L592.0,2167.4 L592.3,2167.3 L592.6,2168.1 L592.8,2168.4 L593.1,2168.3 L593.4,2168.2 L593.6,2168.1 L593.9,2167.8 L594.2,2167.4 L594.4,2167.3 L594.7,2168.0 L595.0,2167.6 L595.3,2167.4 L595.5,2167.2 L595.8,2167.8 L596.1,2168.1 L596.3,2167.5 L596.6,2167.2 L596.9,2168.0 L597.1,2167.0 L597.4,2167.1 L597.7,2167.9 L597.9,2168.4 L598.2,2168.0 L598.5,2167.9 L598.7,2167.6 L599.0,2168.4 L599.3,2166.8 L599.6,2166.8 L599.8,2168.1 L600.1,2168.4 L600.4,2167.8 L600.6,2167.6 L600.9,2167.2 L601.2,2167.5 L601.4,2167.8 L601.7,2168.4 L602.0,2167.6 L602.2,2167.4 L602.5,2167.9 L602.8,2167.7 L603.1,2167.7 L603.3,2167.9 L603.6,2168.2 L603.9,2167.6 L604.1,2168.3 L604.4,2167.2 L604.7,2168.1 L604.9,2167.6 L605.2,2168.1 L605.5,2167.6 L605.7,2167.9 L606.0,2167.6 L606.3,2168.1 L606.5,2168.4 L606.8,2167.9 L607.1,2167.9 L607.4,2168.4 L607.6,2168.0 L607.9,2168.4 L608.2,2167.7 L608.4,2167.9 L608.7,2167.8 L609.0,2166.7 L609.2,2167.7 L609.5,2167.6 L609.8,2167.5 L610.0,2167.8 L610.3,2168.0 L610.6,2167.4 L610.9,2167.4 L611.1,2168.4 L611.4,2167.8 L611.7,2167.9 L611.9,2168.0 L612.2,2167.3 L612.5,2168.0 L612.7,2167.4 L613.0,2168.0 L613.3,2167.9 L613.5,2167.5 L613.8,2168.1 L614.1,2167.8 L614.4,2168.2 L614.6,2168.1 L614.9,2167.5 L615.2,2167.5 L615.4,2168.2 L615.7,2168.2 L616.0,2166.8 L616.2,2168.0 L616.5,2168.1 L616.8,2167.6 L617.0,2168.1 L617.3,2167.9 L617.6,2167.4 L617.8,2167.4 L618.1,2167.9 L618.4,2167.2 L618.7,2167.8 L618.9,2167.9 L619.2,2167.8 L619.5,2167.9 L619.7,2167.6 L620.0,2167.7 L620.3,2168.1 L620.5,2167.7 L620.8,2168.0 L621.1,2168.0 L621.3,2167.8 L621.6,2167.4 L621.9,2167.7 L622.2,2167.3 L622.4,2167.2 L622.7,2167.8 L623.0,2168.0 L623.2,2168.1 L623.5,2167.7 L623.8,2167.4 L624.0,2167.2 L624.3,2168.3 L624.6,2167.4 L624.8,2167.4 L625.1,2166.8 L625.4,2167.7 L625.6,2167.8 L625.9,2168.4 L626.2,2168.1 L626.5,2168.2 L626.7,2168.2 L627.0,2168.1 L627.3,2168.4 L627.5,2167.8 L627.8,2167.6 L628.1,2167.5 L628.3,2167.8 L628.6,2167.4 L628.9,2167.3 L629.1,2168.4 L629.4,2167.9 L629.7,2168.3 L630.0,2168.2 L630.2,2167.7 L630.5,2167.8 L630.8,2167.2 L631.0,2167.0 L631.3,2167.6 L631.6,2167.8 L631.8,2167.8 L632.1,2167.8 L632.4,2167.5 L632.6,2168.1 L632.9,2167.5 L633.2,2167.9 L633.4,2167.3 L633.7,2167.2 L634.0,2167.1 L634.3,2167.8 L634.5,2168.3 L634.8,2168.4 L635.1,2167.9 L635.3,2168.3 L635.6,2168.4 L635.9,2167.9 L636.1,2168.2 L636.4,2167.5 L636.7,2167.0 L636.9,2167.9 L637.2,2167.6 L637.5,2168.4 L637.8,2167.7 L638.0,2168.0 L638.3,2168.2 L638.6,2168.4 L638.8,2167.1 L639.1,2168.4 L639.4,2168.2 L639.6,2167.8 L639.9,2167.6 L640.2,2167.6 L640.4,2167.7 L640.7,2168.1 L641.0,2167.5 L641.3,2167.7 L641.5,2168.3 L641.8,2167.1 L642.1,2167.9 L642.3,2167.4 L642.6,2168.3 L642.9,2168.2 L643.1,2168.0 L643.4,2168.0 L643.7,2167.4 L643.9,2168.4 L644.2,2167.7 L644.5,2168.2 L644.7,2167.6 L645.0,2167.7 L645.3,2168.0 L645.6,2166.9 L645.8,2167.8 L646.1,2167.3 L646.4,2168.3 L646.6,2167.8 L646.9,2167.7" stroke="#000096" stroke-width="1.2" fill="none"/>
<text x="288.16" y="2237.50" font-size="24.56" fill="#000" xml:space="preserve">Energy (keV)</text>
<text transform="translate(39.00,2059.83) rotate(-90)" x="0" y="0" font-size="25.15" fill="#000" xml:space="preserve">Counts (a. u.)</text>
<text x="345.91" y="2286.40" font-size="33.98" fill="#000" xml:space="preserve">(g)</text>
<defs><clipPath id="clipH"><rect x="830.2" y="1758.7" width="556.8" height="408.5"/></clipPath></defs>
<g clip-path="url(#clipH)">
<path d="M830.20,2167.20 L830.52,2167.20 L830.85,2167.20 L831.17,2167.20 L831.50,2167.20 L831.82,2167.20 L832.15,2167.20 L832.47,2167.20 L832.80,2167.20 L833.12,2167.20 L833.45,2167.20 L833.77,2167.20 L834.10,2167.20 L834.42,2167.20 L834.75,2167.20 L835.07,2167.20 L835.40,2167.20 L835.72,2167.20 L836.05,2167.20 L836.37,2167.20 L836.70,2167.20 L837.02,2167.20 L837.35,2167.20 L837.67,2167.20 L838.00,2167.20 L838.32,2167.20 L838.64,2167.20 L838.97,2167.20 L839.29,2167.20 L839.62,2167.20 L839.94,2167.20 L840.27,2167.20 L840.59,2167.20 L840.92,2167.20 L841.24,2167.20 L841.57,2167.20 L841.89,2167.20 L842.22,2167.20 L842.54,2167.20 L842.87,2167.20 L843.19,2167.20 L843.52,2166.01 L843.84,2164.82 L844.12,2163.80 L844.17,2163.74 L844.49,2163.34 L844.82,2162.94 L845.05,2162.66 L845.14,2163.05 L845.47,2164.40 L845.79,2165.75 L845.98,2166.52 L846.12,2166.52 L846.44,2166.52 L846.76,2166.52 L846.90,2166.52 L847.09,2166.20 L847.41,2165.65 L847.74,2165.09 L847.83,2164.93 L848.06,2165.50 L848.39,2166.29 L848.71,2167.09 L848.76,2167.20 L849.04,2167.20 L849.36,2167.20 L849.69,2167.20 L850.01,2167.20 L850.34,2167.20 L850.66,2167.20 L850.99,2167.20 L851.31,2167.20 L851.64,2167.20 L851.96,2167.20 L852.29,2167.20 L852.61,2167.20 L852.94,2167.20 L853.26,2167.20 L853.59,2167.20 L853.91,2167.20 L854.24,2167.20 L854.56,2167.20 L854.88,2167.20 L855.21,2167.20 L855.53,2167.20 L855.86,2167.20 L856.18,2167.20 L856.51,2167.20 L856.83,2167.20 L857.16,2167.20 L857.48,2167.20 L857.81,2167.20 L858.13,2167.20 L858.46,2167.20 L858.78,2167.20 L859.11,2167.20 L859.43,2167.20 L859.76,2167.20 L860.08,2167.20 L860.41,2167.20 L860.73,2167.20 L861.06,2167.20 L861.38,2167.20 L861.71,2167.20 L862.03,2167.20 L862.36,2167.20 L862.68,2167.20 L863.00,2167.20 L863.33,2167.20 L863.65,2167.20 L863.98,2167.20 L864.30,2167.20 L864.63,2167.20 L864.95,2167.20 L865.28,2167.20 L865.60,2167.20 L865.93,2167.20 L866.25,2167.20 L866.58,2167.20 L866.90,2167.20 L867.23,2167.20 L867.55,2167.20 L867.88,2167.20 L868.20,2167.20 L868.53,2167.20 L868.85,2167.20 L869.18,2167.20 L869.50,2167.20 L869.83,2167.20 L870.15,2167.20 L870.48,2167.20 L870.80,2167.20 L871.12,2167.20 L871.45,2167.20 L871.73,2167.20 L871.77,2167.20 L872.10,2167.20 L872.42,2167.20 L872.75,1745.00 L872.89,1745.00 L873.07,1745.00 L873.40,1745.00 L873.72,1745.00 L874.05,1745.00 L874.37,1745.00 L874.70,1745.00 L875.02,1745.00 L875.35,1745.00 L875.67,1745.00 L876.00,1745.00 L876.32,1745.00 L876.60,1745.00 L876.65,1745.00 L876.97,1745.00 L877.30,1745.00 L877.62,1745.00 L877.95,1745.00 L878.27,1745.00 L878.60,1745.00 L878.92,1745.00 L879.24,1745.00 L879.57,1745.00 L879.89,1745.00 L880.22,1745.00 L880.54,1745.00 L880.87,1745.00 L881.19,1745.00 L881.52,1745.00 L881.84,1745.00 L882.17,1745.00 L882.49,1745.00 L882.82,1745.00 L883.14,1745.00 L883.47,1745.00 L883.56,1745.00 L883.79,1745.00 L884.12,1745.00 L884.44,1745.00 L884.77,1745.00 L885.09,1745.00 L885.42,1745.00 L885.74,1745.00 L886.07,1745.00 L886.39,1745.00 L886.72,1745.00 L887.04,1745.00 L887.36,1745.00 L887.69,1745.00 L888.01,1745.00 L888.20,1745.00 L888.34,1745.00 L888.66,1745.00 L888.99,1745.00 L889.31,1745.00 L889.64,1745.00 L889.96,1745.00 L890.29,1745.00 L890.61,1745.00 L890.94,1745.00 L891.26,1753.61 L891.45,1767.51 L891.59,1764.40 L891.91,1763.64 L892.24,1763.56 L892.56,1763.59 L892.89,1745.00 L893.21,1745.00 L893.54,1745.00 L893.86,1745.00 L894.19,1745.00 L894.51,1762.11 L894.84,1794.19 L895.16,1775.45 L895.48,1764.98 L895.81,1745.00 L896.13,1784.67 L896.46,1745.00 L896.78,1745.00 L897.11,1779.33 L897.43,1783.48 L897.76,1775.70 L898.08,1797.50 L898.41,1806.97 L898.73,1794.91 L899.06,1770.21 L899.38,1841.15 L899.71,1768.14 L899.80,1745.32 L900.03,1756.08 L900.36,1746.91 L900.68,1826.24 L901.01,1817.24 L901.33,1752.38 L901.66,1783.30 L901.98,1762.59 L902.31,1790.15 L902.63,1781.30 L902.96,1822.47 L903.28,1812.11 L903.60,1777.29 L903.93,1797.08 L904.25,1803.60 L904.58,1783.35 L904.90,1824.95 L905.23,1847.05 L905.55,1828.23 L905.83,1815.46 L905.88,1771.99 L906.20,1833.48 L906.53,1794.21 L906.85,1799.78 L907.18,1794.66 L907.50,1780.81 L907.83,1817.59 L908.15,1793.67 L908.48,1843.84 L908.80,1796.00 L909.13,1814.59 L909.45,1850.62 L909.78,1879.05 L910.10,1830.52 L910.43,1833.25 L910.75,1778.42 L910.94,1778.45 L911.08,1855.23 L911.40,1808.79 L911.72,1835.92 L912.05,1837.27 L912.37,1864.79 L912.70,1841.49 L913.02,1827.14 L913.35,1850.95 L913.67,1821.62 L914.00,1835.05 L914.32,1797.84 L914.65,1820.80 L914.97,1829.05 L915.30,1836.99 L915.62,1850.02 L915.95,1819.81 L916.27,1855.64 L916.60,1826.05 L916.92,1844.94 L917.25,1840.92 L917.57,1799.20 L917.90,1829.17 L918.22,1829.15 L918.36,1856.13 L918.55,1846.67 L918.87,1842.89 L919.20,1864.48 L919.52,1869.61 L919.84,1842.57 L920.17,1818.89 L920.49,1875.47 L920.82,1845.69 L921.14,1864.87 L921.47,1838.39 L921.79,1841.66 L922.12,1878.72 L922.44,1877.27 L922.77,1839.84 L923.09,1846.79 L923.42,1842.95 L923.74,1837.33 L924.07,1836.54 L924.39,1799.97 L924.72,1842.55 L925.04,1850.69 L925.37,1858.98 L925.69,1815.97 L926.02,1828.79 L926.34,1867.02 L926.67,1876.55 L926.99,1877.25 L927.32,1833.01 L927.64,1830.29 L927.96,1849.35 L928.10,1896.82 L928.29,1884.48 L928.61,1845.82 L928.94,1854.93 L929.26,1852.49 L929.59,1858.92 L929.91,1865.62 L930.24,1847.65 L930.56,1858.44 L930.89,1893.06 L931.21,1866.93 L931.54,1847.86 L931.86,1863.33 L932.19,1839.35 L932.51,1816.18 L932.84,1885.47 L933.16,1796.01 L933.49,1865.63 L933.81,1858.40 L934.14,1841.58 L934.46,1886.53 L934.79,1852.93 L935.11,1854.65 L935.44,1867.07 L935.76,1848.59 L936.08,1870.43 L936.41,1854.31 L936.73,1891.18 L937.06,1842.51 L937.38,1834.48 L937.71,1814.96 L938.03,1871.90 L938.36,1841.83 L938.68,1861.82 L939.01,1834.67 L939.33,1890.63 L939.66,1870.26 L939.98,1857.75 L940.31,1819.97 L940.63,1894.15 L940.96,1839.74 L941.28,1857.19 L941.61,1847.93 L941.93,1868.59 L942.26,1890.22 L942.58,1827.60 L942.91,1880.54 L943.23,1853.06 L943.56,1880.10 L943.88,1850.57 L944.20,1829.99 L944.53,1849.52 L944.85,1870.82 L945.18,1859.74 L945.50,1848.82 L945.83,1889.87 L946.15,1844.82 L946.48,1853.94 L946.80,1863.97 L947.13,1844.07 L947.45,1845.26 L947.78,1856.65 L948.10,1861.82 L948.43,1870.47 L948.75,1848.07 L949.08,1821.25 L949.40,1844.51 L949.73,1840.84 L950.05,1886.16 L950.38,1892.27 L950.70,1842.84 L951.03,1870.97 L951.35,1831.68 L951.68,1862.80 L952.00,1861.33 L952.32,1848.45 L952.65,1866.47 L952.97,1909.06 L953.30,1827.94 L953.62,1865.28 L953.95,1848.42 L954.27,1871.86 L954.60,1866.72 L954.92,1861.20 L955.25,1842.82 L955.57,1848.71 L955.90,1893.82 L956.22,1844.50 L956.55,1855.33 L956.87,1860.28 L957.20,1838.00 L957.52,1904.19 L957.85,1853.22 L958.17,1860.20 L958.50,1841.45 L958.82,1848.01 L959.15,1838.14 L959.47,1884.42 L959.80,1837.16 L960.12,1889.28 L960.44,1861.59 L960.77,1868.90 L961.09,1845.69 L961.42,1863.68 L961.74,1849.27 L962.07,1847.25 L962.39,1865.99 L962.72,1839.59 L963.04,1854.49 L963.37,1901.98 L963.69,1882.60 L964.02,1878.44 L964.34,1863.99 L964.67,1871.99 L964.99,1849.61 L965.32,1874.00 L965.64,1841.58 L965.97,1851.09 L966.29,1896.71 L966.62,1863.45 L966.94,1876.24 L967.27,1847.18 L967.59,1826.79 L967.92,1892.76 L968.24,1867.47 L968.56,1809.99 L968.89,1887.85 L969.21,1848.00 L969.40,1905.18 L969.54,1865.39 L969.86,1870.05 L970.19,1890.29 L970.51,1888.24 L970.84,1841.77 L971.16,1864.14 L971.49,1829.57 L971.81,1879.48 L972.14,1870.38 L972.46,1829.40 L972.79,1817.60 L973.11,1842.39 L973.44,1851.18 L973.76,1846.62 L974.09,1862.31 L974.41,1811.10 L974.74,1837.60 L975.06,1877.20 L975.39,1830.34 L975.71,1868.29 L976.04,1859.86 L976.36,1851.19 L976.68,1882.18 L977.01,1848.27 L977.33,1812.38 L977.66,1882.29 L977.98,1897.27 L978.31,1868.00 L978.63,1871.71 L978.96,1834.72 L979.28,1885.89 L979.61,1817.85 L979.93,1886.08 L980.26,1851.86 L980.58,1814.01 L980.91,1829.46 L981.23,1838.88 L981.56,1861.91 L981.88,1854.68 L982.21,1878.63 L982.53,1822.10 L982.86,1871.58 L983.18,1869.61 L983.51,1864.17 L983.83,1865.45 L984.16,1875.32 L984.48,1864.18 L984.80,1868.95 L985.13,1847.50 L985.45,1845.70 L985.78,1865.36 L986.10,1867.00 L986.43,1918.01 L986.75,1861.40 L987.08,1878.72 L987.40,1884.32 L987.73,1839.90 L988.05,1877.54 L988.38,1863.15 L988.70,1826.60 L989.03,1844.02 L989.35,1862.25 L989.68,1871.51 L990.00,1862.81 L990.33,1920.03 L990.65,1844.85 L990.98,1862.25 L991.30,1831.83 L991.63,1843.39 L991.95,1848.70 L992.28,1805.76 L992.60,1852.94 L992.92,1853.36 L993.25,1852.28 L993.57,1805.04 L993.90,1853.66 L994.22,1920.15 L994.55,1862.66 L994.87,1863.22 L995.20,1846.34 L995.52,1862.34 L995.85,1880.45 L996.17,1887.05 L996.50,1865.91 L996.82,1851.98 L997.15,1828.15 L997.47,1827.15 L997.80,1871.71 L998.12,1873.05 L998.45,1861.80 L998.77,1920.37 L999.10,1835.00 L999.42,1889.08 L999.75,1861.56 L1000.07,1891.62 L1000.40,1862.65 L1000.72,1858.15 L1001.04,1881.04 L1001.37,1851.53 L1001.69,1866.40 L1002.02,1845.54 L1002.34,1881.38 L1002.67,1866.61 L1002.99,1858.32 L1003.32,1878.19 L1003.64,1909.09 L1003.97,1850.30 L1004.29,1863.89 L1004.62,1851.56 L1004.94,1886.84 L1005.27,1845.46 L1005.59,1846.37 L1005.92,1862.48 L1006.24,1840.23 L1006.57,1914.49 L1006.89,1885.76 L1007.22,1889.28 L1007.54,1895.12 L1007.87,1877.00 L1008.19,1861.65 L1008.52,1827.95 L1008.84,1860.44 L1009.16,1848.97 L1009.49,1869.39 L1009.81,1822.94 L1010.14,1881.89 L1010.46,1887.43 L1010.79,1858.36 L1011.11,1820.98 L1011.44,1870.97 L1011.76,1868.07 L1012.09,1829.51 L1012.41,1888.84 L1012.74,1884.08 L1013.06,1902.80 L1013.39,1919.20 L1013.71,1890.70 L1014.04,1904.23 L1014.36,1890.21 L1014.69,1831.59 L1015.01,1884.70 L1015.34,1880.39 L1015.66,1836.03 L1015.80,1863.29 L1015.99,1828.70 L1016.31,1844.81 L1016.64,1865.09 L1016.96,1818.66 L1017.28,1847.30 L1017.61,1877.89 L1017.93,1889.55 L1018.26,1810.41 L1018.58,1875.63 L1018.91,1846.76 L1019.23,1851.83 L1019.56,1843.68 L1019.88,1828.23 L1020.21,1920.67 L1020.53,1872.72 L1020.86,1864.69 L1021.18,1828.70 L1021.51,1874.45 L1021.83,1878.33 L1022.16,1846.60 L1022.48,1875.12 L1022.81,1846.00 L1023.13,1827.39 L1023.46,1828.62 L1023.78,1881.48 L1024.11,1907.33 L1024.43,1850.34 L1024.76,1865.95 L1025.08,1821.99 L1025.40,1898.39 L1025.73,1847.56 L1026.05,1877.22 L1026.38,1856.27 L1026.70,1841.21 L1027.03,1853.80 L1027.35,1856.77 L1027.68,1842.03 L1028.00,1859.37 L1028.33,1863.88 L1028.65,1827.45 L1028.98,1910.12 L1029.30,1844.59 L1029.63,1821.93 L1029.95,1850.10 L1030.28,1839.38 L1030.60,1830.78 L1030.93,1826.06 L1031.25,1884.02 L1031.58,1844.98 L1031.90,1806.57 L1032.23,1884.13 L1032.55,1860.22 L1032.88,1872.63 L1033.20,1877.11 L1033.52,1857.90 L1033.85,1873.11 L1034.17,1886.89 L1034.50,1894.20 L1034.82,1834.28 L1035.15,1815.07 L1035.47,1817.25 L1035.80,1881.47 L1036.12,1892.26 L1036.45,1867.03 L1036.77,1843.56 L1037.10,1866.05 L1037.42,1826.20 L1037.75,1837.10 L1038.07,1853.13 L1038.40,1880.68 L1038.72,1868.92 L1039.05,1823.02 L1039.37,1870.90 L1039.70,1867.28 L1040.02,1886.98 L1040.35,1835.95 L1040.67,1862.12 L1041.00,1856.26 L1041.32,1898.80 L1041.64,1871.92 L1041.97,1887.73 L1042.29,1856.23 L1042.62,1822.44 L1042.94,1886.87 L1043.27,1898.04 L1043.59,1857.75 L1043.92,1843.63 L1044.24,1872.16 L1044.57,1869.20 L1044.89,1854.44 L1045.22,1862.58 L1045.54,1852.07 L1045.87,1882.96 L1046.19,1881.50 L1046.52,1860.13 L1046.84,1839.60 L1047.17,1847.22 L1047.49,1864.86 L1047.82,1851.08 L1048.14,1876.51 L1048.47,1863.58 L1048.79,1894.63 L1049.12,1891.32 L1049.44,1917.43 L1049.76,1825.76 L1050.09,1845.52 L1050.41,1843.19 L1050.74,1845.26 L1051.06,1852.38 L1051.39,1856.67 L1051.71,1870.21 L1052.04,1847.41 L1052.36,1859.86 L1052.69,1865.28 L1052.92,1867.51 L1053.01,1877.40 L1053.34,1859.70 L1053.66,1888.65 L1053.99,1881.49 L1054.31,1853.48 L1054.64,1824.62 L1054.96,1856.90 L1055.29,1863.47 L1055.61,1845.88 L1055.94,1836.95 L1056.26,1825.75 L1056.59,1857.01 L1056.91,1830.41 L1057.24,1868.87 L1057.56,1899.19 L1057.88,1822.94 L1058.21,1842.86 L1058.53,1862.80 L1058.86,1856.69 L1059.18,1833.16 L1059.51,1851.78 L1059.83,1897.38 L1060.16,1836.43 L1060.48,1824.43 L1060.81,1827.43 L1061.13,1845.92 L1061.46,1841.18 L1061.78,1871.27 L1062.11,1846.08 L1062.43,1862.22 L1062.76,1874.24 L1063.08,1869.32 L1063.41,1863.52 L1063.59,1855.01 L1063.73,1859.38 L1064.06,1846.16 L1064.38,1885.85 L1064.52,1852.30 L1064.71,1874.06 L1065.03,1899.32 L1065.36,1925.50 L1065.45,1902.68 L1065.68,1934.65 L1066.00,1906.74 L1066.33,1946.86 L1066.65,1931.78 L1066.98,1955.72 L1067.30,1937.33 L1067.30,1972.99 L1067.63,1960.92 L1067.95,1980.01 L1068.28,1962.28 L1068.60,1965.13 L1068.93,1969.36 L1069.16,1995.13 L1069.25,1983.15 L1069.58,1985.44 L1069.90,1976.47 L1070.23,1968.89 L1070.55,1958.22 L1070.88,2016.43 L1071.20,1984.03 L1071.53,1959.44 L1071.85,1972.59 L1072.18,1961.50 L1072.50,2002.07 L1072.83,1979.53 L1073.15,1999.29 L1073.48,1976.22 L1073.80,1994.88 L1074.12,1975.23 L1074.45,1981.33 L1074.77,1985.54 L1075.10,2001.07 L1075.42,1997.11 L1075.75,1997.90 L1076.07,1994.59 L1076.40,1992.05 L1076.72,1981.14 L1077.05,1998.24 L1077.37,1970.45 L1077.70,1984.37 L1078.02,1987.48 L1078.35,1995.54 L1078.67,1980.87 L1079.00,1967.09 L1079.32,1974.62 L1079.65,1977.95 L1079.97,1990.01 L1080.30,2000.94 L1080.62,1992.27 L1080.95,2021.37 L1081.27,1982.87 L1081.60,1963.55 L1081.92,1963.55 L1082.24,2004.12 L1082.57,1972.49 L1082.89,1985.21 L1083.22,1992.81 L1083.54,2011.52 L1083.87,2015.79 L1084.19,1970.38 L1084.52,2002.14 L1084.84,1987.68 L1085.17,1991.12 L1085.40,2006.13 L1085.49,1984.36 L1085.82,1989.69 L1086.14,1968.89 L1086.47,1971.42 L1086.79,1984.43 L1087.12,1967.41 L1087.44,1982.86 L1087.77,1966.54 L1088.09,2014.01 L1088.42,2000.12 L1088.74,2005.16 L1089.07,1985.99 L1089.39,2001.53 L1089.72,1968.82 L1090.04,1981.94 L1090.36,1977.31 L1090.69,1971.20 L1091.01,2001.49 L1091.34,1998.82 L1091.66,1952.01 L1091.99,1953.51 L1092.31,2019.19 L1092.64,2015.08 L1092.96,1998.14 L1093.29,1961.11 L1093.61,2014.24 L1093.94,2007.78 L1094.26,2014.51 L1094.59,1986.98 L1094.91,1979.12 L1095.24,1985.26 L1095.56,1998.66 L1095.89,1981.27 L1096.21,1974.86 L1096.54,2000.22 L1096.86,2008.61 L1097.00,1989.22 L1097.19,2006.05 L1097.51,1962.54 L1097.84,1994.54 L1098.16,1958.46 L1098.48,2015.64 L1098.81,2003.37 L1099.13,2002.84 L1099.46,1993.31 L1099.78,1997.00 L1100.11,1994.78 L1100.43,1981.66 L1100.76,1989.73 L1101.08,1981.39 L1101.41,1999.34 L1101.73,2011.48 L1102.06,2006.72 L1102.38,1999.34 L1102.57,1988.65 L1102.71,2010.85 L1103.03,2026.23 L1103.36,2005.97 L1103.68,2012.88 L1104.01,2020.46 L1104.33,2010.86 L1104.42,2022.99 L1104.66,2032.10 L1104.98,2025.21 L1105.31,2035.45 L1105.63,2035.33 L1105.96,2040.91 L1106.28,2048.22 L1106.60,2042.73 L1106.93,2051.07 L1107.25,2064.05 L1107.58,2055.44 L1107.90,2070.49 L1108.14,2075.86 L1108.23,2079.79 L1108.55,2076.59 L1108.88,2085.78 L1109.06,2094.46 L1109.20,2076.08 L1109.53,2072.44 L1109.85,2072.46 L1110.18,2086.63 L1110.50,2093.22 L1110.83,2063.54 L1111.15,2070.30 L1111.48,2068.81 L1111.80,2081.61 L1111.85,2073.16 L1112.13,2094.74 L1112.45,2065.32 L1112.78,2060.95 L1113.10,2069.39 L1113.43,2053.54 L1113.70,2030.32 L1113.75,2054.96 L1114.08,2019.12 L1114.40,2027.85 L1114.72,2037.32 L1115.05,2022.12 L1115.37,1999.29 L1115.56,2000.91 L1115.70,2010.49 L1116.02,2004.93 L1116.35,1999.37 L1116.49,1996.99 L1116.67,1985.64 L1117.00,1965.79 L1117.32,1945.93 L1117.42,1940.26 L1117.65,1922.10 L1117.97,1896.68 L1118.30,1871.26 L1118.58,1849.48 L1118.62,1845.66 L1118.95,1818.94 L1119.27,1792.23 L1119.60,1765.51 L1119.60,1765.51 L1119.92,1794.52 L1120.25,1823.53 L1120.57,1852.54 L1120.66,1860.83 L1120.90,1888.63 L1121.22,1927.55 L1121.55,1966.47 L1121.59,1972.03 L1121.87,1994.27 L1122.20,2020.22 L1122.52,2046.16 L1122.84,2072.11 L1122.98,2083.23 L1123.17,2091.70 L1123.49,2106.53 L1123.82,2121.36 L1124.14,2136.18 L1124.38,2153.91 L1124.47,2150.01 L1124.79,2152.64 L1125.12,2145.82 L1125.44,2143.33 L1125.77,2143.40 L1126.09,2138.63 L1126.42,2145.66 L1126.74,2142.87 L1127.07,2148.51 L1127.39,2150.33 L1127.72,2143.08 L1128.04,2140.77 L1128.37,2153.66 L1128.69,2152.61 L1129.02,2146.70 L1129.34,2150.31 L1129.67,2142.07 L1129.99,2149.95 L1130.32,2150.20 L1130.64,2157.91 L1130.96,2141.31 L1131.29,2157.35 L1131.61,2149.83 L1131.80,2150.26 L1131.94,2163.89 L1132.26,2156.37 L1132.59,2146.25 L1132.91,2151.90 L1133.24,2152.50 L1133.56,2149.01 L1133.89,2154.47 L1134.21,2141.05 L1134.54,2161.01 L1134.86,2156.77 L1135.19,2143.66 L1135.51,2150.22 L1135.84,2148.32 L1136.16,2150.41 L1136.49,2144.53 L1136.81,2156.83 L1137.14,2145.24 L1137.46,2143.47 L1137.79,2140.47 L1138.11,2155.80 L1138.30,2147.41 L1138.44,2140.11 L1138.76,2149.09 L1139.08,2148.02 L1139.41,2144.34 L1139.73,2142.42 L1140.06,2147.31 L1140.38,2135.55 L1140.71,2139.14 L1141.03,2135.78 L1141.36,2134.05 L1141.68,2130.25 L1142.01,2140.52 L1142.33,2133.19 L1142.47,2149.83 L1142.66,2119.40 L1142.98,2131.46 L1143.31,2120.78 L1143.63,2128.18 L1143.96,2131.22 L1144.28,2120.67 L1144.61,2109.77 L1144.93,2127.69 L1145.26,2138.73 L1145.58,2122.94 L1145.91,2116.67 L1146.23,2118.96 L1146.56,2115.84 L1146.88,2116.75 L1147.20,2132.58 L1147.53,2124.00 L1147.85,2120.59 L1148.18,2113.05 L1148.50,2138.86 L1148.83,2112.56 L1149.15,2120.40 L1149.48,2110.40 L1149.80,2131.93 L1150.13,2135.12 L1150.45,2129.81 L1150.78,2126.71 L1150.82,2118.51 L1151.10,2098.91 L1151.43,2100.26 L1151.75,2110.27 L1152.08,2113.61 L1152.40,2118.25 L1152.68,2117.31 L1152.73,2104.10 L1153.05,2112.52 L1153.38,2106.08 L1153.70,2114.16 L1154.03,2100.82 L1154.35,2095.67 L1154.54,2098.03 L1154.68,2097.30 L1155.00,2087.77 L1155.32,2078.24 L1155.65,2068.71 L1155.97,2059.17 L1156.30,2049.64 L1156.39,2046.92 L1156.62,2033.02 L1156.95,2013.56 L1157.27,1994.10 L1157.60,1974.64 L1157.92,1955.18 L1158.25,1935.72 L1158.57,1928.73 L1158.90,1921.74 L1159.22,1914.75 L1159.41,1910.75 L1159.55,1915.43 L1159.87,1926.36 L1160.20,1937.28 L1160.52,1948.20 L1160.85,1959.12 L1160.89,1960.68 L1161.17,1981.11 L1161.50,2004.93 L1161.82,2028.76 L1161.82,2028.76 L1162.15,2048.26 L1162.47,2067.76 L1162.80,2087.25 L1163.12,2106.75 L1163.35,2120.68 L1163.44,2123.56 L1163.77,2133.66 L1164.09,2143.76 L1164.42,2153.86 L1164.65,2161.07 L1164.74,2167.20 L1165.07,2163.79 L1165.39,2165.69 L1165.72,2166.07 L1166.04,2166.07 L1166.14,2162.56 L1166.37,2166.07 L1166.69,2165.49 L1167.02,2166.07 L1167.34,2166.07 L1167.67,2166.07 L1167.99,2166.07 L1168.32,2164.65 L1168.64,2166.07 L1168.97,2164.76 L1169.29,2166.07 L1169.62,2166.07 L1169.94,2166.07 L1170.27,2166.07 L1170.59,2166.07 L1170.92,2166.07 L1171.24,2166.07 L1171.56,2166.07 L1171.89,2166.07 L1172.21,2166.07 L1172.54,2166.07 L1172.86,2166.07 L1173.19,2166.07 L1173.51,2166.07 L1173.84,2166.07 L1174.16,2166.07 L1174.49,2166.07 L1174.81,2166.07 L1175.14,2166.07 L1175.46,2166.07 L1175.79,2166.07 L1176.11,2166.07 L1176.44,2166.07 L1176.76,2166.07 L1177.09,2166.07 L1177.41,2166.07 L1177.74,2166.07 L1178.06,2166.07 L1178.39,2166.07 L1178.71,2166.07 L1179.04,2166.07 L1179.36,2166.07 L1179.68,2166.07 L1180.01,2166.07 L1180.33,2166.07 L1180.66,2166.07 L1180.98,2166.07 L1181.31,2166.07 L1181.63,2166.07 L1181.96,2166.07 L1182.28,2166.07 L1182.61,2165.40 L1182.93,2166.07 L1183.26,2166.07 L1183.58,2166.07 L1183.91,2166.07 L1184.23,2166.07 L1184.56,2166.07 L1184.88,2166.07 L1185.21,2166.07 L1185.53,2166.07 L1185.86,2166.07 L1186.18,2166.07 L1186.51,2166.07 L1186.83,2166.07 L1187.16,2166.07 L1187.48,2166.07 L1187.80,2166.07 L1188.13,2166.07 L1188.45,2166.07 L1188.78,2166.07 L1189.10,2166.07 L1189.43,2166.06 L1189.75,2166.07 L1190.08,2166.07 L1190.40,2166.07 L1190.73,2166.07 L1191.05,2166.07 L1191.38,2166.07 L1191.70,2166.07 L1192.03,2166.07 L1192.35,2166.07 L1192.68,2166.07 L1193.00,2166.07 L1193.33,2166.07 L1193.65,2166.07 L1193.98,2166.07 L1194.30,2166.07 L1194.63,2166.07 L1194.95,2166.07 L1195.28,2166.07 L1195.60,2166.07 L1195.92,2163.99 L1196.25,2166.07 L1196.57,2165.02 L1196.90,2166.07 L1197.22,2166.07 L1197.55,2166.07 L1197.87,2166.07 L1198.20,2162.16 L1198.52,2164.77 L1198.85,2166.07 L1199.17,2166.07 L1199.50,2166.07 L1199.82,2166.07 L1200.15,2166.07 L1200.47,2166.07 L1200.80,2166.07 L1201.12,2166.07 L1201.45,2166.07 L1201.77,2166.07 L1202.10,2166.07 L1202.42,2166.07 L1202.75,2163.69 L1203.07,2166.07 L1203.40,2166.07 L1203.72,2166.07 L1204.04,2166.07 L1204.37,2166.07 L1204.69,2166.07 L1205.02,2166.07 L1205.34,2166.07 L1205.67,2166.07 L1205.99,2166.07 L1206.32,2166.07 L1206.64,2166.07 L1206.97,2166.07 L1207.29,2166.07 L1207.62,2166.07 L1207.94,2166.07 L1208.27,2166.07 L1208.59,2166.07 L1208.92,2164.52 L1209.24,2163.14 L1209.57,2166.07 L1209.89,2163.62 L1210.22,2166.07 L1210.54,2166.07 L1210.87,2165.20 L1211.19,2166.07 L1211.52,2166.07 L1211.84,2166.07 L1212.16,2166.07 L1212.49,2166.07 L1212.81,2166.07 L1213.14,2162.14 L1213.46,2165.23 L1213.79,2166.07 L1214.11,2166.07 L1214.44,2162.01 L1214.76,2166.07 L1215.09,2166.07 L1215.41,2166.07 L1215.74,2166.07 L1216.06,2166.07 L1216.39,2166.07 L1216.71,2166.07 L1217.04,2166.07 L1217.36,2166.07 L1217.69,2166.07 L1218.01,2166.07 L1218.34,2166.07 L1218.66,2166.07 L1218.99,2166.07 L1219.31,2166.07 L1219.64,2166.07 L1219.96,2166.21 L1220.28,2166.07 L1220.61,2166.07 L1220.93,2166.07 L1221.26,2166.07 L1221.58,2166.07 L1221.91,2163.89 L1222.23,2166.07 L1222.56,2166.07 L1222.88,2166.07 L1223.21,2166.07 L1223.53,2166.07 L1223.86,2166.07 L1224.18,2166.07 L1224.51,2166.07 L1224.83,2166.07 L1225.16,2166.07 L1225.48,2164.54 L1225.81,2166.07 L1226.13,2166.07 L1226.46,2166.46 L1226.78,2166.07 L1227.11,2166.07 L1227.43,2166.07 L1227.76,2166.07 L1228.08,2164.92 L1228.40,2166.07 L1228.73,2166.07 L1229.05,2166.07 L1229.38,2166.07 L1229.70,2166.07 L1230.03,2166.07 L1230.35,2166.07 L1230.68,2166.07 L1231.00,2166.07 L1231.33,2166.07 L1231.65,2166.07 L1231.98,2162.57 L1232.30,2164.34 L1232.63,2166.07 L1232.95,2163.85 L1233.28,2166.07 L1233.60,2166.49 L1233.93,2163.29 L1234.25,2161.92 L1234.58,2166.07 L1234.90,2166.07 L1235.23,2166.07 L1235.55,2166.07 L1235.88,2166.07 L1236.20,2166.07 L1236.52,2166.07 L1236.85,2166.07 L1237.17,2166.07 L1237.50,2166.07 L1237.82,2165.27 L1238.15,2166.07 L1238.47,2166.07 L1238.80,2166.50 L1239.12,2166.07 L1239.45,2166.07 L1239.77,2166.07 L1240.10,2166.07 L1240.42,2166.07 L1240.75,2166.07 L1241.07,2166.07 L1241.40,2166.07 L1241.72,2166.07 L1242.05,2166.16 L1242.37,2166.07 L1242.70,2164.51 L1243.02,2166.07 L1243.35,2166.07 L1243.67,2166.07 L1244.00,2166.07 L1244.32,2164.31 L1244.64,2166.07 L1244.97,2166.07 L1245.29,2166.07 L1245.62,2166.07 L1245.94,2165.12 L1246.27,2166.07 L1246.59,2163.75 L1246.92,2166.07 L1247.24,2166.07 L1247.57,2166.07 L1247.89,2166.07 L1248.22,2166.07 L1248.54,2166.07 L1248.87,2166.07 L1249.19,2165.90 L1249.52,2166.07 L1249.84,2166.07 L1250.17,2166.07 L1250.49,2163.47 L1250.82,2166.07 L1251.14,2166.07 L1251.47,2166.07 L1251.79,2166.07 L1252.12,2166.07 L1252.44,2166.07 L1252.76,2166.07 L1253.09,2166.07 L1253.41,2165.82 L1253.74,2166.07 L1254.06,2166.49 L1254.39,2166.07 L1254.71,2166.07 L1255.04,2166.07 L1255.36,2166.07 L1255.69,2166.07 L1256.01,2166.07 L1256.34,2166.07 L1256.66,2166.07 L1256.99,2166.07 L1257.31,2166.07 L1257.64,2166.07 L1257.96,2166.07 L1258.29,2162.99 L1258.61,2162.42 L1258.94,2166.07 L1259.26,2166.07 L1259.59,2166.07 L1259.91,2166.07 L1260.24,2166.07 L1260.56,2166.07 L1260.88,2166.07 L1261.21,2166.07 L1261.53,2166.07 L1261.86,2166.07 L1262.18,2166.07 L1262.51,2164.56 L1262.83,2166.07 L1263.16,2166.07 L1263.48,2166.07 L1263.81,2166.07 L1264.13,2166.07 L1264.46,2166.07 L1264.78,2166.07 L1265.11,2166.07 L1265.43,2166.07 L1265.76,2166.07 L1266.08,2166.07 L1266.41,2166.07 L1266.73,2166.07 L1267.06,2162.33 L1267.38,2166.07 L1267.71,2166.07 L1268.03,2166.07 L1268.36,2166.07 L1268.68,2166.07 L1269.00,2166.07 L1269.33,2166.07 L1269.65,2166.07 L1269.98,2166.07 L1270.30,2163.86 L1270.63,2166.07 L1270.95,2166.07 L1271.28,2166.07 L1271.60,2166.07 L1271.93,2166.07 L1272.25,2162.06 L1272.58,2166.07 L1272.90,2164.62 L1273.23,2166.07 L1273.55,2166.07 L1273.88,2166.07 L1274.20,2166.07 L1274.53,2161.84 L1274.85,2166.07 L1275.18,2166.07 L1275.50,2166.07 L1275.83,2165.89 L1276.15,2164.63 L1276.48,2166.07 L1276.80,2166.03 L1277.12,2166.07 L1277.45,2166.07 L1277.77,2166.07 L1278.10,2164.16 L1278.42,2161.86 L1278.75,2166.07 L1279.07,2166.07 L1279.40,2166.07 L1279.72,2166.07 L1280.05,2166.07 L1280.37,2166.07 L1280.70,2166.07 L1281.02,2166.07 L1281.35,2166.07 L1281.67,2166.07 L1282.00,2166.07 L1282.32,2166.07 L1282.65,2166.07 L1282.97,2166.07 L1283.30,2166.07 L1283.62,2163.35 L1283.95,2166.07 L1284.27,2166.07 L1284.60,2166.07 L1284.92,2166.07 L1285.24,2163.18 L1285.57,2166.07 L1285.89,2164.49 L1286.22,2166.07 L1286.54,2166.07 L1286.87,2166.07 L1287.19,2166.07 L1287.52,2166.07 L1287.84,2166.07 L1288.17,2166.07 L1288.49,2166.07 L1288.82,2165.36 L1289.14,2166.07 L1289.47,2166.07 L1289.79,2166.07 L1290.12,2166.07 L1290.44,2166.07 L1290.77,2166.07 L1291.09,2166.07 L1291.42,2166.07 L1291.74,2166.07 L1292.07,2166.07 L1292.39,2166.07 L1292.72,2166.07 L1293.04,2166.07 L1293.36,2166.07 L1293.69,2166.07 L1294.01,2166.07 L1294.34,2166.07 L1294.66,2165.55 L1294.99,2166.07 L1295.31,2166.07 L1295.64,2166.07 L1295.96,2166.07 L1296.29,2166.07 L1296.61,2164.29 L1296.94,2166.07 L1297.26,2166.07 L1297.59,2166.07 L1297.91,2166.07 L1298.24,2166.07 L1298.56,2166.07 L1298.89,2166.07 L1299.21,2166.07 L1299.54,2166.07 L1299.86,2166.07 L1300.19,2166.07 L1300.51,2166.07 L1300.84,2166.07 L1301.16,2166.07 L1301.48,2166.07 L1301.81,2166.07 L1302.13,2166.07 L1302.46,2166.07 L1302.78,2166.07 L1303.11,2166.07 L1303.43,2166.07 L1303.76,2166.07 L1304.08,2162.59 L1304.41,2162.51 L1304.73,2166.07 L1305.06,2166.07 L1305.38,2166.07 L1305.71,2166.07 L1306.03,2166.07 L1306.36,2166.07 L1306.68,2166.07 L1307.01,2166.07 L1307.33,2166.07 L1307.66,2166.07 L1307.98,2166.07 L1308.31,2166.07 L1308.63,2166.07 L1308.96,2166.07 L1309.28,2166.07 L1309.60,2166.07 L1309.93,2166.07 L1310.25,2166.07 L1310.58,2166.07 L1310.90,2166.07 L1311.23,2166.07 L1311.55,2166.07 L1311.88,2163.44 L1312.20,2164.04 L1312.53,2166.07 L1312.85,2166.07 L1313.18,2163.87 L1313.50,2166.07 L1313.83,2166.07 L1314.15,2166.07 L1314.48,2166.07 L1314.80,2162.27 L1315.13,2166.07 L1315.45,2166.07 L1315.78,2166.07 L1316.10,2166.07 L1316.43,2166.07 L1316.75,2166.07 L1317.08,2166.07 L1317.40,2166.07 L1317.72,2166.07 L1318.05,2166.07 L1318.37,2166.07 L1318.70,2166.07 L1319.02,2166.07 L1319.35,2166.07 L1319.67,2166.07 L1320.00,2166.07 L1320.32,2163.97 L1320.65,2166.07 L1320.97,2166.07 L1321.30,2166.07 L1321.62,2166.07 L1321.95,2166.07 L1322.27,2166.07 L1322.60,2166.07 L1322.92,2166.07 L1323.25,2166.07 L1323.57,2166.07 L1323.90,2166.07 L1324.22,2166.07 L1324.55,2166.07 L1324.87,2163.14 L1325.20,2166.07 L1325.52,2166.07 L1325.84,2166.07 L1326.17,2166.07 L1326.49,2166.07 L1326.82,2166.07 L1327.14,2166.07 L1327.47,2166.07 L1327.79,2166.07 L1328.12,2166.07 L1328.44,2166.07 L1328.77,2163.44 L1329.09,2166.07 L1329.42,2166.07 L1329.74,2166.07 L1330.07,2166.07 L1330.39,2166.07 L1330.72,2166.07 L1331.04,2164.61 L1331.37,2166.07 L1331.69,2166.07 L1332.02,2166.07 L1332.34,2166.07 L1332.67,2166.07 L1332.99,2166.07 L1333.32,2166.07 L1333.64,2166.07 L1333.96,2166.07 L1334.29,2166.07 L1334.61,2166.07 L1334.94,2166.07 L1335.26,2166.07 L1335.59,2166.07 L1335.91,2166.07 L1336.24,2166.07 L1336.56,2166.07 L1336.89,2166.07 L1337.21,2166.07 L1337.54,2166.07 L1337.86,2163.42 L1338.19,2166.07 L1338.51,2166.07 L1338.84,2166.29 L1339.16,2166.07 L1339.49,2166.07 L1339.81,2166.07 L1340.14,2166.07 L1340.46,2161.88 L1340.79,2166.07 L1341.11,2166.07 L1341.44,2166.07 L1341.76,2165.13 L1342.08,2164.37 L1342.41,2166.07 L1342.73,2166.07 L1343.06,2166.07 L1343.38,2166.07 L1343.71,2166.07 L1344.03,2166.07 L1344.36,2166.07 L1344.68,2166.07 L1345.01,2164.79 L1345.33,2166.07 L1345.66,2166.07 L1345.98,2166.07 L1346.31,2166.07 L1346.63,2166.07 L1346.96,2165.10 L1347.28,2166.07 L1347.61,2166.07 L1347.93,2166.07 L1348.26,2166.07 L1348.58,2166.07 L1348.91,2166.07 L1349.23,2166.07 L1349.56,2166.07 L1349.88,2166.07 L1350.20,2164.03 L1350.53,2166.07 L1350.85,2166.07 L1351.18,2166.07 L1351.50,2166.07 L1351.83,2166.07 L1352.15,2166.07 L1352.48,2166.07 L1352.80,2166.07 L1353.13,2164.47 L1353.45,2166.07 L1353.78,2166.07 L1354.10,2166.07 L1354.43,2166.07 L1354.75,2166.07 L1355.08,2166.07 L1355.40,2165.59 L1355.73,2166.07 L1356.05,2166.07 L1356.38,2163.97 L1356.70,2161.74 L1357.03,2166.07 L1357.35,2166.07 L1357.68,2166.07 L1358.00,2166.07 L1358.32,2163.33 L1358.65,2166.07 L1358.97,2166.07 L1359.30,2165.86 L1359.62,2166.07 L1359.95,2166.07 L1360.27,2166.07 L1360.60,2166.07 L1360.92,2166.07 L1361.25,2166.07 L1361.57,2166.07 L1361.90,2166.07 L1362.22,2166.07 L1362.55,2166.07 L1362.87,2166.07 L1363.20,2166.07 L1363.52,2166.07 L1363.85,2166.07 L1364.17,2166.07 L1364.50,2166.07 L1364.82,2163.94 L1365.15,2166.07 L1365.47,2166.07 L1365.80,2166.07 L1366.12,2166.07 L1366.44,2166.07 L1366.77,2163.01 L1367.09,2162.49 L1367.42,2166.07 L1367.74,2166.07 L1368.07,2166.07 L1368.39,2166.07 L1368.72,2166.07 L1369.04,2166.07 L1369.37,2163.53 L1369.69,2166.12 L1370.02,2166.07 L1370.34,2166.07 L1370.67,2166.07 L1370.99,2165.79 L1371.32,2166.07 L1371.64,2163.20 L1371.97,2166.07 L1372.29,2166.07 L1372.62,2166.07 L1372.94,2166.07 L1373.27,2166.07 L1373.59,2166.07 L1373.92,2166.07 L1374.24,2166.07 L1374.56,2164.63 L1374.89,2166.07 L1375.21,2164.79 L1375.54,2166.07 L1375.86,2166.07 L1376.19,2166.07 L1376.51,2161.56 L1376.84,2166.07 L1377.16,2166.07 L1377.49,2162.97 L1377.81,2166.07 L1378.14,2163.14 L1378.46,2166.07 L1378.79,2166.07 L1379.11,2166.07 L1379.44,2165.68 L1379.76,2166.07 L1380.09,2166.07 L1380.41,2166.42 L1380.74,2166.49 L1381.06,2166.07 L1381.39,2166.07 L1381.71,2166.07 L1382.04,2166.07 L1382.36,2166.07 L1382.68,2166.07 L1383.01,2166.07 L1383.33,2166.07 L1383.66,2166.07 L1383.98,2166.07 L1384.31,2166.07 L1384.63,2166.07 L1384.96,2163.98 L1385.28,2162.02 L1385.61,2166.07 L1385.93,2166.07 L1386.26,2166.07 L1386.58,2166.07 L1386.91,2166.07 L1387.00,2166.07" stroke="#0000ff" stroke-width="1.45" fill="none" stroke-linejoin="round" />
</g>
<text x="1047.81" y="1789.70" font-size="15.79" fill="#000" xml:space="preserve">1.17 MeV</text>
<text x="1324.35" y="1785.80" font-size="23.30" fill="#000" xml:space="preserve">60</text>
<text x="1350.43" y="1796.70" font-size="23.70" fill="#000" xml:space="preserve">Co</text>
<text x="1124.88" y="1812.00" font-size="19.77" fill="#00009c" xml:space="preserve">Resolution:  ~1.1%</text>
<text x="1129.99" y="1901.50" font-size="15.96" fill="#000" xml:space="preserve">1.33 MeV</text>
<text x="1166.27" y="2022.90" font-size="19.88" fill="#00009c" xml:space="preserve">Resolution :  ~1%</text>
<text x="1191.77" y="2152.20" font-size="19.89" fill="#000" xml:space="preserve">Bias voltage: 3000V</text>
<path d="M830.20,2167.20V2178.20 M923.00,2167.20V2178.20 M1015.80,2167.20V2178.20 M1108.60,2167.20V2178.20 M1201.40,2167.20V2178.20 M1294.20,2167.20V2178.20 M1387.00,2167.20V2178.20 M876.60,2167.20V2173.70 M969.40,2167.20V2173.70 M1062.20,2167.20V2173.70 M1155.00,2167.20V2173.70 M1247.80,2167.20V2173.70 M1340.60,2167.20V2173.70 M830.20,2167.20H819.20 M830.20,2053.73H819.20 M830.20,1940.26H819.20 M830.20,1826.78H819.20 M830.20,2110.46H823.70 M830.20,1996.99H823.70 M830.20,1883.52H823.70 M830.20,1770.05H823.70" stroke="#000" stroke-width="3.4" stroke-linecap="round" fill="none"/>
<rect x="830.20" y="1758.70" width="556.80" height="408.50" stroke="#000" stroke-width="3.8" stroke-linejoin="round" fill="none"/>
<text x="824.15" y="2201.20" font-size="21.80" fill="#000" xml:space="preserve">0</text>
<text x="904.88" y="2201.20" font-size="21.80" fill="#000" xml:space="preserve">200</text>
<text x="997.90" y="2201.20" font-size="21.80" fill="#000" xml:space="preserve">400</text>
<text x="1090.46" y="2201.20" font-size="21.80" fill="#000" xml:space="preserve">600</text>
<text x="1183.31" y="2201.20" font-size="21.80" fill="#000" xml:space="preserve">800</text>
<text x="1269.71" y="2201.20" font-size="21.80" fill="#000" xml:space="preserve">1000</text>
<text x="1362.51" y="2201.20" font-size="21.80" fill="#000" xml:space="preserve">1200</text>
<text x="801.17" y="2173.00" font-size="21.80" fill="#000" xml:space="preserve">0</text>
<text x="789.05" y="2059.53" font-size="21.80" fill="#000" xml:space="preserve">50</text>
<text x="776.92" y="1946.06" font-size="21.80" fill="#000" xml:space="preserve">100</text>
<text x="776.92" y="1832.58" font-size="21.80" fill="#000" xml:space="preserve">150</text>
<defs><clipPath id="ov6"><rect x="830.20" y="2165.30" width="556.80" height="3.8"/></clipPath></defs>
<path clip-path="url(#ov6)" d="M830.2,2167.2 L830.5,2167.2 L830.8,2167.2 L831.2,2167.2 L831.5,2167.2 L831.8,2167.2 L832.1,2167.2 L832.5,2167.2 L832.8,2167.2 L833.1,2167.2 L833.4,2167.2 L833.8,2167.2 L834.1,2167.2 L834.4,2167.2 L834.7,2167.2 L835.1,2167.2 L835.4,2167.2 L835.7,2167.2 L836.0,2167.2 L836.4,2167.2 L836.7,2167.2 L837.0,2167.2 L837.3,2167.2 L837.7,2167.2 L838.0,2167.2 L838.3,2167.2 L838.6,2167.2 L839.0,2167.2 L839.3,2167.2 L839.6,2167.2 L839.9,2167.2 L840.3,2167.2 L840.6,2167.2 L840.9,2167.2 L841.2,2167.2 L841.6,2167.2 L841.9,2167.2 L842.2,2167.2 L842.5,2167.2 L842.9,2167.2 L843.2,2167.2 L843.5,2166.0 L843.8,2164.8 L844.1,2163.8M845.5,2164.4 L845.8,2165.7 L846.0,2166.5 L846.1,2166.5 L846.4,2166.5 L846.8,2166.5 L846.9,2166.5 L847.1,2166.2 L847.4,2165.6 L847.7,2165.1 L847.8,2164.9 L848.1,2165.5 L848.4,2166.3 L848.7,2167.1 L848.8,2167.2 L849.0,2167.2 L849.4,2167.2 L849.7,2167.2 L850.0,2167.2 L850.3,2167.2 L850.7,2167.2 L851.0,2167.2 L851.3,2167.2 L851.6,2167.2 L852.0,2167.2 L852.3,2167.2 L852.6,2167.2 L852.9,2167.2 L853.3,2167.2 L853.6,2167.2 L853.9,2167.2 L854.2,2167.2 L854.6,2167.2 L854.9,2167.2 L855.2,2167.2 L855.5,2167.2 L855.9,2167.2 L856.2,2167.2 L856.5,2167.2 L856.8,2167.2 L857.2,2167.2 L857.5,2167.2 L857.8,2167.2 L858.1,2167.2 L858.5,2167.2 L858.8,2167.2 L859.1,2167.2 L859.4,2167.2 L859.8,2167.2 L860.1,2167.2 L860.4,2167.2 L860.7,2167.2 L861.1,2167.2 L861.4,2167.2 L861.7,2167.2 L862.0,2167.2 L862.4,2167.2 L862.7,2167.2 L863.0,2167.2 L863.3,2167.2 L863.7,2167.2 L864.0,2167.2 L864.3,2167.2 L864.6,2167.2 L865.0,2167.2 L865.3,2167.2 L865.6,2167.2 L865.9,2167.2 L866.3,2167.2 L866.6,2167.2 L866.9,2167.2 L867.2,2167.2 L867.6,2167.2 L867.9,2167.2 L868.2,2167.2 L868.5,2167.2 L868.9,2167.2 L869.2,2167.2 L869.5,2167.2 L869.8,2167.2 L870.2,2167.2 L870.5,2167.2 L870.8,2167.2 L871.1,2167.2 L871.4,2167.2 L871.7,2167.2 L871.8,2167.2 L872.1,2167.2 L872.4,2167.2 L872.7,1745.0M1164.7,2161.1 L1164.7,2167.2 L1165.1,2163.8 L1165.4,2165.7 L1165.7,2166.1 L1166.0,2166.1 L1166.1,2162.6 L1166.4,2166.1 L1166.7,2165.5 L1167.0,2166.1 L1167.3,2166.1 L1167.7,2166.1 L1168.0,2166.1 L1168.3,2164.7 L1168.6,2166.1 L1169.0,2164.8 L1169.3,2166.1 L1169.6,2166.1 L1169.9,2166.1 L1170.3,2166.1 L1170.6,2166.1 L1170.9,2166.1 L1171.2,2166.1 L1171.6,2166.1 L1171.9,2166.1 L1172.2,2166.1 L1172.5,2166.1 L1172.9,2166.1 L1173.2,2166.1 L1173.5,2166.1 L1173.8,2166.1 L1174.2,2166.1 L1174.5,2166.1 L1174.8,2166.1 L1175.1,2166.1 L1175.5,2166.1 L1175.8,2166.1 L1176.1,2166.1 L1176.4,2166.1 L1176.8,2166.1 L1177.1,2166.1 L1177.4,2166.1 L1177.7,2166.1 L1178.1,2166.1 L1178.4,2166.1 L1178.7,2166.1 L1179.0,2166.1 L1179.4,2166.1 L1179.7,2166.1 L1180.0,2166.1 L1180.3,2166.1 L1180.7,2166.1 L1181.0,2166.1 L1181.3,2166.1 L1181.6,2166.1 L1182.0,2166.1 L1182.3,2166.1 L1182.6,2165.4 L1182.9,2166.1 L1183.3,2166.1 L1183.6,2166.1 L1183.9,2166.1 L1184.2,2166.1 L1184.6,2166.1 L1184.9,2166.1 L1185.2,2166.1 L1185.5,2166.1 L1185.9,2166.1 L1186.2,2166.1 L1186.5,2166.1 L1186.8,2166.1 L1187.2,2166.1 L1187.5,2166.1 L1187.8,2166.1 L1188.1,2166.1 L1188.5,2166.1 L1188.8,2166.1 L1189.1,2166.1 L1189.4,2166.1 L1189.8,2166.1 L1190.1,2166.1 L1190.4,2166.1 L1190.7,2166.1 L1191.1,2166.1 L1191.4,2166.1 L1191.7,2166.1 L1192.0,2166.1 L1192.4,2166.1 L1192.7,2166.1 L1193.0,2166.1 L1193.3,2166.1 L1193.7,2166.1 L1194.0,2166.1 L1194.3,2166.1 L1194.6,2166.1 L1195.0,2166.1 L1195.3,2166.1 L1195.6,2166.1 L1195.9,2164.0 L1196.2,2166.1 L1196.6,2165.0 L1196.9,2166.1 L1197.2,2166.1 L1197.5,2166.1 L1197.9,2166.1 L1198.2,2162.2 L1198.5,2164.8 L1198.8,2166.1 L1199.2,2166.1 L1199.5,2166.1 L1199.8,2166.1 L1200.1,2166.1 L1200.5,2166.1 L1200.8,2166.1 L1201.1,2166.1 L1201.4,2166.1 L1201.8,2166.1 L1202.1,2166.1 L1202.4,2166.1 L1202.7,2163.7 L1203.1,2166.1 L1203.4,2166.1 L1203.7,2166.1 L1204.0,2166.1 L1204.4,2166.1 L1204.7,2166.1 L1205.0,2166.1 L1205.3,2166.1 L1205.7,2166.1 L1206.0,2166.1 L1206.3,2166.1 L1206.6,2166.1 L1207.0,2166.1 L1207.3,2166.1 L1207.6,2166.1 L1207.9,2166.1 L1208.3,2166.1 L1208.6,2166.1 L1208.9,2164.5M1209.2,2163.1 L1209.6,2166.1 L1209.9,2163.6 L1210.2,2166.1 L1210.5,2166.1 L1210.9,2165.2 L1211.2,2166.1 L1211.5,2166.1 L1211.8,2166.1 L1212.2,2166.1 L1212.5,2166.1 L1212.8,2166.1 L1213.1,2162.1 L1213.5,2165.2 L1213.8,2166.1 L1214.1,2166.1 L1214.4,2162.0 L1214.8,2166.1 L1215.1,2166.1 L1215.4,2166.1 L1215.7,2166.1 L1216.1,2166.1 L1216.4,2166.1 L1216.7,2166.1 L1217.0,2166.1 L1217.4,2166.1 L1217.7,2166.1 L1218.0,2166.1 L1218.3,2166.1 L1218.7,2166.1 L1219.0,2166.1 L1219.3,2166.1 L1219.6,2166.1 L1220.0,2166.2 L1220.3,2166.1 L1220.6,2166.1 L1220.9,2166.1 L1221.3,2166.1 L1221.6,2166.1 L1221.9,2163.9 L1222.2,2166.1 L1222.6,2166.1 L1222.9,2166.1 L1223.2,2166.1 L1223.5,2166.1 L1223.9,2166.1 L1224.2,2166.1 L1224.5,2166.1 L1224.8,2166.1 L1225.2,2166.1 L1225.5,2164.5 L1225.8,2166.1 L1226.1,2166.1 L1226.5,2166.5 L1226.8,2166.1 L1227.1,2166.1 L1227.4,2166.1 L1227.8,2166.1 L1228.1,2164.9 L1228.4,2166.1 L1228.7,2166.1 L1229.1,2166.1 L1229.4,2166.1 L1229.7,2166.1 L1230.0,2166.1 L1230.4,2166.1 L1230.7,2166.1 L1231.0,2166.1 L1231.3,2166.1 L1231.7,2166.1 L1232.0,2162.6M1232.3,2164.3 L1232.6,2166.1 L1233.0,2163.8 L1233.3,2166.1 L1233.6,2166.5 L1233.9,2163.3M1234.3,2161.9 L1234.6,2166.1 L1234.9,2166.1 L1235.2,2166.1 L1235.6,2166.1 L1235.9,2166.1 L1236.2,2166.1 L1236.5,2166.1 L1236.8,2166.1 L1237.2,2166.1 L1237.5,2166.1 L1237.8,2165.3 L1238.1,2166.1 L1238.5,2166.1 L1238.8,2166.5 L1239.1,2166.1 L1239.4,2166.1 L1239.8,2166.1 L1240.1,2166.1 L1240.4,2166.1 L1240.7,2166.1 L1241.1,2166.1 L1241.4,2166.1 L1241.7,2166.1 L1242.0,2166.2 L1242.4,2166.1 L1242.7,2164.5 L1243.0,2166.1 L1243.3,2166.1 L1243.7,2166.1 L1244.0,2166.1 L1244.3,2164.3 L1244.6,2166.1 L1245.0,2166.1 L1245.3,2166.1 L1245.6,2166.1 L1245.9,2165.1 L1246.3,2166.1 L1246.6,2163.7 L1246.9,2166.1 L1247.2,2166.1 L1247.6,2166.1 L1247.9,2166.1 L1248.2,2166.1 L1248.5,2166.1 L1248.9,2166.1 L1249.2,2165.9 L1249.5,2166.1 L1249.8,2166.1 L1250.2,2166.1 L1250.5,2163.5 L1250.8,2166.1 L1251.1,2166.1 L1251.5,2166.1 L1251.8,2166.1 L1252.1,2166.1 L1252.4,2166.1 L1252.8,2166.1 L1253.1,2166.1 L1253.4,2165.8 L1253.7,2166.1 L1254.1,2166.5 L1254.4,2166.1 L1254.7,2166.1 L1255.0,2166.1 L1255.4,2166.1 L1255.7,2166.1 L1256.0,2166.1 L1256.3,2166.1 L1256.7,2166.1 L1257.0,2166.1 L1257.3,2166.1 L1257.6,2166.1 L1258.0,2166.1 L1258.3,2163.0M1258.6,2162.4 L1258.9,2166.1 L1259.3,2166.1 L1259.6,2166.1 L1259.9,2166.1 L1260.2,2166.1 L1260.6,2166.1 L1260.9,2166.1 L1261.2,2166.1 L1261.5,2166.1 L1261.9,2166.1 L1262.2,2166.1 L1262.5,2164.6 L1262.8,2166.1 L1263.2,2166.1 L1263.5,2166.1 L1263.8,2166.1 L1264.1,2166.1 L1264.5,2166.1 L1264.8,2166.1 L1265.1,2166.1 L1265.4,2166.1 L1265.8,2166.1 L1266.1,2166.1 L1266.4,2166.1 L1266.7,2166.1 L1267.1,2162.3 L1267.4,2166.1 L1267.7,2166.1 L1268.0,2166.1 L1268.4,2166.1 L1268.7,2166.1 L1269.0,2166.1 L1269.3,2166.1 L1269.7,2166.1 L1270.0,2166.1 L1270.3,2163.9 L1270.6,2166.1 L1271.0,2166.1 L1271.3,2166.1 L1271.6,2166.1 L1271.9,2166.1 L1272.3,2162.1 L1272.6,2166.1 L1272.9,2164.6 L1273.2,2166.1 L1273.6,2166.1 L1273.9,2166.1 L1274.2,2166.1 L1274.5,2161.8 L1274.9,2166.1 L1275.2,2166.1 L1275.5,2166.1 L1275.8,2165.9 L1276.2,2164.6 L1276.5,2166.1 L1276.8,2166.0 L1277.1,2166.1 L1277.4,2166.1 L1277.8,2166.1 L1278.1,2164.2M1278.4,2161.9 L1278.7,2166.1 L1279.1,2166.1 L1279.4,2166.1 L1279.7,2166.1 L1280.0,2166.1 L1280.4,2166.1 L1280.7,2166.1 L1281.0,2166.1 L1281.3,2166.1 L1281.7,2166.1 L1282.0,2166.1 L1282.3,2166.1 L1282.6,2166.1 L1283.0,2166.1 L1283.3,2166.1 L1283.6,2163.4 L1283.9,2166.1 L1284.3,2166.1 L1284.6,2166.1 L1284.9,2166.1 L1285.2,2163.2 L1285.6,2166.1 L1285.9,2164.5 L1286.2,2166.1 L1286.5,2166.1 L1286.9,2166.1 L1287.2,2166.1 L1287.5,2166.1 L1287.8,2166.1 L1288.2,2166.1 L1288.5,2166.1 L1288.8,2165.4 L1289.1,2166.1 L1289.5,2166.1 L1289.8,2166.1 L1290.1,2166.1 L1290.4,2166.1 L1290.8,2166.1 L1291.1,2166.1 L1291.4,2166.1 L1291.7,2166.1 L1292.1,2166.1 L1292.4,2166.1 L1292.7,2166.1 L1293.0,2166.1 L1293.4,2166.1 L1293.7,2166.1 L1294.0,2166.1 L1294.3,2166.1 L1294.7,2165.6 L1295.0,2166.1 L1295.3,2166.1 L1295.6,2166.1 L1296.0,2166.1 L1296.3,2166.1 L1296.6,2164.3 L1296.9,2166.1 L1297.3,2166.1 L1297.6,2166.1 L1297.9,2166.1 L1298.2,2166.1 L1298.6,2166.1 L1298.9,2166.1 L1299.2,2166.1 L1299.5,2166.1 L1299.9,2166.1 L1300.2,2166.1 L1300.5,2166.1 L1300.8,2166.1 L1301.2,2166.1 L1301.5,2166.1 L1301.8,2166.1 L1302.1,2166.1 L1302.5,2166.1 L1302.8,2166.1 L1303.1,2166.1 L1303.4,2166.1 L1303.8,2166.1 L1304.1,2162.6M1304.4,2162.5 L1304.7,2166.1 L1305.1,2166.1 L1305.4,2166.1 L1305.7,2166.1 L1306.0,2166.1 L1306.4,2166.1 L1306.7,2166.1 L1307.0,2166.1 L1307.3,2166.1 L1307.7,2166.1 L1308.0,2166.1 L1308.3,2166.1 L1308.6,2166.1 L1309.0,2166.1 L1309.3,2166.1 L1309.6,2166.1 L1309.9,2166.1 L1310.3,2166.1 L1310.6,2166.1 L1310.9,2166.1 L1311.2,2166.1 L1311.6,2166.1 L1311.9,2163.4M1312.2,2164.0 L1312.5,2166.1 L1312.9,2166.1 L1313.2,2163.9 L1313.5,2166.1 L1313.8,2166.1 L1314.2,2166.1 L1314.5,2166.1 L1314.8,2162.3 L1315.1,2166.1 L1315.5,2166.1 L1315.8,2166.1 L1316.1,2166.1 L1316.4,2166.1 L1316.8,2166.1 L1317.1,2166.1 L1317.4,2166.1 L1317.7,2166.1 L1318.0,2166.1 L1318.4,2166.1 L1318.7,2166.1 L1319.0,2166.1 L1319.3,2166.1 L1319.7,2166.1 L1320.0,2166.1 L1320.3,2164.0 L1320.6,2166.1 L1321.0,2166.1 L1321.3,2166.1 L1321.6,2166.1 L1321.9,2166.1 L1322.3,2166.1 L1322.6,2166.1 L1322.9,2166.1 L1323.2,2166.1 L1323.6,2166.1 L1323.9,2166.1 L1324.2,2166.1 L1324.5,2166.1 L1324.9,2163.1 L1325.2,2166.1 L1325.5,2166.1 L1325.8,2166.1 L1326.2,2166.1 L1326.5,2166.1 L1326.8,2166.1 L1327.1,2166.1 L1327.5,2166.1 L1327.8,2166.1 L1328.1,2166.1 L1328.4,2166.1 L1328.8,2163.4 L1329.1,2166.1 L1329.4,2166.1 L1329.7,2166.1 L1330.1,2166.1 L1330.4,2166.1 L1330.7,2166.1 L1331.0,2164.6 L1331.4,2166.1 L1331.7,2166.1 L1332.0,2166.1 L1332.3,2166.1 L1332.7,2166.1 L1333.0,2166.1 L1333.3,2166.1 L1333.6,2166.1 L1334.0,2166.1 L1334.3,2166.1 L1334.6,2166.1 L1334.9,2166.1 L1335.3,2166.1 L1335.6,2166.1 L1335.9,2166.1 L1336.2,2166.1 L1336.6,2166.1 L1336.9,2166.1 L1337.2,2166.1 L1337.5,2166.1 L1337.9,2163.4 L1338.2,2166.1 L1338.5,2166.1 L1338.8,2166.3 L1339.2,2166.1 L1339.5,2166.1 L1339.8,2166.1 L1340.1,2166.1 L1340.5,2161.9 L1340.8,2166.1 L1341.1,2166.1 L1341.4,2166.1 L1341.8,2165.1 L1342.1,2164.4 L1342.4,2166.1 L1342.7,2166.1 L1343.1,2166.1 L1343.4,2166.1 L1343.7,2166.1 L1344.0,2166.1 L1344.4,2166.1 L1344.7,2166.1 L1345.0,2164.8 L1345.3,2166.1 L1345.7,2166.1 L1346.0,2166.1 L1346.3,2166.1 L1346.6,2166.1 L1347.0,2165.1 L1347.3,2166.1 L1347.6,2166.1 L1347.9,2166.1 L1348.3,2166.1 L1348.6,2166.1 L1348.9,2166.1 L1349.2,2166.1 L1349.6,2166.1 L1349.9,2166.1 L1350.2,2164.0 L1350.5,2166.1 L1350.9,2166.1 L1351.2,2166.1 L1351.5,2166.1 L1351.8,2166.1 L1352.2,2166.1 L1352.5,2166.1 L1352.8,2166.1 L1353.1,2164.5 L1353.5,2166.1 L1353.8,2166.1 L1354.1,2166.1 L1354.4,2166.1 L1354.8,2166.1 L1355.1,2166.1 L1355.4,2165.6 L1355.7,2166.1 L1356.1,2166.1 L1356.4,2164.0M1356.7,2161.7 L1357.0,2166.1 L1357.4,2166.1 L1357.7,2166.1 L1358.0,2166.1 L1358.3,2163.3 L1358.6,2166.1 L1359.0,2166.1 L1359.3,2165.9 L1359.6,2166.1 L1359.9,2166.1 L1360.3,2166.1 L1360.6,2166.1 L1360.9,2166.1 L1361.2,2166.1 L1361.6,2166.1 L1361.9,2166.1 L1362.2,2166.1 L1362.5,2166.1 L1362.9,2166.1 L1363.2,2166.1 L1363.5,2166.1 L1363.8,2166.1 L1364.2,2166.1 L1364.5,2166.1 L1364.8,2163.9 L1365.1,2166.1 L1365.5,2166.1 L1365.8,2166.1 L1366.1,2166.1 L1366.4,2166.1 L1366.8,2163.0M1367.1,2162.5 L1367.4,2166.1 L1367.7,2166.1 L1368.1,2166.1 L1368.4,2166.1 L1368.7,2166.1 L1369.0,2166.1 L1369.4,2163.5 L1369.7,2166.1 L1370.0,2166.1 L1370.3,2166.1 L1370.7,2166.1 L1371.0,2165.8 L1371.3,2166.1 L1371.6,2163.2 L1372.0,2166.1 L1372.3,2166.1 L1372.6,2166.1 L1372.9,2166.1 L1373.3,2166.1 L1373.6,2166.1 L1373.9,2166.1 L1374.2,2166.1 L1374.6,2164.6 L1374.9,2166.1 L1375.2,2164.8 L1375.5,2166.1 L1375.9,2166.1 L1376.2,2166.1 L1376.5,2161.6 L1376.8,2166.1 L1377.2,2166.1 L1377.5,2163.0 L1377.8,2166.1 L1378.1,2163.1 L1378.5,2166.1 L1378.8,2166.1 L1379.1,2166.1 L1379.4,2165.7 L1379.8,2166.1 L1380.1,2166.1 L1380.4,2166.4 L1380.7,2166.5 L1381.1,2166.1 L1381.4,2166.1 L1381.7,2166.1 L1382.0,2166.1 L1382.4,2166.1 L1382.7,2166.1 L1383.0,2166.1 L1383.3,2166.1 L1383.7,2166.1 L1384.0,2166.1 L1384.3,2166.1 L1384.6,2166.1 L1385.0,2164.0M1385.3,2162.0 L1385.6,2166.1 L1385.9,2166.1 L1386.3,2166.1 L1386.6,2166.1 L1386.9,2166.1 L1387.0,2166.1" stroke="#000096" stroke-width="1.2" fill="none"/>
<text x="971.26" y="2244.60" font-size="25.36" fill="#000" xml:space="preserve">Channel number (a. u.)</text>
<text transform="translate(757.40,2062.37) rotate(-90)" x="0" y="0" font-size="26.00" fill="#000" xml:space="preserve">Counts (a. u.)</text>
<text x="1104.57" y="2286.40" font-size="32.79" fill="#000" xml:space="preserve">(h)</text>
</svg>
</body></html>
